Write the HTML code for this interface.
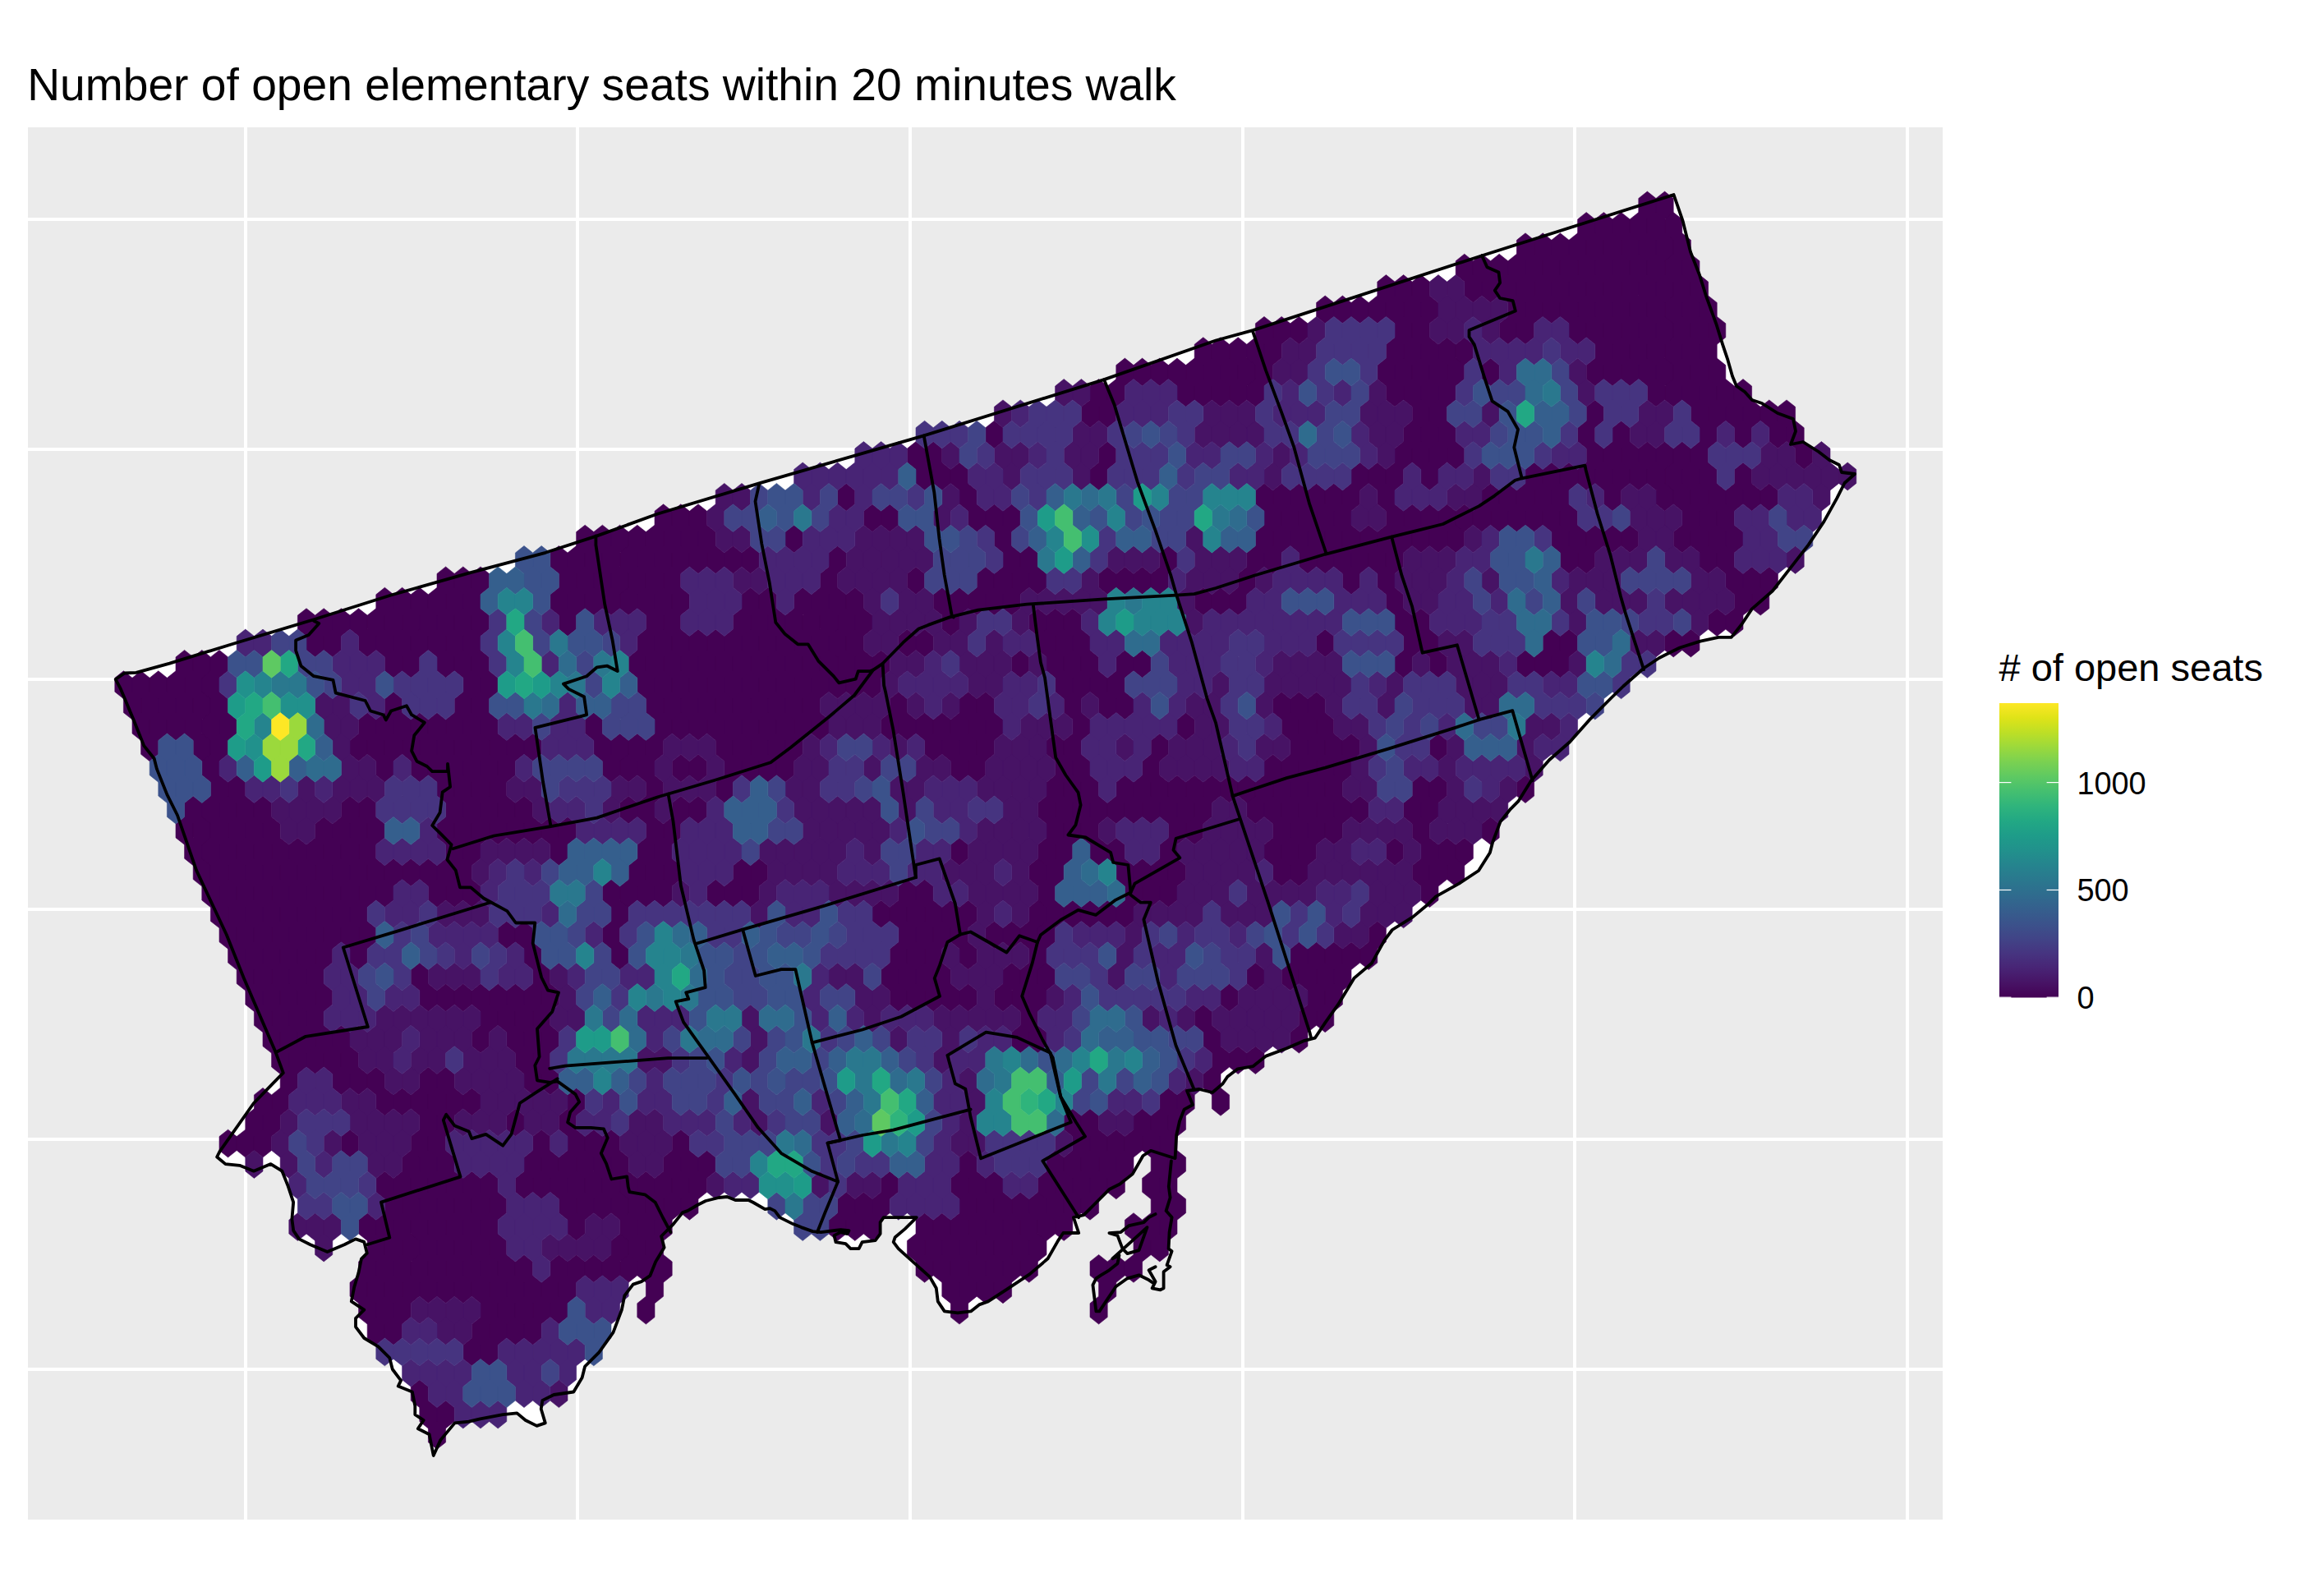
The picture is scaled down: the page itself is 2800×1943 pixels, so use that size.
<!DOCTYPE html>
<html><head><meta charset="utf-8"><title>Number of open elementary seats within 20 minutes walk</title>
<style>html,body{margin:0;padding:0;background:#fff;}svg{display:block;}text{font-family:"Liberation Sans",Arial,sans-serif;}</style>
</head><body>
<svg width="2800" height="1943" viewBox="0 0 2800 1943" xmlns="http://www.w3.org/2000/svg">
<defs><linearGradient id="vg" x1="0" y1="1" x2="0" y2="0"><stop offset="0.00" stop-color="#440154"/><stop offset="0.05" stop-color="#471365"/><stop offset="0.10" stop-color="#482475"/><stop offset="0.15" stop-color="#463480"/><stop offset="0.20" stop-color="#414487"/><stop offset="0.25" stop-color="#3b528b"/><stop offset="0.30" stop-color="#355f8d"/><stop offset="0.35" stop-color="#2f6c8e"/><stop offset="0.40" stop-color="#2a788e"/><stop offset="0.45" stop-color="#25848e"/><stop offset="0.50" stop-color="#21918c"/><stop offset="0.55" stop-color="#1e9c89"/><stop offset="0.60" stop-color="#22a884"/><stop offset="0.65" stop-color="#2fb47c"/><stop offset="0.70" stop-color="#44bf70"/><stop offset="0.75" stop-color="#5ec962"/><stop offset="0.80" stop-color="#7ad151"/><stop offset="0.85" stop-color="#9bd93c"/><stop offset="0.90" stop-color="#bddf26"/><stop offset="0.95" stop-color="#dfe318"/><stop offset="1.00" stop-color="#fde725"/></linearGradient>
<clipPath id="pc"><rect x="34" y="155" width="2331" height="1695"/></clipPath></defs>
<rect width="2800" height="1943" fill="#fff"/>
<text x="33.2" y="122" font-size="55.2" fill="#000">Number of open elementary seats within 20 minutes walk</text>
<rect x="34" y="155" width="2331" height="1695" fill="#ebebeb"/>
<rect x="297" y="155" width="4" height="1695" fill="#fff"/><rect x="701" y="155" width="4" height="1695" fill="#fff"/><rect x="1106" y="155" width="4" height="1695" fill="#fff"/><rect x="1511" y="155" width="4" height="1695" fill="#fff"/><rect x="1915" y="155" width="4" height="1695" fill="#fff"/><rect x="2320" y="155" width="4" height="1695" fill="#fff"/><rect x="34" y="265" width="2331" height="4" fill="#fff"/><rect x="34" y="545" width="2331" height="4" fill="#fff"/><rect x="34" y="825" width="2331" height="4" fill="#fff"/><rect x="34" y="1105" width="2331" height="4" fill="#fff"/><rect x="34" y="1385" width="2331" height="4" fill="#fff"/><rect x="34" y="1665" width="2331" height="4" fill="#fff"/>
<g clip-path="url(#pc)"><polygon fill="#fff" points="140.7,827.0 151.7,819.5 165.8,818.9 206.5,807.6 288.0,782.5 382.0,754.3 476.1,724.5 570.1,697.9 664.1,672.8 726.8,652.4 800.1,625.8 924.2,588.4 1124.7,530.4 1344.1,462.1 1480.1,414.5 1525.2,402.1 1804.1,311.2 2037.6,237.0 2048.6,268.9 2058.0,306.6 2069.0,334.8 2076.8,359.8 2089.3,394.3 2097.1,419.4 2103.4,438.2 2109.0,458.0 2114.0,470.0 2124.0,477.0 2133.0,487.0 2145.0,491.0 2164.0,503.0 2183.0,510.0 2186.0,525.0 2180.0,541.0 2195.0,538.0 2214.0,550.0 2227.0,560.0 2239.0,566.0 2242.0,575.0 2258.0,577.0 2245.6,588.0 2236.2,606.7 2220.5,634.9 2201.7,663.1 2179.7,691.3 2157.8,719.5 2132.7,741.4 2120.2,760.2 2107.7,775.9 2092.0,775.9 2070.0,780.6 2045.0,788.5 2019.9,801.0 2001.1,813.5 1976.1,835.5 1961.2,850.0 1936.2,875.1 1911.1,903.3 1886.0,925.2 1864.1,950.3 1848.4,975.4 1839.0,984.8 1826.5,1000.4 1817.1,1025.5 1813.9,1038.0 1800.0,1060.0 1776.3,1075.6 1748.1,1091.3 1738.7,1100.7 1719.9,1116.4 1694.9,1132.0 1685.5,1144.6 1669.8,1172.8 1648.4,1190.9 1629.0,1222.9 1613.4,1244.9 1600.8,1263.7 1588.3,1266.8 1566.4,1276.2 1541.3,1285.6 1525.6,1298.1 1506.8,1301.3 1494.3,1310.7 1488.6,1319.3 1476.0,1330.0 1460.0,1326.0 1445.0,1328.0 1452.0,1345.0 1441.6,1350.6 1436.0,1365.0 1432.2,1382.0 1430.6,1410.2 1400.9,1400.8 1391.5,1407.0 1379.0,1428.9 1363.3,1441.5 1350.8,1447.7 1332.0,1466.5 1319.4,1479.1 1306.9,1482.2 1313.2,1501.0 1294.4,1501.0 1288.1,1510.4 1275.6,1532.3 1253.6,1551.1 1225.4,1569.9 1203.0,1584.4 1192.0,1588.4 1181.9,1596.4 1165.9,1598.4 1149.8,1596.4 1141.8,1584.4 1139.8,1568.3 1131.8,1554.3 1113.7,1538.2 1093.7,1520.2 1087.7,1512.2 1089.7,1506.2 1101.7,1496.1 1115.8,1482.1 1085.7,1482.1 1075.7,1482.1 1071.6,1488.1 1071.6,1502.1 1065.6,1510.2 1049.6,1512.2 1045.6,1520.2 1035.5,1520.2 1029.5,1514.2 1017.5,1512.2 1015.5,1504.1 1023.5,1500.1 1031.5,1502.1 1033.5,1498.1 1023.5,1497.1 999.5,1500.1 989.4,1499.1 975.4,1494.1 965.4,1490.1 949.3,1482.1 943.3,1474.1 937.3,1471.1 931.3,1472.1 917.2,1464.0 911.2,1461.0 895.2,1461.0 885.2,1457.0 875.1,1458.0 859.1,1462.0 849.1,1467.0 837.0,1474.1 831.0,1476.1 818.9,1491.2 805.1,1505.0 808.6,1518.8 798.2,1536.0 791.3,1553.2 781.0,1560.1 770.7,1563.6 760.3,1577.4 756.9,1594.6 746.5,1622.2 729.3,1646.3 712.1,1663.5 708.6,1677.3 698.3,1694.5 674.2,1698.0 660.4,1704.9 658.7,1715.2 663.8,1732.4 653.5,1735.9 639.7,1729.0 629.4,1720.4 612.2,1722.1 584.6,1727.3 570.8,1730.7 553.6,1732.4 536.3,1753.1 527.7,1772.0 522.6,1746.2 508.8,1739.3 515.7,1729.0 505.3,1722.1 505.3,1711.7 501.9,1694.5 484.7,1687.6 488.1,1680.7 477.8,1667.0 474.3,1653.2 460.5,1639.4 443.3,1629.0 433.0,1615.3 433.0,1604.9 443.3,1594.6 427.8,1584.3 431.2,1567.0 436.4,1549.8 439.9,1532.6 446.8,1525.7 443.3,1511.9 433.0,1508.4 419.2,1515.3 398.5,1524.0 377.8,1515.3 364.1,1508.4 357.2,1498.1 355.4,1484.3 357.2,1463.6 350.3,1443.0 343.4,1425.7 329.6,1417.1 308.9,1425.7 291.7,1418.8 274.5,1417.1 264.1,1408.5 267.6,1401.6 308.9,1343.0 344.8,1306.1 335.7,1281.3 320.0,1244.8 296.5,1190.0 275.7,1137.8 239.1,1059.6 216.0,992.5 203.4,967.4 190.9,936.1 187.7,923.5 175.2,907.9 162.7,876.5 147.0,838.9"/><path fill="#440154" stroke="#440154" stroke-width="0.6" d="M2005.4 233.1 2016.0 241.5 2016.0 258.5 2005.4 266.9 1994.8 258.5 1994.8 241.5ZM2026.6 233.1 2037.2 241.5 2037.2 258.5 2026.6 266.9 2016.0 258.5 2016.0 241.5ZM1931.2 258.5 1941.8 266.9 1941.8 283.8 1931.2 292.3 1920.6 283.8 1920.6 266.9ZM1952.4 258.5 1963.0 266.9 1963.0 283.8 1952.4 292.3 1941.8 283.8 1941.8 266.9ZM1973.6 258.5 1984.2 266.9 1984.2 283.8 1973.6 292.3 1963.0 283.8 1963.0 266.9ZM1994.8 258.5 2005.4 266.9 2005.4 283.8 1994.8 292.3 1984.2 283.8 1984.2 266.9ZM2016.0 258.5 2026.6 266.9 2026.6 283.8 2016.0 292.3 2005.4 283.8 2005.4 266.9ZM2037.2 258.5 2047.8 266.9 2047.8 283.8 2037.2 292.3 2026.6 283.8 2026.6 266.9ZM1920.6 283.8 1931.2 292.3 1931.2 309.2 1920.6 317.7 1910.0 309.2 1910.0 292.3ZM1941.8 283.8 1952.4 292.3 1952.4 309.2 1941.8 317.7 1931.2 309.2 1931.2 292.3ZM1963.0 283.8 1973.6 292.3 1973.6 309.2 1963.0 317.7 1952.4 309.2 1952.4 292.3ZM1984.2 283.8 1994.8 292.3 1994.8 309.2 1984.2 317.7 1973.6 309.2 1973.6 292.3ZM2005.4 283.8 2016.0 292.3 2016.0 309.2 2005.4 317.7 1994.8 309.2 1994.8 292.3ZM2026.6 283.8 2037.2 292.3 2037.2 309.2 2026.6 317.7 2016.0 309.2 2016.0 292.3ZM2047.8 283.8 2058.4 292.3 2058.4 309.2 2047.8 317.7 2037.2 309.2 2037.2 292.3ZM1931.2 309.2 1941.8 317.7 1941.8 334.6 1931.2 343.1 1920.6 334.6 1920.6 317.7ZM1952.4 309.2 1963.0 317.7 1963.0 334.6 1952.4 343.1 1941.8 334.6 1941.8 317.7ZM1973.6 309.2 1984.2 317.7 1984.2 334.6 1973.6 343.1 1963.0 334.6 1963.0 317.7ZM1994.8 309.2 2005.4 317.7 2005.4 334.6 1994.8 343.1 1984.2 334.6 1984.2 317.7ZM2016.0 309.2 2026.6 317.7 2026.6 334.6 2016.0 343.1 2005.4 334.6 2005.4 317.7ZM2037.2 309.2 2047.8 317.7 2047.8 334.6 2037.2 343.1 2026.6 334.6 2026.6 317.7ZM2058.4 309.2 2069.0 317.7 2069.0 334.6 2058.4 343.1 2047.8 334.6 2047.8 317.7ZM1920.6 334.6 1931.2 343.1 1931.2 360.0 1920.6 368.4 1910.0 360.0 1910.0 343.1ZM1941.8 334.6 1952.4 343.1 1952.4 360.0 1941.8 368.4 1931.2 360.0 1931.2 343.1ZM1963.0 334.6 1973.6 343.1 1973.6 360.0 1963.0 368.4 1952.4 360.0 1952.4 343.1ZM1984.2 334.6 1994.8 343.1 1994.8 360.0 1984.2 368.4 1973.6 360.0 1973.6 343.1ZM2005.4 334.6 2016.0 343.1 2016.0 360.0 2005.4 368.4 1994.8 360.0 1994.8 343.1ZM2026.6 334.6 2037.2 343.1 2037.2 360.0 2026.6 368.4 2016.0 360.0 2016.0 343.1ZM2047.8 334.6 2058.4 343.1 2058.4 360.0 2047.8 368.4 2037.2 360.0 2037.2 343.1ZM2069.0 334.6 2079.6 343.1 2079.6 360.0 2069.0 368.4 2058.4 360.0 2058.4 343.1ZM1931.2 360.0 1941.8 368.4 1941.8 385.4 1931.2 393.8 1920.6 385.4 1920.6 368.4ZM1952.4 360.0 1963.0 368.4 1963.0 385.4 1952.4 393.8 1941.8 385.4 1941.8 368.4ZM1973.6 360.0 1984.2 368.4 1984.2 385.4 1973.6 393.8 1963.0 385.4 1963.0 368.4ZM1994.8 360.0 2005.4 368.4 2005.4 385.4 1994.8 393.8 1984.2 385.4 1984.2 368.4ZM2016.0 360.0 2026.6 368.4 2026.6 385.4 2016.0 393.8 2005.4 385.4 2005.4 368.4ZM2037.2 360.0 2047.8 368.4 2047.8 385.4 2037.2 393.8 2026.6 385.4 2026.6 368.4ZM2058.4 360.0 2069.0 368.4 2069.0 385.4 2058.4 393.8 2047.8 385.4 2047.8 368.4ZM2079.6 360.0 2090.2 368.4 2090.2 385.4 2079.6 393.8 2069.0 385.4 2069.0 368.4ZM1920.6 385.4 1931.2 393.8 1931.2 410.7 1920.6 419.2 1910.0 410.7 1910.0 393.8ZM1941.8 385.4 1952.4 393.8 1952.4 410.7 1941.8 419.2 1931.2 410.7 1931.2 393.8ZM1963.0 385.4 1973.6 393.8 1973.6 410.7 1963.0 419.2 1952.4 410.7 1952.4 393.8ZM1984.2 385.4 1994.8 393.8 1994.8 410.7 1984.2 419.2 1973.6 410.7 1973.6 393.8ZM2005.4 385.4 2016.0 393.8 2016.0 410.7 2005.4 419.2 1994.8 410.7 1994.8 393.8ZM2026.6 385.4 2037.2 393.8 2037.2 410.7 2026.6 419.2 2016.0 410.7 2016.0 393.8ZM2047.8 385.4 2058.4 393.8 2058.4 410.7 2047.8 419.2 2037.2 410.7 2037.2 393.8ZM2069.0 385.4 2079.6 393.8 2079.6 410.7 2069.0 419.2 2058.4 410.7 2058.4 393.8ZM2090.2 385.4 2100.8 393.8 2100.8 410.7 2090.2 419.2 2079.6 410.7 2079.6 393.8ZM1952.4 410.7 1963.0 419.2 1963.0 436.1 1952.4 444.6 1941.8 436.1 1941.8 419.2ZM1973.6 410.7 1984.2 419.2 1984.2 436.1 1973.6 444.6 1963.0 436.1 1963.0 419.2ZM1994.8 410.7 2005.4 419.2 2005.4 436.1 1994.8 444.6 1984.2 436.1 1984.2 419.2ZM2016.0 410.7 2026.6 419.2 2026.6 436.1 2016.0 444.6 2005.4 436.1 2005.4 419.2ZM2037.2 410.7 2047.8 419.2 2047.8 436.1 2037.2 444.6 2026.6 436.1 2026.6 419.2ZM2058.4 410.7 2069.0 419.2 2069.0 436.1 2058.4 444.6 2047.8 436.1 2047.8 419.2ZM2079.6 410.7 2090.2 419.2 2090.2 436.1 2079.6 444.6 2069.0 436.1 2069.0 419.2ZM1941.8 436.1 1952.4 444.6 1952.4 461.5 1941.8 470.0 1931.2 461.5 1931.2 444.6ZM1963.0 436.1 1973.6 444.6 1973.6 461.5 1963.0 470.0 1952.4 461.5 1952.4 444.6ZM1984.2 436.1 1994.8 444.6 1994.8 461.5 1984.2 470.0 1973.6 461.5 1973.6 444.6ZM2005.4 436.1 2016.0 444.6 2016.0 461.5 2005.4 470.0 1994.8 461.5 1994.8 444.6ZM2026.6 436.1 2037.2 444.6 2037.2 461.5 2026.6 470.0 2016.0 461.5 2016.0 444.6ZM2047.8 436.1 2058.4 444.6 2058.4 461.5 2047.8 470.0 2037.2 461.5 2037.2 444.6ZM2069.0 436.1 2079.6 444.6 2079.6 461.5 2069.0 470.0 2058.4 461.5 2058.4 444.6ZM2090.2 436.1 2100.8 444.6 2100.8 461.5 2090.2 470.0 2079.6 461.5 2079.6 444.6ZM2016.0 461.5 2026.6 470.0 2026.6 486.9 2016.0 495.3 2005.4 486.9 2005.4 470.0ZM2037.2 461.5 2047.8 470.0 2047.8 486.9 2037.2 495.3 2026.6 486.9 2026.6 470.0ZM2058.4 461.5 2069.0 470.0 2069.0 486.9 2058.4 495.3 2047.8 486.9 2047.8 470.0ZM2079.6 461.5 2090.2 470.0 2090.2 486.9 2079.6 495.3 2069.0 486.9 2069.0 470.0ZM2100.8 461.5 2111.4 470.0 2111.4 486.9 2100.8 495.3 2090.2 486.9 2090.2 470.0ZM2122.0 461.5 2132.6 470.0 2132.6 486.9 2122.0 495.3 2111.4 486.9 2111.4 470.0ZM1941.8 486.9 1952.4 495.3 1952.4 512.3 1941.8 520.7 1931.2 512.3 1931.2 495.3ZM2069.0 486.9 2079.6 495.3 2079.6 512.3 2069.0 520.7 2058.4 512.3 2058.4 495.3ZM2090.2 486.9 2100.8 495.3 2100.8 512.3 2090.2 520.7 2079.6 512.3 2079.6 495.3ZM2111.4 486.9 2122.0 495.3 2122.0 512.3 2111.4 520.7 2100.8 512.3 2100.8 495.3ZM2132.6 486.9 2143.2 495.3 2143.2 512.3 2132.6 520.7 2122.0 512.3 2122.0 495.3ZM2153.8 486.9 2164.4 495.3 2164.4 512.3 2153.8 520.7 2143.2 512.3 2143.2 495.3ZM2175.0 486.9 2185.6 495.3 2185.6 512.3 2175.0 520.7 2164.4 512.3 2164.4 495.3ZM1931.2 512.3 1941.8 520.7 1941.8 537.6 1931.2 546.1 1920.6 537.6 1920.6 520.7ZM1973.6 512.3 1984.2 520.7 1984.2 537.6 1973.6 546.1 1963.0 537.6 1963.0 520.7ZM2079.6 512.3 2090.2 520.7 2090.2 537.6 2079.6 546.1 2069.0 537.6 2069.0 520.7ZM2122.0 512.3 2132.6 520.7 2132.6 537.6 2122.0 546.1 2111.4 537.6 2111.4 520.7ZM2164.4 512.3 2175.0 520.7 2175.0 537.6 2164.4 546.1 2153.8 537.6 2153.8 520.7ZM2185.6 512.3 2196.2 520.7 2196.2 537.6 2185.6 546.1 2175.0 537.6 2175.0 520.7ZM1857.0 283.8 1867.6 292.3 1867.6 309.2 1857.0 317.7 1846.4 309.2 1846.4 292.3ZM1878.2 283.8 1888.8 292.3 1888.8 309.2 1878.2 317.7 1867.6 309.2 1867.6 292.3ZM1899.4 283.8 1910.0 292.3 1910.0 309.2 1899.4 317.7 1888.8 309.2 1888.8 292.3ZM1782.8 309.2 1793.4 317.7 1793.4 334.6 1782.8 343.1 1772.2 334.6 1772.2 317.7ZM1804.0 309.2 1814.6 317.7 1814.6 334.6 1804.0 343.1 1793.4 334.6 1793.4 317.7ZM1825.2 309.2 1835.8 317.7 1835.8 334.6 1825.2 343.1 1814.6 334.6 1814.6 317.7ZM1846.4 309.2 1857.0 317.7 1857.0 334.6 1846.4 343.1 1835.8 334.6 1835.8 317.7ZM1867.6 309.2 1878.2 317.7 1878.2 334.6 1867.6 343.1 1857.0 334.6 1857.0 317.7ZM1888.8 309.2 1899.4 317.7 1899.4 334.6 1888.8 343.1 1878.2 334.6 1878.2 317.7ZM1910.0 309.2 1920.6 317.7 1920.6 334.6 1910.0 343.1 1899.4 334.6 1899.4 317.7ZM1687.4 334.6 1698.0 343.1 1698.0 360.0 1687.4 368.4 1676.8 360.0 1676.8 343.1ZM1708.6 334.6 1719.2 343.1 1719.2 360.0 1708.6 368.4 1698.0 360.0 1698.0 343.1ZM1729.8 334.6 1740.4 343.1 1740.4 360.0 1729.8 368.4 1719.2 360.0 1719.2 343.1ZM1793.4 334.6 1804.0 343.1 1804.0 360.0 1793.4 368.4 1782.8 360.0 1782.8 343.1ZM1814.6 334.6 1825.2 343.1 1825.2 360.0 1814.6 368.4 1804.0 360.0 1804.0 343.1ZM1835.8 334.6 1846.4 343.1 1846.4 360.0 1835.8 368.4 1825.2 360.0 1825.2 343.1ZM1857.0 334.6 1867.6 343.1 1867.6 360.0 1857.0 368.4 1846.4 360.0 1846.4 343.1ZM1878.2 334.6 1888.8 343.1 1888.8 360.0 1878.2 368.4 1867.6 360.0 1867.6 343.1ZM1899.4 334.6 1910.0 343.1 1910.0 360.0 1899.4 368.4 1888.8 360.0 1888.8 343.1ZM1613.2 360.0 1623.8 368.4 1623.8 385.4 1613.2 393.8 1602.6 385.4 1602.6 368.4ZM1634.4 360.0 1645.0 368.4 1645.0 385.4 1634.4 393.8 1623.8 385.4 1623.8 368.4ZM1655.6 360.0 1666.2 368.4 1666.2 385.4 1655.6 393.8 1645.0 385.4 1645.0 368.4ZM1676.8 360.0 1687.4 368.4 1687.4 385.4 1676.8 393.8 1666.2 385.4 1666.2 368.4ZM1698.0 360.0 1708.6 368.4 1708.6 385.4 1698.0 393.8 1687.4 385.4 1687.4 368.4ZM1719.2 360.0 1729.8 368.4 1729.8 385.4 1719.2 393.8 1708.6 385.4 1708.6 368.4ZM1740.4 360.0 1751.0 368.4 1751.0 385.4 1740.4 393.8 1729.8 385.4 1729.8 368.4ZM1846.4 360.0 1857.0 368.4 1857.0 385.4 1846.4 393.8 1835.8 385.4 1835.8 368.4ZM1867.6 360.0 1878.2 368.4 1878.2 385.4 1867.6 393.8 1857.0 385.4 1857.0 368.4ZM1888.8 360.0 1899.4 368.4 1899.4 385.4 1888.8 393.8 1878.2 385.4 1878.2 368.4ZM1910.0 360.0 1920.6 368.4 1920.6 385.4 1910.0 393.8 1899.4 385.4 1899.4 368.4ZM1560.2 385.4 1570.8 393.8 1570.8 410.7 1560.2 419.2 1549.6 410.7 1549.6 393.8ZM1581.4 385.4 1592.0 393.8 1592.0 410.7 1581.4 419.2 1570.8 410.7 1570.8 393.8ZM1708.6 385.4 1719.2 393.8 1719.2 410.7 1708.6 419.2 1698.0 410.7 1698.0 393.8ZM1729.8 385.4 1740.4 393.8 1740.4 410.7 1729.8 419.2 1719.2 410.7 1719.2 393.8ZM1835.8 385.4 1846.4 393.8 1846.4 410.7 1835.8 419.2 1825.2 410.7 1825.2 393.8ZM1857.0 385.4 1867.6 393.8 1867.6 410.7 1857.0 419.2 1846.4 410.7 1846.4 393.8ZM1549.6 410.7 1560.2 419.2 1560.2 436.1 1549.6 444.6 1539.0 436.1 1539.0 419.2ZM1698.0 410.7 1708.6 419.2 1708.6 436.1 1698.0 444.6 1687.4 436.1 1687.4 419.2ZM1719.2 410.7 1729.8 419.2 1729.8 436.1 1719.2 444.6 1708.6 436.1 1708.6 419.2ZM1740.4 410.7 1751.0 419.2 1751.0 436.1 1740.4 444.6 1729.8 436.1 1729.8 419.2ZM1761.6 410.7 1772.2 419.2 1772.2 436.1 1761.6 444.6 1751.0 436.1 1751.0 419.2ZM1782.8 410.7 1793.4 419.2 1793.4 436.1 1782.8 444.6 1772.2 436.1 1772.2 419.2ZM1687.4 436.1 1698.0 444.6 1698.0 461.5 1687.4 470.0 1676.8 461.5 1676.8 444.6ZM1708.6 436.1 1719.2 444.6 1719.2 461.5 1708.6 470.0 1698.0 461.5 1698.0 444.6ZM1729.8 436.1 1740.4 444.6 1740.4 461.5 1729.8 470.0 1719.2 461.5 1719.2 444.6ZM1751.0 436.1 1761.6 444.6 1761.6 461.5 1751.0 470.0 1740.4 461.5 1740.4 444.6ZM1772.2 436.1 1782.8 444.6 1782.8 461.5 1772.2 470.0 1761.6 461.5 1761.6 444.6ZM1814.6 436.1 1825.2 444.6 1825.2 461.5 1814.6 470.0 1804.0 461.5 1804.0 444.6ZM1698.0 461.5 1708.6 470.0 1708.6 486.9 1698.0 495.3 1687.4 486.9 1687.4 470.0ZM1719.2 461.5 1729.8 470.0 1729.8 486.9 1719.2 495.3 1708.6 486.9 1708.6 470.0ZM1740.4 461.5 1751.0 470.0 1751.0 486.9 1740.4 495.3 1729.8 486.9 1729.8 470.0ZM1761.6 461.5 1772.2 470.0 1772.2 486.9 1761.6 495.3 1751.0 486.9 1751.0 470.0ZM1729.8 486.9 1740.4 495.3 1740.4 512.3 1729.8 520.7 1719.2 512.3 1719.2 495.3ZM1751.0 486.9 1761.6 495.3 1761.6 512.3 1751.0 520.7 1740.4 512.3 1740.4 495.3ZM1719.2 512.3 1729.8 520.7 1729.8 537.6 1719.2 546.1 1708.6 537.6 1708.6 520.7ZM1740.4 512.3 1751.0 520.7 1751.0 537.6 1740.4 546.1 1729.8 537.6 1729.8 520.7ZM1761.6 512.3 1772.2 520.7 1772.2 537.6 1761.6 546.1 1751.0 537.6 1751.0 520.7ZM1539.0 385.4 1549.6 393.8 1549.6 410.7 1539.0 419.2 1528.4 410.7 1528.4 393.8ZM1464.8 410.7 1475.4 419.2 1475.4 436.1 1464.8 444.6 1454.2 436.1 1454.2 419.2ZM1486.0 410.7 1496.6 419.2 1496.6 436.1 1486.0 444.6 1475.4 436.1 1475.4 419.2ZM1507.2 410.7 1517.8 419.2 1517.8 436.1 1507.2 444.6 1496.6 436.1 1496.6 419.2ZM1528.4 410.7 1539.0 419.2 1539.0 436.1 1528.4 444.6 1517.8 436.1 1517.8 419.2ZM1369.4 436.1 1380.0 444.6 1380.0 461.5 1369.4 470.0 1358.8 461.5 1358.8 444.6ZM1390.6 436.1 1401.2 444.6 1401.2 461.5 1390.6 470.0 1380.0 461.5 1380.0 444.6ZM1411.8 436.1 1422.4 444.6 1422.4 461.5 1411.8 470.0 1401.2 461.5 1401.2 444.6ZM1433.0 436.1 1443.6 444.6 1443.6 461.5 1433.0 470.0 1422.4 461.5 1422.4 444.6ZM1454.2 436.1 1464.8 444.6 1464.8 461.5 1454.2 470.0 1443.6 461.5 1443.6 444.6ZM1475.4 436.1 1486.0 444.6 1486.0 461.5 1475.4 470.0 1464.8 461.5 1464.8 444.6ZM1496.6 436.1 1507.2 444.6 1507.2 461.5 1496.6 470.0 1486.0 461.5 1486.0 444.6ZM1517.8 436.1 1528.4 444.6 1528.4 461.5 1517.8 470.0 1507.2 461.5 1507.2 444.6ZM1539.0 436.1 1549.6 444.6 1549.6 461.5 1539.0 470.0 1528.4 461.5 1528.4 444.6ZM1337.6 461.5 1348.2 470.0 1348.2 486.9 1337.6 495.3 1327.0 486.9 1327.0 470.0ZM1358.8 461.5 1369.4 470.0 1369.4 486.9 1358.8 495.3 1348.2 486.9 1348.2 470.0ZM1443.6 461.5 1454.2 470.0 1454.2 486.9 1443.6 495.3 1433.0 486.9 1433.0 470.0ZM1464.8 461.5 1475.4 470.0 1475.4 486.9 1464.8 495.3 1454.2 486.9 1454.2 470.0ZM1486.0 461.5 1496.6 470.0 1496.6 486.9 1486.0 495.3 1475.4 486.9 1475.4 470.0ZM1507.2 461.5 1517.8 470.0 1517.8 486.9 1507.2 495.3 1496.6 486.9 1496.6 470.0ZM1528.4 461.5 1539.0 470.0 1539.0 486.9 1528.4 495.3 1517.8 486.9 1517.8 470.0ZM1327.0 486.9 1337.6 495.3 1337.6 512.3 1327.0 520.7 1316.4 512.3 1316.4 495.3ZM1348.2 486.9 1358.8 495.3 1358.8 512.3 1348.2 520.7 1337.6 512.3 1337.6 495.3ZM1210.4 512.3 1221.0 520.7 1221.0 537.6 1210.4 546.1 1199.8 537.6 1199.8 520.7ZM1941.8 537.6 1952.4 546.1 1952.4 563.0 1941.8 571.5 1931.2 563.0 1931.2 546.1ZM1963.0 537.6 1973.6 546.1 1973.6 563.0 1963.0 571.5 1952.4 563.0 1952.4 546.1ZM1984.2 537.6 1994.8 546.1 1994.8 563.0 1984.2 571.5 1973.6 563.0 1973.6 546.1ZM2005.4 537.6 2016.0 546.1 2016.0 563.0 2005.4 571.5 1994.8 563.0 1994.8 546.1ZM2026.6 537.6 2037.2 546.1 2037.2 563.0 2026.6 571.5 2016.0 563.0 2016.0 546.1ZM2047.8 537.6 2058.4 546.1 2058.4 563.0 2047.8 571.5 2037.2 563.0 2037.2 546.1ZM2069.0 537.6 2079.6 546.1 2079.6 563.0 2069.0 571.5 2058.4 563.0 2058.4 546.1ZM2196.2 537.6 2206.8 546.1 2206.8 563.0 2196.2 571.5 2185.6 563.0 2185.6 546.1ZM1910.0 563.0 1920.6 571.5 1920.6 588.4 1910.0 596.9 1899.4 588.4 1899.4 571.5ZM1931.2 563.0 1941.8 571.5 1941.8 588.4 1931.2 596.9 1920.6 588.4 1920.6 571.5ZM1952.4 563.0 1963.0 571.5 1963.0 588.4 1952.4 596.9 1941.8 588.4 1941.8 571.5ZM1973.6 563.0 1984.2 571.5 1984.2 588.4 1973.6 596.9 1963.0 588.4 1963.0 571.5ZM1994.8 563.0 2005.4 571.5 2005.4 588.4 1994.8 596.9 1984.2 588.4 1984.2 571.5ZM2016.0 563.0 2026.6 571.5 2026.6 588.4 2016.0 596.9 2005.4 588.4 2005.4 571.5ZM2037.2 563.0 2047.8 571.5 2047.8 588.4 2037.2 596.9 2026.6 588.4 2026.6 571.5ZM2058.4 563.0 2069.0 571.5 2069.0 588.4 2058.4 596.9 2047.8 588.4 2047.8 571.5ZM2079.6 563.0 2090.2 571.5 2090.2 588.4 2079.6 596.9 2069.0 588.4 2069.0 571.5ZM2122.0 563.0 2132.6 571.5 2132.6 588.4 2122.0 596.9 2111.4 588.4 2111.4 571.5ZM1963.0 588.4 1973.6 596.9 1973.6 613.8 1963.0 622.2 1952.4 613.8 1952.4 596.9ZM2026.6 588.4 2037.2 596.9 2037.2 613.8 2026.6 622.2 2016.0 613.8 2016.0 596.9ZM2047.8 588.4 2058.4 596.9 2058.4 613.8 2047.8 622.2 2037.2 613.8 2037.2 596.9ZM2069.0 588.4 2079.6 596.9 2079.6 613.8 2069.0 622.2 2058.4 613.8 2058.4 596.9ZM2090.2 588.4 2100.8 596.9 2100.8 613.8 2090.2 622.2 2079.6 613.8 2079.6 596.9ZM2111.4 588.4 2122.0 596.9 2122.0 613.8 2111.4 622.2 2100.8 613.8 2100.8 596.9ZM2132.6 588.4 2143.2 596.9 2143.2 613.8 2132.6 622.2 2122.0 613.8 2122.0 596.9ZM2153.8 588.4 2164.4 596.9 2164.4 613.8 2153.8 622.2 2143.2 613.8 2143.2 596.9ZM1910.0 613.8 1920.6 622.2 1920.6 639.2 1910.0 647.6 1899.4 639.2 1899.4 622.2ZM2058.4 613.8 2069.0 622.2 2069.0 639.2 2058.4 647.6 2047.8 639.2 2047.8 622.2ZM2079.6 613.8 2090.2 622.2 2090.2 639.2 2079.6 647.6 2069.0 639.2 2069.0 622.2ZM2100.8 613.8 2111.4 622.2 2111.4 639.2 2100.8 647.6 2090.2 639.2 2090.2 622.2ZM1920.6 639.2 1931.2 647.6 1931.2 664.5 1920.6 673.0 1910.0 664.5 1910.0 647.6ZM1941.8 639.2 1952.4 647.6 1952.4 664.5 1941.8 673.0 1931.2 664.5 1931.2 647.6ZM1963.0 639.2 1973.6 647.6 1973.6 664.5 1963.0 673.0 1952.4 664.5 1952.4 647.6ZM1984.2 639.2 1994.8 647.6 1994.8 664.5 1984.2 673.0 1973.6 664.5 1973.6 647.6ZM2047.8 639.2 2058.4 647.6 2058.4 664.5 2047.8 673.0 2037.2 664.5 2037.2 647.6ZM2069.0 639.2 2079.6 647.6 2079.6 664.5 2069.0 673.0 2058.4 664.5 2058.4 647.6ZM2090.2 639.2 2100.8 647.6 2100.8 664.5 2090.2 673.0 2079.6 664.5 2079.6 647.6ZM2111.4 639.2 2122.0 647.6 2122.0 664.5 2111.4 673.0 2100.8 664.5 2100.8 647.6ZM1910.0 664.5 1920.6 673.0 1920.6 689.9 1910.0 698.4 1899.4 689.9 1899.4 673.0ZM1931.2 664.5 1941.8 673.0 1941.8 689.9 1931.2 698.4 1920.6 689.9 1920.6 673.0ZM2079.6 664.5 2090.2 673.0 2090.2 689.9 2079.6 698.4 2069.0 689.9 2069.0 673.0ZM2100.8 664.5 2111.4 673.0 2111.4 689.9 2100.8 698.4 2090.2 689.9 2090.2 673.0ZM2111.4 689.9 2122.0 698.4 2122.0 715.3 2111.4 723.8 2100.8 715.3 2100.8 698.4ZM2132.6 689.9 2143.2 698.4 2143.2 715.3 2132.6 723.8 2122.0 715.3 2122.0 698.4ZM2153.8 689.9 2164.4 698.4 2164.4 715.3 2153.8 723.8 2143.2 715.3 2143.2 698.4ZM2122.0 715.3 2132.6 723.8 2132.6 740.7 2122.0 749.1 2111.4 740.7 2111.4 723.8ZM2143.2 715.3 2153.8 723.8 2153.8 740.7 2143.2 749.1 2132.6 740.7 2132.6 723.8ZM2090.2 740.7 2100.8 749.1 2100.8 766.1 2090.2 774.5 2079.6 766.1 2079.6 749.1ZM2111.4 740.7 2122.0 749.1 2122.0 766.1 2111.4 774.5 2100.8 766.1 2100.8 749.1ZM1910.0 766.1 1920.6 774.5 1920.6 791.4 1910.0 799.9 1899.4 791.4 1899.4 774.5ZM2037.2 766.1 2047.8 774.5 2047.8 791.4 2037.2 799.9 2026.6 791.4 2026.6 774.5ZM2058.4 766.1 2069.0 774.5 2069.0 791.4 2058.4 799.9 2047.8 791.4 2047.8 774.5ZM1708.6 537.6 1719.2 546.1 1719.2 563.0 1708.6 571.5 1698.0 563.0 1698.0 546.1ZM1729.8 537.6 1740.4 546.1 1740.4 563.0 1729.8 571.5 1719.2 563.0 1719.2 546.1ZM1751.0 537.6 1761.6 546.1 1761.6 563.0 1751.0 571.5 1740.4 563.0 1740.4 546.1ZM1772.2 537.6 1782.8 546.1 1782.8 563.0 1772.2 571.5 1761.6 563.0 1761.6 546.1ZM1655.6 563.0 1666.2 571.5 1666.2 588.4 1655.6 596.9 1645.0 588.4 1645.0 571.5ZM1676.8 563.0 1687.4 571.5 1687.4 588.4 1676.8 596.9 1666.2 588.4 1666.2 571.5ZM1698.0 563.0 1708.6 571.5 1708.6 588.4 1698.0 596.9 1687.4 588.4 1687.4 571.5ZM1740.4 563.0 1751.0 571.5 1751.0 588.4 1740.4 596.9 1729.8 588.4 1729.8 571.5ZM1867.6 563.0 1878.2 571.5 1878.2 588.4 1867.6 596.9 1857.0 588.4 1857.0 571.5ZM1888.8 563.0 1899.4 571.5 1899.4 588.4 1888.8 596.9 1878.2 588.4 1878.2 571.5ZM1560.2 588.4 1570.8 596.9 1570.8 613.8 1560.2 622.2 1549.6 613.8 1549.6 596.9ZM1581.4 588.4 1592.0 596.9 1592.0 613.8 1581.4 622.2 1570.8 613.8 1570.8 596.9ZM1602.6 588.4 1613.2 596.9 1613.2 613.8 1602.6 622.2 1592.0 613.8 1592.0 596.9ZM1623.8 588.4 1634.4 596.9 1634.4 613.8 1623.8 622.2 1613.2 613.8 1613.2 596.9ZM1645.0 588.4 1655.6 596.9 1655.6 613.8 1645.0 622.2 1634.4 613.8 1634.4 596.9ZM1687.4 588.4 1698.0 596.9 1698.0 613.8 1687.4 622.2 1676.8 613.8 1676.8 596.9ZM1814.6 588.4 1825.2 596.9 1825.2 613.8 1814.6 622.2 1804.0 613.8 1804.0 596.9ZM1835.8 588.4 1846.4 596.9 1846.4 613.8 1835.8 622.2 1825.2 613.8 1825.2 596.9ZM1857.0 588.4 1867.6 596.9 1867.6 613.8 1857.0 622.2 1846.4 613.8 1846.4 596.9ZM1878.2 588.4 1888.8 596.9 1888.8 613.8 1878.2 622.2 1867.6 613.8 1867.6 596.9ZM1899.4 588.4 1910.0 596.9 1910.0 613.8 1899.4 622.2 1888.8 613.8 1888.8 596.9ZM1549.6 613.8 1560.2 622.2 1560.2 639.2 1549.6 647.6 1539.0 639.2 1539.0 622.2ZM1570.8 613.8 1581.4 622.2 1581.4 639.2 1570.8 647.6 1560.2 639.2 1560.2 622.2ZM1592.0 613.8 1602.6 622.2 1602.6 639.2 1592.0 647.6 1581.4 639.2 1581.4 622.2ZM1613.2 613.8 1623.8 622.2 1623.8 639.2 1613.2 647.6 1602.6 639.2 1602.6 622.2ZM1634.4 613.8 1645.0 622.2 1645.0 639.2 1634.4 647.6 1623.8 639.2 1623.8 622.2ZM1698.0 613.8 1708.6 622.2 1708.6 639.2 1698.0 647.6 1687.4 639.2 1687.4 622.2ZM1719.2 613.8 1729.8 622.2 1729.8 639.2 1719.2 647.6 1708.6 639.2 1708.6 622.2ZM1740.4 613.8 1751.0 622.2 1751.0 639.2 1740.4 647.6 1729.8 639.2 1729.8 622.2ZM1761.6 613.8 1772.2 622.2 1772.2 639.2 1761.6 647.6 1751.0 639.2 1751.0 622.2ZM1782.8 613.8 1793.4 622.2 1793.4 639.2 1782.8 647.6 1772.2 639.2 1772.2 622.2ZM1804.0 613.8 1814.6 622.2 1814.6 639.2 1804.0 647.6 1793.4 639.2 1793.4 622.2ZM1825.2 613.8 1835.8 622.2 1835.8 639.2 1825.2 647.6 1814.6 639.2 1814.6 622.2ZM1846.4 613.8 1857.0 622.2 1857.0 639.2 1846.4 647.6 1835.8 639.2 1835.8 622.2ZM1867.6 613.8 1878.2 622.2 1878.2 639.2 1867.6 647.6 1857.0 639.2 1857.0 622.2ZM1888.8 613.8 1899.4 622.2 1899.4 639.2 1888.8 647.6 1878.2 639.2 1878.2 622.2ZM1560.2 639.2 1570.8 647.6 1570.8 664.5 1560.2 673.0 1549.6 664.5 1549.6 647.6ZM1581.4 639.2 1592.0 647.6 1592.0 664.5 1581.4 673.0 1570.8 664.5 1570.8 647.6ZM1602.6 639.2 1613.2 647.6 1613.2 664.5 1602.6 673.0 1592.0 664.5 1592.0 647.6ZM1623.8 639.2 1634.4 647.6 1634.4 664.5 1623.8 673.0 1613.2 664.5 1613.2 647.6ZM1645.0 639.2 1655.6 647.6 1655.6 664.5 1645.0 673.0 1634.4 664.5 1634.4 647.6ZM1666.2 639.2 1676.8 647.6 1676.8 664.5 1666.2 673.0 1655.6 664.5 1655.6 647.6ZM1687.4 639.2 1698.0 647.6 1698.0 664.5 1687.4 673.0 1676.8 664.5 1676.8 647.6ZM1708.6 639.2 1719.2 647.6 1719.2 664.5 1708.6 673.0 1698.0 664.5 1698.0 647.6ZM1729.8 639.2 1740.4 647.6 1740.4 664.5 1729.8 673.0 1719.2 664.5 1719.2 647.6ZM1751.0 639.2 1761.6 647.6 1761.6 664.5 1751.0 673.0 1740.4 664.5 1740.4 647.6ZM1772.2 639.2 1782.8 647.6 1782.8 664.5 1772.2 673.0 1761.6 664.5 1761.6 647.6ZM1899.4 639.2 1910.0 647.6 1910.0 664.5 1899.4 673.0 1888.8 664.5 1888.8 647.6ZM1549.6 664.5 1560.2 673.0 1560.2 689.9 1549.6 698.4 1539.0 689.9 1539.0 673.0ZM1592.0 664.5 1602.6 673.0 1602.6 689.9 1592.0 698.4 1581.4 689.9 1581.4 673.0ZM1613.2 664.5 1623.8 673.0 1623.8 689.9 1613.2 698.4 1602.6 689.9 1602.6 673.0ZM1634.4 664.5 1645.0 673.0 1645.0 689.9 1634.4 698.4 1623.8 689.9 1623.8 673.0ZM1655.6 664.5 1666.2 673.0 1666.2 689.9 1655.6 698.4 1645.0 689.9 1645.0 673.0ZM1676.8 664.5 1687.4 673.0 1687.4 689.9 1676.8 698.4 1666.2 689.9 1666.2 673.0ZM1698.0 664.5 1708.6 673.0 1708.6 689.9 1698.0 698.4 1687.4 689.9 1687.4 673.0ZM1645.0 689.9 1655.6 698.4 1655.6 715.3 1645.0 723.8 1634.4 715.3 1634.4 698.4ZM1687.4 689.9 1698.0 698.4 1698.0 715.3 1687.4 723.8 1676.8 715.3 1676.8 698.4ZM1698.0 715.3 1708.6 723.8 1708.6 740.7 1698.0 749.1 1687.4 740.7 1687.4 723.8ZM1708.6 740.7 1719.2 749.1 1719.2 766.1 1708.6 774.5 1698.0 766.1 1698.0 749.1ZM1729.8 740.7 1740.4 749.1 1740.4 766.1 1729.8 774.5 1719.2 766.1 1719.2 749.1ZM1613.2 766.1 1623.8 774.5 1623.8 791.4 1613.2 799.9 1602.6 791.4 1602.6 774.5ZM1719.2 766.1 1729.8 774.5 1729.8 791.4 1719.2 799.9 1708.6 791.4 1708.6 774.5ZM1740.4 766.1 1751.0 774.5 1751.0 791.4 1740.4 799.9 1729.8 791.4 1729.8 774.5ZM1888.8 766.1 1899.4 774.5 1899.4 791.4 1888.8 799.9 1878.2 791.4 1878.2 774.5ZM1708.6 791.4 1719.2 799.9 1719.2 816.8 1708.6 825.3 1698.0 816.8 1698.0 799.9ZM1751.0 791.4 1761.6 799.9 1761.6 816.8 1751.0 825.3 1740.4 816.8 1740.4 799.9ZM1857.0 791.4 1867.6 799.9 1867.6 816.8 1857.0 825.3 1846.4 816.8 1846.4 799.9ZM1878.2 791.4 1888.8 799.9 1888.8 816.8 1878.2 825.3 1867.6 816.8 1867.6 799.9ZM1899.4 791.4 1910.0 799.9 1910.0 816.8 1899.4 825.3 1888.8 816.8 1888.8 799.9ZM1348.2 537.6 1358.8 546.1 1358.8 563.0 1348.2 571.5 1337.6 563.0 1337.6 546.1ZM1337.6 563.0 1348.2 571.5 1348.2 588.4 1337.6 596.9 1327.0 588.4 1327.0 571.5ZM1539.0 588.4 1549.6 596.9 1549.6 613.8 1539.0 622.2 1528.4 613.8 1528.4 596.9ZM1189.2 613.8 1199.8 622.2 1199.8 639.2 1189.2 647.6 1178.6 639.2 1178.6 622.2ZM1210.4 613.8 1221.0 622.2 1221.0 639.2 1210.4 647.6 1199.8 639.2 1199.8 622.2ZM1231.6 613.8 1242.2 622.2 1242.2 639.2 1231.6 647.6 1221.0 639.2 1221.0 622.2ZM1221.0 639.2 1231.6 647.6 1231.6 664.5 1221.0 673.0 1210.4 664.5 1210.4 647.6ZM1539.0 639.2 1549.6 647.6 1549.6 664.5 1539.0 673.0 1528.4 664.5 1528.4 647.6ZM1231.6 664.5 1242.2 673.0 1242.2 689.9 1231.6 698.4 1221.0 689.9 1221.0 673.0ZM1252.8 664.5 1263.4 673.0 1263.4 689.9 1252.8 698.4 1242.2 689.9 1242.2 673.0ZM1422.4 664.5 1433.0 673.0 1433.0 689.9 1422.4 698.4 1411.8 689.9 1411.8 673.0ZM1528.4 664.5 1539.0 673.0 1539.0 689.9 1528.4 698.4 1517.8 689.9 1517.8 673.0ZM1199.8 689.9 1210.4 698.4 1210.4 715.3 1199.8 723.8 1189.2 715.3 1189.2 698.4ZM1221.0 689.9 1231.6 698.4 1231.6 715.3 1221.0 723.8 1210.4 715.3 1210.4 698.4ZM1242.2 689.9 1252.8 698.4 1252.8 715.3 1242.2 723.8 1231.6 715.3 1231.6 698.4ZM1263.4 689.9 1274.0 698.4 1274.0 715.3 1263.4 723.8 1252.8 715.3 1252.8 698.4ZM1348.2 689.9 1358.8 698.4 1358.8 715.3 1348.2 723.8 1337.6 715.3 1337.6 698.4ZM1369.4 689.9 1380.0 698.4 1380.0 715.3 1369.4 723.8 1358.8 715.3 1358.8 698.4ZM1390.6 689.9 1401.2 698.4 1401.2 715.3 1390.6 723.8 1380.0 715.3 1380.0 698.4ZM1411.8 689.9 1422.4 698.4 1422.4 715.3 1411.8 723.8 1401.2 715.3 1401.2 698.4ZM1517.8 689.9 1528.4 698.4 1528.4 715.3 1517.8 723.8 1507.2 715.3 1507.2 698.4ZM1189.2 715.3 1199.8 723.8 1199.8 740.7 1189.2 749.1 1178.6 740.7 1178.6 723.8ZM1210.4 715.3 1221.0 723.8 1221.0 740.7 1210.4 749.1 1199.8 740.7 1199.8 723.8ZM1231.6 715.3 1242.2 723.8 1242.2 740.7 1231.6 749.1 1221.0 740.7 1221.0 723.8ZM1464.8 715.3 1475.4 723.8 1475.4 740.7 1464.8 749.1 1454.2 740.7 1454.2 723.8ZM1486.0 715.3 1496.6 723.8 1496.6 740.7 1486.0 749.1 1475.4 740.7 1475.4 723.8ZM1507.2 715.3 1517.8 723.8 1517.8 740.7 1507.2 749.1 1496.6 740.7 1496.6 723.8ZM1263.4 740.7 1274.0 749.1 1274.0 766.1 1263.4 774.5 1252.8 766.1 1252.8 749.1ZM1284.6 740.7 1295.2 749.1 1295.2 766.1 1284.6 774.5 1274.0 766.1 1274.0 749.1ZM1305.8 740.7 1316.4 749.1 1316.4 766.1 1305.8 774.5 1295.2 766.1 1295.2 749.1ZM1274.0 766.1 1284.6 774.5 1284.6 791.4 1274.0 799.9 1263.4 791.4 1263.4 774.5ZM1295.2 766.1 1305.8 774.5 1305.8 791.4 1295.2 799.9 1284.6 791.4 1284.6 774.5ZM1316.4 766.1 1327.0 774.5 1327.0 791.4 1316.4 799.9 1305.8 791.4 1305.8 774.5ZM1242.2 791.4 1252.8 799.9 1252.8 816.8 1242.2 825.3 1231.6 816.8 1231.6 799.9ZM1284.6 791.4 1295.2 799.9 1295.2 816.8 1284.6 825.3 1274.0 816.8 1274.0 799.9ZM1305.8 791.4 1316.4 799.9 1316.4 816.8 1305.8 825.3 1295.2 816.8 1295.2 799.9ZM1327.0 791.4 1337.6 799.9 1337.6 816.8 1327.0 825.3 1316.4 816.8 1316.4 799.9ZM1369.4 791.4 1380.0 799.9 1380.0 816.8 1369.4 825.3 1358.8 816.8 1358.8 799.9ZM1390.6 791.4 1401.2 799.9 1401.2 816.8 1390.6 825.3 1380.0 816.8 1380.0 799.9ZM1295.2 816.8 1305.8 825.3 1305.8 842.2 1295.2 850.7 1284.6 842.2 1284.6 825.3ZM1316.4 816.8 1327.0 825.3 1327.0 842.2 1316.4 850.7 1305.8 842.2 1305.8 825.3ZM1337.6 816.8 1348.2 825.3 1348.2 842.2 1337.6 850.7 1327.0 842.2 1327.0 825.3ZM1358.8 816.8 1369.4 825.3 1369.4 842.2 1358.8 850.7 1348.2 842.2 1348.2 825.3ZM1115.0 537.6 1125.6 546.1 1125.6 563.0 1115.0 571.5 1104.4 563.0 1104.4 546.1ZM1136.2 537.6 1146.8 546.1 1146.8 563.0 1136.2 571.5 1125.6 563.0 1125.6 546.1ZM1125.6 563.0 1136.2 571.5 1136.2 588.4 1125.6 596.9 1115.0 588.4 1115.0 571.5ZM1146.8 563.0 1157.4 571.5 1157.4 588.4 1146.8 596.9 1136.2 588.4 1136.2 571.5ZM1168.0 563.0 1178.6 571.5 1178.6 588.4 1168.0 596.9 1157.4 588.4 1157.4 571.5ZM1030.2 588.4 1040.8 596.9 1040.8 613.8 1030.2 622.2 1019.6 613.8 1019.6 596.9ZM1178.6 588.4 1189.2 596.9 1189.2 613.8 1178.6 622.2 1168.0 613.8 1168.0 596.9ZM828.8 613.8 839.4 622.2 839.4 639.2 828.8 647.6 818.2 639.2 818.2 622.2ZM850.0 613.8 860.6 622.2 860.6 639.2 850.0 647.6 839.4 639.2 839.4 622.2ZM1062.0 613.8 1072.6 622.2 1072.6 639.2 1062.0 647.6 1051.4 639.2 1051.4 622.2ZM1083.2 613.8 1093.8 622.2 1093.8 639.2 1083.2 647.6 1072.6 639.2 1072.6 622.2ZM839.4 639.2 850.0 647.6 850.0 664.5 839.4 673.0 828.8 664.5 828.8 647.6ZM860.6 639.2 871.2 647.6 871.2 664.5 860.6 673.0 850.0 664.5 850.0 647.6ZM966.6 639.2 977.2 647.6 977.2 664.5 966.6 673.0 956.0 664.5 956.0 647.6ZM828.8 664.5 839.4 673.0 839.4 689.9 828.8 698.4 818.2 689.9 818.2 673.0ZM850.0 664.5 860.6 673.0 860.6 689.9 850.0 698.4 839.4 689.9 839.4 673.0ZM871.2 664.5 881.8 673.0 881.8 689.9 871.2 698.4 860.6 689.9 860.6 673.0ZM892.4 664.5 903.0 673.0 903.0 689.9 892.4 698.4 881.8 689.9 881.8 673.0ZM913.6 664.5 924.2 673.0 924.2 689.9 913.6 698.4 903.0 689.9 903.0 673.0ZM1019.6 664.5 1030.2 673.0 1030.2 689.9 1019.6 698.4 1009.0 689.9 1009.0 673.0ZM1009.0 689.9 1019.6 698.4 1019.6 715.3 1009.0 723.8 998.4 715.3 998.4 698.4ZM1115.0 689.9 1125.6 698.4 1125.6 715.3 1115.0 723.8 1104.4 715.3 1104.4 698.4ZM828.8 715.3 839.4 723.8 839.4 740.7 828.8 749.1 818.2 740.7 818.2 723.8ZM913.6 715.3 924.2 723.8 924.2 740.7 913.6 749.1 903.0 740.7 903.0 723.8ZM934.8 715.3 945.4 723.8 945.4 740.7 934.8 749.1 924.2 740.7 924.2 723.8ZM977.2 715.3 987.8 723.8 987.8 740.7 977.2 749.1 966.6 740.7 966.6 723.8ZM998.4 715.3 1009.0 723.8 1009.0 740.7 998.4 749.1 987.8 740.7 987.8 723.8ZM1019.6 715.3 1030.2 723.8 1030.2 740.7 1019.6 749.1 1009.0 740.7 1009.0 723.8ZM1040.8 715.3 1051.4 723.8 1051.4 740.7 1040.8 749.1 1030.2 740.7 1030.2 723.8ZM1146.8 715.3 1157.4 723.8 1157.4 740.7 1146.8 749.1 1136.2 740.7 1136.2 723.8ZM1168.0 715.3 1178.6 723.8 1178.6 740.7 1168.0 749.1 1157.4 740.7 1157.4 723.8ZM903.0 740.7 913.6 749.1 913.6 766.1 903.0 774.5 892.4 766.1 892.4 749.1ZM924.2 740.7 934.8 749.1 934.8 766.1 924.2 774.5 913.6 766.1 913.6 749.1ZM945.4 740.7 956.0 749.1 956.0 766.1 945.4 774.5 934.8 766.1 934.8 749.1ZM966.6 740.7 977.2 749.1 977.2 766.1 966.6 774.5 956.0 766.1 956.0 749.1ZM987.8 740.7 998.4 749.1 998.4 766.1 987.8 774.5 977.2 766.1 977.2 749.1ZM1009.0 740.7 1019.6 749.1 1019.6 766.1 1009.0 774.5 998.4 766.1 998.4 749.1ZM1030.2 740.7 1040.8 749.1 1040.8 766.1 1030.2 774.5 1019.6 766.1 1019.6 749.1ZM1051.4 740.7 1062.0 749.1 1062.0 766.1 1051.4 774.5 1040.8 766.1 1040.8 749.1ZM1157.4 740.7 1168.0 749.1 1168.0 766.1 1157.4 774.5 1146.8 766.1 1146.8 749.1ZM828.8 766.1 839.4 774.5 839.4 791.4 828.8 799.9 818.2 791.4 818.2 774.5ZM850.0 766.1 860.6 774.5 860.6 791.4 850.0 799.9 839.4 791.4 839.4 774.5ZM871.2 766.1 881.8 774.5 881.8 791.4 871.2 799.9 860.6 791.4 860.6 774.5ZM892.4 766.1 903.0 774.5 903.0 791.4 892.4 799.9 881.8 791.4 881.8 774.5ZM913.6 766.1 924.2 774.5 924.2 791.4 913.6 799.9 903.0 791.4 903.0 774.5ZM934.8 766.1 945.4 774.5 945.4 791.4 934.8 799.9 924.2 791.4 924.2 774.5ZM956.0 766.1 966.6 774.5 966.6 791.4 956.0 799.9 945.4 791.4 945.4 774.5ZM977.2 766.1 987.8 774.5 987.8 791.4 977.2 799.9 966.6 791.4 966.6 774.5ZM998.4 766.1 1009.0 774.5 1009.0 791.4 998.4 799.9 987.8 791.4 987.8 774.5ZM1019.6 766.1 1030.2 774.5 1030.2 791.4 1019.6 799.9 1009.0 791.4 1009.0 774.5ZM1040.8 766.1 1051.4 774.5 1051.4 791.4 1040.8 799.9 1030.2 791.4 1030.2 774.5ZM1104.4 766.1 1115.0 774.5 1115.0 791.4 1104.4 799.9 1093.8 791.4 1093.8 774.5ZM1125.6 766.1 1136.2 774.5 1136.2 791.4 1125.6 799.9 1115.0 791.4 1115.0 774.5ZM839.4 791.4 850.0 799.9 850.0 816.8 839.4 825.3 828.8 816.8 828.8 799.9ZM860.6 791.4 871.2 799.9 871.2 816.8 860.6 825.3 850.0 816.8 850.0 799.9ZM881.8 791.4 892.4 799.9 892.4 816.8 881.8 825.3 871.2 816.8 871.2 799.9ZM903.0 791.4 913.6 799.9 913.6 816.8 903.0 825.3 892.4 816.8 892.4 799.9ZM924.2 791.4 934.8 799.9 934.8 816.8 924.2 825.3 913.6 816.8 913.6 799.9ZM945.4 791.4 956.0 799.9 956.0 816.8 945.4 825.3 934.8 816.8 934.8 799.9ZM966.6 791.4 977.2 799.9 977.2 816.8 966.6 825.3 956.0 816.8 956.0 799.9ZM987.8 791.4 998.4 799.9 998.4 816.8 987.8 825.3 977.2 816.8 977.2 799.9ZM1009.0 791.4 1019.6 799.9 1019.6 816.8 1009.0 825.3 998.4 816.8 998.4 799.9ZM1030.2 791.4 1040.8 799.9 1040.8 816.8 1030.2 825.3 1019.6 816.8 1019.6 799.9ZM1051.4 791.4 1062.0 799.9 1062.0 816.8 1051.4 825.3 1040.8 816.8 1040.8 799.9ZM1072.6 791.4 1083.2 799.9 1083.2 816.8 1072.6 825.3 1062.0 816.8 1062.0 799.9ZM828.8 816.8 839.4 825.3 839.4 842.2 828.8 850.7 818.2 842.2 818.2 825.3ZM850.0 816.8 860.6 825.3 860.6 842.2 850.0 850.7 839.4 842.2 839.4 825.3ZM871.2 816.8 881.8 825.3 881.8 842.2 871.2 850.7 860.6 842.2 860.6 825.3ZM892.4 816.8 903.0 825.3 903.0 842.2 892.4 850.7 881.8 842.2 881.8 825.3ZM913.6 816.8 924.2 825.3 924.2 842.2 913.6 850.7 903.0 842.2 903.0 825.3ZM934.8 816.8 945.4 825.3 945.4 842.2 934.8 850.7 924.2 842.2 924.2 825.3ZM956.0 816.8 966.6 825.3 966.6 842.2 956.0 850.7 945.4 842.2 945.4 825.3ZM977.2 816.8 987.8 825.3 987.8 842.2 977.2 850.7 966.6 842.2 966.6 825.3ZM998.4 816.8 1009.0 825.3 1009.0 842.2 998.4 850.7 987.8 842.2 987.8 825.3ZM1019.6 816.8 1030.2 825.3 1030.2 842.2 1019.6 850.7 1009.0 842.2 1009.0 825.3ZM1040.8 816.8 1051.4 825.3 1051.4 842.2 1040.8 850.7 1030.2 842.2 1030.2 825.3ZM1062.0 816.8 1072.6 825.3 1072.6 842.2 1062.0 850.7 1051.4 842.2 1051.4 825.3ZM807.6 613.8 818.2 622.2 818.2 639.2 807.6 647.6 797.0 639.2 797.0 622.2ZM712.2 639.2 722.8 647.6 722.8 664.5 712.2 673.0 701.6 664.5 701.6 647.6ZM733.4 639.2 744.0 647.6 744.0 664.5 733.4 673.0 722.8 664.5 722.8 647.6ZM754.6 639.2 765.2 647.6 765.2 664.5 754.6 673.0 744.0 664.5 744.0 647.6ZM775.8 639.2 786.4 647.6 786.4 664.5 775.8 673.0 765.2 664.5 765.2 647.6ZM797.0 639.2 807.6 647.6 807.6 664.5 797.0 673.0 786.4 664.5 786.4 647.6ZM818.2 639.2 828.8 647.6 828.8 664.5 818.2 673.0 807.6 664.5 807.6 647.6ZM680.4 664.5 691.0 673.0 691.0 689.9 680.4 698.4 669.8 689.9 669.8 673.0ZM701.6 664.5 712.2 673.0 712.2 689.9 701.6 698.4 691.0 689.9 691.0 673.0ZM722.8 664.5 733.4 673.0 733.4 689.9 722.8 698.4 712.2 689.9 712.2 673.0ZM744.0 664.5 754.6 673.0 754.6 689.9 744.0 698.4 733.4 689.9 733.4 673.0ZM765.2 664.5 775.8 673.0 775.8 689.9 765.2 698.4 754.6 689.9 754.6 673.0ZM786.4 664.5 797.0 673.0 797.0 689.9 786.4 698.4 775.8 689.9 775.8 673.0ZM807.6 664.5 818.2 673.0 818.2 689.9 807.6 698.4 797.0 689.9 797.0 673.0ZM542.6 689.9 553.2 698.4 553.2 715.3 542.6 723.8 532.0 715.3 532.0 698.4ZM563.8 689.9 574.4 698.4 574.4 715.3 563.8 723.8 553.2 715.3 553.2 698.4ZM585.0 689.9 595.6 698.4 595.6 715.3 585.0 723.8 574.4 715.3 574.4 698.4ZM691.0 689.9 701.6 698.4 701.6 715.3 691.0 723.8 680.4 715.3 680.4 698.4ZM712.2 689.9 722.8 698.4 722.8 715.3 712.2 723.8 701.6 715.3 701.6 698.4ZM733.4 689.9 744.0 698.4 744.0 715.3 733.4 723.8 722.8 715.3 722.8 698.4ZM754.6 689.9 765.2 698.4 765.2 715.3 754.6 723.8 744.0 715.3 744.0 698.4ZM775.8 689.9 786.4 698.4 786.4 715.3 775.8 723.8 765.2 715.3 765.2 698.4ZM797.0 689.9 807.6 698.4 807.6 715.3 797.0 723.8 786.4 715.3 786.4 698.4ZM818.2 689.9 828.8 698.4 828.8 715.3 818.2 723.8 807.6 715.3 807.6 698.4ZM468.4 715.3 479.0 723.8 479.0 740.7 468.4 749.1 457.8 740.7 457.8 723.8ZM489.6 715.3 500.2 723.8 500.2 740.7 489.6 749.1 479.0 740.7 479.0 723.8ZM510.8 715.3 521.4 723.8 521.4 740.7 510.8 749.1 500.2 740.7 500.2 723.8ZM532.0 715.3 542.6 723.8 542.6 740.7 532.0 749.1 521.4 740.7 521.4 723.8ZM553.2 715.3 563.8 723.8 563.8 740.7 553.2 749.1 542.6 740.7 542.6 723.8ZM574.4 715.3 585.0 723.8 585.0 740.7 574.4 749.1 563.8 740.7 563.8 723.8ZM680.4 715.3 691.0 723.8 691.0 740.7 680.4 749.1 669.8 740.7 669.8 723.8ZM701.6 715.3 712.2 723.8 712.2 740.7 701.6 749.1 691.0 740.7 691.0 723.8ZM722.8 715.3 733.4 723.8 733.4 740.7 722.8 749.1 712.2 740.7 712.2 723.8ZM744.0 715.3 754.6 723.8 754.6 740.7 744.0 749.1 733.4 740.7 733.4 723.8ZM765.2 715.3 775.8 723.8 775.8 740.7 765.2 749.1 754.6 740.7 754.6 723.8ZM786.4 715.3 797.0 723.8 797.0 740.7 786.4 749.1 775.8 740.7 775.8 723.8ZM807.6 715.3 818.2 723.8 818.2 740.7 807.6 749.1 797.0 740.7 797.0 723.8ZM479.0 740.7 489.6 749.1 489.6 766.1 479.0 774.5 468.4 766.1 468.4 749.1ZM500.2 740.7 510.8 749.1 510.8 766.1 500.2 774.5 489.6 766.1 489.6 749.1ZM521.4 740.7 532.0 749.1 532.0 766.1 521.4 774.5 510.8 766.1 510.8 749.1ZM542.6 740.7 553.2 749.1 553.2 766.1 542.6 774.5 532.0 766.1 532.0 749.1ZM563.8 740.7 574.4 749.1 574.4 766.1 563.8 774.5 553.2 766.1 553.2 749.1ZM585.0 740.7 595.6 749.1 595.6 766.1 585.0 774.5 574.4 766.1 574.4 749.1ZM691.0 740.7 701.6 749.1 701.6 766.1 691.0 774.5 680.4 766.1 680.4 749.1ZM797.0 740.7 807.6 749.1 807.6 766.1 797.0 774.5 786.4 766.1 786.4 749.1ZM818.2 740.7 828.8 749.1 828.8 766.1 818.2 774.5 807.6 766.1 807.6 749.1ZM468.4 766.1 479.0 774.5 479.0 791.4 468.4 799.9 457.8 791.4 457.8 774.5ZM489.6 766.1 500.2 774.5 500.2 791.4 489.6 799.9 479.0 791.4 479.0 774.5ZM510.8 766.1 521.4 774.5 521.4 791.4 510.8 799.9 500.2 791.4 500.2 774.5ZM532.0 766.1 542.6 774.5 542.6 791.4 532.0 799.9 521.4 791.4 521.4 774.5ZM553.2 766.1 563.8 774.5 563.8 791.4 553.2 799.9 542.6 791.4 542.6 774.5ZM574.4 766.1 585.0 774.5 585.0 791.4 574.4 799.9 563.8 791.4 563.8 774.5ZM786.4 766.1 797.0 774.5 797.0 791.4 786.4 799.9 775.8 791.4 775.8 774.5ZM807.6 766.1 818.2 774.5 818.2 791.4 807.6 799.9 797.0 791.4 797.0 774.5ZM479.0 791.4 489.6 799.9 489.6 816.8 479.0 825.3 468.4 816.8 468.4 799.9ZM500.2 791.4 510.8 799.9 510.8 816.8 500.2 825.3 489.6 816.8 489.6 799.9ZM542.6 791.4 553.2 799.9 553.2 816.8 542.6 825.3 532.0 816.8 532.0 799.9ZM563.8 791.4 574.4 799.9 574.4 816.8 563.8 825.3 553.2 816.8 553.2 799.9ZM585.0 791.4 595.6 799.9 595.6 816.8 585.0 825.3 574.4 816.8 574.4 799.9ZM775.8 791.4 786.4 799.9 786.4 816.8 775.8 825.3 765.2 816.8 765.2 799.9ZM797.0 791.4 807.6 799.9 807.6 816.8 797.0 825.3 786.4 816.8 786.4 799.9ZM818.2 791.4 828.8 799.9 828.8 816.8 818.2 825.3 807.6 816.8 807.6 799.9ZM574.4 816.8 585.0 825.3 585.0 842.2 574.4 850.7 563.8 842.2 563.8 825.3ZM595.6 816.8 606.2 825.3 606.2 842.2 595.6 850.7 585.0 842.2 585.0 825.3ZM786.4 816.8 797.0 825.3 797.0 842.2 786.4 850.7 775.8 842.2 775.8 825.3ZM807.6 816.8 818.2 825.3 818.2 842.2 807.6 850.7 797.0 842.2 797.0 825.3ZM373.0 740.7 383.6 749.1 383.6 766.1 373.0 774.5 362.4 766.1 362.4 749.1ZM394.2 740.7 404.8 749.1 404.8 766.1 394.2 774.5 383.6 766.1 383.6 749.1ZM415.4 740.7 426.0 749.1 426.0 766.1 415.4 774.5 404.8 766.1 404.8 749.1ZM436.6 740.7 447.2 749.1 447.2 766.1 436.6 774.5 426.0 766.1 426.0 749.1ZM457.8 740.7 468.4 749.1 468.4 766.1 457.8 774.5 447.2 766.1 447.2 749.1ZM383.6 766.1 394.2 774.5 394.2 791.4 383.6 799.9 373.0 791.4 373.0 774.5ZM404.8 766.1 415.4 774.5 415.4 791.4 404.8 799.9 394.2 791.4 394.2 774.5ZM447.2 766.1 457.8 774.5 457.8 791.4 447.2 799.9 436.6 791.4 436.6 774.5ZM224.6 791.4 235.2 799.9 235.2 816.8 224.6 825.3 214.0 816.8 214.0 799.9ZM245.8 791.4 256.4 799.9 256.4 816.8 245.8 825.3 235.2 816.8 235.2 799.9ZM267.0 791.4 277.6 799.9 277.6 816.8 267.0 825.3 256.4 816.8 256.4 799.9ZM150.4 816.8 161.0 825.3 161.0 842.2 150.4 850.7 139.8 842.2 139.8 825.3ZM171.6 816.8 182.2 825.3 182.2 842.2 171.6 850.7 161.0 842.2 161.0 825.3ZM192.8 816.8 203.4 825.3 203.4 842.2 192.8 850.7 182.2 842.2 182.2 825.3ZM214.0 816.8 224.6 825.3 224.6 842.2 214.0 850.7 203.4 842.2 203.4 825.3ZM235.2 816.8 245.8 825.3 245.8 842.2 235.2 850.7 224.6 842.2 224.6 825.3ZM256.4 816.8 267.0 825.3 267.0 842.2 256.4 850.7 245.8 842.2 245.8 825.3ZM161.0 842.2 171.6 850.7 171.6 867.6 161.0 876.0 150.4 867.6 150.4 850.7ZM182.2 842.2 192.8 850.7 192.8 867.6 182.2 876.0 171.6 867.6 171.6 850.7ZM203.4 842.2 214.0 850.7 214.0 867.6 203.4 876.0 192.8 867.6 192.8 850.7ZM224.6 842.2 235.2 850.7 235.2 867.6 224.6 876.0 214.0 867.6 214.0 850.7ZM245.8 842.2 256.4 850.7 256.4 867.6 245.8 876.0 235.2 867.6 235.2 850.7ZM267.0 842.2 277.6 850.7 277.6 867.6 267.0 876.0 256.4 867.6 256.4 850.7ZM171.6 867.6 182.2 876.0 182.2 893.0 171.6 901.4 161.0 893.0 161.0 876.0ZM192.8 867.6 203.4 876.0 203.4 893.0 192.8 901.4 182.2 893.0 182.2 876.0ZM214.0 867.6 224.6 876.0 224.6 893.0 214.0 901.4 203.4 893.0 203.4 876.0ZM235.2 867.6 245.8 876.0 245.8 893.0 235.2 901.4 224.6 893.0 224.6 876.0ZM256.4 867.6 267.0 876.0 267.0 893.0 256.4 901.4 245.8 893.0 245.8 876.0ZM277.6 867.6 288.2 876.0 288.2 893.0 277.6 901.4 267.0 893.0 267.0 876.0ZM447.2 867.6 457.8 876.0 457.8 893.0 447.2 901.4 436.6 893.0 436.6 876.0ZM468.4 867.6 479.0 876.0 479.0 893.0 468.4 901.4 457.8 893.0 457.8 876.0ZM182.2 893.0 192.8 901.4 192.8 918.3 182.2 926.8 171.6 918.3 171.6 901.4ZM245.8 893.0 256.4 901.4 256.4 918.3 245.8 926.8 235.2 918.3 235.2 901.4ZM267.0 893.0 277.6 901.4 277.6 918.3 267.0 926.8 256.4 918.3 256.4 901.4ZM436.6 893.0 447.2 901.4 447.2 918.3 436.6 926.8 426.0 918.3 426.0 901.4ZM457.8 893.0 468.4 901.4 468.4 918.3 457.8 926.8 447.2 918.3 447.2 901.4ZM256.4 918.3 267.0 926.8 267.0 943.7 256.4 952.2 245.8 943.7 245.8 926.8ZM468.4 918.3 479.0 926.8 479.0 943.7 468.4 952.2 457.8 943.7 457.8 926.8ZM267.0 943.7 277.6 952.2 277.6 969.1 267.0 977.6 256.4 969.1 256.4 952.2ZM288.2 943.7 298.8 952.2 298.8 969.1 288.2 977.6 277.6 969.1 277.6 952.2ZM235.2 969.1 245.8 977.6 245.8 994.5 235.2 1002.9 224.6 994.5 224.6 977.6ZM256.4 969.1 267.0 977.6 267.0 994.5 256.4 1002.9 245.8 994.5 245.8 977.6ZM277.6 969.1 288.2 977.6 288.2 994.5 277.6 1002.9 267.0 994.5 267.0 977.6ZM298.8 969.1 309.4 977.6 309.4 994.5 298.8 1002.9 288.2 994.5 288.2 977.6ZM320.0 969.1 330.6 977.6 330.6 994.5 320.0 1002.9 309.4 994.5 309.4 977.6ZM426.0 969.1 436.6 977.6 436.6 994.5 426.0 1002.9 415.4 994.5 415.4 977.6ZM447.2 969.1 457.8 977.6 457.8 994.5 447.2 1002.9 436.6 994.5 436.6 977.6ZM224.6 994.5 235.2 1002.9 235.2 1019.9 224.6 1028.3 214.0 1019.9 214.0 1002.9ZM245.8 994.5 256.4 1002.9 256.4 1019.9 245.8 1028.3 235.2 1019.9 235.2 1002.9ZM267.0 994.5 277.6 1002.9 277.6 1019.9 267.0 1028.3 256.4 1019.9 256.4 1002.9ZM288.2 994.5 298.8 1002.9 298.8 1019.9 288.2 1028.3 277.6 1019.9 277.6 1002.9ZM309.4 994.5 320.0 1002.9 320.0 1019.9 309.4 1028.3 298.8 1019.9 298.8 1002.9ZM330.6 994.5 341.2 1002.9 341.2 1019.9 330.6 1028.3 320.0 1019.9 320.0 1002.9ZM394.2 994.5 404.8 1002.9 404.8 1019.9 394.2 1028.3 383.6 1019.9 383.6 1002.9ZM415.4 994.5 426.0 1002.9 426.0 1019.9 415.4 1028.3 404.8 1019.9 404.8 1002.9ZM436.6 994.5 447.2 1002.9 447.2 1019.9 436.6 1028.3 426.0 1019.9 426.0 1002.9ZM457.8 994.5 468.4 1002.9 468.4 1019.9 457.8 1028.3 447.2 1019.9 447.2 1002.9ZM235.2 1019.9 245.8 1028.3 245.8 1045.2 235.2 1053.7 224.6 1045.2 224.6 1028.3ZM256.4 1019.9 267.0 1028.3 267.0 1045.2 256.4 1053.7 245.8 1045.2 245.8 1028.3ZM277.6 1019.9 288.2 1028.3 288.2 1045.2 277.6 1053.7 267.0 1045.2 267.0 1028.3ZM298.8 1019.9 309.4 1028.3 309.4 1045.2 298.8 1053.7 288.2 1045.2 288.2 1028.3ZM320.0 1019.9 330.6 1028.3 330.6 1045.2 320.0 1053.7 309.4 1045.2 309.4 1028.3ZM341.2 1019.9 351.8 1028.3 351.8 1045.2 341.2 1053.7 330.6 1045.2 330.6 1028.3ZM362.4 1019.9 373.0 1028.3 373.0 1045.2 362.4 1053.7 351.8 1045.2 351.8 1028.3ZM383.6 1019.9 394.2 1028.3 394.2 1045.2 383.6 1053.7 373.0 1045.2 373.0 1028.3ZM404.8 1019.9 415.4 1028.3 415.4 1045.2 404.8 1053.7 394.2 1045.2 394.2 1028.3ZM426.0 1019.9 436.6 1028.3 436.6 1045.2 426.0 1053.7 415.4 1045.2 415.4 1028.3ZM447.2 1019.9 457.8 1028.3 457.8 1045.2 447.2 1053.7 436.6 1045.2 436.6 1028.3ZM245.8 1045.2 256.4 1053.7 256.4 1070.6 245.8 1079.1 235.2 1070.6 235.2 1053.7ZM267.0 1045.2 277.6 1053.7 277.6 1070.6 267.0 1079.1 256.4 1070.6 256.4 1053.7ZM288.2 1045.2 298.8 1053.7 298.8 1070.6 288.2 1079.1 277.6 1070.6 277.6 1053.7ZM309.4 1045.2 320.0 1053.7 320.0 1070.6 309.4 1079.1 298.8 1070.6 298.8 1053.7ZM330.6 1045.2 341.2 1053.7 341.2 1070.6 330.6 1079.1 320.0 1070.6 320.0 1053.7ZM351.8 1045.2 362.4 1053.7 362.4 1070.6 351.8 1079.1 341.2 1070.6 341.2 1053.7ZM373.0 1045.2 383.6 1053.7 383.6 1070.6 373.0 1079.1 362.4 1070.6 362.4 1053.7ZM394.2 1045.2 404.8 1053.7 404.8 1070.6 394.2 1079.1 383.6 1070.6 383.6 1053.7ZM415.4 1045.2 426.0 1053.7 426.0 1070.6 415.4 1079.1 404.8 1070.6 404.8 1053.7ZM436.6 1045.2 447.2 1053.7 447.2 1070.6 436.6 1079.1 426.0 1070.6 426.0 1053.7ZM457.8 1045.2 468.4 1053.7 468.4 1070.6 457.8 1079.1 447.2 1070.6 447.2 1053.7ZM256.4 1070.6 267.0 1079.1 267.0 1096.0 256.4 1104.5 245.8 1096.0 245.8 1079.1ZM277.6 1070.6 288.2 1079.1 288.2 1096.0 277.6 1104.5 267.0 1096.0 267.0 1079.1ZM298.8 1070.6 309.4 1079.1 309.4 1096.0 298.8 1104.5 288.2 1096.0 288.2 1079.1ZM320.0 1070.6 330.6 1079.1 330.6 1096.0 320.0 1104.5 309.4 1096.0 309.4 1079.1ZM341.2 1070.6 351.8 1079.1 351.8 1096.0 341.2 1104.5 330.6 1096.0 330.6 1079.1ZM362.4 1070.6 373.0 1079.1 373.0 1096.0 362.4 1104.5 351.8 1096.0 351.8 1079.1ZM383.6 1070.6 394.2 1079.1 394.2 1096.0 383.6 1104.5 373.0 1096.0 373.0 1079.1ZM404.8 1070.6 415.4 1079.1 415.4 1096.0 404.8 1104.5 394.2 1096.0 394.2 1079.1ZM426.0 1070.6 436.6 1079.1 436.6 1096.0 426.0 1104.5 415.4 1096.0 415.4 1079.1ZM447.2 1070.6 457.8 1079.1 457.8 1096.0 447.2 1104.5 436.6 1096.0 436.6 1079.1ZM468.4 1070.6 479.0 1079.1 479.0 1096.0 468.4 1104.5 457.8 1096.0 457.8 1079.1ZM267.0 1096.0 277.6 1104.5 277.6 1121.4 267.0 1129.8 256.4 1121.4 256.4 1104.5ZM288.2 1096.0 298.8 1104.5 298.8 1121.4 288.2 1129.8 277.6 1121.4 277.6 1104.5ZM309.4 1096.0 320.0 1104.5 320.0 1121.4 309.4 1129.8 298.8 1121.4 298.8 1104.5ZM330.6 1096.0 341.2 1104.5 341.2 1121.4 330.6 1129.8 320.0 1121.4 320.0 1104.5ZM351.8 1096.0 362.4 1104.5 362.4 1121.4 351.8 1129.8 341.2 1121.4 341.2 1104.5ZM373.0 1096.0 383.6 1104.5 383.6 1121.4 373.0 1129.8 362.4 1121.4 362.4 1104.5ZM394.2 1096.0 404.8 1104.5 404.8 1121.4 394.2 1129.8 383.6 1121.4 383.6 1104.5ZM415.4 1096.0 426.0 1104.5 426.0 1121.4 415.4 1129.8 404.8 1121.4 404.8 1104.5ZM436.6 1096.0 447.2 1104.5 447.2 1121.4 436.6 1129.8 426.0 1121.4 426.0 1104.5ZM277.6 1121.4 288.2 1129.8 288.2 1146.8 277.6 1155.2 267.0 1146.8 267.0 1129.8ZM298.8 1121.4 309.4 1129.8 309.4 1146.8 298.8 1155.2 288.2 1146.8 288.2 1129.8ZM320.0 1121.4 330.6 1129.8 330.6 1146.8 320.0 1155.2 309.4 1146.8 309.4 1129.8ZM341.2 1121.4 351.8 1129.8 351.8 1146.8 341.2 1155.2 330.6 1146.8 330.6 1129.8ZM362.4 1121.4 373.0 1129.8 373.0 1146.8 362.4 1155.2 351.8 1146.8 351.8 1129.8ZM383.6 1121.4 394.2 1129.8 394.2 1146.8 383.6 1155.2 373.0 1146.8 373.0 1129.8ZM404.8 1121.4 415.4 1129.8 415.4 1146.8 404.8 1155.2 394.2 1146.8 394.2 1129.8ZM426.0 1121.4 436.6 1129.8 436.6 1146.8 426.0 1155.2 415.4 1146.8 415.4 1129.8ZM447.2 1121.4 457.8 1129.8 457.8 1146.8 447.2 1155.2 436.6 1146.8 436.6 1129.8ZM479.0 842.2 489.6 850.7 489.6 867.6 479.0 876.0 468.4 867.6 468.4 850.7ZM563.8 842.2 574.4 850.7 574.4 867.6 563.8 876.0 553.2 867.6 553.2 850.7ZM585.0 842.2 595.6 850.7 595.6 867.6 585.0 876.0 574.4 867.6 574.4 850.7ZM797.0 842.2 807.6 850.7 807.6 867.6 797.0 876.0 786.4 867.6 786.4 850.7ZM818.2 842.2 828.8 850.7 828.8 867.6 818.2 876.0 807.6 867.6 807.6 850.7ZM489.6 867.6 500.2 876.0 500.2 893.0 489.6 901.4 479.0 893.0 479.0 876.0ZM510.8 867.6 521.4 876.0 521.4 893.0 510.8 901.4 500.2 893.0 500.2 876.0ZM532.0 867.6 542.6 876.0 542.6 893.0 532.0 901.4 521.4 893.0 521.4 876.0ZM553.2 867.6 563.8 876.0 563.8 893.0 553.2 901.4 542.6 893.0 542.6 876.0ZM574.4 867.6 585.0 876.0 585.0 893.0 574.4 901.4 563.8 893.0 563.8 876.0ZM595.6 867.6 606.2 876.0 606.2 893.0 595.6 901.4 585.0 893.0 585.0 876.0ZM722.8 867.6 733.4 876.0 733.4 893.0 722.8 901.4 712.2 893.0 712.2 876.0ZM807.6 867.6 818.2 876.0 818.2 893.0 807.6 901.4 797.0 893.0 797.0 876.0ZM828.8 867.6 839.4 876.0 839.4 893.0 828.8 901.4 818.2 893.0 818.2 876.0ZM479.0 893.0 489.6 901.4 489.6 918.3 479.0 926.8 468.4 918.3 468.4 901.4ZM500.2 893.0 510.8 901.4 510.8 918.3 500.2 926.8 489.6 918.3 489.6 901.4ZM521.4 893.0 532.0 901.4 532.0 918.3 521.4 926.8 510.8 918.3 510.8 901.4ZM542.6 893.0 553.2 901.4 553.2 918.3 542.6 926.8 532.0 918.3 532.0 901.4ZM563.8 893.0 574.4 901.4 574.4 918.3 563.8 926.8 553.2 918.3 553.2 901.4ZM585.0 893.0 595.6 901.4 595.6 918.3 585.0 926.8 574.4 918.3 574.4 901.4ZM606.2 893.0 616.8 901.4 616.8 918.3 606.2 926.8 595.6 918.3 595.6 901.4ZM627.4 893.0 638.0 901.4 638.0 918.3 627.4 926.8 616.8 918.3 616.8 901.4ZM648.6 893.0 659.2 901.4 659.2 918.3 648.6 926.8 638.0 918.3 638.0 901.4ZM733.4 893.0 744.0 901.4 744.0 918.3 733.4 926.8 722.8 918.3 722.8 901.4ZM754.6 893.0 765.2 901.4 765.2 918.3 754.6 926.8 744.0 918.3 744.0 901.4ZM775.8 893.0 786.4 901.4 786.4 918.3 775.8 926.8 765.2 918.3 765.2 901.4ZM797.0 893.0 807.6 901.4 807.6 918.3 797.0 926.8 786.4 918.3 786.4 901.4ZM510.8 918.3 521.4 926.8 521.4 943.7 510.8 952.2 500.2 943.7 500.2 926.8ZM532.0 918.3 542.6 926.8 542.6 943.7 532.0 952.2 521.4 943.7 521.4 926.8ZM553.2 918.3 563.8 926.8 563.8 943.7 553.2 952.2 542.6 943.7 542.6 926.8ZM574.4 918.3 585.0 926.8 585.0 943.7 574.4 952.2 563.8 943.7 563.8 926.8ZM595.6 918.3 606.2 926.8 606.2 943.7 595.6 952.2 585.0 943.7 585.0 926.8ZM616.8 918.3 627.4 926.8 627.4 943.7 616.8 952.2 606.2 943.7 606.2 926.8ZM744.0 918.3 754.6 926.8 754.6 943.7 744.0 952.2 733.4 943.7 733.4 926.8ZM765.2 918.3 775.8 926.8 775.8 943.7 765.2 952.2 754.6 943.7 754.6 926.8ZM786.4 918.3 797.0 926.8 797.0 943.7 786.4 952.2 775.8 943.7 775.8 926.8ZM828.8 918.3 839.4 926.8 839.4 943.7 828.8 952.2 818.2 943.7 818.2 926.8ZM542.6 943.7 553.2 952.2 553.2 969.1 542.6 977.6 532.0 969.1 532.0 952.2ZM563.8 943.7 574.4 952.2 574.4 969.1 563.8 977.6 553.2 969.1 553.2 952.2ZM585.0 943.7 595.6 952.2 595.6 969.1 585.0 977.6 574.4 969.1 574.4 952.2ZM606.2 943.7 616.8 952.2 616.8 969.1 606.2 977.6 595.6 969.1 595.6 952.2ZM797.0 943.7 807.6 952.2 807.6 969.1 797.0 977.6 786.4 969.1 786.4 952.2ZM553.2 969.1 563.8 977.6 563.8 994.5 553.2 1002.9 542.6 994.5 542.6 977.6ZM574.4 969.1 585.0 977.6 585.0 994.5 574.4 1002.9 563.8 994.5 563.8 977.6ZM595.6 969.1 606.2 977.6 606.2 994.5 595.6 1002.9 585.0 994.5 585.0 977.6ZM616.8 969.1 627.4 977.6 627.4 994.5 616.8 1002.9 606.2 994.5 606.2 977.6ZM638.0 969.1 648.6 977.6 648.6 994.5 638.0 1002.9 627.4 994.5 627.4 977.6ZM765.2 969.1 775.8 977.6 775.8 994.5 765.2 1002.9 754.6 994.5 754.6 977.6ZM786.4 969.1 797.0 977.6 797.0 994.5 786.4 1002.9 775.8 994.5 775.8 977.6ZM828.8 969.1 839.4 977.6 839.4 994.5 828.8 1002.9 818.2 994.5 818.2 977.6ZM542.6 994.5 553.2 1002.9 553.2 1019.9 542.6 1028.3 532.0 1019.9 532.0 1002.9ZM563.8 994.5 574.4 1002.9 574.4 1019.9 563.8 1028.3 553.2 1019.9 553.2 1002.9ZM585.0 994.5 595.6 1002.9 595.6 1019.9 585.0 1028.3 574.4 1019.9 574.4 1002.9ZM606.2 994.5 616.8 1002.9 616.8 1019.9 606.2 1028.3 595.6 1019.9 595.6 1002.9ZM627.4 994.5 638.0 1002.9 638.0 1019.9 627.4 1028.3 616.8 1019.9 616.8 1002.9ZM648.6 994.5 659.2 1002.9 659.2 1019.9 648.6 1028.3 638.0 1019.9 638.0 1002.9ZM669.8 994.5 680.4 1002.9 680.4 1019.9 669.8 1028.3 659.2 1019.9 659.2 1002.9ZM691.0 994.5 701.6 1002.9 701.6 1019.9 691.0 1028.3 680.4 1019.9 680.4 1002.9ZM797.0 994.5 807.6 1002.9 807.6 1019.9 797.0 1028.3 786.4 1019.9 786.4 1002.9ZM818.2 994.5 828.8 1002.9 828.8 1019.9 818.2 1028.3 807.6 1019.9 807.6 1002.9ZM553.2 1019.9 563.8 1028.3 563.8 1045.2 553.2 1053.7 542.6 1045.2 542.6 1028.3ZM574.4 1019.9 585.0 1028.3 585.0 1045.2 574.4 1053.7 563.8 1045.2 563.8 1028.3ZM680.4 1019.9 691.0 1028.3 691.0 1045.2 680.4 1053.7 669.8 1045.2 669.8 1028.3ZM786.4 1019.9 797.0 1028.3 797.0 1045.2 786.4 1053.7 775.8 1045.2 775.8 1028.3ZM807.6 1019.9 818.2 1028.3 818.2 1045.2 807.6 1053.7 797.0 1045.2 797.0 1028.3ZM479.0 1045.2 489.6 1053.7 489.6 1070.6 479.0 1079.1 468.4 1070.6 468.4 1053.7ZM500.2 1045.2 510.8 1053.7 510.8 1070.6 500.2 1079.1 489.6 1070.6 489.6 1053.7ZM521.4 1045.2 532.0 1053.7 532.0 1070.6 521.4 1079.1 510.8 1070.6 510.8 1053.7ZM542.6 1045.2 553.2 1053.7 553.2 1070.6 542.6 1079.1 532.0 1070.6 532.0 1053.7ZM563.8 1045.2 574.4 1053.7 574.4 1070.6 563.8 1079.1 553.2 1070.6 553.2 1053.7ZM775.8 1045.2 786.4 1053.7 786.4 1070.6 775.8 1079.1 765.2 1070.6 765.2 1053.7ZM797.0 1045.2 807.6 1053.7 807.6 1070.6 797.0 1079.1 786.4 1070.6 786.4 1053.7ZM818.2 1045.2 828.8 1053.7 828.8 1070.6 818.2 1079.1 807.6 1070.6 807.6 1053.7ZM532.0 1070.6 542.6 1079.1 542.6 1096.0 532.0 1104.5 521.4 1096.0 521.4 1079.1ZM553.2 1070.6 563.8 1079.1 563.8 1096.0 553.2 1104.5 542.6 1096.0 542.6 1079.1ZM574.4 1070.6 585.0 1079.1 585.0 1096.0 574.4 1104.5 563.8 1096.0 563.8 1079.1ZM744.0 1070.6 754.6 1079.1 754.6 1096.0 744.0 1104.5 733.4 1096.0 733.4 1079.1ZM765.2 1070.6 775.8 1079.1 775.8 1096.0 765.2 1104.5 754.6 1096.0 754.6 1079.1ZM786.4 1070.6 797.0 1079.1 797.0 1096.0 786.4 1104.5 775.8 1096.0 775.8 1079.1ZM807.6 1070.6 818.2 1079.1 818.2 1096.0 807.6 1104.5 797.0 1096.0 797.0 1079.1ZM754.6 1096.0 765.2 1104.5 765.2 1121.4 754.6 1129.8 744.0 1121.4 744.0 1104.5ZM616.8 1121.4 627.4 1129.8 627.4 1146.8 616.8 1155.2 606.2 1146.8 606.2 1129.8ZM638.0 1121.4 648.6 1129.8 648.6 1146.8 638.0 1155.2 627.4 1146.8 627.4 1129.8ZM744.0 1121.4 754.6 1129.8 754.6 1146.8 744.0 1155.2 733.4 1146.8 733.4 1129.8ZM839.4 842.2 850.0 850.7 850.0 867.6 839.4 876.0 828.8 867.6 828.8 850.7ZM860.6 842.2 871.2 850.7 871.2 867.6 860.6 876.0 850.0 867.6 850.0 850.7ZM881.8 842.2 892.4 850.7 892.4 867.6 881.8 876.0 871.2 867.6 871.2 850.7ZM903.0 842.2 913.6 850.7 913.6 867.6 903.0 876.0 892.4 867.6 892.4 850.7ZM924.2 842.2 934.8 850.7 934.8 867.6 924.2 876.0 913.6 867.6 913.6 850.7ZM945.4 842.2 956.0 850.7 956.0 867.6 945.4 876.0 934.8 867.6 934.8 850.7ZM966.6 842.2 977.2 850.7 977.2 867.6 966.6 876.0 956.0 867.6 956.0 850.7ZM987.8 842.2 998.4 850.7 998.4 867.6 987.8 876.0 977.2 867.6 977.2 850.7ZM1093.8 842.2 1104.4 850.7 1104.4 867.6 1093.8 876.0 1083.2 867.6 1083.2 850.7ZM1178.6 842.2 1189.2 850.7 1189.2 867.6 1178.6 876.0 1168.0 867.6 1168.0 850.7ZM850.0 867.6 860.6 876.0 860.6 893.0 850.0 901.4 839.4 893.0 839.4 876.0ZM871.2 867.6 881.8 876.0 881.8 893.0 871.2 901.4 860.6 893.0 860.6 876.0ZM892.4 867.6 903.0 876.0 903.0 893.0 892.4 901.4 881.8 893.0 881.8 876.0ZM913.6 867.6 924.2 876.0 924.2 893.0 913.6 901.4 903.0 893.0 903.0 876.0ZM934.8 867.6 945.4 876.0 945.4 893.0 934.8 901.4 924.2 893.0 924.2 876.0ZM956.0 867.6 966.6 876.0 966.6 893.0 956.0 901.4 945.4 893.0 945.4 876.0ZM977.2 867.6 987.8 876.0 987.8 893.0 977.2 901.4 966.6 893.0 966.6 876.0ZM998.4 867.6 1009.0 876.0 1009.0 893.0 998.4 901.4 987.8 893.0 987.8 876.0ZM1083.2 867.6 1093.8 876.0 1093.8 893.0 1083.2 901.4 1072.6 893.0 1072.6 876.0ZM1104.4 867.6 1115.0 876.0 1115.0 893.0 1104.4 901.4 1093.8 893.0 1093.8 876.0ZM1125.6 867.6 1136.2 876.0 1136.2 893.0 1125.6 901.4 1115.0 893.0 1115.0 876.0ZM1146.8 867.6 1157.4 876.0 1157.4 893.0 1146.8 901.4 1136.2 893.0 1136.2 876.0ZM1168.0 867.6 1178.6 876.0 1178.6 893.0 1168.0 901.4 1157.4 893.0 1157.4 876.0ZM1189.2 867.6 1199.8 876.0 1199.8 893.0 1189.2 901.4 1178.6 893.0 1178.6 876.0ZM881.8 893.0 892.4 901.4 892.4 918.3 881.8 926.8 871.2 918.3 871.2 901.4ZM903.0 893.0 913.6 901.4 913.6 918.3 903.0 926.8 892.4 918.3 892.4 901.4ZM924.2 893.0 934.8 901.4 934.8 918.3 924.2 926.8 913.6 918.3 913.6 901.4ZM945.4 893.0 956.0 901.4 956.0 918.3 945.4 926.8 934.8 918.3 934.8 901.4ZM966.6 893.0 977.2 901.4 977.2 918.3 966.6 926.8 956.0 918.3 956.0 901.4ZM1136.2 893.0 1146.8 901.4 1146.8 918.3 1136.2 926.8 1125.6 918.3 1125.6 901.4ZM1157.4 893.0 1168.0 901.4 1168.0 918.3 1157.4 926.8 1146.8 918.3 1146.8 901.4ZM1178.6 893.0 1189.2 901.4 1189.2 918.3 1178.6 926.8 1168.0 918.3 1168.0 901.4ZM850.0 918.3 860.6 926.8 860.6 943.7 850.0 952.2 839.4 943.7 839.4 926.8ZM892.4 918.3 903.0 926.8 903.0 943.7 892.4 952.2 881.8 943.7 881.8 926.8ZM913.6 918.3 924.2 926.8 924.2 943.7 913.6 952.2 903.0 943.7 903.0 926.8ZM934.8 918.3 945.4 926.8 945.4 943.7 934.8 952.2 924.2 943.7 924.2 926.8ZM956.0 918.3 966.6 926.8 966.6 943.7 956.0 952.2 945.4 943.7 945.4 926.8ZM1168.0 918.3 1178.6 926.8 1178.6 943.7 1168.0 952.2 1157.4 943.7 1157.4 926.8ZM1189.2 918.3 1199.8 926.8 1199.8 943.7 1189.2 952.2 1178.6 943.7 1178.6 926.8ZM881.8 943.7 892.4 952.2 892.4 969.1 881.8 977.6 871.2 969.1 871.2 952.2ZM850.0 969.1 860.6 977.6 860.6 994.5 850.0 1002.9 839.4 994.5 839.4 977.6ZM1168.0 1019.9 1178.6 1028.3 1178.6 1045.2 1168.0 1053.7 1157.4 1045.2 1157.4 1028.3ZM903.0 1045.2 913.6 1053.7 913.6 1070.6 903.0 1079.1 892.4 1070.6 892.4 1053.7ZM924.2 1045.2 934.8 1053.7 934.8 1070.6 924.2 1079.1 913.6 1070.6 913.6 1053.7ZM871.2 1070.6 881.8 1079.1 881.8 1096.0 871.2 1104.5 860.6 1096.0 860.6 1079.1ZM892.4 1070.6 903.0 1079.1 903.0 1096.0 892.4 1104.5 881.8 1096.0 881.8 1079.1ZM913.6 1070.6 924.2 1079.1 924.2 1096.0 913.6 1104.5 903.0 1096.0 903.0 1079.1ZM1104.4 1070.6 1115.0 1079.1 1115.0 1096.0 1104.4 1104.5 1093.8 1096.0 1093.8 1079.1ZM1125.6 1070.6 1136.2 1079.1 1136.2 1096.0 1125.6 1104.5 1115.0 1096.0 1115.0 1079.1ZM1072.6 1096.0 1083.2 1104.5 1083.2 1121.4 1072.6 1129.8 1062.0 1121.4 1062.0 1104.5ZM1093.8 1096.0 1104.4 1104.5 1104.4 1121.4 1093.8 1129.8 1083.2 1121.4 1083.2 1104.5ZM1115.0 1096.0 1125.6 1104.5 1125.6 1121.4 1115.0 1129.8 1104.4 1121.4 1104.4 1104.5ZM1136.2 1096.0 1146.8 1104.5 1146.8 1121.4 1136.2 1129.8 1125.6 1121.4 1125.6 1104.5ZM1157.4 1096.0 1168.0 1104.5 1168.0 1121.4 1157.4 1129.8 1146.8 1121.4 1146.8 1104.5ZM1178.6 1096.0 1189.2 1104.5 1189.2 1121.4 1178.6 1129.8 1168.0 1121.4 1168.0 1104.5ZM1104.4 1121.4 1115.0 1129.8 1115.0 1146.8 1104.4 1155.2 1093.8 1146.8 1093.8 1129.8ZM1125.6 1121.4 1136.2 1129.8 1136.2 1146.8 1125.6 1155.2 1115.0 1146.8 1115.0 1129.8ZM1146.8 1121.4 1157.4 1129.8 1157.4 1146.8 1146.8 1155.2 1136.2 1146.8 1136.2 1129.8ZM1168.0 1121.4 1178.6 1129.8 1178.6 1146.8 1168.0 1155.2 1157.4 1146.8 1157.4 1129.8ZM1199.8 842.2 1210.4 850.7 1210.4 867.6 1199.8 876.0 1189.2 867.6 1189.2 850.7ZM1305.8 842.2 1316.4 850.7 1316.4 867.6 1305.8 876.0 1295.2 867.6 1295.2 850.7ZM1348.2 842.2 1358.8 850.7 1358.8 867.6 1348.2 876.0 1337.6 867.6 1337.6 850.7ZM1369.4 842.2 1380.0 850.7 1380.0 867.6 1369.4 876.0 1358.8 867.6 1358.8 850.7ZM1210.4 867.6 1221.0 876.0 1221.0 893.0 1210.4 901.4 1199.8 893.0 1199.8 876.0ZM1316.4 867.6 1327.0 876.0 1327.0 893.0 1316.4 901.4 1305.8 893.0 1305.8 876.0ZM1443.6 867.6 1454.2 876.0 1454.2 893.0 1443.6 901.4 1433.0 893.0 1433.0 876.0ZM1199.8 893.0 1210.4 901.4 1210.4 918.3 1199.8 926.8 1189.2 918.3 1189.2 901.4ZM1284.6 893.0 1295.2 901.4 1295.2 918.3 1284.6 926.8 1274.0 918.3 1274.0 901.4ZM1305.8 893.0 1316.4 901.4 1316.4 918.3 1305.8 926.8 1295.2 918.3 1295.2 901.4ZM1411.8 893.0 1422.4 901.4 1422.4 918.3 1411.8 926.8 1401.2 918.3 1401.2 901.4ZM1295.2 918.3 1305.8 926.8 1305.8 943.7 1295.2 952.2 1284.6 943.7 1284.6 926.8ZM1316.4 918.3 1327.0 926.8 1327.0 943.7 1316.4 952.2 1305.8 943.7 1305.8 926.8ZM1401.2 918.3 1411.8 926.8 1411.8 943.7 1401.2 952.2 1390.6 943.7 1390.6 926.8ZM1549.6 918.3 1560.2 926.8 1560.2 943.7 1549.6 952.2 1539.0 943.7 1539.0 926.8ZM1284.6 943.7 1295.2 952.2 1295.2 969.1 1284.6 977.6 1274.0 969.1 1274.0 952.2ZM1305.8 943.7 1316.4 952.2 1316.4 969.1 1305.8 977.6 1295.2 969.1 1295.2 952.2ZM1327.0 943.7 1337.6 952.2 1337.6 969.1 1327.0 977.6 1316.4 969.1 1316.4 952.2ZM1369.4 943.7 1380.0 952.2 1380.0 969.1 1369.4 977.6 1358.8 969.1 1358.8 952.2ZM1390.6 943.7 1401.2 952.2 1401.2 969.1 1390.6 977.6 1380.0 969.1 1380.0 952.2ZM1411.8 943.7 1422.4 952.2 1422.4 969.1 1411.8 977.6 1401.2 969.1 1401.2 952.2ZM1433.0 943.7 1443.6 952.2 1443.6 969.1 1433.0 977.6 1422.4 969.1 1422.4 952.2ZM1454.2 943.7 1464.8 952.2 1464.8 969.1 1454.2 977.6 1443.6 969.1 1443.6 952.2ZM1475.4 943.7 1486.0 952.2 1486.0 969.1 1475.4 977.6 1464.8 969.1 1464.8 952.2ZM1496.6 943.7 1507.2 952.2 1507.2 969.1 1496.6 977.6 1486.0 969.1 1486.0 952.2ZM1517.8 943.7 1528.4 952.2 1528.4 969.1 1517.8 977.6 1507.2 969.1 1507.2 952.2ZM1539.0 943.7 1549.6 952.2 1549.6 969.1 1539.0 977.6 1528.4 969.1 1528.4 952.2ZM1274.0 969.1 1284.6 977.6 1284.6 994.5 1274.0 1002.9 1263.4 994.5 1263.4 977.6ZM1295.2 969.1 1305.8 977.6 1305.8 994.5 1295.2 1002.9 1284.6 994.5 1284.6 977.6ZM1316.4 969.1 1327.0 977.6 1327.0 994.5 1316.4 1002.9 1305.8 994.5 1305.8 977.6ZM1337.6 969.1 1348.2 977.6 1348.2 994.5 1337.6 1002.9 1327.0 994.5 1327.0 977.6ZM1358.8 969.1 1369.4 977.6 1369.4 994.5 1358.8 1002.9 1348.2 994.5 1348.2 977.6ZM1380.0 969.1 1390.6 977.6 1390.6 994.5 1380.0 1002.9 1369.4 994.5 1369.4 977.6ZM1401.2 969.1 1411.8 977.6 1411.8 994.5 1401.2 1002.9 1390.6 994.5 1390.6 977.6ZM1422.4 969.1 1433.0 977.6 1433.0 994.5 1422.4 1002.9 1411.8 994.5 1411.8 977.6ZM1443.6 969.1 1454.2 977.6 1454.2 994.5 1443.6 1002.9 1433.0 994.5 1433.0 977.6ZM1464.8 969.1 1475.4 977.6 1475.4 994.5 1464.8 1002.9 1454.2 994.5 1454.2 977.6ZM1528.4 969.1 1539.0 977.6 1539.0 994.5 1528.4 1002.9 1517.8 994.5 1517.8 977.6ZM1549.6 969.1 1560.2 977.6 1560.2 994.5 1549.6 1002.9 1539.0 994.5 1539.0 977.6ZM1284.6 994.5 1295.2 1002.9 1295.2 1019.9 1284.6 1028.3 1274.0 1019.9 1274.0 1002.9ZM1305.8 994.5 1316.4 1002.9 1316.4 1019.9 1305.8 1028.3 1295.2 1019.9 1295.2 1002.9ZM1327.0 994.5 1337.6 1002.9 1337.6 1019.9 1327.0 1028.3 1316.4 1019.9 1316.4 1002.9ZM1433.0 994.5 1443.6 1002.9 1443.6 1019.9 1433.0 1028.3 1422.4 1019.9 1422.4 1002.9ZM1454.2 994.5 1464.8 1002.9 1464.8 1019.9 1454.2 1028.3 1443.6 1019.9 1443.6 1002.9ZM1274.0 1019.9 1284.6 1028.3 1284.6 1045.2 1274.0 1053.7 1263.4 1045.2 1263.4 1028.3ZM1295.2 1019.9 1305.8 1028.3 1305.8 1045.2 1295.2 1053.7 1284.6 1045.2 1284.6 1028.3ZM1337.6 1019.9 1348.2 1028.3 1348.2 1045.2 1337.6 1053.7 1327.0 1045.2 1327.0 1028.3ZM1358.8 1019.9 1369.4 1028.3 1369.4 1045.2 1358.8 1053.7 1348.2 1045.2 1348.2 1028.3ZM1422.4 1019.9 1433.0 1028.3 1433.0 1045.2 1422.4 1053.7 1411.8 1045.2 1411.8 1028.3ZM1549.6 1019.9 1560.2 1028.3 1560.2 1045.2 1549.6 1053.7 1539.0 1045.2 1539.0 1028.3ZM1263.4 1045.2 1274.0 1053.7 1274.0 1070.6 1263.4 1079.1 1252.8 1070.6 1252.8 1053.7ZM1284.6 1045.2 1295.2 1053.7 1295.2 1070.6 1284.6 1079.1 1274.0 1070.6 1274.0 1053.7ZM1369.4 1045.2 1380.0 1053.7 1380.0 1070.6 1369.4 1079.1 1358.8 1070.6 1358.8 1053.7ZM1390.6 1045.2 1401.2 1053.7 1401.2 1070.6 1390.6 1079.1 1380.0 1070.6 1380.0 1053.7ZM1411.8 1045.2 1422.4 1053.7 1422.4 1070.6 1411.8 1079.1 1401.2 1070.6 1401.2 1053.7ZM1433.0 1045.2 1443.6 1053.7 1443.6 1070.6 1433.0 1079.1 1422.4 1070.6 1422.4 1053.7ZM1274.0 1070.6 1284.6 1079.1 1284.6 1096.0 1274.0 1104.5 1263.4 1096.0 1263.4 1079.1ZM1380.0 1070.6 1390.6 1079.1 1390.6 1096.0 1380.0 1104.5 1369.4 1096.0 1369.4 1079.1ZM1401.2 1070.6 1411.8 1079.1 1411.8 1096.0 1401.2 1104.5 1390.6 1096.0 1390.6 1079.1ZM1422.4 1070.6 1433.0 1079.1 1433.0 1096.0 1422.4 1104.5 1411.8 1096.0 1411.8 1079.1ZM1263.4 1096.0 1274.0 1104.5 1274.0 1121.4 1263.4 1129.8 1252.8 1121.4 1252.8 1104.5ZM1284.6 1096.0 1295.2 1104.5 1295.2 1121.4 1284.6 1129.8 1274.0 1121.4 1274.0 1104.5ZM1305.8 1096.0 1316.4 1104.5 1316.4 1121.4 1305.8 1129.8 1295.2 1121.4 1295.2 1104.5ZM1327.0 1096.0 1337.6 1104.5 1337.6 1121.4 1327.0 1129.8 1316.4 1121.4 1316.4 1104.5ZM1348.2 1096.0 1358.8 1104.5 1358.8 1121.4 1348.2 1129.8 1337.6 1121.4 1337.6 1104.5ZM1369.4 1096.0 1380.0 1104.5 1380.0 1121.4 1369.4 1129.8 1358.8 1121.4 1358.8 1104.5ZM1210.4 1121.4 1221.0 1129.8 1221.0 1146.8 1210.4 1155.2 1199.8 1146.8 1199.8 1129.8ZM1231.6 1121.4 1242.2 1129.8 1242.2 1146.8 1231.6 1155.2 1221.0 1146.8 1221.0 1129.8ZM1252.8 1121.4 1263.4 1129.8 1263.4 1146.8 1252.8 1155.2 1242.2 1146.8 1242.2 1129.8ZM1274.0 1121.4 1284.6 1129.8 1284.6 1146.8 1274.0 1155.2 1263.4 1146.8 1263.4 1129.8ZM1560.2 842.2 1570.8 850.7 1570.8 867.6 1560.2 876.0 1549.6 867.6 1549.6 850.7ZM1581.4 842.2 1592.0 850.7 1592.0 867.6 1581.4 876.0 1570.8 867.6 1570.8 850.7ZM1602.6 842.2 1613.2 850.7 1613.2 867.6 1602.6 876.0 1592.0 867.6 1592.0 850.7ZM1570.8 867.6 1581.4 876.0 1581.4 893.0 1570.8 901.4 1560.2 893.0 1560.2 876.0ZM1592.0 867.6 1602.6 876.0 1602.6 893.0 1592.0 901.4 1581.4 893.0 1581.4 876.0ZM1613.2 867.6 1623.8 876.0 1623.8 893.0 1613.2 901.4 1602.6 893.0 1602.6 876.0ZM1581.4 893.0 1592.0 901.4 1592.0 918.3 1581.4 926.8 1570.8 918.3 1570.8 901.4ZM1602.6 893.0 1613.2 901.4 1613.2 918.3 1602.6 926.8 1592.0 918.3 1592.0 901.4ZM1623.8 893.0 1634.4 901.4 1634.4 918.3 1623.8 926.8 1613.2 918.3 1613.2 901.4ZM1645.0 893.0 1655.6 901.4 1655.6 918.3 1645.0 926.8 1634.4 918.3 1634.4 901.4ZM1751.0 893.0 1761.6 901.4 1761.6 918.3 1751.0 926.8 1740.4 918.3 1740.4 901.4ZM1570.8 918.3 1581.4 926.8 1581.4 943.7 1570.8 952.2 1560.2 943.7 1560.2 926.8ZM1592.0 918.3 1602.6 926.8 1602.6 943.7 1592.0 952.2 1581.4 943.7 1581.4 926.8ZM1613.2 918.3 1623.8 926.8 1623.8 943.7 1613.2 952.2 1602.6 943.7 1602.6 926.8ZM1634.4 918.3 1645.0 926.8 1645.0 943.7 1634.4 952.2 1623.8 943.7 1623.8 926.8ZM1560.2 943.7 1570.8 952.2 1570.8 969.1 1560.2 977.6 1549.6 969.1 1549.6 952.2ZM1581.4 943.7 1592.0 952.2 1592.0 969.1 1581.4 977.6 1570.8 969.1 1570.8 952.2ZM1602.6 943.7 1613.2 952.2 1613.2 969.1 1602.6 977.6 1592.0 969.1 1592.0 952.2ZM1623.8 943.7 1634.4 952.2 1634.4 969.1 1623.8 977.6 1613.2 969.1 1613.2 952.2ZM1729.8 943.7 1740.4 952.2 1740.4 969.1 1729.8 977.6 1719.2 969.1 1719.2 952.2ZM1751.0 943.7 1761.6 952.2 1761.6 969.1 1751.0 977.6 1740.4 969.1 1740.4 952.2ZM1857.0 943.7 1867.6 952.2 1867.6 969.1 1857.0 977.6 1846.4 969.1 1846.4 952.2ZM1570.8 969.1 1581.4 977.6 1581.4 994.5 1570.8 1002.9 1560.2 994.5 1560.2 977.6ZM1592.0 969.1 1602.6 977.6 1602.6 994.5 1592.0 1002.9 1581.4 994.5 1581.4 977.6ZM1613.2 969.1 1623.8 977.6 1623.8 994.5 1613.2 1002.9 1602.6 994.5 1602.6 977.6ZM1634.4 969.1 1645.0 977.6 1645.0 994.5 1634.4 1002.9 1623.8 994.5 1623.8 977.6ZM1655.6 969.1 1666.2 977.6 1666.2 994.5 1655.6 1002.9 1645.0 994.5 1645.0 977.6ZM1719.2 969.1 1729.8 977.6 1729.8 994.5 1719.2 1002.9 1708.6 994.5 1708.6 977.6ZM1740.4 969.1 1751.0 977.6 1751.0 994.5 1740.4 1002.9 1729.8 994.5 1729.8 977.6ZM1560.2 994.5 1570.8 1002.9 1570.8 1019.9 1560.2 1028.3 1549.6 1019.9 1549.6 1002.9ZM1581.4 994.5 1592.0 1002.9 1592.0 1019.9 1581.4 1028.3 1570.8 1019.9 1570.8 1002.9ZM1602.6 994.5 1613.2 1002.9 1613.2 1019.9 1602.6 1028.3 1592.0 1019.9 1592.0 1002.9ZM1623.8 994.5 1634.4 1002.9 1634.4 1019.9 1623.8 1028.3 1613.2 1019.9 1613.2 1002.9ZM1729.8 994.5 1740.4 1002.9 1740.4 1019.9 1729.8 1028.3 1719.2 1019.9 1719.2 1002.9ZM1814.6 994.5 1825.2 1002.9 1825.2 1019.9 1814.6 1028.3 1804.0 1019.9 1804.0 1002.9ZM1570.8 1019.9 1581.4 1028.3 1581.4 1045.2 1570.8 1053.7 1560.2 1045.2 1560.2 1028.3ZM1592.0 1019.9 1602.6 1028.3 1602.6 1045.2 1592.0 1053.7 1581.4 1045.2 1581.4 1028.3ZM1698.0 1019.9 1708.6 1028.3 1708.6 1045.2 1698.0 1053.7 1687.4 1045.2 1687.4 1028.3ZM1740.4 1019.9 1751.0 1028.3 1751.0 1045.2 1740.4 1053.7 1729.8 1045.2 1729.8 1028.3ZM1761.6 1019.9 1772.2 1028.3 1772.2 1045.2 1761.6 1053.7 1751.0 1045.2 1751.0 1028.3ZM1782.8 1019.9 1793.4 1028.3 1793.4 1045.2 1782.8 1053.7 1772.2 1045.2 1772.2 1028.3ZM1560.2 1045.2 1570.8 1053.7 1570.8 1070.6 1560.2 1079.1 1549.6 1070.6 1549.6 1053.7ZM1581.4 1045.2 1592.0 1053.7 1592.0 1070.6 1581.4 1079.1 1570.8 1070.6 1570.8 1053.7ZM1729.8 1045.2 1740.4 1053.7 1740.4 1070.6 1729.8 1079.1 1719.2 1070.6 1719.2 1053.7ZM1751.0 1045.2 1761.6 1053.7 1761.6 1070.6 1751.0 1079.1 1740.4 1070.6 1740.4 1053.7ZM1772.2 1045.2 1782.8 1053.7 1782.8 1070.6 1772.2 1079.1 1761.6 1070.6 1761.6 1053.7ZM1740.4 1070.6 1751.0 1079.1 1751.0 1096.0 1740.4 1104.5 1729.8 1096.0 1729.8 1079.1ZM1676.8 1121.4 1687.4 1129.8 1687.4 1146.8 1676.8 1155.2 1666.2 1146.8 1666.2 1129.8ZM288.2 1146.8 298.8 1155.2 298.8 1172.1 288.2 1180.6 277.6 1172.1 277.6 1155.2ZM309.4 1146.8 320.0 1155.2 320.0 1172.1 309.4 1180.6 298.8 1172.1 298.8 1155.2ZM330.6 1146.8 341.2 1155.2 341.2 1172.1 330.6 1180.6 320.0 1172.1 320.0 1155.2ZM351.8 1146.8 362.4 1155.2 362.4 1172.1 351.8 1180.6 341.2 1172.1 341.2 1155.2ZM373.0 1146.8 383.6 1155.2 383.6 1172.1 373.0 1180.6 362.4 1172.1 362.4 1155.2ZM394.2 1146.8 404.8 1155.2 404.8 1172.1 394.2 1180.6 383.6 1172.1 383.6 1155.2ZM436.6 1146.8 447.2 1155.2 447.2 1172.1 436.6 1180.6 426.0 1172.1 426.0 1155.2ZM298.8 1172.1 309.4 1180.6 309.4 1197.5 298.8 1206.0 288.2 1197.5 288.2 1180.6ZM320.0 1172.1 330.6 1180.6 330.6 1197.5 320.0 1206.0 309.4 1197.5 309.4 1180.6ZM341.2 1172.1 351.8 1180.6 351.8 1197.5 341.2 1206.0 330.6 1197.5 330.6 1180.6ZM362.4 1172.1 373.0 1180.6 373.0 1197.5 362.4 1206.0 351.8 1197.5 351.8 1180.6ZM383.6 1172.1 394.2 1180.6 394.2 1197.5 383.6 1206.0 373.0 1197.5 373.0 1180.6ZM309.4 1197.5 320.0 1206.0 320.0 1222.9 309.4 1231.4 298.8 1222.9 298.8 1206.0ZM330.6 1197.5 341.2 1206.0 341.2 1222.9 330.6 1231.4 320.0 1222.9 320.0 1206.0ZM351.8 1197.5 362.4 1206.0 362.4 1222.9 351.8 1231.4 341.2 1222.9 341.2 1206.0ZM373.0 1197.5 383.6 1206.0 383.6 1222.9 373.0 1231.4 362.4 1222.9 362.4 1206.0ZM394.2 1197.5 404.8 1206.0 404.8 1222.9 394.2 1231.4 383.6 1222.9 383.6 1206.0ZM320.0 1222.9 330.6 1231.4 330.6 1248.3 320.0 1256.7 309.4 1248.3 309.4 1231.4ZM341.2 1222.9 351.8 1231.4 351.8 1248.3 341.2 1256.7 330.6 1248.3 330.6 1231.4ZM362.4 1222.9 373.0 1231.4 373.0 1248.3 362.4 1256.7 351.8 1248.3 351.8 1231.4ZM383.6 1222.9 394.2 1231.4 394.2 1248.3 383.6 1256.7 373.0 1248.3 373.0 1231.4ZM330.6 1248.3 341.2 1256.7 341.2 1273.7 330.6 1282.1 320.0 1273.7 320.0 1256.7ZM351.8 1248.3 362.4 1256.7 362.4 1273.7 351.8 1282.1 341.2 1273.7 341.2 1256.7ZM373.0 1248.3 383.6 1256.7 383.6 1273.7 373.0 1282.1 362.4 1273.7 362.4 1256.7ZM394.2 1248.3 404.8 1256.7 404.8 1273.7 394.2 1282.1 383.6 1273.7 383.6 1256.7ZM415.4 1248.3 426.0 1256.7 426.0 1273.7 415.4 1282.1 404.8 1273.7 404.8 1256.7ZM341.2 1273.7 351.8 1282.1 351.8 1299.0 341.2 1307.5 330.6 1299.0 330.6 1282.1ZM362.4 1273.7 373.0 1282.1 373.0 1299.0 362.4 1307.5 351.8 1299.0 351.8 1282.1ZM383.6 1273.7 394.2 1282.1 394.2 1299.0 383.6 1307.5 373.0 1299.0 373.0 1282.1ZM404.8 1273.7 415.4 1282.1 415.4 1299.0 404.8 1307.5 394.2 1299.0 394.2 1282.1ZM426.0 1273.7 436.6 1282.1 436.6 1299.0 426.0 1307.5 415.4 1299.0 415.4 1282.1ZM351.8 1299.0 362.4 1307.5 362.4 1324.4 351.8 1332.9 341.2 1324.4 341.2 1307.5ZM415.4 1299.0 426.0 1307.5 426.0 1324.4 415.4 1332.9 404.8 1324.4 404.8 1307.5ZM436.6 1299.0 447.2 1307.5 447.2 1324.4 436.6 1332.9 426.0 1324.4 426.0 1307.5ZM457.8 1299.0 468.4 1307.5 468.4 1324.4 457.8 1332.9 447.2 1324.4 447.2 1307.5ZM320.0 1324.4 330.6 1332.9 330.6 1349.8 320.0 1358.3 309.4 1349.8 309.4 1332.9ZM341.2 1324.4 351.8 1332.9 351.8 1349.8 341.2 1358.3 330.6 1349.8 330.6 1332.9ZM468.4 1324.4 479.0 1332.9 479.0 1349.8 468.4 1358.3 457.8 1349.8 457.8 1332.9ZM309.4 1349.8 320.0 1358.3 320.0 1375.2 309.4 1383.6 298.8 1375.2 298.8 1358.3ZM330.6 1349.8 341.2 1358.3 341.2 1375.2 330.6 1383.6 320.0 1375.2 320.0 1358.3ZM277.6 1375.2 288.2 1383.6 288.2 1400.6 277.6 1409.0 267.0 1400.6 267.0 1383.6ZM298.8 1375.2 309.4 1383.6 309.4 1400.6 298.8 1409.0 288.2 1400.6 288.2 1383.6ZM320.0 1375.2 330.6 1383.6 330.6 1400.6 320.0 1409.0 309.4 1400.6 309.4 1383.6ZM426.0 1375.2 436.6 1383.6 436.6 1400.6 426.0 1409.0 415.4 1400.6 415.4 1383.6ZM468.4 1425.9 479.0 1434.4 479.0 1451.3 468.4 1459.8 457.8 1451.3 457.8 1434.4ZM648.6 1146.8 659.2 1155.2 659.2 1172.1 648.6 1180.6 638.0 1172.1 638.0 1155.2ZM754.6 1146.8 765.2 1155.2 765.2 1172.1 754.6 1180.6 744.0 1172.1 744.0 1155.2ZM510.8 1172.1 521.4 1180.6 521.4 1197.5 510.8 1206.0 500.2 1197.5 500.2 1180.6ZM659.2 1172.1 669.8 1180.6 669.8 1197.5 659.2 1206.0 648.6 1197.5 648.6 1180.6ZM521.4 1197.5 532.0 1206.0 532.0 1222.9 521.4 1231.4 510.8 1222.9 510.8 1206.0ZM542.6 1197.5 553.2 1206.0 553.2 1222.9 542.6 1231.4 532.0 1222.9 532.0 1206.0ZM563.8 1197.5 574.4 1206.0 574.4 1222.9 563.8 1231.4 553.2 1222.9 553.2 1206.0ZM585.0 1197.5 595.6 1206.0 595.6 1222.9 585.0 1231.4 574.4 1222.9 574.4 1206.0ZM606.2 1197.5 616.8 1206.0 616.8 1222.9 606.2 1231.4 595.6 1222.9 595.6 1206.0ZM627.4 1197.5 638.0 1206.0 638.0 1222.9 627.4 1231.4 616.8 1222.9 616.8 1206.0ZM648.6 1197.5 659.2 1206.0 659.2 1222.9 648.6 1231.4 638.0 1222.9 638.0 1206.0ZM669.8 1197.5 680.4 1206.0 680.4 1222.9 669.8 1231.4 659.2 1222.9 659.2 1206.0ZM595.6 1222.9 606.2 1231.4 606.2 1248.3 595.6 1256.7 585.0 1248.3 585.0 1231.4ZM616.8 1222.9 627.4 1231.4 627.4 1248.3 616.8 1256.7 606.2 1248.3 606.2 1231.4ZM638.0 1222.9 648.6 1231.4 648.6 1248.3 638.0 1256.7 627.4 1248.3 627.4 1231.4ZM659.2 1222.9 669.8 1231.4 669.8 1248.3 659.2 1256.7 648.6 1248.3 648.6 1231.4ZM585.0 1248.3 595.6 1256.7 595.6 1273.7 585.0 1282.1 574.4 1273.7 574.4 1256.7ZM627.4 1248.3 638.0 1256.7 638.0 1273.7 627.4 1282.1 616.8 1273.7 616.8 1256.7ZM648.6 1248.3 659.2 1256.7 659.2 1273.7 648.6 1282.1 638.0 1273.7 638.0 1256.7ZM669.8 1248.3 680.4 1256.7 680.4 1273.7 669.8 1282.1 659.2 1273.7 659.2 1256.7ZM638.0 1273.7 648.6 1282.1 648.6 1299.0 638.0 1307.5 627.4 1299.0 627.4 1282.1ZM659.2 1273.7 669.8 1282.1 669.8 1299.0 659.2 1307.5 648.6 1299.0 648.6 1282.1ZM521.4 1299.0 532.0 1307.5 532.0 1324.4 521.4 1332.9 510.8 1324.4 510.8 1307.5ZM542.6 1299.0 553.2 1307.5 553.2 1324.4 542.6 1332.9 532.0 1324.4 532.0 1307.5ZM648.6 1299.0 659.2 1307.5 659.2 1324.4 648.6 1332.9 638.0 1324.4 638.0 1307.5ZM669.8 1299.0 680.4 1307.5 680.4 1324.4 669.8 1332.9 659.2 1324.4 659.2 1307.5ZM489.6 1324.4 500.2 1332.9 500.2 1349.8 489.6 1358.3 479.0 1349.8 479.0 1332.9ZM510.8 1324.4 521.4 1332.9 521.4 1349.8 510.8 1358.3 500.2 1349.8 500.2 1332.9ZM532.0 1324.4 542.6 1332.9 542.6 1349.8 532.0 1358.3 521.4 1349.8 521.4 1332.9ZM553.2 1324.4 563.8 1332.9 563.8 1349.8 553.2 1358.3 542.6 1349.8 542.6 1332.9ZM574.4 1324.4 585.0 1332.9 585.0 1349.8 574.4 1358.3 563.8 1349.8 563.8 1332.9ZM701.6 1324.4 712.2 1332.9 712.2 1349.8 701.6 1358.3 691.0 1349.8 691.0 1332.9ZM521.4 1349.8 532.0 1358.3 532.0 1375.2 521.4 1383.6 510.8 1375.2 510.8 1358.3ZM542.6 1349.8 553.2 1358.3 553.2 1375.2 542.6 1383.6 532.0 1375.2 532.0 1358.3ZM627.4 1349.8 638.0 1358.3 638.0 1375.2 627.4 1383.6 616.8 1375.2 616.8 1358.3ZM691.0 1349.8 701.6 1358.3 701.6 1375.2 691.0 1383.6 680.4 1375.2 680.4 1358.3ZM510.8 1375.2 521.4 1383.6 521.4 1400.6 510.8 1409.0 500.2 1400.6 500.2 1383.6ZM532.0 1375.2 542.6 1383.6 542.6 1400.6 532.0 1409.0 521.4 1400.6 521.4 1383.6ZM659.2 1375.2 669.8 1383.6 669.8 1400.6 659.2 1409.0 648.6 1400.6 648.6 1383.6ZM701.6 1375.2 712.2 1383.6 712.2 1400.6 701.6 1409.0 691.0 1400.6 691.0 1383.6ZM722.8 1375.2 733.4 1383.6 733.4 1400.6 722.8 1409.0 712.2 1400.6 712.2 1383.6ZM744.0 1375.2 754.6 1383.6 754.6 1400.6 744.0 1409.0 733.4 1400.6 733.4 1383.6ZM828.8 1375.2 839.4 1383.6 839.4 1400.6 828.8 1409.0 818.2 1400.6 818.2 1383.6ZM500.2 1400.6 510.8 1409.0 510.8 1425.9 500.2 1434.4 489.6 1425.9 489.6 1409.0ZM521.4 1400.6 532.0 1409.0 532.0 1425.9 521.4 1434.4 510.8 1425.9 510.8 1409.0ZM542.6 1400.6 553.2 1409.0 553.2 1425.9 542.6 1434.4 532.0 1425.9 532.0 1409.0ZM648.6 1400.6 659.2 1409.0 659.2 1425.9 648.6 1434.4 638.0 1425.9 638.0 1409.0ZM669.8 1400.6 680.4 1409.0 680.4 1425.9 669.8 1434.4 659.2 1425.9 659.2 1409.0ZM691.0 1400.6 701.6 1409.0 701.6 1425.9 691.0 1434.4 680.4 1425.9 680.4 1409.0ZM712.2 1400.6 722.8 1409.0 722.8 1425.9 712.2 1434.4 701.6 1425.9 701.6 1409.0ZM733.4 1400.6 744.0 1409.0 744.0 1425.9 733.4 1434.4 722.8 1425.9 722.8 1409.0ZM754.6 1400.6 765.2 1409.0 765.2 1425.9 754.6 1434.4 744.0 1425.9 744.0 1409.0ZM818.2 1400.6 828.8 1409.0 828.8 1425.9 818.2 1434.4 807.6 1425.9 807.6 1409.0ZM489.6 1425.9 500.2 1434.4 500.2 1451.3 489.6 1459.8 479.0 1451.3 479.0 1434.4ZM510.8 1425.9 521.4 1434.4 521.4 1451.3 510.8 1459.8 500.2 1451.3 500.2 1434.4ZM532.0 1425.9 542.6 1434.4 542.6 1451.3 532.0 1459.8 521.4 1451.3 521.4 1434.4ZM553.2 1425.9 563.8 1434.4 563.8 1451.3 553.2 1459.8 542.6 1451.3 542.6 1434.4ZM574.4 1425.9 585.0 1434.4 585.0 1451.3 574.4 1459.8 563.8 1451.3 563.8 1434.4ZM595.6 1425.9 606.2 1434.4 606.2 1451.3 595.6 1459.8 585.0 1451.3 585.0 1434.4ZM638.0 1425.9 648.6 1434.4 648.6 1451.3 638.0 1459.8 627.4 1451.3 627.4 1434.4ZM659.2 1425.9 669.8 1434.4 669.8 1451.3 659.2 1459.8 648.6 1451.3 648.6 1434.4ZM680.4 1425.9 691.0 1434.4 691.0 1451.3 680.4 1459.8 669.8 1451.3 669.8 1434.4ZM701.6 1425.9 712.2 1434.4 712.2 1451.3 701.6 1459.8 691.0 1451.3 691.0 1434.4ZM722.8 1425.9 733.4 1434.4 733.4 1451.3 722.8 1459.8 712.2 1451.3 712.2 1434.4ZM744.0 1425.9 754.6 1434.4 754.6 1451.3 744.0 1459.8 733.4 1451.3 733.4 1434.4ZM765.2 1425.9 775.8 1434.4 775.8 1451.3 765.2 1459.8 754.6 1451.3 754.6 1434.4ZM786.4 1425.9 797.0 1434.4 797.0 1451.3 786.4 1459.8 775.8 1451.3 775.8 1434.4ZM807.6 1425.9 818.2 1434.4 818.2 1451.3 807.6 1459.8 797.0 1451.3 797.0 1434.4ZM828.8 1425.9 839.4 1434.4 839.4 1451.3 828.8 1459.8 818.2 1451.3 818.2 1434.4ZM1093.8 1146.8 1104.4 1155.2 1104.4 1172.1 1093.8 1180.6 1083.2 1172.1 1083.2 1155.2ZM1115.0 1146.8 1125.6 1155.2 1125.6 1172.1 1115.0 1180.6 1104.4 1172.1 1104.4 1155.2ZM1136.2 1146.8 1146.8 1155.2 1146.8 1172.1 1136.2 1180.6 1125.6 1172.1 1125.6 1155.2ZM1178.6 1146.8 1189.2 1155.2 1189.2 1172.1 1178.6 1180.6 1168.0 1172.1 1168.0 1155.2ZM1083.2 1172.1 1093.8 1180.6 1093.8 1197.5 1083.2 1206.0 1072.6 1197.5 1072.6 1180.6ZM1104.4 1172.1 1115.0 1180.6 1115.0 1197.5 1104.4 1206.0 1093.8 1197.5 1093.8 1180.6ZM1125.6 1172.1 1136.2 1180.6 1136.2 1197.5 1125.6 1206.0 1115.0 1197.5 1115.0 1180.6ZM1146.8 1172.1 1157.4 1180.6 1157.4 1197.5 1146.8 1206.0 1136.2 1197.5 1136.2 1180.6ZM1093.8 1197.5 1104.4 1206.0 1104.4 1222.9 1093.8 1231.4 1083.2 1222.9 1083.2 1206.0ZM1115.0 1197.5 1125.6 1206.0 1125.6 1222.9 1115.0 1231.4 1104.4 1222.9 1104.4 1206.0ZM1136.2 1197.5 1146.8 1206.0 1146.8 1222.9 1136.2 1231.4 1125.6 1222.9 1125.6 1206.0ZM1157.4 1197.5 1168.0 1206.0 1168.0 1222.9 1157.4 1231.4 1146.8 1222.9 1146.8 1206.0ZM1178.6 1197.5 1189.2 1206.0 1189.2 1222.9 1178.6 1231.4 1168.0 1222.9 1168.0 1206.0ZM839.4 1400.6 850.0 1409.0 850.0 1425.9 839.4 1434.4 828.8 1425.9 828.8 1409.0ZM860.6 1400.6 871.2 1409.0 871.2 1425.9 860.6 1434.4 850.0 1425.9 850.0 1409.0ZM1178.6 1400.6 1189.2 1409.0 1189.2 1425.9 1178.6 1434.4 1168.0 1425.9 1168.0 1409.0ZM850.0 1425.9 860.6 1434.4 860.6 1451.3 850.0 1459.8 839.4 1451.3 839.4 1434.4ZM1083.2 1425.9 1093.8 1434.4 1093.8 1451.3 1083.2 1459.8 1072.6 1451.3 1072.6 1434.4ZM1168.0 1425.9 1178.6 1434.4 1178.6 1451.3 1168.0 1459.8 1157.4 1451.3 1157.4 1434.4ZM1189.2 1425.9 1199.8 1434.4 1199.8 1451.3 1189.2 1459.8 1178.6 1451.3 1178.6 1434.4ZM1263.4 1146.8 1274.0 1155.2 1274.0 1172.1 1263.4 1180.6 1252.8 1172.1 1252.8 1155.2ZM1231.6 1172.1 1242.2 1180.6 1242.2 1197.5 1231.6 1206.0 1221.0 1197.5 1221.0 1180.6ZM1252.8 1172.1 1263.4 1180.6 1263.4 1197.5 1252.8 1206.0 1242.2 1197.5 1242.2 1180.6ZM1274.0 1172.1 1284.6 1180.6 1284.6 1197.5 1274.0 1206.0 1263.4 1197.5 1263.4 1180.6ZM1528.4 1172.1 1539.0 1180.6 1539.0 1197.5 1528.4 1206.0 1517.8 1197.5 1517.8 1180.6ZM1221.0 1197.5 1231.6 1206.0 1231.6 1222.9 1221.0 1231.4 1210.4 1222.9 1210.4 1206.0ZM1242.2 1197.5 1252.8 1206.0 1252.8 1222.9 1242.2 1231.4 1231.6 1222.9 1231.6 1206.0ZM1263.4 1197.5 1274.0 1206.0 1274.0 1222.9 1263.4 1231.4 1252.8 1222.9 1252.8 1206.0ZM1496.6 1197.5 1507.2 1206.0 1507.2 1222.9 1496.6 1231.4 1486.0 1222.9 1486.0 1206.0ZM1252.8 1222.9 1263.4 1231.4 1263.4 1248.3 1252.8 1256.7 1242.2 1248.3 1242.2 1231.4ZM1464.8 1222.9 1475.4 1231.4 1475.4 1248.3 1464.8 1256.7 1454.2 1248.3 1454.2 1231.4ZM1242.2 1248.3 1252.8 1256.7 1252.8 1273.7 1242.2 1282.1 1231.6 1273.7 1231.6 1256.7ZM1263.4 1248.3 1274.0 1256.7 1274.0 1273.7 1263.4 1282.1 1252.8 1273.7 1252.8 1256.7ZM1475.4 1248.3 1486.0 1256.7 1486.0 1273.7 1475.4 1282.1 1464.8 1273.7 1464.8 1256.7ZM1486.0 1273.7 1496.6 1282.1 1496.6 1299.0 1486.0 1307.5 1475.4 1299.0 1475.4 1282.1ZM1507.2 1273.7 1517.8 1282.1 1517.8 1299.0 1507.2 1307.5 1496.6 1299.0 1496.6 1282.1ZM1528.4 1273.7 1539.0 1282.1 1539.0 1299.0 1528.4 1307.5 1517.8 1299.0 1517.8 1282.1ZM1475.4 1299.0 1486.0 1307.5 1486.0 1324.4 1475.4 1332.9 1464.8 1324.4 1464.8 1307.5ZM1422.4 1324.4 1433.0 1332.9 1433.0 1349.8 1422.4 1358.3 1411.8 1349.8 1411.8 1332.9ZM1443.6 1324.4 1454.2 1332.9 1454.2 1349.8 1443.6 1358.3 1433.0 1349.8 1433.0 1332.9ZM1486.0 1324.4 1496.6 1332.9 1496.6 1349.8 1486.0 1358.3 1475.4 1349.8 1475.4 1332.9ZM1305.8 1349.8 1316.4 1358.3 1316.4 1375.2 1305.8 1383.6 1295.2 1375.2 1295.2 1358.3ZM1327.0 1349.8 1337.6 1358.3 1337.6 1375.2 1327.0 1383.6 1316.4 1375.2 1316.4 1358.3ZM1390.6 1349.8 1401.2 1358.3 1401.2 1375.2 1390.6 1383.6 1380.0 1375.2 1380.0 1358.3ZM1411.8 1349.8 1422.4 1358.3 1422.4 1375.2 1411.8 1383.6 1401.2 1375.2 1401.2 1358.3ZM1433.0 1349.8 1443.6 1358.3 1443.6 1375.2 1433.0 1383.6 1422.4 1375.2 1422.4 1358.3ZM1316.4 1375.2 1327.0 1383.6 1327.0 1400.6 1316.4 1409.0 1305.8 1400.6 1305.8 1383.6ZM1337.6 1375.2 1348.2 1383.6 1348.2 1400.6 1337.6 1409.0 1327.0 1400.6 1327.0 1383.6ZM1358.8 1375.2 1369.4 1383.6 1369.4 1400.6 1358.8 1409.0 1348.2 1400.6 1348.2 1383.6ZM1380.0 1375.2 1390.6 1383.6 1390.6 1400.6 1380.0 1409.0 1369.4 1400.6 1369.4 1383.6ZM1401.2 1375.2 1411.8 1383.6 1411.8 1400.6 1401.2 1409.0 1390.6 1400.6 1390.6 1383.6ZM1422.4 1375.2 1433.0 1383.6 1433.0 1400.6 1422.4 1409.0 1411.8 1400.6 1411.8 1383.6ZM1284.6 1400.6 1295.2 1409.0 1295.2 1425.9 1284.6 1434.4 1274.0 1425.9 1274.0 1409.0ZM1305.8 1400.6 1316.4 1409.0 1316.4 1425.9 1305.8 1434.4 1295.2 1425.9 1295.2 1409.0ZM1327.0 1400.6 1337.6 1409.0 1337.6 1425.9 1327.0 1434.4 1316.4 1425.9 1316.4 1409.0ZM1348.2 1400.6 1358.8 1409.0 1358.8 1425.9 1348.2 1434.4 1337.6 1425.9 1337.6 1409.0ZM1369.4 1400.6 1380.0 1409.0 1380.0 1425.9 1369.4 1434.4 1358.8 1425.9 1358.8 1409.0ZM1411.8 1400.6 1422.4 1409.0 1422.4 1425.9 1411.8 1434.4 1401.2 1425.9 1401.2 1409.0ZM1433.0 1400.6 1443.6 1409.0 1443.6 1425.9 1433.0 1434.4 1422.4 1425.9 1422.4 1409.0ZM1210.4 1425.9 1221.0 1434.4 1221.0 1451.3 1210.4 1459.8 1199.8 1451.3 1199.8 1434.4ZM1274.0 1425.9 1284.6 1434.4 1284.6 1451.3 1274.0 1459.8 1263.4 1451.3 1263.4 1434.4ZM1295.2 1425.9 1305.8 1434.4 1305.8 1451.3 1295.2 1459.8 1284.6 1451.3 1284.6 1434.4ZM1316.4 1425.9 1327.0 1434.4 1327.0 1451.3 1316.4 1459.8 1305.8 1451.3 1305.8 1434.4ZM1337.6 1425.9 1348.2 1434.4 1348.2 1451.3 1337.6 1459.8 1327.0 1451.3 1327.0 1434.4ZM1358.8 1425.9 1369.4 1434.4 1369.4 1451.3 1358.8 1459.8 1348.2 1451.3 1348.2 1434.4ZM1401.2 1425.9 1411.8 1434.4 1411.8 1451.3 1401.2 1459.8 1390.6 1451.3 1390.6 1434.4ZM1422.4 1425.9 1433.0 1434.4 1433.0 1451.3 1422.4 1459.8 1411.8 1451.3 1411.8 1434.4ZM1581.4 1146.8 1592.0 1155.2 1592.0 1172.1 1581.4 1180.6 1570.8 1172.1 1570.8 1155.2ZM1602.6 1146.8 1613.2 1155.2 1613.2 1172.1 1602.6 1180.6 1592.0 1172.1 1592.0 1155.2ZM1623.8 1146.8 1634.4 1155.2 1634.4 1172.1 1623.8 1180.6 1613.2 1172.1 1613.2 1155.2ZM1645.0 1146.8 1655.6 1155.2 1655.6 1172.1 1645.0 1180.6 1634.4 1172.1 1634.4 1155.2ZM1666.2 1146.8 1676.8 1155.2 1676.8 1172.1 1666.2 1180.6 1655.6 1172.1 1655.6 1155.2ZM1570.8 1172.1 1581.4 1180.6 1581.4 1197.5 1570.8 1206.0 1560.2 1197.5 1560.2 1180.6ZM1592.0 1172.1 1602.6 1180.6 1602.6 1197.5 1592.0 1206.0 1581.4 1197.5 1581.4 1180.6ZM1613.2 1172.1 1623.8 1180.6 1623.8 1197.5 1613.2 1206.0 1602.6 1197.5 1602.6 1180.6ZM1634.4 1172.1 1645.0 1180.6 1645.0 1197.5 1634.4 1206.0 1623.8 1197.5 1623.8 1180.6ZM1602.6 1197.5 1613.2 1206.0 1613.2 1222.9 1602.6 1231.4 1592.0 1222.9 1592.0 1206.0ZM1623.8 1197.5 1634.4 1206.0 1634.4 1222.9 1623.8 1231.4 1613.2 1222.9 1613.2 1206.0ZM1592.0 1222.9 1602.6 1231.4 1602.6 1248.3 1592.0 1256.7 1581.4 1248.3 1581.4 1231.4ZM1613.2 1222.9 1623.8 1231.4 1623.8 1248.3 1613.2 1256.7 1602.6 1248.3 1602.6 1231.4ZM1581.4 1248.3 1592.0 1256.7 1592.0 1273.7 1581.4 1282.1 1570.8 1273.7 1570.8 1256.7ZM447.2 1476.7 457.8 1485.2 457.8 1502.1 447.2 1510.5 436.6 1502.1 436.6 1485.2ZM468.4 1476.7 479.0 1485.2 479.0 1502.1 468.4 1510.5 457.8 1502.1 457.8 1485.2ZM457.8 1502.1 468.4 1510.5 468.4 1527.5 457.8 1535.9 447.2 1527.5 447.2 1510.5ZM447.2 1527.5 457.8 1535.9 457.8 1552.8 447.2 1561.3 436.6 1552.8 436.6 1535.9ZM468.4 1527.5 479.0 1535.9 479.0 1552.8 468.4 1561.3 457.8 1552.8 457.8 1535.9ZM436.6 1552.8 447.2 1561.3 447.2 1578.2 436.6 1586.7 426.0 1578.2 426.0 1561.3ZM457.8 1552.8 468.4 1561.3 468.4 1578.2 457.8 1586.7 447.2 1578.2 447.2 1561.3ZM447.2 1578.2 457.8 1586.7 457.8 1603.6 447.2 1612.1 436.6 1603.6 436.6 1586.7ZM468.4 1578.2 479.0 1586.7 479.0 1603.6 468.4 1612.1 457.8 1603.6 457.8 1586.7ZM457.8 1603.6 468.4 1612.1 468.4 1629.0 457.8 1637.4 447.2 1629.0 447.2 1612.1ZM479.0 1451.3 489.6 1459.8 489.6 1476.7 479.0 1485.2 468.4 1476.7 468.4 1459.8ZM500.2 1451.3 510.8 1459.8 510.8 1476.7 500.2 1485.2 489.6 1476.7 489.6 1459.8ZM521.4 1451.3 532.0 1459.8 532.0 1476.7 521.4 1485.2 510.8 1476.7 510.8 1459.8ZM542.6 1451.3 553.2 1459.8 553.2 1476.7 542.6 1485.2 532.0 1476.7 532.0 1459.8ZM563.8 1451.3 574.4 1459.8 574.4 1476.7 563.8 1485.2 553.2 1476.7 553.2 1459.8ZM585.0 1451.3 595.6 1459.8 595.6 1476.7 585.0 1485.2 574.4 1476.7 574.4 1459.8ZM606.2 1451.3 616.8 1459.8 616.8 1476.7 606.2 1485.2 595.6 1476.7 595.6 1459.8ZM691.0 1451.3 701.6 1459.8 701.6 1476.7 691.0 1485.2 680.4 1476.7 680.4 1459.8ZM712.2 1451.3 722.8 1459.8 722.8 1476.7 712.2 1485.2 701.6 1476.7 701.6 1459.8ZM733.4 1451.3 744.0 1459.8 744.0 1476.7 733.4 1485.2 722.8 1476.7 722.8 1459.8ZM754.6 1451.3 765.2 1459.8 765.2 1476.7 754.6 1485.2 744.0 1476.7 744.0 1459.8ZM775.8 1451.3 786.4 1459.8 786.4 1476.7 775.8 1485.2 765.2 1476.7 765.2 1459.8ZM797.0 1451.3 807.6 1459.8 807.6 1476.7 797.0 1485.2 786.4 1476.7 786.4 1459.8ZM818.2 1451.3 828.8 1459.8 828.8 1476.7 818.2 1485.2 807.6 1476.7 807.6 1459.8ZM489.6 1476.7 500.2 1485.2 500.2 1502.1 489.6 1510.5 479.0 1502.1 479.0 1485.2ZM510.8 1476.7 521.4 1485.2 521.4 1502.1 510.8 1510.5 500.2 1502.1 500.2 1485.2ZM532.0 1476.7 542.6 1485.2 542.6 1502.1 532.0 1510.5 521.4 1502.1 521.4 1485.2ZM553.2 1476.7 563.8 1485.2 563.8 1502.1 553.2 1510.5 542.6 1502.1 542.6 1485.2ZM574.4 1476.7 585.0 1485.2 585.0 1502.1 574.4 1510.5 563.8 1502.1 563.8 1485.2ZM595.6 1476.7 606.2 1485.2 606.2 1502.1 595.6 1510.5 585.0 1502.1 585.0 1485.2ZM701.6 1476.7 712.2 1485.2 712.2 1502.1 701.6 1510.5 691.0 1502.1 691.0 1485.2ZM765.2 1476.7 775.8 1485.2 775.8 1502.1 765.2 1510.5 754.6 1502.1 754.6 1485.2ZM786.4 1476.7 797.0 1485.2 797.0 1502.1 786.4 1510.5 775.8 1502.1 775.8 1485.2ZM807.6 1476.7 818.2 1485.2 818.2 1502.1 807.6 1510.5 797.0 1502.1 797.0 1485.2ZM479.0 1502.1 489.6 1510.5 489.6 1527.5 479.0 1535.9 468.4 1527.5 468.4 1510.5ZM500.2 1502.1 510.8 1510.5 510.8 1527.5 500.2 1535.9 489.6 1527.5 489.6 1510.5ZM521.4 1502.1 532.0 1510.5 532.0 1527.5 521.4 1535.9 510.8 1527.5 510.8 1510.5ZM542.6 1502.1 553.2 1510.5 553.2 1527.5 542.6 1535.9 532.0 1527.5 532.0 1510.5ZM563.8 1502.1 574.4 1510.5 574.4 1527.5 563.8 1535.9 553.2 1527.5 553.2 1510.5ZM585.0 1502.1 595.6 1510.5 595.6 1527.5 585.0 1535.9 574.4 1527.5 574.4 1510.5ZM606.2 1502.1 616.8 1510.5 616.8 1527.5 606.2 1535.9 595.6 1527.5 595.6 1510.5ZM754.6 1502.1 765.2 1510.5 765.2 1527.5 754.6 1535.9 744.0 1527.5 744.0 1510.5ZM775.8 1502.1 786.4 1510.5 786.4 1527.5 775.8 1535.9 765.2 1527.5 765.2 1510.5ZM797.0 1502.1 807.6 1510.5 807.6 1527.5 797.0 1535.9 786.4 1527.5 786.4 1510.5ZM489.6 1527.5 500.2 1535.9 500.2 1552.8 489.6 1561.3 479.0 1552.8 479.0 1535.9ZM510.8 1527.5 521.4 1535.9 521.4 1552.8 510.8 1561.3 500.2 1552.8 500.2 1535.9ZM532.0 1527.5 542.6 1535.9 542.6 1552.8 532.0 1561.3 521.4 1552.8 521.4 1535.9ZM553.2 1527.5 563.8 1535.9 563.8 1552.8 553.2 1561.3 542.6 1552.8 542.6 1535.9ZM574.4 1527.5 585.0 1535.9 585.0 1552.8 574.4 1561.3 563.8 1552.8 563.8 1535.9ZM595.6 1527.5 606.2 1535.9 606.2 1552.8 595.6 1561.3 585.0 1552.8 585.0 1535.9ZM616.8 1527.5 627.4 1535.9 627.4 1552.8 616.8 1561.3 606.2 1552.8 606.2 1535.9ZM638.0 1527.5 648.6 1535.9 648.6 1552.8 638.0 1561.3 627.4 1552.8 627.4 1535.9ZM680.4 1527.5 691.0 1535.9 691.0 1552.8 680.4 1561.3 669.8 1552.8 669.8 1535.9ZM701.6 1527.5 712.2 1535.9 712.2 1552.8 701.6 1561.3 691.0 1552.8 691.0 1535.9ZM722.8 1527.5 733.4 1535.9 733.4 1552.8 722.8 1561.3 712.2 1552.8 712.2 1535.9ZM744.0 1527.5 754.6 1535.9 754.6 1552.8 744.0 1561.3 733.4 1552.8 733.4 1535.9ZM765.2 1527.5 775.8 1535.9 775.8 1552.8 765.2 1561.3 754.6 1552.8 754.6 1535.9ZM786.4 1527.5 797.0 1535.9 797.0 1552.8 786.4 1561.3 775.8 1552.8 775.8 1535.9ZM807.6 1527.5 818.2 1535.9 818.2 1552.8 807.6 1561.3 797.0 1552.8 797.0 1535.9ZM479.0 1552.8 489.6 1561.3 489.6 1578.2 479.0 1586.7 468.4 1578.2 468.4 1561.3ZM500.2 1552.8 510.8 1561.3 510.8 1578.2 500.2 1586.7 489.6 1578.2 489.6 1561.3ZM521.4 1552.8 532.0 1561.3 532.0 1578.2 521.4 1586.7 510.8 1578.2 510.8 1561.3ZM542.6 1552.8 553.2 1561.3 553.2 1578.2 542.6 1586.7 532.0 1578.2 532.0 1561.3ZM563.8 1552.8 574.4 1561.3 574.4 1578.2 563.8 1586.7 553.2 1578.2 553.2 1561.3ZM585.0 1552.8 595.6 1561.3 595.6 1578.2 585.0 1586.7 574.4 1578.2 574.4 1561.3ZM606.2 1552.8 616.8 1561.3 616.8 1578.2 606.2 1586.7 595.6 1578.2 595.6 1561.3ZM627.4 1552.8 638.0 1561.3 638.0 1578.2 627.4 1586.7 616.8 1578.2 616.8 1561.3ZM648.6 1552.8 659.2 1561.3 659.2 1578.2 648.6 1586.7 638.0 1578.2 638.0 1561.3ZM669.8 1552.8 680.4 1561.3 680.4 1578.2 669.8 1586.7 659.2 1578.2 659.2 1561.3ZM691.0 1552.8 701.6 1561.3 701.6 1578.2 691.0 1586.7 680.4 1578.2 680.4 1561.3ZM797.0 1552.8 807.6 1561.3 807.6 1578.2 797.0 1586.7 786.4 1578.2 786.4 1561.3ZM489.6 1578.2 500.2 1586.7 500.2 1603.6 489.6 1612.1 479.0 1603.6 479.0 1586.7ZM595.6 1578.2 606.2 1586.7 606.2 1603.6 595.6 1612.1 585.0 1603.6 585.0 1586.7ZM616.8 1578.2 627.4 1586.7 627.4 1603.6 616.8 1612.1 606.2 1603.6 606.2 1586.7ZM638.0 1578.2 648.6 1586.7 648.6 1603.6 638.0 1612.1 627.4 1603.6 627.4 1586.7ZM659.2 1578.2 669.8 1586.7 669.8 1603.6 659.2 1612.1 648.6 1603.6 648.6 1586.7ZM680.4 1578.2 691.0 1586.7 691.0 1603.6 680.4 1612.1 669.8 1603.6 669.8 1586.7ZM786.4 1578.2 797.0 1586.7 797.0 1603.6 786.4 1612.1 775.8 1603.6 775.8 1586.7ZM479.0 1603.6 489.6 1612.1 489.6 1629.0 479.0 1637.4 468.4 1629.0 468.4 1612.1ZM585.0 1603.6 595.6 1612.1 595.6 1629.0 585.0 1637.4 574.4 1629.0 574.4 1612.1ZM606.2 1603.6 616.8 1612.1 616.8 1629.0 606.2 1637.4 595.6 1629.0 595.6 1612.1ZM627.4 1603.6 638.0 1612.1 638.0 1629.0 627.4 1637.4 616.8 1629.0 616.8 1612.1ZM648.6 1603.6 659.2 1612.1 659.2 1629.0 648.6 1637.4 638.0 1629.0 638.0 1612.1ZM574.4 1629.0 585.0 1637.4 585.0 1654.4 574.4 1662.8 563.8 1654.4 563.8 1637.4ZM595.6 1629.0 606.2 1637.4 606.2 1654.4 595.6 1662.8 585.0 1654.4 585.0 1637.4ZM510.8 1679.7 521.4 1688.2 521.4 1705.1 510.8 1713.6 500.2 1705.1 500.2 1688.2ZM521.4 1705.1 532.0 1713.6 532.0 1730.5 521.4 1739.0 510.8 1730.5 510.8 1713.6ZM542.6 1705.1 553.2 1713.6 553.2 1730.5 542.6 1739.0 532.0 1730.5 532.0 1713.6ZM532.0 1730.5 542.6 1739.0 542.6 1755.9 532.0 1764.3 521.4 1755.9 521.4 1739.0ZM839.4 1451.3 850.0 1459.8 850.0 1476.7 839.4 1485.2 828.8 1476.7 828.8 1459.8ZM1030.2 1451.3 1040.8 1459.8 1040.8 1476.7 1030.2 1485.2 1019.6 1476.7 1019.6 1459.8ZM1051.4 1451.3 1062.0 1459.8 1062.0 1476.7 1051.4 1485.2 1040.8 1476.7 1040.8 1459.8ZM1072.6 1451.3 1083.2 1459.8 1083.2 1476.7 1072.6 1485.2 1062.0 1476.7 1062.0 1459.8ZM1178.6 1451.3 1189.2 1459.8 1189.2 1476.7 1178.6 1485.2 1168.0 1476.7 1168.0 1459.8ZM1019.6 1476.7 1030.2 1485.2 1030.2 1502.1 1019.6 1510.5 1009.0 1502.1 1009.0 1485.2ZM1040.8 1476.7 1051.4 1485.2 1051.4 1502.1 1040.8 1510.5 1030.2 1502.1 1030.2 1485.2ZM1062.0 1476.7 1072.6 1485.2 1072.6 1502.1 1062.0 1510.5 1051.4 1502.1 1051.4 1485.2ZM1125.6 1476.7 1136.2 1485.2 1136.2 1502.1 1125.6 1510.5 1115.0 1502.1 1115.0 1485.2ZM1146.8 1476.7 1157.4 1485.2 1157.4 1502.1 1146.8 1510.5 1136.2 1502.1 1136.2 1485.2ZM1168.0 1476.7 1178.6 1485.2 1178.6 1502.1 1168.0 1510.5 1157.4 1502.1 1157.4 1485.2ZM1189.2 1476.7 1199.8 1485.2 1199.8 1502.1 1189.2 1510.5 1178.6 1502.1 1178.6 1485.2ZM1115.0 1502.1 1125.6 1510.5 1125.6 1527.5 1115.0 1535.9 1104.4 1527.5 1104.4 1510.5ZM1136.2 1502.1 1146.8 1510.5 1146.8 1527.5 1136.2 1535.9 1125.6 1527.5 1125.6 1510.5ZM1157.4 1502.1 1168.0 1510.5 1168.0 1527.5 1157.4 1535.9 1146.8 1527.5 1146.8 1510.5ZM1178.6 1502.1 1189.2 1510.5 1189.2 1527.5 1178.6 1535.9 1168.0 1527.5 1168.0 1510.5ZM1125.6 1527.5 1136.2 1535.9 1136.2 1552.8 1125.6 1561.3 1115.0 1552.8 1115.0 1535.9ZM1146.8 1527.5 1157.4 1535.9 1157.4 1552.8 1146.8 1561.3 1136.2 1552.8 1136.2 1535.9ZM1168.0 1527.5 1178.6 1535.9 1178.6 1552.8 1168.0 1561.3 1157.4 1552.8 1157.4 1535.9ZM1189.2 1527.5 1199.8 1535.9 1199.8 1552.8 1189.2 1561.3 1178.6 1552.8 1178.6 1535.9ZM1157.4 1552.8 1168.0 1561.3 1168.0 1578.2 1157.4 1586.7 1146.8 1578.2 1146.8 1561.3ZM1178.6 1552.8 1189.2 1561.3 1189.2 1578.2 1178.6 1586.7 1168.0 1578.2 1168.0 1561.3ZM1168.0 1578.2 1178.6 1586.7 1178.6 1603.6 1168.0 1612.1 1157.4 1603.6 1157.4 1586.7ZM1199.8 1451.3 1210.4 1459.8 1210.4 1476.7 1199.8 1485.2 1189.2 1476.7 1189.2 1459.8ZM1221.0 1451.3 1231.6 1459.8 1231.6 1476.7 1221.0 1485.2 1210.4 1476.7 1210.4 1459.8ZM1242.2 1451.3 1252.8 1459.8 1252.8 1476.7 1242.2 1485.2 1231.6 1476.7 1231.6 1459.8ZM1263.4 1451.3 1274.0 1459.8 1274.0 1476.7 1263.4 1485.2 1252.8 1476.7 1252.8 1459.8ZM1284.6 1451.3 1295.2 1459.8 1295.2 1476.7 1284.6 1485.2 1274.0 1476.7 1274.0 1459.8ZM1305.8 1451.3 1316.4 1459.8 1316.4 1476.7 1305.8 1485.2 1295.2 1476.7 1295.2 1459.8ZM1327.0 1451.3 1337.6 1459.8 1337.6 1476.7 1327.0 1485.2 1316.4 1476.7 1316.4 1459.8ZM1411.8 1451.3 1422.4 1459.8 1422.4 1476.7 1411.8 1485.2 1401.2 1476.7 1401.2 1459.8ZM1433.0 1451.3 1443.6 1459.8 1443.6 1476.7 1433.0 1485.2 1422.4 1476.7 1422.4 1459.8ZM1210.4 1476.7 1221.0 1485.2 1221.0 1502.1 1210.4 1510.5 1199.8 1502.1 1199.8 1485.2ZM1231.6 1476.7 1242.2 1485.2 1242.2 1502.1 1231.6 1510.5 1221.0 1502.1 1221.0 1485.2ZM1252.8 1476.7 1263.4 1485.2 1263.4 1502.1 1252.8 1510.5 1242.2 1502.1 1242.2 1485.2ZM1274.0 1476.7 1284.6 1485.2 1284.6 1502.1 1274.0 1510.5 1263.4 1502.1 1263.4 1485.2ZM1295.2 1476.7 1305.8 1485.2 1305.8 1502.1 1295.2 1510.5 1284.6 1502.1 1284.6 1485.2ZM1380.0 1476.7 1390.6 1485.2 1390.6 1502.1 1380.0 1510.5 1369.4 1502.1 1369.4 1485.2ZM1401.2 1476.7 1411.8 1485.2 1411.8 1502.1 1401.2 1510.5 1390.6 1502.1 1390.6 1485.2ZM1422.4 1476.7 1433.0 1485.2 1433.0 1502.1 1422.4 1510.5 1411.8 1502.1 1411.8 1485.2ZM1199.8 1502.1 1210.4 1510.5 1210.4 1527.5 1199.8 1535.9 1189.2 1527.5 1189.2 1510.5ZM1221.0 1502.1 1231.6 1510.5 1231.6 1527.5 1221.0 1535.9 1210.4 1527.5 1210.4 1510.5ZM1242.2 1502.1 1252.8 1510.5 1252.8 1527.5 1242.2 1535.9 1231.6 1527.5 1231.6 1510.5ZM1263.4 1502.1 1274.0 1510.5 1274.0 1527.5 1263.4 1535.9 1252.8 1527.5 1252.8 1510.5ZM1390.6 1502.1 1401.2 1510.5 1401.2 1527.5 1390.6 1535.9 1380.0 1527.5 1380.0 1510.5ZM1411.8 1502.1 1422.4 1510.5 1422.4 1527.5 1411.8 1535.9 1401.2 1527.5 1401.2 1510.5ZM1210.4 1527.5 1221.0 1535.9 1221.0 1552.8 1210.4 1561.3 1199.8 1552.8 1199.8 1535.9ZM1231.6 1527.5 1242.2 1535.9 1242.2 1552.8 1231.6 1561.3 1221.0 1552.8 1221.0 1535.9ZM1252.8 1527.5 1263.4 1535.9 1263.4 1552.8 1252.8 1561.3 1242.2 1552.8 1242.2 1535.9ZM1337.6 1527.5 1348.2 1535.9 1348.2 1552.8 1337.6 1561.3 1327.0 1552.8 1327.0 1535.9ZM1358.8 1527.5 1369.4 1535.9 1369.4 1552.8 1358.8 1561.3 1348.2 1552.8 1348.2 1535.9ZM1380.0 1527.5 1390.6 1535.9 1390.6 1552.8 1380.0 1561.3 1369.4 1552.8 1369.4 1535.9ZM1199.8 1552.8 1210.4 1561.3 1210.4 1578.2 1199.8 1586.7 1189.2 1578.2 1189.2 1561.3ZM1221.0 1552.8 1231.6 1561.3 1231.6 1578.2 1221.0 1586.7 1210.4 1578.2 1210.4 1561.3ZM1348.2 1552.8 1358.8 1561.3 1358.8 1578.2 1348.2 1586.7 1337.6 1578.2 1337.6 1561.3ZM1337.6 1578.2 1348.2 1586.7 1348.2 1603.6 1337.6 1612.1 1327.0 1603.6 1327.0 1586.7Z"/><path fill="#471365" stroke="#471365" stroke-width="0.6" d="M1920.6 436.1 1931.2 444.6 1931.2 461.5 1920.6 470.0 1910.0 461.5 1910.0 444.6ZM1931.2 461.5 1941.8 470.0 1941.8 486.9 1931.2 495.3 1920.6 486.9 1920.6 470.0ZM2005.4 486.9 2016.0 495.3 2016.0 512.3 2005.4 520.7 1994.8 512.3 1994.8 495.3ZM2026.6 486.9 2037.2 495.3 2037.2 512.3 2026.6 520.7 2016.0 512.3 2016.0 495.3ZM1994.8 512.3 2005.4 520.7 2005.4 537.6 1994.8 546.1 1984.2 537.6 1984.2 520.7ZM2016.0 512.3 2026.6 520.7 2026.6 537.6 2016.0 546.1 2005.4 537.6 2005.4 520.7ZM1751.0 334.6 1761.6 343.1 1761.6 360.0 1751.0 368.4 1740.4 360.0 1740.4 343.1ZM1772.2 334.6 1782.8 343.1 1782.8 360.0 1772.2 368.4 1761.6 360.0 1761.6 343.1ZM1761.6 360.0 1772.2 368.4 1772.2 385.4 1761.6 393.8 1751.0 385.4 1751.0 368.4ZM1782.8 360.0 1793.4 368.4 1793.4 385.4 1782.8 393.8 1772.2 385.4 1772.2 368.4ZM1804.0 360.0 1814.6 368.4 1814.6 385.4 1804.0 393.8 1793.4 385.4 1793.4 368.4ZM1825.2 360.0 1835.8 368.4 1835.8 385.4 1825.2 393.8 1814.6 385.4 1814.6 368.4ZM1602.6 385.4 1613.2 393.8 1613.2 410.7 1602.6 419.2 1592.0 410.7 1592.0 393.8ZM1751.0 385.4 1761.6 393.8 1761.6 410.7 1751.0 419.2 1740.4 410.7 1740.4 393.8ZM1772.2 385.4 1782.8 393.8 1782.8 410.7 1772.2 419.2 1761.6 410.7 1761.6 393.8ZM1814.6 385.4 1825.2 393.8 1825.2 410.7 1814.6 419.2 1804.0 410.7 1804.0 393.8ZM1570.8 410.7 1581.4 419.2 1581.4 436.1 1570.8 444.6 1560.2 436.1 1560.2 419.2ZM1592.0 410.7 1602.6 419.2 1602.6 436.1 1592.0 444.6 1581.4 436.1 1581.4 419.2ZM1560.2 436.1 1570.8 444.6 1570.8 461.5 1560.2 470.0 1549.6 461.5 1549.6 444.6ZM1581.4 436.1 1592.0 444.6 1592.0 461.5 1581.4 470.0 1570.8 461.5 1570.8 444.6ZM1676.8 461.5 1687.4 470.0 1687.4 486.9 1676.8 495.3 1666.2 486.9 1666.2 470.0ZM1666.2 486.9 1676.8 495.3 1676.8 512.3 1666.2 520.7 1655.6 512.3 1655.6 495.3ZM1687.4 486.9 1698.0 495.3 1698.0 512.3 1687.4 520.7 1676.8 512.3 1676.8 495.3ZM1708.6 486.9 1719.2 495.3 1719.2 512.3 1708.6 520.7 1698.0 512.3 1698.0 495.3ZM1814.6 486.9 1825.2 495.3 1825.2 512.3 1814.6 520.7 1804.0 512.3 1804.0 495.3ZM1676.8 512.3 1687.4 520.7 1687.4 537.6 1676.8 546.1 1666.2 537.6 1666.2 520.7ZM1698.0 512.3 1708.6 520.7 1708.6 537.6 1698.0 546.1 1687.4 537.6 1687.4 520.7ZM1295.2 461.5 1305.8 470.0 1305.8 486.9 1295.2 495.3 1284.6 486.9 1284.6 470.0ZM1316.4 461.5 1327.0 470.0 1327.0 486.9 1316.4 495.3 1305.8 486.9 1305.8 470.0ZM1221.0 486.9 1231.6 495.3 1231.6 512.3 1221.0 520.7 1210.4 512.3 1210.4 495.3ZM1475.4 486.9 1486.0 495.3 1486.0 512.3 1475.4 520.7 1464.8 512.3 1464.8 495.3ZM1496.6 486.9 1507.2 495.3 1507.2 512.3 1496.6 520.7 1486.0 512.3 1486.0 495.3ZM1517.8 486.9 1528.4 495.3 1528.4 512.3 1517.8 520.7 1507.2 512.3 1507.2 495.3ZM1316.4 512.3 1327.0 520.7 1327.0 537.6 1316.4 546.1 1305.8 537.6 1305.8 520.7ZM1337.6 512.3 1348.2 520.7 1348.2 537.6 1337.6 546.1 1327.0 537.6 1327.0 520.7ZM1464.8 512.3 1475.4 520.7 1475.4 537.6 1464.8 546.1 1454.2 537.6 1454.2 520.7ZM1486.0 512.3 1496.6 520.7 1496.6 537.6 1486.0 546.1 1475.4 537.6 1475.4 520.7ZM1507.2 512.3 1517.8 520.7 1517.8 537.6 1507.2 546.1 1496.6 537.6 1496.6 520.7ZM1528.4 512.3 1539.0 520.7 1539.0 537.6 1528.4 546.1 1517.8 537.6 1517.8 520.7ZM2153.8 537.6 2164.4 546.1 2164.4 563.0 2153.8 571.5 2143.2 563.0 2143.2 546.1ZM2175.0 537.6 2185.6 546.1 2185.6 563.0 2175.0 571.5 2164.4 563.0 2164.4 546.1ZM2217.4 537.6 2228.0 546.1 2228.0 563.0 2217.4 571.5 2206.8 563.0 2206.8 546.1ZM2143.2 563.0 2153.8 571.5 2153.8 588.4 2143.2 596.9 2132.6 588.4 2132.6 571.5ZM2164.4 563.0 2175.0 571.5 2175.0 588.4 2164.4 596.9 2153.8 588.4 2153.8 571.5ZM2185.6 563.0 2196.2 571.5 2196.2 588.4 2185.6 596.9 2175.0 588.4 2175.0 571.5ZM2206.8 563.0 2217.4 571.5 2217.4 588.4 2206.8 596.9 2196.2 588.4 2196.2 571.5ZM2228.0 563.0 2238.6 571.5 2238.6 588.4 2228.0 596.9 2217.4 588.4 2217.4 571.5ZM2249.2 563.0 2259.8 571.5 2259.8 588.4 2249.2 596.9 2238.6 588.4 2238.6 571.5ZM1984.2 588.4 1994.8 596.9 1994.8 613.8 1984.2 622.2 1973.6 613.8 1973.6 596.9ZM2005.4 588.4 2016.0 596.9 2016.0 613.8 2005.4 622.2 1994.8 613.8 1994.8 596.9ZM2217.4 588.4 2228.0 596.9 2228.0 613.8 2217.4 622.2 2206.8 613.8 2206.8 596.9ZM1994.8 613.8 2005.4 622.2 2005.4 639.2 1994.8 647.6 1984.2 639.2 1984.2 622.2ZM2016.0 613.8 2026.6 622.2 2026.6 639.2 2016.0 647.6 2005.4 639.2 2005.4 622.2ZM2037.2 613.8 2047.8 622.2 2047.8 639.2 2037.2 647.6 2026.6 639.2 2026.6 622.2ZM2005.4 639.2 2016.0 647.6 2016.0 664.5 2005.4 673.0 1994.8 664.5 1994.8 647.6ZM2026.6 639.2 2037.2 647.6 2037.2 664.5 2026.6 673.0 2016.0 664.5 2016.0 647.6ZM1952.4 664.5 1963.0 673.0 1963.0 689.9 1952.4 698.4 1941.8 689.9 1941.8 673.0ZM1973.6 664.5 1984.2 673.0 1984.2 689.9 1973.6 698.4 1963.0 689.9 1963.0 673.0ZM1994.8 664.5 2005.4 673.0 2005.4 689.9 1994.8 698.4 1984.2 689.9 1984.2 673.0ZM2037.2 664.5 2047.8 673.0 2047.8 689.9 2037.2 698.4 2026.6 689.9 2026.6 673.0ZM2058.4 664.5 2069.0 673.0 2069.0 689.9 2058.4 698.4 2047.8 689.9 2047.8 673.0ZM2185.6 664.5 2196.2 673.0 2196.2 689.9 2185.6 698.4 2175.0 689.9 2175.0 673.0ZM1920.6 689.9 1931.2 698.4 1931.2 715.3 1920.6 723.8 1910.0 715.3 1910.0 698.4ZM1941.8 689.9 1952.4 698.4 1952.4 715.3 1941.8 723.8 1931.2 715.3 1931.2 698.4ZM1963.0 689.9 1973.6 698.4 1973.6 715.3 1963.0 723.8 1952.4 715.3 1952.4 698.4ZM2069.0 689.9 2079.6 698.4 2079.6 715.3 2069.0 723.8 2058.4 715.3 2058.4 698.4ZM2090.2 689.9 2100.8 698.4 2100.8 715.3 2090.2 723.8 2079.6 715.3 2079.6 698.4ZM1910.0 715.3 1920.6 723.8 1920.6 740.7 1910.0 749.1 1899.4 740.7 1899.4 723.8ZM1952.4 715.3 1963.0 723.8 1963.0 740.7 1952.4 749.1 1941.8 740.7 1941.8 723.8ZM1973.6 715.3 1984.2 723.8 1984.2 740.7 1973.6 749.1 1963.0 740.7 1963.0 723.8ZM1994.8 715.3 2005.4 723.8 2005.4 740.7 1994.8 749.1 1984.2 740.7 1984.2 723.8ZM2037.2 715.3 2047.8 723.8 2047.8 740.7 2037.2 749.1 2026.6 740.7 2026.6 723.8ZM2058.4 715.3 2069.0 723.8 2069.0 740.7 2058.4 749.1 2047.8 740.7 2047.8 723.8ZM2079.6 715.3 2090.2 723.8 2090.2 740.7 2079.6 749.1 2069.0 740.7 2069.0 723.8ZM2100.8 715.3 2111.4 723.8 2111.4 740.7 2100.8 749.1 2090.2 740.7 2090.2 723.8ZM1920.6 740.7 1931.2 749.1 1931.2 766.1 1920.6 774.5 1910.0 766.1 1910.0 749.1ZM2069.0 740.7 2079.6 749.1 2079.6 766.1 2069.0 774.5 2058.4 766.1 2058.4 749.1ZM1994.8 766.1 2005.4 774.5 2005.4 791.4 1994.8 799.9 1984.2 791.4 1984.2 774.5ZM2016.0 766.1 2026.6 774.5 2026.6 791.4 2016.0 799.9 2005.4 791.4 2005.4 774.5ZM1920.6 791.4 1931.2 799.9 1931.2 816.8 1920.6 825.3 1910.0 816.8 1910.0 799.9ZM1560.2 537.6 1570.8 546.1 1570.8 563.0 1560.2 571.5 1549.6 563.0 1549.6 546.1ZM1687.4 537.6 1698.0 546.1 1698.0 563.0 1687.4 571.5 1676.8 563.0 1676.8 546.1ZM1549.6 563.0 1560.2 571.5 1560.2 588.4 1549.6 596.9 1539.0 588.4 1539.0 571.5ZM1804.0 563.0 1814.6 571.5 1814.6 588.4 1804.0 596.9 1793.4 588.4 1793.4 571.5ZM1666.2 588.4 1676.8 596.9 1676.8 613.8 1666.2 622.2 1655.6 613.8 1655.6 596.9ZM1772.2 588.4 1782.8 596.9 1782.8 613.8 1772.2 622.2 1761.6 613.8 1761.6 596.9ZM1793.4 588.4 1804.0 596.9 1804.0 613.8 1793.4 622.2 1782.8 613.8 1782.8 596.9ZM1655.6 613.8 1666.2 622.2 1666.2 639.2 1655.6 647.6 1645.0 639.2 1645.0 622.2ZM1676.8 613.8 1687.4 622.2 1687.4 639.2 1676.8 647.6 1666.2 639.2 1666.2 622.2ZM1793.4 639.2 1804.0 647.6 1804.0 664.5 1793.4 673.0 1782.8 664.5 1782.8 647.6ZM1719.2 664.5 1729.8 673.0 1729.8 689.9 1719.2 698.4 1708.6 689.9 1708.6 673.0ZM1740.4 664.5 1751.0 673.0 1751.0 689.9 1740.4 698.4 1729.8 689.9 1729.8 673.0ZM1761.6 664.5 1772.2 673.0 1772.2 689.9 1761.6 698.4 1751.0 689.9 1751.0 673.0ZM1708.6 689.9 1719.2 698.4 1719.2 715.3 1708.6 723.8 1698.0 715.3 1698.0 698.4ZM1729.8 689.9 1740.4 698.4 1740.4 715.3 1729.8 723.8 1719.2 715.3 1719.2 698.4ZM1751.0 689.9 1761.6 698.4 1761.6 715.3 1751.0 723.8 1740.4 715.3 1740.4 698.4ZM1814.6 689.9 1825.2 698.4 1825.2 715.3 1814.6 723.8 1804.0 715.3 1804.0 698.4ZM1719.2 715.3 1729.8 723.8 1729.8 740.7 1719.2 749.1 1708.6 740.7 1708.6 723.8ZM1740.4 715.3 1751.0 723.8 1751.0 740.7 1740.4 749.1 1729.8 740.7 1729.8 723.8ZM1761.6 766.1 1772.2 774.5 1772.2 791.4 1761.6 799.9 1751.0 791.4 1751.0 774.5ZM1782.8 766.1 1793.4 774.5 1793.4 791.4 1782.8 799.9 1772.2 791.4 1772.2 774.5ZM1560.2 791.4 1570.8 799.9 1570.8 816.8 1560.2 825.3 1549.6 816.8 1549.6 799.9ZM1581.4 791.4 1592.0 799.9 1592.0 816.8 1581.4 825.3 1570.8 816.8 1570.8 799.9ZM1602.6 791.4 1613.2 799.9 1613.2 816.8 1602.6 825.3 1592.0 816.8 1592.0 799.9ZM1623.8 791.4 1634.4 799.9 1634.4 816.8 1623.8 825.3 1613.2 816.8 1613.2 799.9ZM1729.8 791.4 1740.4 799.9 1740.4 816.8 1729.8 825.3 1719.2 816.8 1719.2 799.9ZM1772.2 791.4 1782.8 799.9 1782.8 816.8 1772.2 825.3 1761.6 816.8 1761.6 799.9ZM1793.4 791.4 1804.0 799.9 1804.0 816.8 1793.4 825.3 1782.8 816.8 1782.8 799.9ZM1814.6 791.4 1825.2 799.9 1825.2 816.8 1814.6 825.3 1804.0 816.8 1804.0 799.9ZM1549.6 816.8 1560.2 825.3 1560.2 842.2 1549.6 850.7 1539.0 842.2 1539.0 825.3ZM1570.8 816.8 1581.4 825.3 1581.4 842.2 1570.8 850.7 1560.2 842.2 1560.2 825.3ZM1592.0 816.8 1602.6 825.3 1602.6 842.2 1592.0 850.7 1581.4 842.2 1581.4 825.3ZM1613.2 816.8 1623.8 825.3 1623.8 842.2 1613.2 850.7 1602.6 842.2 1602.6 825.3ZM1634.4 816.8 1645.0 825.3 1645.0 842.2 1634.4 850.7 1623.8 842.2 1623.8 825.3ZM1698.0 816.8 1708.6 825.3 1708.6 842.2 1698.0 850.7 1687.4 842.2 1687.4 825.3ZM1782.8 816.8 1793.4 825.3 1793.4 842.2 1782.8 850.7 1772.2 842.2 1772.2 825.3ZM1804.0 816.8 1814.6 825.3 1814.6 842.2 1804.0 850.7 1793.4 842.2 1793.4 825.3ZM1825.2 816.8 1835.8 825.3 1835.8 842.2 1825.2 850.7 1814.6 842.2 1814.6 825.3ZM1221.0 537.6 1231.6 546.1 1231.6 563.0 1221.0 571.5 1210.4 563.0 1210.4 546.1ZM1242.2 537.6 1252.8 546.1 1252.8 563.0 1242.2 571.5 1231.6 563.0 1231.6 546.1ZM1305.8 537.6 1316.4 546.1 1316.4 563.0 1305.8 571.5 1295.2 563.0 1295.2 546.1ZM1327.0 537.6 1337.6 546.1 1337.6 563.0 1327.0 571.5 1316.4 563.0 1316.4 546.1ZM1231.6 563.0 1242.2 571.5 1242.2 588.4 1231.6 596.9 1221.0 588.4 1221.0 571.5ZM1316.4 563.0 1327.0 571.5 1327.0 588.4 1316.4 596.9 1305.8 588.4 1305.8 571.5ZM1454.2 639.2 1464.8 647.6 1464.8 664.5 1454.2 673.0 1443.6 664.5 1443.6 647.6ZM1358.8 664.5 1369.4 673.0 1369.4 689.9 1358.8 698.4 1348.2 689.9 1348.2 673.0ZM1380.0 664.5 1390.6 673.0 1390.6 689.9 1380.0 698.4 1369.4 689.9 1369.4 673.0ZM1401.2 664.5 1411.8 673.0 1411.8 689.9 1401.2 698.4 1390.6 689.9 1390.6 673.0ZM1464.8 664.5 1475.4 673.0 1475.4 689.9 1464.8 698.4 1454.2 689.9 1454.2 673.0ZM1486.0 664.5 1496.6 673.0 1496.6 689.9 1486.0 698.4 1475.4 689.9 1475.4 673.0ZM1507.2 664.5 1517.8 673.0 1517.8 689.9 1507.2 698.4 1496.6 689.9 1496.6 673.0ZM1327.0 689.9 1337.6 698.4 1337.6 715.3 1327.0 723.8 1316.4 715.3 1316.4 698.4ZM1454.2 689.9 1464.8 698.4 1464.8 715.3 1454.2 723.8 1443.6 715.3 1443.6 698.4ZM1475.4 689.9 1486.0 698.4 1486.0 715.3 1475.4 723.8 1464.8 715.3 1464.8 698.4ZM1496.6 689.9 1507.2 698.4 1507.2 715.3 1496.6 723.8 1486.0 715.3 1486.0 698.4ZM1539.0 689.9 1549.6 698.4 1549.6 715.3 1539.0 723.8 1528.4 715.3 1528.4 698.4ZM1252.8 715.3 1263.4 723.8 1263.4 740.7 1252.8 749.1 1242.2 740.7 1242.2 723.8ZM1274.0 715.3 1284.6 723.8 1284.6 740.7 1274.0 749.1 1263.4 740.7 1263.4 723.8ZM1295.2 715.3 1305.8 723.8 1305.8 740.7 1295.2 749.1 1284.6 740.7 1284.6 723.8ZM1316.4 715.3 1327.0 723.8 1327.0 740.7 1316.4 749.1 1305.8 740.7 1305.8 723.8ZM1337.6 715.3 1348.2 723.8 1348.2 740.7 1337.6 749.1 1327.0 740.7 1327.0 723.8ZM1443.6 715.3 1454.2 723.8 1454.2 740.7 1443.6 749.1 1433.0 740.7 1433.0 723.8ZM1242.2 740.7 1252.8 749.1 1252.8 766.1 1242.2 774.5 1231.6 766.1 1231.6 749.1ZM1454.2 740.7 1464.8 749.1 1464.8 766.1 1454.2 774.5 1443.6 766.1 1443.6 749.1ZM1210.4 766.1 1221.0 774.5 1221.0 791.4 1210.4 799.9 1199.8 791.4 1199.8 774.5ZM1199.8 791.4 1210.4 799.9 1210.4 816.8 1199.8 825.3 1189.2 816.8 1189.2 799.9ZM1221.0 791.4 1231.6 799.9 1231.6 816.8 1221.0 825.3 1210.4 816.8 1210.4 799.9ZM1263.4 791.4 1274.0 799.9 1274.0 816.8 1263.4 825.3 1252.8 816.8 1252.8 799.9ZM1189.2 816.8 1199.8 825.3 1199.8 842.2 1189.2 850.7 1178.6 842.2 1178.6 825.3ZM1210.4 816.8 1221.0 825.3 1221.0 842.2 1210.4 850.7 1199.8 842.2 1199.8 825.3ZM1486.0 816.8 1496.6 825.3 1496.6 842.2 1486.0 850.7 1475.4 842.2 1475.4 825.3ZM1157.4 537.6 1168.0 546.1 1168.0 563.0 1157.4 571.5 1146.8 563.0 1146.8 546.1ZM881.8 588.4 892.4 596.9 892.4 613.8 881.8 622.2 871.2 613.8 871.2 596.9ZM903.0 588.4 913.6 596.9 913.6 613.8 903.0 622.2 892.4 613.8 892.4 596.9ZM1157.4 588.4 1168.0 596.9 1168.0 613.8 1157.4 622.2 1146.8 613.8 1146.8 596.9ZM871.2 613.8 881.8 622.2 881.8 639.2 871.2 647.6 860.6 639.2 860.6 622.2ZM1146.8 613.8 1157.4 622.2 1157.4 639.2 1146.8 647.6 1136.2 639.2 1136.2 622.2ZM881.8 639.2 892.4 647.6 892.4 664.5 881.8 673.0 871.2 664.5 871.2 647.6ZM903.0 639.2 913.6 647.6 913.6 664.5 903.0 673.0 892.4 664.5 892.4 647.6ZM1051.4 639.2 1062.0 647.6 1062.0 664.5 1051.4 673.0 1040.8 664.5 1040.8 647.6ZM1072.6 639.2 1083.2 647.6 1083.2 664.5 1072.6 673.0 1062.0 664.5 1062.0 647.6ZM1093.8 639.2 1104.4 647.6 1104.4 664.5 1093.8 673.0 1083.2 664.5 1083.2 647.6ZM1115.0 639.2 1125.6 647.6 1125.6 664.5 1115.0 673.0 1104.4 664.5 1104.4 647.6ZM1040.8 664.5 1051.4 673.0 1051.4 689.9 1040.8 698.4 1030.2 689.9 1030.2 673.0ZM1062.0 664.5 1072.6 673.0 1072.6 689.9 1062.0 698.4 1051.4 689.9 1051.4 673.0ZM1083.2 664.5 1093.8 673.0 1093.8 689.9 1083.2 698.4 1072.6 689.9 1072.6 673.0ZM1104.4 664.5 1115.0 673.0 1115.0 689.9 1104.4 698.4 1093.8 689.9 1093.8 673.0ZM1125.6 664.5 1136.2 673.0 1136.2 689.9 1125.6 698.4 1115.0 689.9 1115.0 673.0ZM903.0 689.9 913.6 698.4 913.6 715.3 903.0 723.8 892.4 715.3 892.4 698.4ZM924.2 689.9 934.8 698.4 934.8 715.3 924.2 723.8 913.6 715.3 913.6 698.4ZM1030.2 689.9 1040.8 698.4 1040.8 715.3 1030.2 723.8 1019.6 715.3 1019.6 698.4ZM1051.4 689.9 1062.0 698.4 1062.0 715.3 1051.4 723.8 1040.8 715.3 1040.8 698.4ZM1072.6 689.9 1083.2 698.4 1083.2 715.3 1072.6 723.8 1062.0 715.3 1062.0 698.4ZM1093.8 689.9 1104.4 698.4 1104.4 715.3 1093.8 723.8 1083.2 715.3 1083.2 698.4ZM1062.0 715.3 1072.6 723.8 1072.6 740.7 1062.0 749.1 1051.4 740.7 1051.4 723.8ZM1104.4 715.3 1115.0 723.8 1115.0 740.7 1104.4 749.1 1093.8 740.7 1093.8 723.8ZM1125.6 715.3 1136.2 723.8 1136.2 740.7 1125.6 749.1 1115.0 740.7 1115.0 723.8ZM1072.6 740.7 1083.2 749.1 1083.2 766.1 1072.6 774.5 1062.0 766.1 1062.0 749.1ZM1093.8 740.7 1104.4 749.1 1104.4 766.1 1093.8 774.5 1083.2 766.1 1083.2 749.1ZM1115.0 740.7 1125.6 749.1 1125.6 766.1 1115.0 774.5 1104.4 766.1 1104.4 749.1ZM1136.2 740.7 1146.8 749.1 1146.8 766.1 1136.2 774.5 1125.6 766.1 1125.6 749.1ZM1178.6 740.7 1189.2 749.1 1189.2 766.1 1178.6 774.5 1168.0 766.1 1168.0 749.1ZM1062.0 766.1 1072.6 774.5 1072.6 791.4 1062.0 799.9 1051.4 791.4 1051.4 774.5ZM1083.2 766.1 1093.8 774.5 1093.8 791.4 1083.2 799.9 1072.6 791.4 1072.6 774.5ZM1146.8 766.1 1157.4 774.5 1157.4 791.4 1146.8 799.9 1136.2 791.4 1136.2 774.5ZM1168.0 766.1 1178.6 774.5 1178.6 791.4 1168.0 799.9 1157.4 791.4 1157.4 774.5ZM1093.8 791.4 1104.4 799.9 1104.4 816.8 1093.8 825.3 1083.2 816.8 1083.2 799.9ZM1115.0 791.4 1125.6 799.9 1125.6 816.8 1115.0 825.3 1104.4 816.8 1104.4 799.9ZM1178.6 791.4 1189.2 799.9 1189.2 816.8 1178.6 825.3 1168.0 816.8 1168.0 799.9ZM1083.2 816.8 1093.8 825.3 1093.8 842.2 1083.2 850.7 1072.6 842.2 1072.6 825.3ZM394.2 842.2 404.8 850.7 404.8 867.6 394.2 876.0 383.6 867.6 383.6 850.7ZM415.4 842.2 426.0 850.7 426.0 867.6 415.4 876.0 404.8 867.6 404.8 850.7ZM404.8 867.6 415.4 876.0 415.4 893.0 404.8 901.4 394.2 893.0 394.2 876.0ZM426.0 867.6 436.6 876.0 436.6 893.0 426.0 901.4 415.4 893.0 415.4 876.0ZM415.4 893.0 426.0 901.4 426.0 918.3 415.4 926.8 404.8 918.3 404.8 901.4ZM426.0 918.3 436.6 926.8 436.6 943.7 426.0 952.2 415.4 943.7 415.4 926.8ZM447.2 918.3 457.8 926.8 457.8 943.7 447.2 952.2 436.6 943.7 436.6 926.8ZM373.0 943.7 383.6 952.2 383.6 969.1 373.0 977.6 362.4 969.1 362.4 952.2ZM415.4 943.7 426.0 952.2 426.0 969.1 415.4 977.6 404.8 969.1 404.8 952.2ZM436.6 943.7 447.2 952.2 447.2 969.1 436.6 977.6 426.0 969.1 426.0 952.2ZM457.8 943.7 468.4 952.2 468.4 969.1 457.8 977.6 447.2 969.1 447.2 952.2ZM341.2 969.1 351.8 977.6 351.8 994.5 341.2 1002.9 330.6 994.5 330.6 977.6ZM362.4 969.1 373.0 977.6 373.0 994.5 362.4 1002.9 351.8 994.5 351.8 977.6ZM383.6 969.1 394.2 977.6 394.2 994.5 383.6 1002.9 373.0 994.5 373.0 977.6ZM404.8 969.1 415.4 977.6 415.4 994.5 404.8 1002.9 394.2 994.5 394.2 977.6ZM351.8 994.5 362.4 1002.9 362.4 1019.9 351.8 1028.3 341.2 1019.9 341.2 1002.9ZM373.0 994.5 383.6 1002.9 383.6 1019.9 373.0 1028.3 362.4 1019.9 362.4 1002.9ZM818.2 893.0 828.8 901.4 828.8 918.3 818.2 926.8 807.6 918.3 807.6 901.4ZM807.6 918.3 818.2 926.8 818.2 943.7 807.6 952.2 797.0 943.7 797.0 926.8ZM627.4 943.7 638.0 952.2 638.0 969.1 627.4 977.6 616.8 969.1 616.8 952.2ZM648.6 943.7 659.2 952.2 659.2 969.1 648.6 977.6 638.0 969.1 638.0 952.2ZM754.6 943.7 765.2 952.2 765.2 969.1 754.6 977.6 744.0 969.1 744.0 952.2ZM775.8 943.7 786.4 952.2 786.4 969.1 775.8 977.6 765.2 969.1 765.2 952.2ZM818.2 943.7 828.8 952.2 828.8 969.1 818.2 977.6 807.6 969.1 807.6 952.2ZM659.2 969.1 669.8 977.6 669.8 994.5 659.2 1002.9 648.6 994.5 648.6 977.6ZM744.0 969.1 754.6 977.6 754.6 994.5 744.0 1002.9 733.4 994.5 733.4 977.6ZM807.6 969.1 818.2 977.6 818.2 994.5 807.6 1002.9 797.0 994.5 797.0 977.6ZM595.6 1019.9 606.2 1028.3 606.2 1045.2 595.6 1053.7 585.0 1045.2 585.0 1028.3ZM616.8 1019.9 627.4 1028.3 627.4 1045.2 616.8 1053.7 606.2 1045.2 606.2 1028.3ZM638.0 1019.9 648.6 1028.3 648.6 1045.2 638.0 1053.7 627.4 1045.2 627.4 1028.3ZM659.2 1019.9 669.8 1028.3 669.8 1045.2 659.2 1053.7 648.6 1045.2 648.6 1028.3ZM585.0 1045.2 595.6 1053.7 595.6 1070.6 585.0 1079.1 574.4 1070.6 574.4 1053.7ZM828.8 1070.6 839.4 1079.1 839.4 1096.0 828.8 1104.5 818.2 1096.0 818.2 1079.1ZM542.6 1096.0 553.2 1104.5 553.2 1121.4 542.6 1129.8 532.0 1121.4 532.0 1104.5ZM563.8 1096.0 574.4 1104.5 574.4 1121.4 563.8 1129.8 553.2 1121.4 553.2 1104.5ZM585.0 1096.0 595.6 1104.5 595.6 1121.4 585.0 1129.8 574.4 1121.4 574.4 1104.5ZM1009.0 842.2 1019.6 850.7 1019.6 867.6 1009.0 876.0 998.4 867.6 998.4 850.7ZM1030.2 842.2 1040.8 850.7 1040.8 867.6 1030.2 876.0 1019.6 867.6 1019.6 850.7ZM1051.4 842.2 1062.0 850.7 1062.0 867.6 1051.4 876.0 1040.8 867.6 1040.8 850.7ZM1072.6 842.2 1083.2 850.7 1083.2 867.6 1072.6 876.0 1062.0 867.6 1062.0 850.7ZM1115.0 842.2 1125.6 850.7 1125.6 867.6 1115.0 876.0 1104.4 867.6 1104.4 850.7ZM1157.4 842.2 1168.0 850.7 1168.0 867.6 1157.4 876.0 1146.8 867.6 1146.8 850.7ZM1019.6 867.6 1030.2 876.0 1030.2 893.0 1019.6 901.4 1009.0 893.0 1009.0 876.0ZM1040.8 867.6 1051.4 876.0 1051.4 893.0 1040.8 901.4 1030.2 893.0 1030.2 876.0ZM1062.0 867.6 1072.6 876.0 1072.6 893.0 1062.0 901.4 1051.4 893.0 1051.4 876.0ZM839.4 893.0 850.0 901.4 850.0 918.3 839.4 926.8 828.8 918.3 828.8 901.4ZM860.6 893.0 871.2 901.4 871.2 918.3 860.6 926.8 850.0 918.3 850.0 901.4ZM987.8 893.0 998.4 901.4 998.4 918.3 987.8 926.8 977.2 918.3 977.2 901.4ZM1093.8 893.0 1104.4 901.4 1104.4 918.3 1093.8 926.8 1083.2 918.3 1083.2 901.4ZM871.2 918.3 881.8 926.8 881.8 943.7 871.2 952.2 860.6 943.7 860.6 926.8ZM977.2 918.3 987.8 926.8 987.8 943.7 977.2 952.2 966.6 943.7 966.6 926.8ZM998.4 918.3 1009.0 926.8 1009.0 943.7 998.4 952.2 987.8 943.7 987.8 926.8ZM1062.0 918.3 1072.6 926.8 1072.6 943.7 1062.0 952.2 1051.4 943.7 1051.4 926.8ZM1125.6 918.3 1136.2 926.8 1136.2 943.7 1125.6 952.2 1115.0 943.7 1115.0 926.8ZM1146.8 918.3 1157.4 926.8 1157.4 943.7 1146.8 952.2 1136.2 943.7 1136.2 926.8ZM839.4 943.7 850.0 952.2 850.0 969.1 839.4 977.6 828.8 969.1 828.8 952.2ZM860.6 943.7 871.2 952.2 871.2 969.1 860.6 977.6 850.0 969.1 850.0 952.2ZM966.6 943.7 977.2 952.2 977.2 969.1 966.6 977.6 956.0 969.1 956.0 952.2ZM987.8 943.7 998.4 952.2 998.4 969.1 987.8 977.6 977.2 969.1 977.2 952.2ZM1093.8 943.7 1104.4 952.2 1104.4 969.1 1093.8 977.6 1083.2 969.1 1083.2 952.2ZM1115.0 943.7 1125.6 952.2 1125.6 969.1 1115.0 977.6 1104.4 969.1 1104.4 952.2ZM977.2 969.1 987.8 977.6 987.8 994.5 977.2 1002.9 966.6 994.5 966.6 977.6ZM998.4 969.1 1009.0 977.6 1009.0 994.5 998.4 1002.9 987.8 994.5 987.8 977.6ZM1019.6 969.1 1030.2 977.6 1030.2 994.5 1019.6 1002.9 1009.0 994.5 1009.0 977.6ZM1040.8 969.1 1051.4 977.6 1051.4 994.5 1040.8 1002.9 1030.2 994.5 1030.2 977.6ZM1062.0 969.1 1072.6 977.6 1072.6 994.5 1062.0 1002.9 1051.4 994.5 1051.4 977.6ZM1104.4 969.1 1115.0 977.6 1115.0 994.5 1104.4 1002.9 1093.8 994.5 1093.8 977.6ZM987.8 994.5 998.4 1002.9 998.4 1019.9 987.8 1028.3 977.2 1019.9 977.2 1002.9ZM1009.0 994.5 1019.6 1002.9 1019.6 1019.9 1009.0 1028.3 998.4 1019.9 998.4 1002.9ZM1030.2 994.5 1040.8 1002.9 1040.8 1019.9 1030.2 1028.3 1019.6 1019.9 1019.6 1002.9ZM1051.4 994.5 1062.0 1002.9 1062.0 1019.9 1051.4 1028.3 1040.8 1019.9 1040.8 1002.9ZM1072.6 994.5 1083.2 1002.9 1083.2 1019.9 1072.6 1028.3 1062.0 1019.9 1062.0 1002.9ZM934.8 1019.9 945.4 1028.3 945.4 1045.2 934.8 1053.7 924.2 1045.2 924.2 1028.3ZM956.0 1019.9 966.6 1028.3 966.6 1045.2 956.0 1053.7 945.4 1045.2 945.4 1028.3ZM977.2 1019.9 987.8 1028.3 987.8 1045.2 977.2 1053.7 966.6 1045.2 966.6 1028.3ZM998.4 1019.9 1009.0 1028.3 1009.0 1045.2 998.4 1053.7 987.8 1045.2 987.8 1028.3ZM1019.6 1019.9 1030.2 1028.3 1030.2 1045.2 1019.6 1053.7 1009.0 1045.2 1009.0 1028.3ZM1062.0 1019.9 1072.6 1028.3 1072.6 1045.2 1062.0 1053.7 1051.4 1045.2 1051.4 1028.3ZM1189.2 1019.9 1199.8 1028.3 1199.8 1045.2 1189.2 1053.7 1178.6 1045.2 1178.6 1028.3ZM945.4 1045.2 956.0 1053.7 956.0 1070.6 945.4 1079.1 934.8 1070.6 934.8 1053.7ZM966.6 1045.2 977.2 1053.7 977.2 1070.6 966.6 1079.1 956.0 1070.6 956.0 1053.7ZM987.8 1045.2 998.4 1053.7 998.4 1070.6 987.8 1079.1 977.2 1070.6 977.2 1053.7ZM1009.0 1045.2 1019.6 1053.7 1019.6 1070.6 1009.0 1079.1 998.4 1070.6 998.4 1053.7ZM1157.4 1045.2 1168.0 1053.7 1168.0 1070.6 1157.4 1079.1 1146.8 1070.6 1146.8 1053.7ZM1178.6 1045.2 1189.2 1053.7 1189.2 1070.6 1178.6 1079.1 1168.0 1070.6 1168.0 1053.7ZM934.8 1070.6 945.4 1079.1 945.4 1096.0 934.8 1104.5 924.2 1096.0 924.2 1079.1ZM1019.6 1070.6 1030.2 1079.1 1030.2 1096.0 1019.6 1104.5 1009.0 1096.0 1009.0 1079.1ZM1040.8 1070.6 1051.4 1079.1 1051.4 1096.0 1040.8 1104.5 1030.2 1096.0 1030.2 1079.1ZM1062.0 1070.6 1072.6 1079.1 1072.6 1096.0 1062.0 1104.5 1051.4 1096.0 1051.4 1079.1ZM1083.2 1070.6 1093.8 1079.1 1093.8 1096.0 1083.2 1104.5 1072.6 1096.0 1072.6 1079.1ZM1189.2 1070.6 1199.8 1079.1 1199.8 1096.0 1189.2 1104.5 1178.6 1096.0 1178.6 1079.1ZM924.2 1096.0 934.8 1104.5 934.8 1121.4 924.2 1129.8 913.6 1121.4 913.6 1104.5ZM1189.2 1121.4 1199.8 1129.8 1199.8 1146.8 1189.2 1155.2 1178.6 1146.8 1178.6 1129.8ZM1327.0 842.2 1337.6 850.7 1337.6 867.6 1327.0 876.0 1316.4 867.6 1316.4 850.7ZM1454.2 842.2 1464.8 850.7 1464.8 867.6 1454.2 876.0 1443.6 867.6 1443.6 850.7ZM1475.4 842.2 1486.0 850.7 1486.0 867.6 1475.4 876.0 1464.8 867.6 1464.8 850.7ZM1539.0 842.2 1549.6 850.7 1549.6 867.6 1539.0 876.0 1528.4 867.6 1528.4 850.7ZM1252.8 867.6 1263.4 876.0 1263.4 893.0 1252.8 901.4 1242.2 893.0 1242.2 876.0ZM1274.0 867.6 1284.6 876.0 1284.6 893.0 1274.0 901.4 1263.4 893.0 1263.4 876.0ZM1295.2 867.6 1305.8 876.0 1305.8 893.0 1295.2 901.4 1284.6 893.0 1284.6 876.0ZM1464.8 867.6 1475.4 876.0 1475.4 893.0 1464.8 901.4 1454.2 893.0 1454.2 876.0ZM1486.0 867.6 1496.6 876.0 1496.6 893.0 1486.0 901.4 1475.4 893.0 1475.4 876.0ZM1221.0 893.0 1231.6 901.4 1231.6 918.3 1221.0 926.8 1210.4 918.3 1210.4 901.4ZM1242.2 893.0 1252.8 901.4 1252.8 918.3 1242.2 926.8 1231.6 918.3 1231.6 901.4ZM1263.4 893.0 1274.0 901.4 1274.0 918.3 1263.4 926.8 1252.8 918.3 1252.8 901.4ZM1369.4 893.0 1380.0 901.4 1380.0 918.3 1369.4 926.8 1358.8 918.3 1358.8 901.4ZM1433.0 893.0 1443.6 901.4 1443.6 918.3 1433.0 926.8 1422.4 918.3 1422.4 901.4ZM1454.2 893.0 1464.8 901.4 1464.8 918.3 1454.2 926.8 1443.6 918.3 1443.6 901.4ZM1475.4 893.0 1486.0 901.4 1486.0 918.3 1475.4 926.8 1464.8 918.3 1464.8 901.4ZM1539.0 893.0 1549.6 901.4 1549.6 918.3 1539.0 926.8 1528.4 918.3 1528.4 901.4ZM1210.4 918.3 1221.0 926.8 1221.0 943.7 1210.4 952.2 1199.8 943.7 1199.8 926.8ZM1231.6 918.3 1242.2 926.8 1242.2 943.7 1231.6 952.2 1221.0 943.7 1221.0 926.8ZM1252.8 918.3 1263.4 926.8 1263.4 943.7 1252.8 952.2 1242.2 943.7 1242.2 926.8ZM1274.0 918.3 1284.6 926.8 1284.6 943.7 1274.0 952.2 1263.4 943.7 1263.4 926.8ZM1422.4 918.3 1433.0 926.8 1433.0 943.7 1422.4 952.2 1411.8 943.7 1411.8 926.8ZM1443.6 918.3 1454.2 926.8 1454.2 943.7 1443.6 952.2 1433.0 943.7 1433.0 926.8ZM1464.8 918.3 1475.4 926.8 1475.4 943.7 1464.8 952.2 1454.2 943.7 1454.2 926.8ZM1486.0 918.3 1496.6 926.8 1496.6 943.7 1486.0 952.2 1475.4 943.7 1475.4 926.8ZM1199.8 943.7 1210.4 952.2 1210.4 969.1 1199.8 977.6 1189.2 969.1 1189.2 952.2ZM1221.0 943.7 1231.6 952.2 1231.6 969.1 1221.0 977.6 1210.4 969.1 1210.4 952.2ZM1242.2 943.7 1252.8 952.2 1252.8 969.1 1242.2 977.6 1231.6 969.1 1231.6 952.2ZM1263.4 943.7 1274.0 952.2 1274.0 969.1 1263.4 977.6 1252.8 969.1 1252.8 952.2ZM1231.6 969.1 1242.2 977.6 1242.2 994.5 1231.6 1002.9 1221.0 994.5 1221.0 977.6ZM1252.8 969.1 1263.4 977.6 1263.4 994.5 1252.8 1002.9 1242.2 994.5 1242.2 977.6ZM1486.0 969.1 1496.6 977.6 1496.6 994.5 1486.0 1002.9 1475.4 994.5 1475.4 977.6ZM1507.2 969.1 1517.8 977.6 1517.8 994.5 1507.2 1002.9 1496.6 994.5 1496.6 977.6ZM1199.8 994.5 1210.4 1002.9 1210.4 1019.9 1199.8 1028.3 1189.2 1019.9 1189.2 1002.9ZM1221.0 994.5 1231.6 1002.9 1231.6 1019.9 1221.0 1028.3 1210.4 1019.9 1210.4 1002.9ZM1242.2 994.5 1252.8 1002.9 1252.8 1019.9 1242.2 1028.3 1231.6 1019.9 1231.6 1002.9ZM1263.4 994.5 1274.0 1002.9 1274.0 1019.9 1263.4 1028.3 1252.8 1019.9 1252.8 1002.9ZM1348.2 994.5 1358.8 1002.9 1358.8 1019.9 1348.2 1028.3 1337.6 1019.9 1337.6 1002.9ZM1475.4 994.5 1486.0 1002.9 1486.0 1019.9 1475.4 1028.3 1464.8 1019.9 1464.8 1002.9ZM1496.6 994.5 1507.2 1002.9 1507.2 1019.9 1496.6 1028.3 1486.0 1019.9 1486.0 1002.9ZM1517.8 994.5 1528.4 1002.9 1528.4 1019.9 1517.8 1028.3 1507.2 1019.9 1507.2 1002.9ZM1539.0 994.5 1549.6 1002.9 1549.6 1019.9 1539.0 1028.3 1528.4 1019.9 1528.4 1002.9ZM1210.4 1019.9 1221.0 1028.3 1221.0 1045.2 1210.4 1053.7 1199.8 1045.2 1199.8 1028.3ZM1231.6 1019.9 1242.2 1028.3 1242.2 1045.2 1231.6 1053.7 1221.0 1045.2 1221.0 1028.3ZM1252.8 1019.9 1263.4 1028.3 1263.4 1045.2 1252.8 1053.7 1242.2 1045.2 1242.2 1028.3ZM1443.6 1019.9 1454.2 1028.3 1454.2 1045.2 1443.6 1053.7 1433.0 1045.2 1433.0 1028.3ZM1464.8 1019.9 1475.4 1028.3 1475.4 1045.2 1464.8 1053.7 1454.2 1045.2 1454.2 1028.3ZM1486.0 1019.9 1496.6 1028.3 1496.6 1045.2 1486.0 1053.7 1475.4 1045.2 1475.4 1028.3ZM1507.2 1019.9 1517.8 1028.3 1517.8 1045.2 1507.2 1053.7 1496.6 1045.2 1496.6 1028.3ZM1528.4 1019.9 1539.0 1028.3 1539.0 1045.2 1528.4 1053.7 1517.8 1045.2 1517.8 1028.3ZM1199.8 1045.2 1210.4 1053.7 1210.4 1070.6 1199.8 1079.1 1189.2 1070.6 1189.2 1053.7ZM1242.2 1045.2 1252.8 1053.7 1252.8 1070.6 1242.2 1079.1 1231.6 1070.6 1231.6 1053.7ZM1454.2 1045.2 1464.8 1053.7 1464.8 1070.6 1454.2 1079.1 1443.6 1070.6 1443.6 1053.7ZM1475.4 1045.2 1486.0 1053.7 1486.0 1070.6 1475.4 1079.1 1464.8 1070.6 1464.8 1053.7ZM1496.6 1045.2 1507.2 1053.7 1507.2 1070.6 1496.6 1079.1 1486.0 1070.6 1486.0 1053.7ZM1517.8 1045.2 1528.4 1053.7 1528.4 1070.6 1517.8 1079.1 1507.2 1070.6 1507.2 1053.7ZM1210.4 1070.6 1221.0 1079.1 1221.0 1096.0 1210.4 1104.5 1199.8 1096.0 1199.8 1079.1ZM1231.6 1070.6 1242.2 1079.1 1242.2 1096.0 1231.6 1104.5 1221.0 1096.0 1221.0 1079.1ZM1252.8 1070.6 1263.4 1079.1 1263.4 1096.0 1252.8 1104.5 1242.2 1096.0 1242.2 1079.1ZM1443.6 1070.6 1454.2 1079.1 1454.2 1096.0 1443.6 1104.5 1433.0 1096.0 1433.0 1079.1ZM1464.8 1070.6 1475.4 1079.1 1475.4 1096.0 1464.8 1104.5 1454.2 1096.0 1454.2 1079.1ZM1486.0 1070.6 1496.6 1079.1 1496.6 1096.0 1486.0 1104.5 1475.4 1096.0 1475.4 1079.1ZM1528.4 1070.6 1539.0 1079.1 1539.0 1096.0 1528.4 1104.5 1517.8 1096.0 1517.8 1079.1ZM1549.6 1070.6 1560.2 1079.1 1560.2 1096.0 1549.6 1104.5 1539.0 1096.0 1539.0 1079.1ZM1199.8 1096.0 1210.4 1104.5 1210.4 1121.4 1199.8 1129.8 1189.2 1121.4 1189.2 1104.5ZM1242.2 1096.0 1252.8 1104.5 1252.8 1121.4 1242.2 1129.8 1231.6 1121.4 1231.6 1104.5ZM1390.6 1096.0 1401.2 1104.5 1401.2 1121.4 1390.6 1129.8 1380.0 1121.4 1380.0 1104.5ZM1411.8 1096.0 1422.4 1104.5 1422.4 1121.4 1411.8 1129.8 1401.2 1121.4 1401.2 1104.5ZM1433.0 1096.0 1443.6 1104.5 1443.6 1121.4 1433.0 1129.8 1422.4 1121.4 1422.4 1104.5ZM1454.2 1096.0 1464.8 1104.5 1464.8 1121.4 1454.2 1129.8 1443.6 1121.4 1443.6 1104.5ZM1496.6 1096.0 1507.2 1104.5 1507.2 1121.4 1496.6 1129.8 1486.0 1121.4 1486.0 1104.5ZM1517.8 1096.0 1528.4 1104.5 1528.4 1121.4 1517.8 1129.8 1507.2 1121.4 1507.2 1104.5ZM1539.0 1096.0 1549.6 1104.5 1549.6 1121.4 1539.0 1129.8 1528.4 1121.4 1528.4 1104.5ZM1380.0 1121.4 1390.6 1129.8 1390.6 1146.8 1380.0 1155.2 1369.4 1146.8 1369.4 1129.8ZM1623.8 842.2 1634.4 850.7 1634.4 867.6 1623.8 876.0 1613.2 867.6 1613.2 850.7ZM1687.4 842.2 1698.0 850.7 1698.0 867.6 1687.4 876.0 1676.8 867.6 1676.8 850.7ZM1793.4 842.2 1804.0 850.7 1804.0 867.6 1793.4 876.0 1782.8 867.6 1782.8 850.7ZM1814.6 842.2 1825.2 850.7 1825.2 867.6 1814.6 876.0 1804.0 867.6 1804.0 850.7ZM1634.4 867.6 1645.0 876.0 1645.0 893.0 1634.4 901.4 1623.8 893.0 1623.8 876.0ZM1655.6 867.6 1666.2 876.0 1666.2 893.0 1655.6 901.4 1645.0 893.0 1645.0 876.0ZM1867.6 867.6 1878.2 876.0 1878.2 893.0 1867.6 901.4 1857.0 893.0 1857.0 876.0ZM1888.8 867.6 1899.4 876.0 1899.4 893.0 1888.8 901.4 1878.2 893.0 1878.2 876.0ZM1560.2 893.0 1570.8 901.4 1570.8 918.3 1560.2 926.8 1549.6 918.3 1549.6 901.4ZM1666.2 893.0 1676.8 901.4 1676.8 918.3 1666.2 926.8 1655.6 918.3 1655.6 901.4ZM1772.2 893.0 1782.8 901.4 1782.8 918.3 1772.2 926.8 1761.6 918.3 1761.6 901.4ZM1857.0 893.0 1867.6 901.4 1867.6 918.3 1857.0 926.8 1846.4 918.3 1846.4 901.4ZM1655.6 918.3 1666.2 926.8 1666.2 943.7 1655.6 952.2 1645.0 943.7 1645.0 926.8ZM1761.6 918.3 1772.2 926.8 1772.2 943.7 1761.6 952.2 1751.0 943.7 1751.0 926.8ZM1867.6 918.3 1878.2 926.8 1878.2 943.7 1867.6 952.2 1857.0 943.7 1857.0 926.8ZM1645.0 943.7 1655.6 952.2 1655.6 969.1 1645.0 977.6 1634.4 969.1 1634.4 952.2ZM1666.2 943.7 1676.8 952.2 1676.8 969.1 1666.2 977.6 1655.6 969.1 1655.6 952.2ZM1772.2 943.7 1782.8 952.2 1782.8 969.1 1772.2 977.6 1761.6 969.1 1761.6 952.2ZM1835.8 943.7 1846.4 952.2 1846.4 969.1 1835.8 977.6 1825.2 969.1 1825.2 952.2ZM1761.6 969.1 1772.2 977.6 1772.2 994.5 1761.6 1002.9 1751.0 994.5 1751.0 977.6ZM1782.8 969.1 1793.4 977.6 1793.4 994.5 1782.8 1002.9 1772.2 994.5 1772.2 977.6ZM1804.0 969.1 1814.6 977.6 1814.6 994.5 1804.0 1002.9 1793.4 994.5 1793.4 977.6ZM1825.2 969.1 1835.8 977.6 1835.8 994.5 1825.2 1002.9 1814.6 994.5 1814.6 977.6ZM1645.0 994.5 1655.6 1002.9 1655.6 1019.9 1645.0 1028.3 1634.4 1019.9 1634.4 1002.9ZM1666.2 994.5 1676.8 1002.9 1676.8 1019.9 1666.2 1028.3 1655.6 1019.9 1655.6 1002.9ZM1687.4 994.5 1698.0 1002.9 1698.0 1019.9 1687.4 1028.3 1676.8 1019.9 1676.8 1002.9ZM1708.6 994.5 1719.2 1002.9 1719.2 1019.9 1708.6 1028.3 1698.0 1019.9 1698.0 1002.9ZM1751.0 994.5 1761.6 1002.9 1761.6 1019.9 1751.0 1028.3 1740.4 1019.9 1740.4 1002.9ZM1772.2 994.5 1782.8 1002.9 1782.8 1019.9 1772.2 1028.3 1761.6 1019.9 1761.6 1002.9ZM1793.4 994.5 1804.0 1002.9 1804.0 1019.9 1793.4 1028.3 1782.8 1019.9 1782.8 1002.9ZM1613.2 1019.9 1623.8 1028.3 1623.8 1045.2 1613.2 1053.7 1602.6 1045.2 1602.6 1028.3ZM1634.4 1019.9 1645.0 1028.3 1645.0 1045.2 1634.4 1053.7 1623.8 1045.2 1623.8 1028.3ZM1719.2 1019.9 1729.8 1028.3 1729.8 1045.2 1719.2 1053.7 1708.6 1045.2 1708.6 1028.3ZM1602.6 1045.2 1613.2 1053.7 1613.2 1070.6 1602.6 1079.1 1592.0 1070.6 1592.0 1053.7ZM1623.8 1045.2 1634.4 1053.7 1634.4 1070.6 1623.8 1079.1 1613.2 1070.6 1613.2 1053.7ZM1645.0 1045.2 1655.6 1053.7 1655.6 1070.6 1645.0 1079.1 1634.4 1070.6 1634.4 1053.7ZM1666.2 1045.2 1676.8 1053.7 1676.8 1070.6 1666.2 1079.1 1655.6 1070.6 1655.6 1053.7ZM1687.4 1045.2 1698.0 1053.7 1698.0 1070.6 1687.4 1079.1 1676.8 1070.6 1676.8 1053.7ZM1708.6 1045.2 1719.2 1053.7 1719.2 1070.6 1708.6 1079.1 1698.0 1070.6 1698.0 1053.7ZM1570.8 1070.6 1581.4 1079.1 1581.4 1096.0 1570.8 1104.5 1560.2 1096.0 1560.2 1079.1ZM1592.0 1070.6 1602.6 1079.1 1602.6 1096.0 1592.0 1104.5 1581.4 1096.0 1581.4 1079.1ZM1676.8 1070.6 1687.4 1079.1 1687.4 1096.0 1676.8 1104.5 1666.2 1096.0 1666.2 1079.1ZM1698.0 1070.6 1708.6 1079.1 1708.6 1096.0 1698.0 1104.5 1687.4 1096.0 1687.4 1079.1ZM1719.2 1070.6 1729.8 1079.1 1729.8 1096.0 1719.2 1104.5 1708.6 1096.0 1708.6 1079.1ZM1666.2 1096.0 1676.8 1104.5 1676.8 1121.4 1666.2 1129.8 1655.6 1121.4 1655.6 1104.5ZM1687.4 1096.0 1698.0 1104.5 1698.0 1121.4 1687.4 1129.8 1676.8 1121.4 1676.8 1104.5ZM1708.6 1096.0 1719.2 1104.5 1719.2 1121.4 1708.6 1129.8 1698.0 1121.4 1698.0 1104.5ZM1634.4 1121.4 1645.0 1129.8 1645.0 1146.8 1634.4 1155.2 1623.8 1146.8 1623.8 1129.8ZM1655.6 1121.4 1666.2 1129.8 1666.2 1146.8 1655.6 1155.2 1645.0 1146.8 1645.0 1129.8ZM468.4 1222.9 479.0 1231.4 479.0 1248.3 468.4 1256.7 457.8 1248.3 457.8 1231.4ZM436.6 1248.3 447.2 1256.7 447.2 1273.7 436.6 1282.1 426.0 1273.7 426.0 1256.7ZM457.8 1248.3 468.4 1256.7 468.4 1273.7 457.8 1282.1 447.2 1273.7 447.2 1256.7ZM447.2 1273.7 457.8 1282.1 457.8 1299.0 447.2 1307.5 436.6 1299.0 436.6 1282.1ZM468.4 1273.7 479.0 1282.1 479.0 1299.0 468.4 1307.5 457.8 1299.0 457.8 1282.1ZM426.0 1324.4 436.6 1332.9 436.6 1349.8 426.0 1358.3 415.4 1349.8 415.4 1332.9ZM447.2 1324.4 457.8 1332.9 457.8 1349.8 447.2 1358.3 436.6 1349.8 436.6 1332.9ZM351.8 1349.8 362.4 1358.3 362.4 1375.2 351.8 1383.6 341.2 1375.2 341.2 1358.3ZM436.6 1349.8 447.2 1358.3 447.2 1375.2 436.6 1383.6 426.0 1375.2 426.0 1358.3ZM457.8 1349.8 468.4 1358.3 468.4 1375.2 457.8 1383.6 447.2 1375.2 447.2 1358.3ZM341.2 1375.2 351.8 1383.6 351.8 1400.6 341.2 1409.0 330.6 1400.6 330.6 1383.6ZM404.8 1375.2 415.4 1383.6 415.4 1400.6 404.8 1409.0 394.2 1400.6 394.2 1383.6ZM447.2 1375.2 457.8 1383.6 457.8 1400.6 447.2 1409.0 436.6 1400.6 436.6 1383.6ZM468.4 1375.2 479.0 1383.6 479.0 1400.6 468.4 1409.0 457.8 1400.6 457.8 1383.6ZM309.4 1400.6 320.0 1409.0 320.0 1425.9 309.4 1434.4 298.8 1425.9 298.8 1409.0ZM351.8 1400.6 362.4 1409.0 362.4 1425.9 351.8 1434.4 341.2 1425.9 341.2 1409.0ZM457.8 1400.6 468.4 1409.0 468.4 1425.9 457.8 1434.4 447.2 1425.9 447.2 1409.0ZM532.0 1172.1 542.6 1180.6 542.6 1197.5 532.0 1206.0 521.4 1197.5 521.4 1180.6ZM553.2 1172.1 563.8 1180.6 563.8 1197.5 553.2 1206.0 542.6 1197.5 542.6 1180.6ZM574.4 1172.1 585.0 1180.6 585.0 1197.5 574.4 1206.0 563.8 1197.5 563.8 1180.6ZM680.4 1172.1 691.0 1180.6 691.0 1197.5 680.4 1206.0 669.8 1197.5 669.8 1180.6ZM691.0 1197.5 701.6 1206.0 701.6 1222.9 691.0 1231.4 680.4 1222.9 680.4 1206.0ZM489.6 1222.9 500.2 1231.4 500.2 1248.3 489.6 1256.7 479.0 1248.3 479.0 1231.4ZM510.8 1222.9 521.4 1231.4 521.4 1248.3 510.8 1256.7 500.2 1248.3 500.2 1231.4ZM532.0 1222.9 542.6 1231.4 542.6 1248.3 532.0 1256.7 521.4 1248.3 521.4 1231.4ZM553.2 1222.9 563.8 1231.4 563.8 1248.3 553.2 1256.7 542.6 1248.3 542.6 1231.4ZM574.4 1222.9 585.0 1231.4 585.0 1248.3 574.4 1256.7 563.8 1248.3 563.8 1231.4ZM680.4 1222.9 691.0 1231.4 691.0 1248.3 680.4 1256.7 669.8 1248.3 669.8 1231.4ZM701.6 1222.9 712.2 1231.4 712.2 1248.3 701.6 1256.7 691.0 1248.3 691.0 1231.4ZM479.0 1248.3 489.6 1256.7 489.6 1273.7 479.0 1282.1 468.4 1273.7 468.4 1256.7ZM521.4 1248.3 532.0 1256.7 532.0 1273.7 521.4 1282.1 510.8 1273.7 510.8 1256.7ZM542.6 1248.3 553.2 1256.7 553.2 1273.7 542.6 1282.1 532.0 1273.7 532.0 1256.7ZM563.8 1248.3 574.4 1256.7 574.4 1273.7 563.8 1282.1 553.2 1273.7 553.2 1256.7ZM606.2 1248.3 616.8 1256.7 616.8 1273.7 606.2 1282.1 595.6 1273.7 595.6 1256.7ZM510.8 1273.7 521.4 1282.1 521.4 1299.0 510.8 1307.5 500.2 1299.0 500.2 1282.1ZM532.0 1273.7 542.6 1282.1 542.6 1299.0 532.0 1307.5 521.4 1299.0 521.4 1282.1ZM574.4 1273.7 585.0 1282.1 585.0 1299.0 574.4 1307.5 563.8 1299.0 563.8 1282.1ZM595.6 1273.7 606.2 1282.1 606.2 1299.0 595.6 1307.5 585.0 1299.0 585.0 1282.1ZM616.8 1273.7 627.4 1282.1 627.4 1299.0 616.8 1307.5 606.2 1299.0 606.2 1282.1ZM786.4 1273.7 797.0 1282.1 797.0 1299.0 786.4 1307.5 775.8 1299.0 775.8 1282.1ZM807.6 1273.7 818.2 1282.1 818.2 1299.0 807.6 1307.5 797.0 1299.0 797.0 1282.1ZM479.0 1299.0 489.6 1307.5 489.6 1324.4 479.0 1332.9 468.4 1324.4 468.4 1307.5ZM500.2 1299.0 510.8 1307.5 510.8 1324.4 500.2 1332.9 489.6 1324.4 489.6 1307.5ZM563.8 1299.0 574.4 1307.5 574.4 1324.4 563.8 1332.9 553.2 1324.4 553.2 1307.5ZM585.0 1299.0 595.6 1307.5 595.6 1324.4 585.0 1332.9 574.4 1324.4 574.4 1307.5ZM606.2 1299.0 616.8 1307.5 616.8 1324.4 606.2 1332.9 595.6 1324.4 595.6 1307.5ZM627.4 1299.0 638.0 1307.5 638.0 1324.4 627.4 1332.9 616.8 1324.4 616.8 1307.5ZM595.6 1324.4 606.2 1332.9 606.2 1349.8 595.6 1358.3 585.0 1349.8 585.0 1332.9ZM616.8 1324.4 627.4 1332.9 627.4 1349.8 616.8 1358.3 606.2 1349.8 606.2 1332.9ZM638.0 1324.4 648.6 1332.9 648.6 1349.8 638.0 1358.3 627.4 1349.8 627.4 1332.9ZM659.2 1324.4 669.8 1332.9 669.8 1349.8 659.2 1358.3 648.6 1349.8 648.6 1332.9ZM680.4 1324.4 691.0 1332.9 691.0 1349.8 680.4 1358.3 669.8 1349.8 669.8 1332.9ZM479.0 1349.8 489.6 1358.3 489.6 1375.2 479.0 1383.6 468.4 1375.2 468.4 1358.3ZM500.2 1349.8 510.8 1358.3 510.8 1375.2 500.2 1383.6 489.6 1375.2 489.6 1358.3ZM563.8 1349.8 574.4 1358.3 574.4 1375.2 563.8 1383.6 553.2 1375.2 553.2 1358.3ZM585.0 1349.8 595.6 1358.3 595.6 1375.2 585.0 1383.6 574.4 1375.2 574.4 1358.3ZM606.2 1349.8 616.8 1358.3 616.8 1375.2 606.2 1383.6 595.6 1375.2 595.6 1358.3ZM648.6 1349.8 659.2 1358.3 659.2 1375.2 648.6 1383.6 638.0 1375.2 638.0 1358.3ZM669.8 1349.8 680.4 1358.3 680.4 1375.2 669.8 1383.6 659.2 1375.2 659.2 1358.3ZM775.8 1349.8 786.4 1358.3 786.4 1375.2 775.8 1383.6 765.2 1375.2 765.2 1358.3ZM797.0 1349.8 807.6 1358.3 807.6 1375.2 797.0 1383.6 786.4 1375.2 786.4 1358.3ZM489.6 1375.2 500.2 1383.6 500.2 1400.6 489.6 1409.0 479.0 1400.6 479.0 1383.6ZM765.2 1375.2 775.8 1383.6 775.8 1400.6 765.2 1409.0 754.6 1400.6 754.6 1383.6ZM786.4 1375.2 797.0 1383.6 797.0 1400.6 786.4 1409.0 775.8 1400.6 775.8 1383.6ZM807.6 1375.2 818.2 1383.6 818.2 1400.6 807.6 1409.0 797.0 1400.6 797.0 1383.6ZM479.0 1400.6 489.6 1409.0 489.6 1425.9 479.0 1434.4 468.4 1425.9 468.4 1409.0ZM775.8 1400.6 786.4 1409.0 786.4 1425.9 775.8 1434.4 765.2 1425.9 765.2 1409.0ZM797.0 1400.6 807.6 1409.0 807.6 1425.9 797.0 1434.4 786.4 1425.9 786.4 1409.0ZM1157.4 1146.8 1168.0 1155.2 1168.0 1172.1 1157.4 1180.6 1146.8 1172.1 1146.8 1155.2ZM1019.6 1172.1 1030.2 1180.6 1030.2 1197.5 1019.6 1206.0 1009.0 1197.5 1009.0 1180.6ZM1040.8 1172.1 1051.4 1180.6 1051.4 1197.5 1040.8 1206.0 1030.2 1197.5 1030.2 1180.6ZM1168.0 1172.1 1178.6 1180.6 1178.6 1197.5 1168.0 1206.0 1157.4 1197.5 1157.4 1180.6ZM1189.2 1172.1 1199.8 1180.6 1199.8 1197.5 1189.2 1206.0 1178.6 1197.5 1178.6 1180.6ZM1051.4 1197.5 1062.0 1206.0 1062.0 1222.9 1051.4 1231.4 1040.8 1222.9 1040.8 1206.0ZM1072.6 1197.5 1083.2 1206.0 1083.2 1222.9 1072.6 1231.4 1062.0 1222.9 1062.0 1206.0ZM913.6 1222.9 924.2 1231.4 924.2 1248.3 913.6 1256.7 903.0 1248.3 903.0 1231.4ZM1062.0 1222.9 1072.6 1231.4 1072.6 1248.3 1062.0 1256.7 1051.4 1248.3 1051.4 1231.4ZM1146.8 1222.9 1157.4 1231.4 1157.4 1248.3 1146.8 1256.7 1136.2 1248.3 1136.2 1231.4ZM1168.0 1222.9 1178.6 1231.4 1178.6 1248.3 1168.0 1256.7 1157.4 1248.3 1157.4 1231.4ZM1189.2 1222.9 1199.8 1231.4 1199.8 1248.3 1189.2 1256.7 1178.6 1248.3 1178.6 1231.4ZM924.2 1248.3 934.8 1256.7 934.8 1273.7 924.2 1282.1 913.6 1273.7 913.6 1256.7ZM1093.8 1248.3 1104.4 1256.7 1104.4 1273.7 1093.8 1282.1 1083.2 1273.7 1083.2 1256.7ZM1157.4 1248.3 1168.0 1256.7 1168.0 1273.7 1157.4 1282.1 1146.8 1273.7 1146.8 1256.7ZM913.6 1273.7 924.2 1282.1 924.2 1299.0 913.6 1307.5 903.0 1299.0 903.0 1282.1ZM1146.8 1273.7 1157.4 1282.1 1157.4 1299.0 1146.8 1307.5 1136.2 1299.0 1136.2 1282.1ZM1178.6 1299.0 1189.2 1307.5 1189.2 1324.4 1178.6 1332.9 1168.0 1324.4 1168.0 1307.5ZM913.6 1324.4 924.2 1332.9 924.2 1349.8 913.6 1358.3 903.0 1349.8 903.0 1332.9ZM1189.2 1324.4 1199.8 1332.9 1199.8 1349.8 1189.2 1358.3 1178.6 1349.8 1178.6 1332.9ZM924.2 1349.8 934.8 1358.3 934.8 1375.2 924.2 1383.6 913.6 1375.2 913.6 1358.3ZM1009.0 1349.8 1019.6 1358.3 1019.6 1375.2 1009.0 1383.6 998.4 1375.2 998.4 1358.3ZM1178.6 1349.8 1189.2 1358.3 1189.2 1375.2 1178.6 1383.6 1168.0 1375.2 1168.0 1358.3ZM1168.0 1375.2 1178.6 1383.6 1178.6 1400.6 1168.0 1409.0 1157.4 1400.6 1157.4 1383.6ZM1189.2 1375.2 1199.8 1383.6 1199.8 1400.6 1189.2 1409.0 1178.6 1400.6 1178.6 1383.6ZM871.2 1425.9 881.8 1434.4 881.8 1451.3 871.2 1459.8 860.6 1451.3 860.6 1434.4ZM998.4 1425.9 1009.0 1434.4 1009.0 1451.3 998.4 1459.8 987.8 1451.3 987.8 1434.4ZM1040.8 1425.9 1051.4 1434.4 1051.4 1451.3 1040.8 1459.8 1030.2 1451.3 1030.2 1434.4ZM1062.0 1425.9 1072.6 1434.4 1072.6 1451.3 1062.0 1459.8 1051.4 1451.3 1051.4 1434.4ZM1199.8 1146.8 1210.4 1155.2 1210.4 1172.1 1199.8 1180.6 1189.2 1172.1 1189.2 1155.2ZM1221.0 1146.8 1231.6 1155.2 1231.6 1172.1 1221.0 1180.6 1210.4 1172.1 1210.4 1155.2ZM1242.2 1146.8 1252.8 1155.2 1252.8 1172.1 1242.2 1180.6 1231.6 1172.1 1231.6 1155.2ZM1369.4 1146.8 1380.0 1155.2 1380.0 1172.1 1369.4 1180.6 1358.8 1172.1 1358.8 1155.2ZM1539.0 1146.8 1549.6 1155.2 1549.6 1172.1 1539.0 1180.6 1528.4 1172.1 1528.4 1155.2ZM1210.4 1172.1 1221.0 1180.6 1221.0 1197.5 1210.4 1206.0 1199.8 1197.5 1199.8 1180.6ZM1358.8 1172.1 1369.4 1180.6 1369.4 1197.5 1358.8 1206.0 1348.2 1197.5 1348.2 1180.6ZM1549.6 1172.1 1560.2 1180.6 1560.2 1197.5 1549.6 1206.0 1539.0 1197.5 1539.0 1180.6ZM1199.8 1197.5 1210.4 1206.0 1210.4 1222.9 1199.8 1231.4 1189.2 1222.9 1189.2 1206.0ZM1284.6 1197.5 1295.2 1206.0 1295.2 1222.9 1284.6 1231.4 1274.0 1222.9 1274.0 1206.0ZM1517.8 1197.5 1528.4 1206.0 1528.4 1222.9 1517.8 1231.4 1507.2 1222.9 1507.2 1206.0ZM1539.0 1197.5 1549.6 1206.0 1549.6 1222.9 1539.0 1231.4 1528.4 1222.9 1528.4 1206.0ZM1210.4 1222.9 1221.0 1231.4 1221.0 1248.3 1210.4 1256.7 1199.8 1248.3 1199.8 1231.4ZM1231.6 1222.9 1242.2 1231.4 1242.2 1248.3 1231.6 1256.7 1221.0 1248.3 1221.0 1231.4ZM1401.2 1222.9 1411.8 1231.4 1411.8 1248.3 1401.2 1256.7 1390.6 1248.3 1390.6 1231.4ZM1443.6 1222.9 1454.2 1231.4 1454.2 1248.3 1443.6 1256.7 1433.0 1248.3 1433.0 1231.4ZM1486.0 1222.9 1496.6 1231.4 1496.6 1248.3 1486.0 1256.7 1475.4 1248.3 1475.4 1231.4ZM1507.2 1222.9 1517.8 1231.4 1517.8 1248.3 1507.2 1256.7 1496.6 1248.3 1496.6 1231.4ZM1528.4 1222.9 1539.0 1231.4 1539.0 1248.3 1528.4 1256.7 1517.8 1248.3 1517.8 1231.4ZM1549.6 1222.9 1560.2 1231.4 1560.2 1248.3 1549.6 1256.7 1539.0 1248.3 1539.0 1231.4ZM1496.6 1248.3 1507.2 1256.7 1507.2 1273.7 1496.6 1282.1 1486.0 1273.7 1486.0 1256.7ZM1517.8 1248.3 1528.4 1256.7 1528.4 1273.7 1517.8 1282.1 1507.2 1273.7 1507.2 1256.7ZM1539.0 1248.3 1549.6 1256.7 1549.6 1273.7 1539.0 1282.1 1528.4 1273.7 1528.4 1256.7ZM1454.2 1299.0 1464.8 1307.5 1464.8 1324.4 1454.2 1332.9 1443.6 1324.4 1443.6 1307.5ZM1348.2 1349.8 1358.8 1358.3 1358.8 1375.2 1348.2 1383.6 1337.6 1375.2 1337.6 1358.3ZM1369.4 1349.8 1380.0 1358.3 1380.0 1375.2 1369.4 1383.6 1358.8 1375.2 1358.8 1358.3ZM1295.2 1375.2 1305.8 1383.6 1305.8 1400.6 1295.2 1409.0 1284.6 1400.6 1284.6 1383.6ZM1560.2 1197.5 1570.8 1206.0 1570.8 1222.9 1560.2 1231.4 1549.6 1222.9 1549.6 1206.0ZM1581.4 1197.5 1592.0 1206.0 1592.0 1222.9 1581.4 1231.4 1570.8 1222.9 1570.8 1206.0ZM1570.8 1222.9 1581.4 1231.4 1581.4 1248.3 1570.8 1256.7 1560.2 1248.3 1560.2 1231.4ZM1560.2 1248.3 1570.8 1256.7 1570.8 1273.7 1560.2 1282.1 1549.6 1273.7 1549.6 1256.7ZM362.4 1476.7 373.0 1485.2 373.0 1502.1 362.4 1510.5 351.8 1502.1 351.8 1485.2ZM383.6 1476.7 394.2 1485.2 394.2 1502.1 383.6 1510.5 373.0 1502.1 373.0 1485.2ZM404.8 1476.7 415.4 1485.2 415.4 1502.1 404.8 1510.5 394.2 1502.1 394.2 1485.2ZM394.2 1502.1 404.8 1510.5 404.8 1527.5 394.2 1535.9 383.6 1527.5 383.6 1510.5ZM722.8 1476.7 733.4 1485.2 733.4 1502.1 722.8 1510.5 712.2 1502.1 712.2 1485.2ZM744.0 1476.7 754.6 1485.2 754.6 1502.1 744.0 1510.5 733.4 1502.1 733.4 1485.2ZM669.8 1502.1 680.4 1510.5 680.4 1527.5 669.8 1535.9 659.2 1527.5 659.2 1510.5ZM691.0 1502.1 701.6 1510.5 701.6 1527.5 691.0 1535.9 680.4 1527.5 680.4 1510.5ZM712.2 1502.1 722.8 1510.5 722.8 1527.5 712.2 1535.9 701.6 1527.5 701.6 1510.5ZM733.4 1502.1 744.0 1510.5 744.0 1527.5 733.4 1535.9 722.8 1527.5 722.8 1510.5ZM510.8 1578.2 521.4 1586.7 521.4 1603.6 510.8 1612.1 500.2 1603.6 500.2 1586.7ZM532.0 1578.2 542.6 1586.7 542.6 1603.6 532.0 1612.1 521.4 1603.6 521.4 1586.7ZM553.2 1578.2 563.8 1586.7 563.8 1603.6 553.2 1612.1 542.6 1603.6 542.6 1586.7ZM574.4 1578.2 585.0 1586.7 585.0 1603.6 574.4 1612.1 563.8 1603.6 563.8 1586.7ZM542.6 1603.6 553.2 1612.1 553.2 1629.0 542.6 1637.4 532.0 1629.0 532.0 1612.1ZM563.8 1603.6 574.4 1612.1 574.4 1629.0 563.8 1637.4 553.2 1629.0 553.2 1612.1ZM680.4 1679.7 691.0 1688.2 691.0 1705.1 680.4 1713.6 669.8 1705.1 669.8 1688.2Z"/><path fill="#482475" stroke="#482475" stroke-width="0.6" d="M1931.2 410.7 1941.8 419.2 1941.8 436.1 1931.2 444.6 1920.6 436.1 1920.6 419.2ZM2100.8 512.3 2111.4 520.7 2111.4 537.6 2100.8 546.1 2090.2 537.6 2090.2 520.7ZM2143.2 512.3 2153.8 520.7 2153.8 537.6 2143.2 546.1 2132.6 537.6 2132.6 520.7ZM1793.4 385.4 1804.0 393.8 1804.0 410.7 1793.4 419.2 1782.8 410.7 1782.8 393.8ZM1878.2 385.4 1888.8 393.8 1888.8 410.7 1878.2 419.2 1867.6 410.7 1867.6 393.8ZM1899.4 385.4 1910.0 393.8 1910.0 410.7 1899.4 419.2 1888.8 410.7 1888.8 393.8ZM1804.0 410.7 1814.6 419.2 1814.6 436.1 1804.0 444.6 1793.4 436.1 1793.4 419.2ZM1825.2 410.7 1835.8 419.2 1835.8 436.1 1825.2 444.6 1814.6 436.1 1814.6 419.2ZM1846.4 410.7 1857.0 419.2 1857.0 436.1 1846.4 444.6 1835.8 436.1 1835.8 419.2ZM1867.6 410.7 1878.2 419.2 1878.2 436.1 1867.6 444.6 1857.0 436.1 1857.0 419.2ZM1910.0 410.7 1920.6 419.2 1920.6 436.1 1910.0 444.6 1899.4 436.1 1899.4 419.2ZM1835.8 436.1 1846.4 444.6 1846.4 461.5 1835.8 470.0 1825.2 461.5 1825.2 444.6ZM1570.8 461.5 1581.4 470.0 1581.4 486.9 1570.8 495.3 1560.2 486.9 1560.2 470.0ZM1634.4 461.5 1645.0 470.0 1645.0 486.9 1634.4 495.3 1623.8 486.9 1623.8 470.0ZM1560.2 486.9 1570.8 495.3 1570.8 512.3 1560.2 520.7 1549.6 512.3 1549.6 495.3ZM1581.4 486.9 1592.0 495.3 1592.0 512.3 1581.4 520.7 1570.8 512.3 1570.8 495.3ZM1602.6 486.9 1613.2 495.3 1613.2 512.3 1602.6 520.7 1592.0 512.3 1592.0 495.3ZM1655.6 512.3 1666.2 520.7 1666.2 537.6 1655.6 546.1 1645.0 537.6 1645.0 520.7ZM1782.8 512.3 1793.4 520.7 1793.4 537.6 1782.8 546.1 1772.2 537.6 1772.2 520.7ZM1804.0 512.3 1814.6 520.7 1814.6 537.6 1804.0 546.1 1793.4 537.6 1793.4 520.7ZM1380.0 461.5 1390.6 470.0 1390.6 486.9 1380.0 495.3 1369.4 486.9 1369.4 470.0ZM1401.2 461.5 1411.8 470.0 1411.8 486.9 1401.2 495.3 1390.6 486.9 1390.6 470.0ZM1422.4 461.5 1433.0 470.0 1433.0 486.9 1422.4 495.3 1411.8 486.9 1411.8 470.0ZM1242.2 486.9 1252.8 495.3 1252.8 512.3 1242.2 520.7 1231.6 512.3 1231.6 495.3ZM1369.4 486.9 1380.0 495.3 1380.0 512.3 1369.4 520.7 1358.8 512.3 1358.8 495.3ZM1390.6 486.9 1401.2 495.3 1401.2 512.3 1390.6 520.7 1380.0 512.3 1380.0 495.3ZM1411.8 486.9 1422.4 495.3 1422.4 512.3 1411.8 520.7 1401.2 512.3 1401.2 495.3ZM1920.6 537.6 1931.2 546.1 1931.2 563.0 1920.6 571.5 1910.0 563.0 1910.0 546.1ZM1941.8 588.4 1952.4 596.9 1952.4 613.8 1941.8 622.2 1931.2 613.8 1931.2 596.9ZM2175.0 588.4 2185.6 596.9 2185.6 613.8 2175.0 622.2 2164.4 613.8 2164.4 596.9ZM2196.2 588.4 2206.8 596.9 2206.8 613.8 2196.2 622.2 2185.6 613.8 2185.6 596.9ZM2122.0 613.8 2132.6 622.2 2132.6 639.2 2122.0 647.6 2111.4 639.2 2111.4 622.2ZM2143.2 613.8 2153.8 622.2 2153.8 639.2 2143.2 647.6 2132.6 639.2 2132.6 622.2ZM2185.6 613.8 2196.2 622.2 2196.2 639.2 2185.6 647.6 2175.0 639.2 2175.0 622.2ZM2206.8 613.8 2217.4 622.2 2217.4 639.2 2206.8 647.6 2196.2 639.2 2196.2 622.2ZM2132.6 639.2 2143.2 647.6 2143.2 664.5 2132.6 673.0 2122.0 664.5 2122.0 647.6ZM2153.8 639.2 2164.4 647.6 2164.4 664.5 2153.8 673.0 2143.2 664.5 2143.2 647.6ZM2122.0 664.5 2132.6 673.0 2132.6 689.9 2122.0 698.4 2111.4 689.9 2111.4 673.0ZM2143.2 664.5 2153.8 673.0 2153.8 689.9 2143.2 698.4 2132.6 689.9 2132.6 673.0ZM2164.4 664.5 2175.0 673.0 2175.0 689.9 2164.4 698.4 2153.8 689.9 2153.8 673.0ZM1910.0 816.8 1920.6 825.3 1920.6 842.2 1910.0 850.7 1899.4 842.2 1899.4 825.3ZM1581.4 537.6 1592.0 546.1 1592.0 563.0 1581.4 571.5 1570.8 563.0 1570.8 546.1ZM1666.2 537.6 1676.8 546.1 1676.8 563.0 1666.2 571.5 1655.6 563.0 1655.6 546.1ZM1899.4 537.6 1910.0 546.1 1910.0 563.0 1899.4 571.5 1888.8 563.0 1888.8 546.1ZM1719.2 563.0 1729.8 571.5 1729.8 588.4 1719.2 596.9 1708.6 588.4 1708.6 571.5ZM1761.6 563.0 1772.2 571.5 1772.2 588.4 1761.6 596.9 1751.0 588.4 1751.0 571.5ZM1782.8 563.0 1793.4 571.5 1793.4 588.4 1782.8 596.9 1772.2 588.4 1772.2 571.5ZM1708.6 588.4 1719.2 596.9 1719.2 613.8 1708.6 622.2 1698.0 613.8 1698.0 596.9ZM1729.8 588.4 1740.4 596.9 1740.4 613.8 1729.8 622.2 1719.2 613.8 1719.2 596.9ZM1751.0 588.4 1761.6 596.9 1761.6 613.8 1751.0 622.2 1740.4 613.8 1740.4 596.9ZM1814.6 639.2 1825.2 647.6 1825.2 664.5 1814.6 673.0 1804.0 664.5 1804.0 647.6ZM1570.8 664.5 1581.4 673.0 1581.4 689.9 1570.8 698.4 1560.2 689.9 1560.2 673.0ZM1782.8 664.5 1793.4 673.0 1793.4 689.9 1782.8 698.4 1772.2 689.9 1772.2 673.0ZM1804.0 664.5 1814.6 673.0 1814.6 689.9 1804.0 698.4 1793.4 689.9 1793.4 673.0ZM1560.2 689.9 1570.8 698.4 1570.8 715.3 1560.2 723.8 1549.6 715.3 1549.6 698.4ZM1581.4 689.9 1592.0 698.4 1592.0 715.3 1581.4 723.8 1570.8 715.3 1570.8 698.4ZM1602.6 689.9 1613.2 698.4 1613.2 715.3 1602.6 723.8 1592.0 715.3 1592.0 698.4ZM1623.8 689.9 1634.4 698.4 1634.4 715.3 1623.8 723.8 1613.2 715.3 1613.2 698.4ZM1666.2 689.9 1676.8 698.4 1676.8 715.3 1666.2 723.8 1655.6 715.3 1655.6 698.4ZM1772.2 689.9 1782.8 698.4 1782.8 715.3 1772.2 723.8 1761.6 715.3 1761.6 698.4ZM1899.4 689.9 1910.0 698.4 1910.0 715.3 1899.4 723.8 1888.8 715.3 1888.8 698.4ZM1549.6 715.3 1560.2 723.8 1560.2 740.7 1549.6 749.1 1539.0 740.7 1539.0 723.8ZM1634.4 715.3 1645.0 723.8 1645.0 740.7 1634.4 749.1 1623.8 740.7 1623.8 723.8ZM1655.6 715.3 1666.2 723.8 1666.2 740.7 1655.6 749.1 1645.0 740.7 1645.0 723.8ZM1676.8 715.3 1687.4 723.8 1687.4 740.7 1676.8 749.1 1666.2 740.7 1666.2 723.8ZM1761.6 715.3 1772.2 723.8 1772.2 740.7 1761.6 749.1 1751.0 740.7 1751.0 723.8ZM1782.8 715.3 1793.4 723.8 1793.4 740.7 1782.8 749.1 1772.2 740.7 1772.2 723.8ZM1825.2 715.3 1835.8 723.8 1835.8 740.7 1825.2 749.1 1814.6 740.7 1814.6 723.8ZM1560.2 740.7 1570.8 749.1 1570.8 766.1 1560.2 774.5 1549.6 766.1 1549.6 749.1ZM1581.4 740.7 1592.0 749.1 1592.0 766.1 1581.4 774.5 1570.8 766.1 1570.8 749.1ZM1602.6 740.7 1613.2 749.1 1613.2 766.1 1602.6 774.5 1592.0 766.1 1592.0 749.1ZM1623.8 740.7 1634.4 749.1 1634.4 766.1 1623.8 774.5 1613.2 766.1 1613.2 749.1ZM1751.0 740.7 1761.6 749.1 1761.6 766.1 1751.0 774.5 1740.4 766.1 1740.4 749.1ZM1772.2 740.7 1782.8 749.1 1782.8 766.1 1772.2 774.5 1761.6 766.1 1761.6 749.1ZM1793.4 740.7 1804.0 749.1 1804.0 766.1 1793.4 774.5 1782.8 766.1 1782.8 749.1ZM1549.6 766.1 1560.2 774.5 1560.2 791.4 1549.6 799.9 1539.0 791.4 1539.0 774.5ZM1570.8 766.1 1581.4 774.5 1581.4 791.4 1570.8 799.9 1560.2 791.4 1560.2 774.5ZM1592.0 766.1 1602.6 774.5 1602.6 791.4 1592.0 799.9 1581.4 791.4 1581.4 774.5ZM1835.8 791.4 1846.4 799.9 1846.4 816.8 1835.8 825.3 1825.2 816.8 1825.2 799.9ZM1676.8 816.8 1687.4 825.3 1687.4 842.2 1676.8 850.7 1666.2 842.2 1666.2 825.3ZM1888.8 816.8 1899.4 825.3 1899.4 842.2 1888.8 850.7 1878.2 842.2 1878.2 825.3ZM1263.4 537.6 1274.0 546.1 1274.0 563.0 1263.4 571.5 1252.8 563.0 1252.8 546.1ZM1454.2 537.6 1464.8 546.1 1464.8 563.0 1454.2 571.5 1443.6 563.0 1443.6 546.1ZM1475.4 537.6 1486.0 546.1 1486.0 563.0 1475.4 571.5 1464.8 563.0 1464.8 546.1ZM1539.0 537.6 1549.6 546.1 1549.6 563.0 1539.0 571.5 1528.4 563.0 1528.4 546.1ZM1189.2 563.0 1199.8 571.5 1199.8 588.4 1189.2 596.9 1178.6 588.4 1178.6 571.5ZM1210.4 563.0 1221.0 571.5 1221.0 588.4 1210.4 596.9 1199.8 588.4 1199.8 571.5ZM1507.2 563.0 1517.8 571.5 1517.8 588.4 1507.2 596.9 1496.6 588.4 1496.6 571.5ZM1528.4 563.0 1539.0 571.5 1539.0 588.4 1528.4 596.9 1517.8 588.4 1517.8 571.5ZM1199.8 588.4 1210.4 596.9 1210.4 613.8 1199.8 622.2 1189.2 613.8 1189.2 596.9ZM1221.0 588.4 1231.6 596.9 1231.6 613.8 1221.0 622.2 1210.4 613.8 1210.4 596.9ZM1433.0 689.9 1443.6 698.4 1443.6 715.3 1433.0 723.8 1422.4 715.3 1422.4 698.4ZM1528.4 715.3 1539.0 723.8 1539.0 740.7 1528.4 749.1 1517.8 740.7 1517.8 723.8ZM1327.0 740.7 1337.6 749.1 1337.6 766.1 1327.0 774.5 1316.4 766.1 1316.4 749.1ZM1475.4 740.7 1486.0 749.1 1486.0 766.1 1475.4 774.5 1464.8 766.1 1464.8 749.1ZM1496.6 740.7 1507.2 749.1 1507.2 766.1 1496.6 774.5 1486.0 766.1 1486.0 749.1ZM1517.8 740.7 1528.4 749.1 1528.4 766.1 1517.8 774.5 1507.2 766.1 1507.2 749.1ZM1539.0 740.7 1549.6 749.1 1549.6 766.1 1539.0 774.5 1528.4 766.1 1528.4 749.1ZM1231.6 766.1 1242.2 774.5 1242.2 791.4 1231.6 799.9 1221.0 791.4 1221.0 774.5ZM1252.8 766.1 1263.4 774.5 1263.4 791.4 1252.8 799.9 1242.2 791.4 1242.2 774.5ZM1337.6 766.1 1348.2 774.5 1348.2 791.4 1337.6 799.9 1327.0 791.4 1327.0 774.5ZM1358.8 766.1 1369.4 774.5 1369.4 791.4 1358.8 799.9 1348.2 791.4 1348.2 774.5ZM1422.4 766.1 1433.0 774.5 1433.0 791.4 1422.4 799.9 1411.8 791.4 1411.8 774.5ZM1443.6 766.1 1454.2 774.5 1454.2 791.4 1443.6 799.9 1433.0 791.4 1433.0 774.5ZM1464.8 766.1 1475.4 774.5 1475.4 791.4 1464.8 799.9 1454.2 791.4 1454.2 774.5ZM1486.0 766.1 1496.6 774.5 1496.6 791.4 1486.0 799.9 1475.4 791.4 1475.4 774.5ZM1348.2 791.4 1358.8 799.9 1358.8 816.8 1348.2 825.3 1337.6 816.8 1337.6 799.9ZM1433.0 791.4 1443.6 799.9 1443.6 816.8 1433.0 825.3 1422.4 816.8 1422.4 799.9ZM1454.2 791.4 1464.8 799.9 1464.8 816.8 1454.2 825.3 1443.6 816.8 1443.6 799.9ZM1475.4 791.4 1486.0 799.9 1486.0 816.8 1475.4 825.3 1464.8 816.8 1464.8 799.9ZM1539.0 791.4 1549.6 799.9 1549.6 816.8 1539.0 825.3 1528.4 816.8 1528.4 799.9ZM1231.6 816.8 1242.2 825.3 1242.2 842.2 1231.6 850.7 1221.0 842.2 1221.0 825.3ZM1252.8 816.8 1263.4 825.3 1263.4 842.2 1252.8 850.7 1242.2 842.2 1242.2 825.3ZM1443.6 816.8 1454.2 825.3 1454.2 842.2 1443.6 850.7 1433.0 842.2 1433.0 825.3ZM1464.8 816.8 1475.4 825.3 1475.4 842.2 1464.8 850.7 1454.2 842.2 1454.2 825.3ZM1051.4 537.6 1062.0 546.1 1062.0 563.0 1051.4 571.5 1040.8 563.0 1040.8 546.1ZM1072.6 537.6 1083.2 546.1 1083.2 563.0 1072.6 571.5 1062.0 563.0 1062.0 546.1ZM1093.8 537.6 1104.4 546.1 1104.4 563.0 1093.8 571.5 1083.2 563.0 1083.2 546.1ZM977.2 563.0 987.8 571.5 987.8 588.4 977.2 596.9 966.6 588.4 966.6 571.5ZM998.4 563.0 1009.0 571.5 1009.0 588.4 998.4 596.9 987.8 588.4 987.8 571.5ZM1019.6 563.0 1030.2 571.5 1030.2 588.4 1019.6 596.9 1009.0 588.4 1009.0 571.5ZM1040.8 563.0 1051.4 571.5 1051.4 588.4 1040.8 596.9 1030.2 588.4 1030.2 571.5ZM1062.0 563.0 1072.6 571.5 1072.6 588.4 1062.0 596.9 1051.4 588.4 1051.4 571.5ZM1083.2 563.0 1093.8 571.5 1093.8 588.4 1083.2 596.9 1072.6 588.4 1072.6 571.5ZM987.8 588.4 998.4 596.9 998.4 613.8 987.8 622.2 977.2 613.8 977.2 596.9ZM1051.4 588.4 1062.0 596.9 1062.0 613.8 1051.4 622.2 1040.8 613.8 1040.8 596.9ZM1019.6 613.8 1030.2 622.2 1030.2 639.2 1019.6 647.6 1009.0 639.2 1009.0 622.2ZM1040.8 613.8 1051.4 622.2 1051.4 639.2 1040.8 647.6 1030.2 639.2 1030.2 622.2ZM1168.0 613.8 1178.6 622.2 1178.6 639.2 1168.0 647.6 1157.4 639.2 1157.4 622.2ZM987.8 639.2 998.4 647.6 998.4 664.5 987.8 673.0 977.2 664.5 977.2 647.6ZM1009.0 639.2 1019.6 647.6 1019.6 664.5 1009.0 673.0 998.4 664.5 998.4 647.6ZM1030.2 639.2 1040.8 647.6 1040.8 664.5 1030.2 673.0 1019.6 664.5 1019.6 647.6ZM934.8 664.5 945.4 673.0 945.4 689.9 934.8 698.4 924.2 689.9 924.2 673.0ZM956.0 664.5 966.6 673.0 966.6 689.9 956.0 698.4 945.4 689.9 945.4 673.0ZM977.2 664.5 987.8 673.0 987.8 689.9 977.2 698.4 966.6 689.9 966.6 673.0ZM998.4 664.5 1009.0 673.0 1009.0 689.9 998.4 698.4 987.8 689.9 987.8 673.0ZM839.4 689.9 850.0 698.4 850.0 715.3 839.4 723.8 828.8 715.3 828.8 698.4ZM860.6 689.9 871.2 698.4 871.2 715.3 860.6 723.8 850.0 715.3 850.0 698.4ZM881.8 689.9 892.4 698.4 892.4 715.3 881.8 723.8 871.2 715.3 871.2 698.4ZM945.4 689.9 956.0 698.4 956.0 715.3 945.4 723.8 934.8 715.3 934.8 698.4ZM966.6 689.9 977.2 698.4 977.2 715.3 966.6 723.8 956.0 715.3 956.0 698.4ZM987.8 689.9 998.4 698.4 998.4 715.3 987.8 723.8 977.2 715.3 977.2 698.4ZM850.0 715.3 860.6 723.8 860.6 740.7 850.0 749.1 839.4 740.7 839.4 723.8ZM871.2 715.3 881.8 723.8 881.8 740.7 871.2 749.1 860.6 740.7 860.6 723.8ZM892.4 715.3 903.0 723.8 903.0 740.7 892.4 749.1 881.8 740.7 881.8 723.8ZM956.0 715.3 966.6 723.8 966.6 740.7 956.0 749.1 945.4 740.7 945.4 723.8ZM839.4 740.7 850.0 749.1 850.0 766.1 839.4 774.5 828.8 766.1 828.8 749.1ZM860.6 740.7 871.2 749.1 871.2 766.1 860.6 774.5 850.0 766.1 850.0 749.1ZM881.8 740.7 892.4 749.1 892.4 766.1 881.8 774.5 871.2 766.1 871.2 749.1ZM1136.2 791.4 1146.8 799.9 1146.8 816.8 1136.2 825.3 1125.6 816.8 1125.6 799.9ZM1104.4 816.8 1115.0 825.3 1115.0 842.2 1104.4 850.7 1093.8 842.2 1093.8 825.3ZM1125.6 816.8 1136.2 825.3 1136.2 842.2 1125.6 850.7 1115.0 842.2 1115.0 825.3ZM1146.8 816.8 1157.4 825.3 1157.4 842.2 1146.8 850.7 1136.2 842.2 1136.2 825.3ZM1168.0 816.8 1178.6 825.3 1178.6 842.2 1168.0 850.7 1157.4 842.2 1157.4 825.3ZM669.8 740.7 680.4 749.1 680.4 766.1 669.8 774.5 659.2 766.1 659.2 749.1ZM733.4 740.7 744.0 749.1 744.0 766.1 733.4 774.5 722.8 766.1 722.8 749.1ZM754.6 740.7 765.2 749.1 765.2 766.1 754.6 774.5 744.0 766.1 744.0 749.1ZM775.8 740.7 786.4 749.1 786.4 766.1 775.8 774.5 765.2 766.1 765.2 749.1ZM765.2 766.1 775.8 774.5 775.8 791.4 765.2 799.9 754.6 791.4 754.6 774.5ZM669.8 791.4 680.4 799.9 680.4 816.8 669.8 825.3 659.2 816.8 659.2 799.9ZM298.8 766.1 309.4 774.5 309.4 791.4 298.8 799.9 288.2 791.4 288.2 774.5ZM320.0 766.1 330.6 774.5 330.6 791.4 320.0 799.9 309.4 791.4 309.4 774.5ZM426.0 766.1 436.6 774.5 436.6 791.4 426.0 799.9 415.4 791.4 415.4 774.5ZM415.4 791.4 426.0 799.9 426.0 816.8 415.4 825.3 404.8 816.8 404.8 799.9ZM436.6 791.4 447.2 799.9 447.2 816.8 436.6 825.3 426.0 816.8 426.0 799.9ZM457.8 791.4 468.4 799.9 468.4 816.8 457.8 825.3 447.2 816.8 447.2 799.9ZM426.0 816.8 436.6 825.3 436.6 842.2 426.0 850.7 415.4 842.2 415.4 825.3ZM447.2 816.8 457.8 825.3 457.8 842.2 447.2 850.7 436.6 842.2 436.6 825.3ZM457.8 842.2 468.4 850.7 468.4 867.6 457.8 876.0 447.2 867.6 447.2 850.7ZM277.6 918.3 288.2 926.8 288.2 943.7 277.6 952.2 267.0 943.7 267.0 926.8ZM309.4 943.7 320.0 952.2 320.0 969.1 309.4 977.6 298.8 969.1 298.8 952.2ZM330.6 943.7 341.2 952.2 341.2 969.1 330.6 977.6 320.0 969.1 320.0 952.2ZM394.2 943.7 404.8 952.2 404.8 969.1 394.2 977.6 383.6 969.1 383.6 952.2ZM468.4 1019.9 479.0 1028.3 479.0 1045.2 468.4 1053.7 457.8 1045.2 457.8 1028.3ZM691.0 842.2 701.6 850.7 701.6 867.6 691.0 876.0 680.4 867.6 680.4 850.7ZM616.8 867.6 627.4 876.0 627.4 893.0 616.8 901.4 606.2 893.0 606.2 876.0ZM638.0 867.6 648.6 876.0 648.6 893.0 638.0 901.4 627.4 893.0 627.4 876.0ZM680.4 867.6 691.0 876.0 691.0 893.0 680.4 901.4 669.8 893.0 669.8 876.0ZM701.6 867.6 712.2 876.0 712.2 893.0 701.6 901.4 691.0 893.0 691.0 876.0ZM669.8 893.0 680.4 901.4 680.4 918.3 669.8 926.8 659.2 918.3 659.2 901.4ZM691.0 893.0 701.6 901.4 701.6 918.3 691.0 926.8 680.4 918.3 680.4 901.4ZM712.2 893.0 722.8 901.4 722.8 918.3 712.2 926.8 701.6 918.3 701.6 901.4ZM489.6 918.3 500.2 926.8 500.2 943.7 489.6 952.2 479.0 943.7 479.0 926.8ZM638.0 918.3 648.6 926.8 648.6 943.7 638.0 952.2 627.4 943.7 627.4 926.8ZM680.4 969.1 691.0 977.6 691.0 994.5 680.4 1002.9 669.8 994.5 669.8 977.6ZM701.6 969.1 712.2 977.6 712.2 994.5 701.6 1002.9 691.0 994.5 691.0 977.6ZM521.4 994.5 532.0 1002.9 532.0 1019.9 521.4 1028.3 510.8 1019.9 510.8 1002.9ZM712.2 994.5 722.8 1002.9 722.8 1019.9 712.2 1028.3 701.6 1019.9 701.6 1002.9ZM733.4 994.5 744.0 1002.9 744.0 1019.9 733.4 1028.3 722.8 1019.9 722.8 1002.9ZM754.6 994.5 765.2 1002.9 765.2 1019.9 754.6 1028.3 744.0 1019.9 744.0 1002.9ZM775.8 994.5 786.4 1002.9 786.4 1019.9 775.8 1028.3 765.2 1019.9 765.2 1002.9ZM489.6 1019.9 500.2 1028.3 500.2 1045.2 489.6 1053.7 479.0 1045.2 479.0 1028.3ZM510.8 1019.9 521.4 1028.3 521.4 1045.2 510.8 1053.7 500.2 1045.2 500.2 1028.3ZM532.0 1019.9 542.6 1028.3 542.6 1045.2 532.0 1053.7 521.4 1045.2 521.4 1028.3ZM828.8 1019.9 839.4 1028.3 839.4 1045.2 828.8 1053.7 818.2 1045.2 818.2 1028.3ZM606.2 1045.2 616.8 1053.7 616.8 1070.6 606.2 1079.1 595.6 1070.6 595.6 1053.7ZM648.6 1045.2 659.2 1053.7 659.2 1070.6 648.6 1079.1 638.0 1070.6 638.0 1053.7ZM489.6 1070.6 500.2 1079.1 500.2 1096.0 489.6 1104.5 479.0 1096.0 479.0 1079.1ZM510.8 1070.6 521.4 1079.1 521.4 1096.0 510.8 1104.5 500.2 1096.0 500.2 1079.1ZM595.6 1070.6 606.2 1079.1 606.2 1096.0 595.6 1104.5 585.0 1096.0 585.0 1079.1ZM479.0 1096.0 489.6 1104.5 489.6 1121.4 479.0 1129.8 468.4 1121.4 468.4 1104.5ZM500.2 1096.0 510.8 1104.5 510.8 1121.4 500.2 1129.8 489.6 1121.4 489.6 1104.5ZM669.8 1096.0 680.4 1104.5 680.4 1121.4 669.8 1129.8 659.2 1121.4 659.2 1104.5ZM532.0 1121.4 542.6 1129.8 542.6 1146.8 532.0 1155.2 521.4 1146.8 521.4 1129.8ZM553.2 1121.4 563.8 1129.8 563.8 1146.8 553.2 1155.2 542.6 1146.8 542.6 1129.8ZM574.4 1121.4 585.0 1129.8 585.0 1146.8 574.4 1155.2 563.8 1146.8 563.8 1129.8ZM595.6 1121.4 606.2 1129.8 606.2 1146.8 595.6 1155.2 585.0 1146.8 585.0 1129.8ZM722.8 1121.4 733.4 1129.8 733.4 1146.8 722.8 1155.2 712.2 1146.8 712.2 1129.8ZM1136.2 842.2 1146.8 850.7 1146.8 867.6 1136.2 876.0 1125.6 867.6 1125.6 850.7ZM1009.0 893.0 1019.6 901.4 1019.6 918.3 1009.0 926.8 998.4 918.3 998.4 901.4ZM1072.6 893.0 1083.2 901.4 1083.2 918.3 1072.6 926.8 1062.0 918.3 1062.0 901.4ZM1115.0 893.0 1125.6 901.4 1125.6 918.3 1115.0 926.8 1104.4 918.3 1104.4 901.4ZM1136.2 943.7 1146.8 952.2 1146.8 969.1 1136.2 977.6 1125.6 969.1 1125.6 952.2ZM1157.4 943.7 1168.0 952.2 1168.0 969.1 1157.4 977.6 1146.8 969.1 1146.8 952.2ZM1178.6 943.7 1189.2 952.2 1189.2 969.1 1178.6 977.6 1168.0 969.1 1168.0 952.2ZM871.2 969.1 881.8 977.6 881.8 994.5 871.2 1002.9 860.6 994.5 860.6 977.6ZM1146.8 969.1 1157.4 977.6 1157.4 994.5 1146.8 1002.9 1136.2 994.5 1136.2 977.6ZM1168.0 969.1 1178.6 977.6 1178.6 994.5 1168.0 1002.9 1157.4 994.5 1157.4 977.6ZM839.4 994.5 850.0 1002.9 850.0 1019.9 839.4 1028.3 828.8 1019.9 828.8 1002.9ZM860.6 994.5 871.2 1002.9 871.2 1019.9 860.6 1028.3 850.0 1019.9 850.0 1002.9ZM881.8 994.5 892.4 1002.9 892.4 1019.9 881.8 1028.3 871.2 1019.9 871.2 1002.9ZM1093.8 994.5 1104.4 1002.9 1104.4 1019.9 1093.8 1028.3 1083.2 1019.9 1083.2 1002.9ZM1178.6 994.5 1189.2 1002.9 1189.2 1019.9 1178.6 1028.3 1168.0 1019.9 1168.0 1002.9ZM850.0 1019.9 860.6 1028.3 860.6 1045.2 850.0 1053.7 839.4 1045.2 839.4 1028.3ZM871.2 1019.9 881.8 1028.3 881.8 1045.2 871.2 1053.7 860.6 1045.2 860.6 1028.3ZM892.4 1019.9 903.0 1028.3 903.0 1045.2 892.4 1053.7 881.8 1045.2 881.8 1028.3ZM1040.8 1019.9 1051.4 1028.3 1051.4 1045.2 1040.8 1053.7 1030.2 1045.2 1030.2 1028.3ZM1125.6 1019.9 1136.2 1028.3 1136.2 1045.2 1125.6 1053.7 1115.0 1045.2 1115.0 1028.3ZM1146.8 1019.9 1157.4 1028.3 1157.4 1045.2 1146.8 1053.7 1136.2 1045.2 1136.2 1028.3ZM839.4 1045.2 850.0 1053.7 850.0 1070.6 839.4 1079.1 828.8 1070.6 828.8 1053.7ZM860.6 1045.2 871.2 1053.7 871.2 1070.6 860.6 1079.1 850.0 1070.6 850.0 1053.7ZM881.8 1045.2 892.4 1053.7 892.4 1070.6 881.8 1079.1 871.2 1070.6 871.2 1053.7ZM1030.2 1045.2 1040.8 1053.7 1040.8 1070.6 1030.2 1079.1 1019.6 1070.6 1019.6 1053.7ZM1051.4 1045.2 1062.0 1053.7 1062.0 1070.6 1051.4 1079.1 1040.8 1070.6 1040.8 1053.7ZM1072.6 1045.2 1083.2 1053.7 1083.2 1070.6 1072.6 1079.1 1062.0 1070.6 1062.0 1053.7ZM1115.0 1045.2 1125.6 1053.7 1125.6 1070.6 1115.0 1079.1 1104.4 1070.6 1104.4 1053.7ZM1136.2 1045.2 1146.8 1053.7 1146.8 1070.6 1136.2 1079.1 1125.6 1070.6 1125.6 1053.7ZM850.0 1070.6 860.6 1079.1 860.6 1096.0 850.0 1104.5 839.4 1096.0 839.4 1079.1ZM956.0 1070.6 966.6 1079.1 966.6 1096.0 956.0 1104.5 945.4 1096.0 945.4 1079.1ZM977.2 1070.6 987.8 1079.1 987.8 1096.0 977.2 1104.5 966.6 1096.0 966.6 1079.1ZM998.4 1070.6 1009.0 1079.1 1009.0 1096.0 998.4 1104.5 987.8 1096.0 987.8 1079.1ZM1146.8 1070.6 1157.4 1079.1 1157.4 1096.0 1146.8 1104.5 1136.2 1096.0 1136.2 1079.1ZM1168.0 1070.6 1178.6 1079.1 1178.6 1096.0 1168.0 1104.5 1157.4 1096.0 1157.4 1079.1ZM966.6 1096.0 977.2 1104.5 977.2 1121.4 966.6 1129.8 956.0 1121.4 956.0 1104.5ZM987.8 1096.0 998.4 1104.5 998.4 1121.4 987.8 1129.8 977.2 1121.4 977.2 1104.5ZM1221.0 842.2 1231.6 850.7 1231.6 867.6 1221.0 876.0 1210.4 867.6 1210.4 850.7ZM1242.2 842.2 1252.8 850.7 1252.8 867.6 1242.2 876.0 1231.6 867.6 1231.6 850.7ZM1284.6 842.2 1295.2 850.7 1295.2 867.6 1284.6 876.0 1274.0 867.6 1274.0 850.7ZM1390.6 842.2 1401.2 850.7 1401.2 867.6 1390.6 876.0 1380.0 867.6 1380.0 850.7ZM1433.0 842.2 1443.6 850.7 1443.6 867.6 1433.0 876.0 1422.4 867.6 1422.4 850.7ZM1231.6 867.6 1242.2 876.0 1242.2 893.0 1231.6 901.4 1221.0 893.0 1221.0 876.0ZM1337.6 867.6 1348.2 876.0 1348.2 893.0 1337.6 901.4 1327.0 893.0 1327.0 876.0ZM1358.8 867.6 1369.4 876.0 1369.4 893.0 1358.8 901.4 1348.2 893.0 1348.2 876.0ZM1380.0 867.6 1390.6 876.0 1390.6 893.0 1380.0 901.4 1369.4 893.0 1369.4 876.0ZM1401.2 867.6 1411.8 876.0 1411.8 893.0 1401.2 901.4 1390.6 893.0 1390.6 876.0ZM1422.4 867.6 1433.0 876.0 1433.0 893.0 1422.4 901.4 1411.8 893.0 1411.8 876.0ZM1549.6 867.6 1560.2 876.0 1560.2 893.0 1549.6 901.4 1539.0 893.0 1539.0 876.0ZM1327.0 893.0 1337.6 901.4 1337.6 918.3 1327.0 926.8 1316.4 918.3 1316.4 901.4ZM1348.2 893.0 1358.8 901.4 1358.8 918.3 1348.2 926.8 1337.6 918.3 1337.6 901.4ZM1390.6 893.0 1401.2 901.4 1401.2 918.3 1390.6 926.8 1380.0 918.3 1380.0 901.4ZM1496.6 893.0 1507.2 901.4 1507.2 918.3 1496.6 926.8 1486.0 918.3 1486.0 901.4ZM1337.6 918.3 1348.2 926.8 1348.2 943.7 1337.6 952.2 1327.0 943.7 1327.0 926.8ZM1358.8 918.3 1369.4 926.8 1369.4 943.7 1358.8 952.2 1348.2 943.7 1348.2 926.8ZM1380.0 918.3 1390.6 926.8 1390.6 943.7 1380.0 952.2 1369.4 943.7 1369.4 926.8ZM1507.2 918.3 1517.8 926.8 1517.8 943.7 1507.2 952.2 1496.6 943.7 1496.6 926.8ZM1528.4 918.3 1539.0 926.8 1539.0 943.7 1528.4 952.2 1517.8 943.7 1517.8 926.8ZM1348.2 943.7 1358.8 952.2 1358.8 969.1 1348.2 977.6 1337.6 969.1 1337.6 952.2ZM1369.4 994.5 1380.0 1002.9 1380.0 1019.9 1369.4 1028.3 1358.8 1019.9 1358.8 1002.9ZM1390.6 994.5 1401.2 1002.9 1401.2 1019.9 1390.6 1028.3 1380.0 1019.9 1380.0 1002.9ZM1411.8 994.5 1422.4 1002.9 1422.4 1019.9 1411.8 1028.3 1401.2 1019.9 1401.2 1002.9ZM1380.0 1019.9 1390.6 1028.3 1390.6 1045.2 1380.0 1053.7 1369.4 1045.2 1369.4 1028.3ZM1401.2 1019.9 1411.8 1028.3 1411.8 1045.2 1401.2 1053.7 1390.6 1045.2 1390.6 1028.3ZM1221.0 1045.2 1231.6 1053.7 1231.6 1070.6 1221.0 1079.1 1210.4 1070.6 1210.4 1053.7ZM1539.0 1045.2 1549.6 1053.7 1549.6 1070.6 1539.0 1079.1 1528.4 1070.6 1528.4 1053.7ZM1221.0 1096.0 1231.6 1104.5 1231.6 1121.4 1221.0 1129.8 1210.4 1121.4 1210.4 1104.5ZM1316.4 1121.4 1327.0 1129.8 1327.0 1146.8 1316.4 1155.2 1305.8 1146.8 1305.8 1129.8ZM1337.6 1121.4 1348.2 1129.8 1348.2 1146.8 1337.6 1155.2 1327.0 1146.8 1327.0 1129.8ZM1358.8 1121.4 1369.4 1129.8 1369.4 1146.8 1358.8 1155.2 1348.2 1146.8 1348.2 1129.8ZM1443.6 1121.4 1454.2 1129.8 1454.2 1146.8 1443.6 1155.2 1433.0 1146.8 1433.0 1129.8ZM1507.2 1121.4 1517.8 1129.8 1517.8 1146.8 1507.2 1155.2 1496.6 1146.8 1496.6 1129.8ZM1761.6 867.6 1772.2 876.0 1772.2 893.0 1761.6 901.4 1751.0 893.0 1751.0 876.0ZM1910.0 867.6 1920.6 876.0 1920.6 893.0 1910.0 901.4 1899.4 893.0 1899.4 876.0ZM1878.2 893.0 1888.8 901.4 1888.8 918.3 1878.2 926.8 1867.6 918.3 1867.6 901.4ZM1899.4 893.0 1910.0 901.4 1910.0 918.3 1899.4 926.8 1888.8 918.3 1888.8 901.4ZM1719.2 918.3 1729.8 926.8 1729.8 943.7 1719.2 952.2 1708.6 943.7 1708.6 926.8ZM1740.4 918.3 1751.0 926.8 1751.0 943.7 1740.4 952.2 1729.8 943.7 1729.8 926.8ZM1782.8 918.3 1793.4 926.8 1793.4 943.7 1782.8 952.2 1772.2 943.7 1772.2 926.8ZM1804.0 918.3 1814.6 926.8 1814.6 943.7 1804.0 952.2 1793.4 943.7 1793.4 926.8ZM1825.2 918.3 1835.8 926.8 1835.8 943.7 1825.2 952.2 1814.6 943.7 1814.6 926.8ZM1846.4 918.3 1857.0 926.8 1857.0 943.7 1846.4 952.2 1835.8 943.7 1835.8 926.8ZM1814.6 943.7 1825.2 952.2 1825.2 969.1 1814.6 977.6 1804.0 969.1 1804.0 952.2ZM1676.8 969.1 1687.4 977.6 1687.4 994.5 1676.8 1002.9 1666.2 994.5 1666.2 977.6ZM1698.0 969.1 1708.6 977.6 1708.6 994.5 1698.0 1002.9 1687.4 994.5 1687.4 977.6ZM1655.6 1019.9 1666.2 1028.3 1666.2 1045.2 1655.6 1053.7 1645.0 1045.2 1645.0 1028.3ZM1676.8 1019.9 1687.4 1028.3 1687.4 1045.2 1676.8 1053.7 1666.2 1045.2 1666.2 1028.3ZM1613.2 1070.6 1623.8 1079.1 1623.8 1096.0 1613.2 1104.5 1602.6 1096.0 1602.6 1079.1ZM1634.4 1070.6 1645.0 1079.1 1645.0 1096.0 1634.4 1104.5 1623.8 1096.0 1623.8 1079.1ZM1623.8 1096.0 1634.4 1104.5 1634.4 1121.4 1623.8 1129.8 1613.2 1121.4 1613.2 1104.5ZM415.4 1146.8 426.0 1155.2 426.0 1172.1 415.4 1180.6 404.8 1172.1 404.8 1155.2ZM404.8 1172.1 415.4 1180.6 415.4 1197.5 404.8 1206.0 394.2 1197.5 394.2 1180.6ZM426.0 1172.1 436.6 1180.6 436.6 1197.5 426.0 1206.0 415.4 1197.5 415.4 1180.6ZM415.4 1197.5 426.0 1206.0 426.0 1222.9 415.4 1231.4 404.8 1222.9 404.8 1206.0ZM436.6 1197.5 447.2 1206.0 447.2 1222.9 436.6 1231.4 426.0 1222.9 426.0 1206.0ZM404.8 1222.9 415.4 1231.4 415.4 1248.3 404.8 1256.7 394.2 1248.3 394.2 1231.4ZM426.0 1222.9 436.6 1231.4 436.6 1248.3 426.0 1256.7 415.4 1248.3 415.4 1231.4ZM447.2 1222.9 457.8 1231.4 457.8 1248.3 447.2 1256.7 436.6 1248.3 436.6 1231.4ZM373.0 1299.0 383.6 1307.5 383.6 1324.4 373.0 1332.9 362.4 1324.4 362.4 1307.5ZM394.2 1299.0 404.8 1307.5 404.8 1324.4 394.2 1332.9 383.6 1324.4 383.6 1307.5ZM362.4 1324.4 373.0 1332.9 373.0 1349.8 362.4 1358.3 351.8 1349.8 351.8 1332.9ZM383.6 1324.4 394.2 1332.9 394.2 1349.8 383.6 1358.3 373.0 1349.8 373.0 1332.9ZM404.8 1324.4 415.4 1332.9 415.4 1349.8 404.8 1358.3 394.2 1349.8 394.2 1332.9ZM394.2 1400.6 404.8 1409.0 404.8 1425.9 394.2 1434.4 383.6 1425.9 383.6 1409.0ZM362.4 1425.9 373.0 1434.4 373.0 1451.3 362.4 1459.8 351.8 1451.3 351.8 1434.4ZM563.8 1146.8 574.4 1155.2 574.4 1172.1 563.8 1180.6 553.2 1172.1 553.2 1155.2ZM627.4 1146.8 638.0 1155.2 638.0 1172.1 627.4 1180.6 616.8 1172.1 616.8 1155.2ZM616.8 1172.1 627.4 1180.6 627.4 1197.5 616.8 1206.0 606.2 1197.5 606.2 1180.6ZM638.0 1172.1 648.6 1180.6 648.6 1197.5 638.0 1206.0 627.4 1197.5 627.4 1180.6ZM701.6 1172.1 712.2 1180.6 712.2 1197.5 701.6 1206.0 691.0 1197.5 691.0 1180.6ZM765.2 1172.1 775.8 1180.6 775.8 1197.5 765.2 1206.0 754.6 1197.5 754.6 1180.6ZM786.4 1172.1 797.0 1180.6 797.0 1197.5 786.4 1206.0 775.8 1197.5 775.8 1180.6ZM479.0 1197.5 489.6 1206.0 489.6 1222.9 479.0 1231.4 468.4 1222.9 468.4 1206.0ZM500.2 1197.5 510.8 1206.0 510.8 1222.9 500.2 1231.4 489.6 1222.9 489.6 1206.0ZM786.4 1222.9 797.0 1231.4 797.0 1248.3 786.4 1256.7 775.8 1248.3 775.8 1231.4ZM807.6 1222.9 818.2 1231.4 818.2 1248.3 807.6 1256.7 797.0 1248.3 797.0 1231.4ZM828.8 1222.9 839.4 1231.4 839.4 1248.3 828.8 1256.7 818.2 1248.3 818.2 1231.4ZM500.2 1248.3 510.8 1256.7 510.8 1273.7 500.2 1282.1 489.6 1273.7 489.6 1256.7ZM797.0 1248.3 807.6 1256.7 807.6 1273.7 797.0 1282.1 786.4 1273.7 786.4 1256.7ZM489.6 1273.7 500.2 1282.1 500.2 1299.0 489.6 1307.5 479.0 1299.0 479.0 1282.1ZM797.0 1299.0 807.6 1307.5 807.6 1324.4 797.0 1332.9 786.4 1324.4 786.4 1307.5ZM744.0 1324.4 754.6 1332.9 754.6 1349.8 744.0 1358.3 733.4 1349.8 733.4 1332.9ZM786.4 1324.4 797.0 1332.9 797.0 1349.8 786.4 1358.3 775.8 1349.8 775.8 1332.9ZM807.6 1324.4 818.2 1332.9 818.2 1349.8 807.6 1358.3 797.0 1349.8 797.0 1332.9ZM712.2 1349.8 722.8 1358.3 722.8 1375.2 712.2 1383.6 701.6 1375.2 701.6 1358.3ZM733.4 1349.8 744.0 1358.3 744.0 1375.2 733.4 1383.6 722.8 1375.2 722.8 1358.3ZM818.2 1349.8 828.8 1358.3 828.8 1375.2 818.2 1383.6 807.6 1375.2 807.6 1358.3ZM553.2 1375.2 563.8 1383.6 563.8 1400.6 553.2 1409.0 542.6 1400.6 542.6 1383.6ZM574.4 1375.2 585.0 1383.6 585.0 1400.6 574.4 1409.0 563.8 1400.6 563.8 1383.6ZM595.6 1375.2 606.2 1383.6 606.2 1400.6 595.6 1409.0 585.0 1400.6 585.0 1383.6ZM616.8 1375.2 627.4 1383.6 627.4 1400.6 616.8 1409.0 606.2 1400.6 606.2 1383.6ZM638.0 1375.2 648.6 1383.6 648.6 1400.6 638.0 1409.0 627.4 1400.6 627.4 1383.6ZM680.4 1375.2 691.0 1383.6 691.0 1400.6 680.4 1409.0 669.8 1400.6 669.8 1383.6ZM563.8 1400.6 574.4 1409.0 574.4 1425.9 563.8 1434.4 553.2 1425.9 553.2 1409.0ZM585.0 1400.6 595.6 1409.0 595.6 1425.9 585.0 1434.4 574.4 1425.9 574.4 1409.0ZM606.2 1400.6 616.8 1409.0 616.8 1425.9 606.2 1434.4 595.6 1425.9 595.6 1409.0ZM627.4 1400.6 638.0 1409.0 638.0 1425.9 627.4 1434.4 616.8 1425.9 616.8 1409.0ZM616.8 1425.9 627.4 1434.4 627.4 1451.3 616.8 1459.8 606.2 1451.3 606.2 1434.4ZM998.4 1172.1 1009.0 1180.6 1009.0 1197.5 998.4 1206.0 987.8 1197.5 987.8 1180.6ZM987.8 1197.5 998.4 1206.0 998.4 1222.9 987.8 1231.4 977.2 1222.9 977.2 1206.0ZM998.4 1222.9 1009.0 1231.4 1009.0 1248.3 998.4 1256.7 987.8 1248.3 987.8 1231.4ZM1040.8 1222.9 1051.4 1231.4 1051.4 1248.3 1040.8 1256.7 1030.2 1248.3 1030.2 1231.4ZM1083.2 1222.9 1093.8 1231.4 1093.8 1248.3 1083.2 1256.7 1072.6 1248.3 1072.6 1231.4ZM1104.4 1222.9 1115.0 1231.4 1115.0 1248.3 1104.4 1256.7 1093.8 1248.3 1093.8 1231.4ZM1125.6 1222.9 1136.2 1231.4 1136.2 1248.3 1125.6 1256.7 1115.0 1248.3 1115.0 1231.4ZM892.4 1273.7 903.0 1282.1 903.0 1299.0 892.4 1307.5 881.8 1299.0 881.8 1282.1ZM1168.0 1273.7 1178.6 1282.1 1178.6 1299.0 1168.0 1307.5 1157.4 1299.0 1157.4 1282.1ZM1189.2 1273.7 1199.8 1282.1 1199.8 1299.0 1189.2 1307.5 1178.6 1299.0 1178.6 1282.1ZM1157.4 1299.0 1168.0 1307.5 1168.0 1324.4 1157.4 1332.9 1146.8 1324.4 1146.8 1307.5ZM998.4 1324.4 1009.0 1332.9 1009.0 1349.8 998.4 1358.3 987.8 1349.8 987.8 1332.9ZM1146.8 1324.4 1157.4 1332.9 1157.4 1349.8 1146.8 1358.3 1136.2 1349.8 1136.2 1332.9ZM1168.0 1324.4 1178.6 1332.9 1178.6 1349.8 1168.0 1358.3 1157.4 1349.8 1157.4 1332.9ZM839.4 1349.8 850.0 1358.3 850.0 1375.2 839.4 1383.6 828.8 1375.2 828.8 1358.3ZM860.6 1349.8 871.2 1358.3 871.2 1375.2 860.6 1383.6 850.0 1375.2 850.0 1358.3ZM903.0 1349.8 913.6 1358.3 913.6 1375.2 903.0 1383.6 892.4 1375.2 892.4 1358.3ZM1157.4 1349.8 1168.0 1358.3 1168.0 1375.2 1157.4 1383.6 1146.8 1375.2 1146.8 1358.3ZM1146.8 1375.2 1157.4 1383.6 1157.4 1400.6 1146.8 1409.0 1136.2 1400.6 1136.2 1383.6ZM1136.2 1400.6 1146.8 1409.0 1146.8 1425.9 1136.2 1434.4 1125.6 1425.9 1125.6 1409.0ZM1157.4 1400.6 1168.0 1409.0 1168.0 1425.9 1157.4 1434.4 1146.8 1425.9 1146.8 1409.0ZM892.4 1425.9 903.0 1434.4 903.0 1451.3 892.4 1459.8 881.8 1451.3 881.8 1434.4ZM913.6 1425.9 924.2 1434.4 924.2 1451.3 913.6 1459.8 903.0 1451.3 903.0 1434.4ZM1104.4 1425.9 1115.0 1434.4 1115.0 1451.3 1104.4 1459.8 1093.8 1451.3 1093.8 1434.4ZM1125.6 1425.9 1136.2 1434.4 1136.2 1451.3 1125.6 1459.8 1115.0 1451.3 1115.0 1434.4ZM1146.8 1425.9 1157.4 1434.4 1157.4 1451.3 1146.8 1459.8 1136.2 1451.3 1136.2 1434.4ZM1411.8 1146.8 1422.4 1155.2 1422.4 1172.1 1411.8 1180.6 1401.2 1172.1 1401.2 1155.2ZM1433.0 1146.8 1443.6 1155.2 1443.6 1172.1 1433.0 1180.6 1422.4 1172.1 1422.4 1155.2ZM1422.4 1172.1 1433.0 1180.6 1433.0 1197.5 1422.4 1206.0 1411.8 1197.5 1411.8 1180.6ZM1305.8 1197.5 1316.4 1206.0 1316.4 1222.9 1305.8 1231.4 1295.2 1222.9 1295.2 1206.0ZM1454.2 1197.5 1464.8 1206.0 1464.8 1222.9 1454.2 1231.4 1443.6 1222.9 1443.6 1206.0ZM1475.4 1197.5 1486.0 1206.0 1486.0 1222.9 1475.4 1231.4 1464.8 1222.9 1464.8 1206.0ZM1274.0 1222.9 1284.6 1231.4 1284.6 1248.3 1274.0 1256.7 1263.4 1248.3 1263.4 1231.4ZM1295.2 1222.9 1305.8 1231.4 1305.8 1248.3 1295.2 1256.7 1284.6 1248.3 1284.6 1231.4ZM1422.4 1222.9 1433.0 1231.4 1433.0 1248.3 1422.4 1256.7 1411.8 1248.3 1411.8 1231.4ZM1199.8 1248.3 1210.4 1256.7 1210.4 1273.7 1199.8 1282.1 1189.2 1273.7 1189.2 1256.7ZM1221.0 1248.3 1231.6 1256.7 1231.6 1273.7 1221.0 1282.1 1210.4 1273.7 1210.4 1256.7ZM1284.6 1248.3 1295.2 1256.7 1295.2 1273.7 1284.6 1282.1 1274.0 1273.7 1274.0 1256.7ZM1464.8 1273.7 1475.4 1282.1 1475.4 1299.0 1464.8 1307.5 1454.2 1299.0 1454.2 1282.1ZM1433.0 1299.0 1443.6 1307.5 1443.6 1324.4 1433.0 1332.9 1422.4 1324.4 1422.4 1307.5ZM1358.8 1324.4 1369.4 1332.9 1369.4 1349.8 1358.8 1358.3 1348.2 1349.8 1348.2 1332.9ZM1380.0 1324.4 1390.6 1332.9 1390.6 1349.8 1380.0 1358.3 1369.4 1349.8 1369.4 1332.9ZM1199.8 1400.6 1210.4 1409.0 1210.4 1425.9 1199.8 1434.4 1189.2 1425.9 1189.2 1409.0ZM1231.6 1425.9 1242.2 1434.4 1242.2 1451.3 1231.6 1459.8 1221.0 1451.3 1221.0 1434.4ZM1252.8 1425.9 1263.4 1434.4 1263.4 1451.3 1252.8 1459.8 1242.2 1451.3 1242.2 1434.4ZM457.8 1451.3 468.4 1459.8 468.4 1476.7 457.8 1485.2 447.2 1476.7 447.2 1459.8ZM627.4 1451.3 638.0 1459.8 638.0 1476.7 627.4 1485.2 616.8 1476.7 616.8 1459.8ZM648.6 1451.3 659.2 1459.8 659.2 1476.7 648.6 1485.2 638.0 1476.7 638.0 1459.8ZM669.8 1451.3 680.4 1459.8 680.4 1476.7 669.8 1485.2 659.2 1476.7 659.2 1459.8ZM616.8 1476.7 627.4 1485.2 627.4 1502.1 616.8 1510.5 606.2 1502.1 606.2 1485.2ZM638.0 1476.7 648.6 1485.2 648.6 1502.1 638.0 1510.5 627.4 1502.1 627.4 1485.2ZM659.2 1476.7 669.8 1485.2 669.8 1502.1 659.2 1510.5 648.6 1502.1 648.6 1485.2ZM680.4 1476.7 691.0 1485.2 691.0 1502.1 680.4 1510.5 669.8 1502.1 669.8 1485.2ZM627.4 1502.1 638.0 1510.5 638.0 1527.5 627.4 1535.9 616.8 1527.5 616.8 1510.5ZM648.6 1502.1 659.2 1510.5 659.2 1527.5 648.6 1535.9 638.0 1527.5 638.0 1510.5ZM659.2 1527.5 669.8 1535.9 669.8 1552.8 659.2 1561.3 648.6 1552.8 648.6 1535.9ZM712.2 1552.8 722.8 1561.3 722.8 1578.2 712.2 1586.7 701.6 1578.2 701.6 1561.3ZM733.4 1552.8 744.0 1561.3 744.0 1578.2 733.4 1586.7 722.8 1578.2 722.8 1561.3ZM754.6 1552.8 765.2 1561.3 765.2 1578.2 754.6 1586.7 744.0 1578.2 744.0 1561.3ZM722.8 1578.2 733.4 1586.7 733.4 1603.6 722.8 1612.1 712.2 1603.6 712.2 1586.7ZM744.0 1578.2 754.6 1586.7 754.6 1603.6 744.0 1612.1 733.4 1603.6 733.4 1586.7ZM500.2 1603.6 510.8 1612.1 510.8 1629.0 500.2 1637.4 489.6 1629.0 489.6 1612.1ZM521.4 1603.6 532.0 1612.1 532.0 1629.0 521.4 1637.4 510.8 1629.0 510.8 1612.1ZM669.8 1603.6 680.4 1612.1 680.4 1629.0 669.8 1637.4 659.2 1629.0 659.2 1612.1ZM616.8 1629.0 627.4 1637.4 627.4 1654.4 616.8 1662.8 606.2 1654.4 606.2 1637.4ZM638.0 1629.0 648.6 1637.4 648.6 1654.4 638.0 1662.8 627.4 1654.4 627.4 1637.4ZM659.2 1629.0 669.8 1637.4 669.8 1654.4 659.2 1662.8 648.6 1654.4 648.6 1637.4ZM680.4 1629.0 691.0 1637.4 691.0 1654.4 680.4 1662.8 669.8 1654.4 669.8 1637.4ZM701.6 1629.0 712.2 1637.4 712.2 1654.4 701.6 1662.8 691.0 1654.4 691.0 1637.4ZM500.2 1654.4 510.8 1662.8 510.8 1679.7 500.2 1688.2 489.6 1679.7 489.6 1662.8ZM521.4 1654.4 532.0 1662.8 532.0 1679.7 521.4 1688.2 510.8 1679.7 510.8 1662.8ZM542.6 1654.4 553.2 1662.8 553.2 1679.7 542.6 1688.2 532.0 1679.7 532.0 1662.8ZM563.8 1654.4 574.4 1662.8 574.4 1679.7 563.8 1688.2 553.2 1679.7 553.2 1662.8ZM627.4 1654.4 638.0 1662.8 638.0 1679.7 627.4 1688.2 616.8 1679.7 616.8 1662.8ZM648.6 1654.4 659.2 1662.8 659.2 1679.7 648.6 1688.2 638.0 1679.7 638.0 1662.8ZM691.0 1654.4 701.6 1662.8 701.6 1679.7 691.0 1688.2 680.4 1679.7 680.4 1662.8ZM532.0 1679.7 542.6 1688.2 542.6 1705.1 532.0 1713.6 521.4 1705.1 521.4 1688.2ZM553.2 1679.7 563.8 1688.2 563.8 1705.1 553.2 1713.6 542.6 1705.1 542.6 1688.2ZM638.0 1679.7 648.6 1688.2 648.6 1705.1 638.0 1713.6 627.4 1705.1 627.4 1688.2ZM659.2 1679.7 669.8 1688.2 669.8 1705.1 659.2 1713.6 648.6 1705.1 648.6 1688.2ZM563.8 1705.1 574.4 1713.6 574.4 1730.5 563.8 1739.0 553.2 1730.5 553.2 1713.6ZM585.0 1705.1 595.6 1713.6 595.6 1730.5 585.0 1739.0 574.4 1730.5 574.4 1713.6ZM606.2 1705.1 616.8 1713.6 616.8 1730.5 606.2 1739.0 595.6 1730.5 595.6 1713.6ZM1093.8 1451.3 1104.4 1459.8 1104.4 1476.7 1093.8 1485.2 1083.2 1476.7 1083.2 1459.8ZM1115.0 1451.3 1125.6 1459.8 1125.6 1476.7 1115.0 1485.2 1104.4 1476.7 1104.4 1459.8ZM1136.2 1451.3 1146.8 1459.8 1146.8 1476.7 1136.2 1485.2 1125.6 1476.7 1125.6 1459.8ZM1157.4 1451.3 1168.0 1459.8 1168.0 1476.7 1157.4 1485.2 1146.8 1476.7 1146.8 1459.8Z"/><path fill="#463480" stroke="#463480" stroke-width="0.6" d="M1952.4 461.5 1963.0 470.0 1963.0 486.9 1952.4 495.3 1941.8 486.9 1941.8 470.0ZM1973.6 461.5 1984.2 470.0 1984.2 486.9 1973.6 495.3 1963.0 486.9 1963.0 470.0ZM1994.8 461.5 2005.4 470.0 2005.4 486.9 1994.8 495.3 1984.2 486.9 1984.2 470.0ZM1963.0 486.9 1973.6 495.3 1973.6 512.3 1963.0 520.7 1952.4 512.3 1952.4 495.3ZM1984.2 486.9 1994.8 495.3 1994.8 512.3 1984.2 520.7 1973.6 512.3 1973.6 495.3ZM2047.8 486.9 2058.4 495.3 2058.4 512.3 2047.8 520.7 2037.2 512.3 2037.2 495.3ZM1952.4 512.3 1963.0 520.7 1963.0 537.6 1952.4 546.1 1941.8 537.6 1941.8 520.7ZM2037.2 512.3 2047.8 520.7 2047.8 537.6 2037.2 546.1 2026.6 537.6 2026.6 520.7ZM2058.4 512.3 2069.0 520.7 2069.0 537.6 2058.4 546.1 2047.8 537.6 2047.8 520.7ZM1623.8 385.4 1634.4 393.8 1634.4 410.7 1623.8 419.2 1613.2 410.7 1613.2 393.8ZM1645.0 385.4 1655.6 393.8 1655.6 410.7 1645.0 419.2 1634.4 410.7 1634.4 393.8ZM1666.2 385.4 1676.8 393.8 1676.8 410.7 1666.2 419.2 1655.6 410.7 1655.6 393.8ZM1687.4 385.4 1698.0 393.8 1698.0 410.7 1687.4 419.2 1676.8 410.7 1676.8 393.8ZM1613.2 410.7 1623.8 419.2 1623.8 436.1 1613.2 444.6 1602.6 436.1 1602.6 419.2ZM1634.4 410.7 1645.0 419.2 1645.0 436.1 1634.4 444.6 1623.8 436.1 1623.8 419.2ZM1655.6 410.7 1666.2 419.2 1666.2 436.1 1655.6 444.6 1645.0 436.1 1645.0 419.2ZM1676.8 410.7 1687.4 419.2 1687.4 436.1 1676.8 444.6 1666.2 436.1 1666.2 419.2ZM1888.8 410.7 1899.4 419.2 1899.4 436.1 1888.8 444.6 1878.2 436.1 1878.2 419.2ZM1602.6 436.1 1613.2 444.6 1613.2 461.5 1602.6 470.0 1592.0 461.5 1592.0 444.6ZM1666.2 436.1 1676.8 444.6 1676.8 461.5 1666.2 470.0 1655.6 461.5 1655.6 444.6ZM1793.4 436.1 1804.0 444.6 1804.0 461.5 1793.4 470.0 1782.8 461.5 1782.8 444.6ZM1549.6 461.5 1560.2 470.0 1560.2 486.9 1549.6 495.3 1539.0 486.9 1539.0 470.0ZM1613.2 461.5 1623.8 470.0 1623.8 486.9 1613.2 495.3 1602.6 486.9 1602.6 470.0ZM1782.8 461.5 1793.4 470.0 1793.4 486.9 1782.8 495.3 1772.2 486.9 1772.2 470.0ZM1549.6 512.3 1560.2 520.7 1560.2 537.6 1549.6 546.1 1539.0 537.6 1539.0 520.7ZM1570.8 512.3 1581.4 520.7 1581.4 537.6 1570.8 546.1 1560.2 537.6 1560.2 520.7ZM1910.0 512.3 1920.6 520.7 1920.6 537.6 1910.0 546.1 1899.4 537.6 1899.4 520.7ZM1263.4 486.9 1274.0 495.3 1274.0 512.3 1263.4 520.7 1252.8 512.3 1252.8 495.3ZM1284.6 486.9 1295.2 495.3 1295.2 512.3 1284.6 520.7 1274.0 512.3 1274.0 495.3ZM1305.8 486.9 1316.4 495.3 1316.4 512.3 1305.8 520.7 1295.2 512.3 1295.2 495.3ZM1433.0 486.9 1443.6 495.3 1443.6 512.3 1433.0 520.7 1422.4 512.3 1422.4 495.3ZM1454.2 486.9 1464.8 495.3 1464.8 512.3 1454.2 520.7 1443.6 512.3 1443.6 495.3ZM1539.0 486.9 1549.6 495.3 1549.6 512.3 1539.0 520.7 1528.4 512.3 1528.4 495.3ZM1231.6 512.3 1242.2 520.7 1242.2 537.6 1231.6 546.1 1221.0 537.6 1221.0 520.7ZM1252.8 512.3 1263.4 520.7 1263.4 537.6 1252.8 546.1 1242.2 537.6 1242.2 520.7ZM1274.0 512.3 1284.6 520.7 1284.6 537.6 1274.0 546.1 1263.4 537.6 1263.4 520.7ZM1295.2 512.3 1305.8 520.7 1305.8 537.6 1295.2 546.1 1284.6 537.6 1284.6 520.7ZM1358.8 512.3 1369.4 520.7 1369.4 537.6 1358.8 546.1 1348.2 537.6 1348.2 520.7ZM1443.6 512.3 1454.2 520.7 1454.2 537.6 1443.6 546.1 1433.0 537.6 1433.0 520.7ZM1125.6 512.3 1136.2 520.7 1136.2 537.6 1125.6 546.1 1115.0 537.6 1115.0 520.7ZM1146.8 512.3 1157.4 520.7 1157.4 537.6 1146.8 546.1 1136.2 537.6 1136.2 520.7ZM1168.0 512.3 1178.6 520.7 1178.6 537.6 1168.0 546.1 1157.4 537.6 1157.4 520.7ZM2090.2 537.6 2100.8 546.1 2100.8 563.0 2090.2 571.5 2079.6 563.0 2079.6 546.1ZM2111.4 537.6 2122.0 546.1 2122.0 563.0 2111.4 571.5 2100.8 563.0 2100.8 546.1ZM2132.6 537.6 2143.2 546.1 2143.2 563.0 2132.6 571.5 2122.0 563.0 2122.0 546.1ZM2100.8 563.0 2111.4 571.5 2111.4 588.4 2100.8 596.9 2090.2 588.4 2090.2 571.5ZM1920.6 588.4 1931.2 596.9 1931.2 613.8 1920.6 622.2 1910.0 613.8 1910.0 596.9ZM1931.2 613.8 1941.8 622.2 1941.8 639.2 1931.2 647.6 1920.6 639.2 1920.6 622.2ZM1952.4 613.8 1963.0 622.2 1963.0 639.2 1952.4 647.6 1941.8 639.2 1941.8 622.2ZM2016.0 715.3 2026.6 723.8 2026.6 740.7 2016.0 749.1 2005.4 740.7 2005.4 723.8ZM2005.4 740.7 2016.0 749.1 2016.0 766.1 2005.4 774.5 1994.8 766.1 1994.8 749.1ZM2026.6 740.7 2037.2 749.1 2037.2 766.1 2026.6 774.5 2016.0 766.1 2016.0 749.1ZM1984.2 791.4 1994.8 799.9 1994.8 816.8 1984.2 825.3 1973.6 816.8 1973.6 799.9ZM2005.4 791.4 2016.0 799.9 2016.0 816.8 2005.4 825.3 1994.8 816.8 1994.8 799.9ZM1973.6 816.8 1984.2 825.3 1984.2 842.2 1973.6 850.7 1963.0 842.2 1963.0 825.3ZM1793.4 537.6 1804.0 546.1 1804.0 563.0 1793.4 571.5 1782.8 563.0 1782.8 546.1ZM1878.2 537.6 1888.8 546.1 1888.8 563.0 1878.2 571.5 1867.6 563.0 1867.6 546.1ZM1570.8 563.0 1581.4 571.5 1581.4 588.4 1570.8 596.9 1560.2 588.4 1560.2 571.5ZM1592.0 563.0 1602.6 571.5 1602.6 588.4 1592.0 596.9 1581.4 588.4 1581.4 571.5ZM1613.2 563.0 1623.8 571.5 1623.8 588.4 1613.2 596.9 1602.6 588.4 1602.6 571.5ZM1634.4 563.0 1645.0 571.5 1645.0 588.4 1634.4 596.9 1623.8 588.4 1623.8 571.5ZM1825.2 563.0 1835.8 571.5 1835.8 588.4 1825.2 596.9 1814.6 588.4 1814.6 571.5ZM1846.4 563.0 1857.0 571.5 1857.0 588.4 1846.4 596.9 1835.8 588.4 1835.8 571.5ZM1878.2 639.2 1888.8 647.6 1888.8 664.5 1878.2 673.0 1867.6 664.5 1867.6 647.6ZM1814.6 740.7 1825.2 749.1 1825.2 766.1 1814.6 774.5 1804.0 766.1 1804.0 749.1ZM1835.8 740.7 1846.4 749.1 1846.4 766.1 1835.8 774.5 1825.2 766.1 1825.2 749.1ZM1899.4 740.7 1910.0 749.1 1910.0 766.1 1899.4 774.5 1888.8 766.1 1888.8 749.1ZM1634.4 766.1 1645.0 774.5 1645.0 791.4 1634.4 799.9 1623.8 791.4 1623.8 774.5ZM1655.6 766.1 1666.2 774.5 1666.2 791.4 1655.6 799.9 1645.0 791.4 1645.0 774.5ZM1676.8 766.1 1687.4 774.5 1687.4 791.4 1676.8 799.9 1666.2 791.4 1666.2 774.5ZM1698.0 766.1 1708.6 774.5 1708.6 791.4 1698.0 799.9 1687.4 791.4 1687.4 774.5ZM1804.0 766.1 1814.6 774.5 1814.6 791.4 1804.0 799.9 1793.4 791.4 1793.4 774.5ZM1825.2 766.1 1835.8 774.5 1835.8 791.4 1825.2 799.9 1814.6 791.4 1814.6 774.5ZM1846.4 766.1 1857.0 774.5 1857.0 791.4 1846.4 799.9 1835.8 791.4 1835.8 774.5ZM1655.6 816.8 1666.2 825.3 1666.2 842.2 1655.6 850.7 1645.0 842.2 1645.0 825.3ZM1719.2 816.8 1729.8 825.3 1729.8 842.2 1719.2 850.7 1708.6 842.2 1708.6 825.3ZM1740.4 816.8 1751.0 825.3 1751.0 842.2 1740.4 850.7 1729.8 842.2 1729.8 825.3ZM1761.6 816.8 1772.2 825.3 1772.2 842.2 1761.6 850.7 1751.0 842.2 1751.0 825.3ZM1846.4 816.8 1857.0 825.3 1857.0 842.2 1846.4 850.7 1835.8 842.2 1835.8 825.3ZM1867.6 816.8 1878.2 825.3 1878.2 842.2 1867.6 850.7 1857.0 842.2 1857.0 825.3ZM1199.8 537.6 1210.4 546.1 1210.4 563.0 1199.8 571.5 1189.2 563.0 1189.2 546.1ZM1284.6 537.6 1295.2 546.1 1295.2 563.0 1284.6 571.5 1274.0 563.0 1274.0 546.1ZM1369.4 537.6 1380.0 546.1 1380.0 563.0 1369.4 571.5 1358.8 563.0 1358.8 546.1ZM1390.6 537.6 1401.2 546.1 1401.2 563.0 1390.6 571.5 1380.0 563.0 1380.0 546.1ZM1411.8 537.6 1422.4 546.1 1422.4 563.0 1411.8 571.5 1401.2 563.0 1401.2 546.1ZM1252.8 563.0 1263.4 571.5 1263.4 588.4 1252.8 596.9 1242.2 588.4 1242.2 571.5ZM1274.0 563.0 1284.6 571.5 1284.6 588.4 1274.0 596.9 1263.4 588.4 1263.4 571.5ZM1295.2 563.0 1305.8 571.5 1305.8 588.4 1295.2 596.9 1284.6 588.4 1284.6 571.5ZM1358.8 563.0 1369.4 571.5 1369.4 588.4 1358.8 596.9 1348.2 588.4 1348.2 571.5ZM1380.0 563.0 1390.6 571.5 1390.6 588.4 1380.0 596.9 1369.4 588.4 1369.4 571.5ZM1401.2 563.0 1411.8 571.5 1411.8 588.4 1401.2 596.9 1390.6 588.4 1390.6 571.5ZM1443.6 563.0 1454.2 571.5 1454.2 588.4 1443.6 596.9 1433.0 588.4 1433.0 571.5ZM1263.4 588.4 1274.0 596.9 1274.0 613.8 1263.4 622.2 1252.8 613.8 1252.8 596.9ZM1199.8 639.2 1210.4 647.6 1210.4 664.5 1199.8 673.0 1189.2 664.5 1189.2 647.6ZM1348.2 639.2 1358.8 647.6 1358.8 664.5 1348.2 673.0 1337.6 664.5 1337.6 647.6ZM1210.4 664.5 1221.0 673.0 1221.0 689.9 1210.4 698.4 1199.8 689.9 1199.8 673.0ZM1337.6 664.5 1348.2 673.0 1348.2 689.9 1337.6 698.4 1327.0 689.9 1327.0 673.0ZM1443.6 664.5 1454.2 673.0 1454.2 689.9 1443.6 698.4 1433.0 689.9 1433.0 673.0ZM1284.6 689.9 1295.2 698.4 1295.2 715.3 1284.6 723.8 1274.0 715.3 1274.0 698.4ZM1305.8 689.9 1316.4 698.4 1316.4 715.3 1305.8 723.8 1295.2 715.3 1295.2 698.4ZM1199.8 740.7 1210.4 749.1 1210.4 766.1 1199.8 774.5 1189.2 766.1 1189.2 749.1ZM1221.0 740.7 1231.6 749.1 1231.6 766.1 1221.0 774.5 1210.4 766.1 1210.4 749.1ZM1189.2 766.1 1199.8 774.5 1199.8 791.4 1189.2 799.9 1178.6 791.4 1178.6 774.5ZM1507.2 766.1 1517.8 774.5 1517.8 791.4 1507.2 799.9 1496.6 791.4 1496.6 774.5ZM1528.4 766.1 1539.0 774.5 1539.0 791.4 1528.4 799.9 1517.8 791.4 1517.8 774.5ZM1496.6 791.4 1507.2 799.9 1507.2 816.8 1496.6 825.3 1486.0 816.8 1486.0 799.9ZM1517.8 791.4 1528.4 799.9 1528.4 816.8 1517.8 825.3 1507.2 816.8 1507.2 799.9ZM1274.0 816.8 1284.6 825.3 1284.6 842.2 1274.0 850.7 1263.4 842.2 1263.4 825.3ZM1507.2 816.8 1517.8 825.3 1517.8 842.2 1507.2 850.7 1496.6 842.2 1496.6 825.3ZM1528.4 816.8 1539.0 825.3 1539.0 842.2 1528.4 850.7 1517.8 842.2 1517.8 825.3ZM1115.0 588.4 1125.6 596.9 1125.6 613.8 1115.0 622.2 1104.4 613.8 1104.4 596.9ZM1083.2 715.3 1093.8 723.8 1093.8 740.7 1083.2 749.1 1072.6 740.7 1072.6 723.8ZM1157.4 791.4 1168.0 799.9 1168.0 816.8 1157.4 825.3 1146.8 816.8 1146.8 799.9ZM606.2 740.7 616.8 749.1 616.8 766.1 606.2 774.5 595.6 766.1 595.6 749.1ZM595.6 766.1 606.2 774.5 606.2 791.4 595.6 799.9 585.0 791.4 585.0 774.5ZM521.4 791.4 532.0 799.9 532.0 816.8 521.4 825.3 510.8 816.8 510.8 799.9ZM606.2 791.4 616.8 799.9 616.8 816.8 606.2 825.3 595.6 816.8 595.6 799.9ZM489.6 816.8 500.2 825.3 500.2 842.2 489.6 850.7 479.0 842.2 479.0 825.3ZM510.8 816.8 521.4 825.3 521.4 842.2 510.8 850.7 500.2 842.2 500.2 825.3ZM532.0 816.8 542.6 825.3 542.6 842.2 532.0 850.7 521.4 842.2 521.4 825.3ZM553.2 816.8 563.8 825.3 563.8 842.2 553.2 850.7 542.6 842.2 542.6 825.3ZM277.6 816.8 288.2 825.3 288.2 842.2 277.6 850.7 267.0 842.2 267.0 825.3ZM436.6 842.2 447.2 850.7 447.2 867.6 436.6 876.0 426.0 867.6 426.0 850.7ZM351.8 943.7 362.4 952.2 362.4 969.1 351.8 977.6 341.2 969.1 341.2 952.2ZM468.4 969.1 479.0 977.6 479.0 994.5 468.4 1002.9 457.8 994.5 457.8 977.6ZM457.8 1096.0 468.4 1104.5 468.4 1121.4 457.8 1129.8 447.2 1121.4 447.2 1104.5ZM500.2 842.2 510.8 850.7 510.8 867.6 500.2 876.0 489.6 867.6 489.6 850.7ZM521.4 842.2 532.0 850.7 532.0 867.6 521.4 876.0 510.8 867.6 510.8 850.7ZM542.6 842.2 553.2 850.7 553.2 867.6 542.6 876.0 532.0 867.6 532.0 850.7ZM479.0 943.7 489.6 952.2 489.6 969.1 479.0 977.6 468.4 969.1 468.4 952.2ZM500.2 943.7 510.8 952.2 510.8 969.1 500.2 977.6 489.6 969.1 489.6 952.2ZM521.4 943.7 532.0 952.2 532.0 969.1 521.4 977.6 510.8 969.1 510.8 952.2ZM691.0 943.7 701.6 952.2 701.6 969.1 691.0 977.6 680.4 969.1 680.4 952.2ZM712.2 943.7 722.8 952.2 722.8 969.1 712.2 977.6 701.6 969.1 701.6 952.2ZM733.4 943.7 744.0 952.2 744.0 969.1 733.4 977.6 722.8 969.1 722.8 952.2ZM489.6 969.1 500.2 977.6 500.2 994.5 489.6 1002.9 479.0 994.5 479.0 977.6ZM510.8 969.1 521.4 977.6 521.4 994.5 510.8 1002.9 500.2 994.5 500.2 977.6ZM532.0 969.1 542.6 977.6 542.6 994.5 532.0 1002.9 521.4 994.5 521.4 977.6ZM722.8 969.1 733.4 977.6 733.4 994.5 722.8 1002.9 712.2 994.5 712.2 977.6ZM627.4 1045.2 638.0 1053.7 638.0 1070.6 627.4 1079.1 616.8 1070.6 616.8 1053.7ZM616.8 1070.6 627.4 1079.1 627.4 1096.0 616.8 1104.5 606.2 1096.0 606.2 1079.1ZM638.0 1070.6 648.6 1079.1 648.6 1096.0 638.0 1104.5 627.4 1096.0 627.4 1079.1ZM659.2 1070.6 669.8 1079.1 669.8 1096.0 659.2 1104.5 648.6 1096.0 648.6 1079.1ZM521.4 1096.0 532.0 1104.5 532.0 1121.4 521.4 1129.8 510.8 1121.4 510.8 1104.5ZM606.2 1096.0 616.8 1104.5 616.8 1121.4 606.2 1129.8 595.6 1121.4 595.6 1104.5ZM627.4 1096.0 638.0 1104.5 638.0 1121.4 627.4 1129.8 616.8 1121.4 616.8 1104.5ZM648.6 1096.0 659.2 1104.5 659.2 1121.4 648.6 1129.8 638.0 1121.4 638.0 1104.5ZM775.8 1096.0 786.4 1104.5 786.4 1121.4 775.8 1129.8 765.2 1121.4 765.2 1104.5ZM797.0 1096.0 807.6 1104.5 807.6 1121.4 797.0 1129.8 786.4 1121.4 786.4 1104.5ZM818.2 1096.0 828.8 1104.5 828.8 1121.4 818.2 1129.8 807.6 1121.4 807.6 1104.5ZM489.6 1121.4 500.2 1129.8 500.2 1146.8 489.6 1155.2 479.0 1146.8 479.0 1129.8ZM765.2 1121.4 775.8 1129.8 775.8 1146.8 765.2 1155.2 754.6 1146.8 754.6 1129.8ZM1019.6 918.3 1030.2 926.8 1030.2 943.7 1019.6 952.2 1009.0 943.7 1009.0 926.8ZM1040.8 918.3 1051.4 926.8 1051.4 943.7 1040.8 952.2 1030.2 943.7 1030.2 926.8ZM903.0 943.7 913.6 952.2 913.6 969.1 903.0 977.6 892.4 969.1 892.4 952.2ZM1009.0 943.7 1019.6 952.2 1019.6 969.1 1009.0 977.6 998.4 969.1 998.4 952.2ZM1030.2 943.7 1040.8 952.2 1040.8 969.1 1030.2 977.6 1019.6 969.1 1019.6 952.2ZM956.0 969.1 966.6 977.6 966.6 994.5 956.0 1002.9 945.4 994.5 945.4 977.6ZM1189.2 969.1 1199.8 977.6 1199.8 994.5 1189.2 1002.9 1178.6 994.5 1178.6 977.6ZM839.4 1096.0 850.0 1104.5 850.0 1121.4 839.4 1129.8 828.8 1121.4 828.8 1104.5ZM860.6 1096.0 871.2 1104.5 871.2 1121.4 860.6 1129.8 850.0 1121.4 850.0 1104.5ZM881.8 1096.0 892.4 1104.5 892.4 1121.4 881.8 1129.8 871.2 1121.4 871.2 1104.5ZM903.0 1096.0 913.6 1104.5 913.6 1121.4 903.0 1129.8 892.4 1121.4 892.4 1104.5ZM1030.2 1096.0 1040.8 1104.5 1040.8 1121.4 1030.2 1129.8 1019.6 1121.4 1019.6 1104.5ZM1051.4 1096.0 1062.0 1104.5 1062.0 1121.4 1051.4 1129.8 1040.8 1121.4 1040.8 1104.5ZM871.2 1121.4 881.8 1129.8 881.8 1146.8 871.2 1155.2 860.6 1146.8 860.6 1129.8ZM892.4 1121.4 903.0 1129.8 903.0 1146.8 892.4 1155.2 881.8 1146.8 881.8 1129.8ZM1040.8 1121.4 1051.4 1129.8 1051.4 1146.8 1040.8 1155.2 1030.2 1146.8 1030.2 1129.8ZM1062.0 1121.4 1072.6 1129.8 1072.6 1146.8 1062.0 1155.2 1051.4 1146.8 1051.4 1129.8ZM1083.2 1121.4 1093.8 1129.8 1093.8 1146.8 1083.2 1155.2 1072.6 1146.8 1072.6 1129.8ZM1263.4 842.2 1274.0 850.7 1274.0 867.6 1263.4 876.0 1252.8 867.6 1252.8 850.7ZM1496.6 842.2 1507.2 850.7 1507.2 867.6 1496.6 876.0 1486.0 867.6 1486.0 850.7ZM1507.2 867.6 1517.8 876.0 1517.8 893.0 1507.2 901.4 1496.6 893.0 1496.6 876.0ZM1528.4 867.6 1539.0 876.0 1539.0 893.0 1528.4 901.4 1517.8 893.0 1517.8 876.0ZM1517.8 893.0 1528.4 901.4 1528.4 918.3 1517.8 926.8 1507.2 918.3 1507.2 901.4ZM1210.4 969.1 1221.0 977.6 1221.0 994.5 1210.4 1002.9 1199.8 994.5 1199.8 977.6ZM1507.2 1070.6 1517.8 1079.1 1517.8 1096.0 1507.2 1104.5 1496.6 1096.0 1496.6 1079.1ZM1475.4 1096.0 1486.0 1104.5 1486.0 1121.4 1475.4 1129.8 1464.8 1121.4 1464.8 1104.5ZM1295.2 1121.4 1305.8 1129.8 1305.8 1146.8 1295.2 1155.2 1284.6 1146.8 1284.6 1129.8ZM1401.2 1121.4 1411.8 1129.8 1411.8 1146.8 1401.2 1155.2 1390.6 1146.8 1390.6 1129.8ZM1464.8 1121.4 1475.4 1129.8 1475.4 1146.8 1464.8 1155.2 1454.2 1146.8 1454.2 1129.8ZM1486.0 1121.4 1496.6 1129.8 1496.6 1146.8 1486.0 1155.2 1475.4 1146.8 1475.4 1129.8ZM1645.0 842.2 1655.6 850.7 1655.6 867.6 1645.0 876.0 1634.4 867.6 1634.4 850.7ZM1666.2 842.2 1676.8 850.7 1676.8 867.6 1666.2 876.0 1655.6 867.6 1655.6 850.7ZM1729.8 842.2 1740.4 850.7 1740.4 867.6 1729.8 876.0 1719.2 867.6 1719.2 850.7ZM1751.0 842.2 1761.6 850.7 1761.6 867.6 1751.0 876.0 1740.4 867.6 1740.4 850.7ZM1772.2 842.2 1782.8 850.7 1782.8 867.6 1772.2 876.0 1761.6 867.6 1761.6 850.7ZM1878.2 842.2 1888.8 850.7 1888.8 867.6 1878.2 876.0 1867.6 867.6 1867.6 850.7ZM1899.4 842.2 1910.0 850.7 1910.0 867.6 1899.4 876.0 1888.8 867.6 1888.8 850.7ZM1676.8 867.6 1687.4 876.0 1687.4 893.0 1676.8 901.4 1666.2 893.0 1666.2 876.0ZM1719.2 867.6 1729.8 876.0 1729.8 893.0 1719.2 901.4 1708.6 893.0 1708.6 876.0ZM1708.6 893.0 1719.2 901.4 1719.2 918.3 1708.6 926.8 1698.0 918.3 1698.0 901.4ZM1729.8 893.0 1740.4 901.4 1740.4 918.3 1729.8 926.8 1719.2 918.3 1719.2 901.4ZM1676.8 918.3 1687.4 926.8 1687.4 943.7 1676.8 952.2 1666.2 943.7 1666.2 926.8ZM1793.4 943.7 1804.0 952.2 1804.0 969.1 1793.4 977.6 1782.8 969.1 1782.8 952.2ZM1655.6 1070.6 1666.2 1079.1 1666.2 1096.0 1655.6 1104.5 1645.0 1096.0 1645.0 1079.1ZM1581.4 1096.0 1592.0 1104.5 1592.0 1121.4 1581.4 1129.8 1570.8 1121.4 1570.8 1104.5ZM1645.0 1096.0 1655.6 1104.5 1655.6 1121.4 1645.0 1129.8 1634.4 1121.4 1634.4 1104.5ZM1570.8 1121.4 1581.4 1129.8 1581.4 1146.8 1570.8 1155.2 1560.2 1146.8 1560.2 1129.8ZM1613.2 1121.4 1623.8 1129.8 1623.8 1146.8 1613.2 1155.2 1602.6 1146.8 1602.6 1129.8ZM1920.6 842.2 1931.2 850.7 1931.2 867.6 1920.6 876.0 1910.0 867.6 1910.0 850.7ZM457.8 1146.8 468.4 1155.2 468.4 1172.1 457.8 1180.6 447.2 1172.1 447.2 1155.2ZM373.0 1349.8 383.6 1358.3 383.6 1375.2 373.0 1383.6 362.4 1375.2 362.4 1358.3ZM394.2 1349.8 404.8 1358.3 404.8 1375.2 394.2 1383.6 383.6 1375.2 383.6 1358.3ZM415.4 1349.8 426.0 1358.3 426.0 1375.2 415.4 1383.6 404.8 1375.2 404.8 1358.3ZM383.6 1375.2 394.2 1383.6 394.2 1400.6 383.6 1409.0 373.0 1400.6 373.0 1383.6ZM447.2 1425.9 457.8 1434.4 457.8 1451.3 447.2 1459.8 436.6 1451.3 436.6 1434.4ZM479.0 1146.8 489.6 1155.2 489.6 1172.1 479.0 1180.6 468.4 1172.1 468.4 1155.2ZM542.6 1146.8 553.2 1155.2 553.2 1172.1 542.6 1180.6 532.0 1172.1 532.0 1155.2ZM606.2 1146.8 616.8 1155.2 616.8 1172.1 606.2 1180.6 595.6 1172.1 595.6 1155.2ZM489.6 1172.1 500.2 1180.6 500.2 1197.5 489.6 1206.0 479.0 1197.5 479.0 1180.6ZM595.6 1172.1 606.2 1180.6 606.2 1197.5 595.6 1206.0 585.0 1197.5 585.0 1180.6ZM754.6 1197.5 765.2 1206.0 765.2 1222.9 754.6 1231.4 744.0 1222.9 744.0 1206.0ZM691.0 1248.3 701.6 1256.7 701.6 1273.7 691.0 1282.1 680.4 1273.7 680.4 1256.7ZM553.2 1273.7 563.8 1282.1 563.8 1299.0 553.2 1307.5 542.6 1299.0 542.6 1282.1ZM680.4 1273.7 691.0 1282.1 691.0 1299.0 680.4 1307.5 669.8 1299.0 669.8 1282.1ZM828.8 1273.7 839.4 1282.1 839.4 1299.0 828.8 1307.5 818.2 1299.0 818.2 1282.1ZM722.8 1324.4 733.4 1332.9 733.4 1349.8 722.8 1358.3 712.2 1349.8 712.2 1332.9ZM754.6 1349.8 765.2 1358.3 765.2 1375.2 754.6 1383.6 744.0 1375.2 744.0 1358.3ZM1009.0 1146.8 1019.6 1155.2 1019.6 1172.1 1009.0 1180.6 998.4 1172.1 998.4 1155.2ZM1030.2 1146.8 1040.8 1155.2 1040.8 1172.1 1030.2 1180.6 1019.6 1172.1 1019.6 1155.2ZM1051.4 1146.8 1062.0 1155.2 1062.0 1172.1 1051.4 1180.6 1040.8 1172.1 1040.8 1155.2ZM1072.6 1146.8 1083.2 1155.2 1083.2 1172.1 1072.6 1180.6 1062.0 1172.1 1062.0 1155.2ZM1009.0 1248.3 1019.6 1256.7 1019.6 1273.7 1009.0 1282.1 998.4 1273.7 998.4 1256.7ZM1115.0 1248.3 1125.6 1256.7 1125.6 1273.7 1115.0 1282.1 1104.4 1273.7 1104.4 1256.7ZM1136.2 1248.3 1146.8 1256.7 1146.8 1273.7 1136.2 1282.1 1125.6 1273.7 1125.6 1256.7ZM1178.6 1248.3 1189.2 1256.7 1189.2 1273.7 1178.6 1282.1 1168.0 1273.7 1168.0 1256.7ZM1125.6 1273.7 1136.2 1282.1 1136.2 1299.0 1125.6 1307.5 1115.0 1299.0 1115.0 1282.1ZM881.8 1299.0 892.4 1307.5 892.4 1324.4 881.8 1332.9 871.2 1324.4 871.2 1307.5ZM871.2 1324.4 881.8 1332.9 881.8 1349.8 871.2 1358.3 860.6 1349.8 860.6 1332.9ZM945.4 1349.8 956.0 1358.3 956.0 1375.2 945.4 1383.6 934.8 1375.2 934.8 1358.3ZM850.0 1375.2 860.6 1383.6 860.6 1400.6 850.0 1409.0 839.4 1400.6 839.4 1383.6ZM871.2 1375.2 881.8 1383.6 881.8 1400.6 871.2 1409.0 860.6 1400.6 860.6 1383.6ZM998.4 1375.2 1009.0 1383.6 1009.0 1400.6 998.4 1409.0 987.8 1400.6 987.8 1383.6ZM1019.6 1375.2 1030.2 1383.6 1030.2 1400.6 1019.6 1409.0 1009.0 1400.6 1009.0 1383.6ZM1009.0 1400.6 1019.6 1409.0 1019.6 1425.9 1009.0 1434.4 998.4 1425.9 998.4 1409.0ZM1051.4 1400.6 1062.0 1409.0 1062.0 1425.9 1051.4 1434.4 1040.8 1425.9 1040.8 1409.0ZM1072.6 1400.6 1083.2 1409.0 1083.2 1425.9 1072.6 1434.4 1062.0 1425.9 1062.0 1409.0ZM1019.6 1425.9 1030.2 1434.4 1030.2 1451.3 1019.6 1459.8 1009.0 1451.3 1009.0 1434.4ZM1284.6 1146.8 1295.2 1155.2 1295.2 1172.1 1284.6 1180.6 1274.0 1172.1 1274.0 1155.2ZM1305.8 1146.8 1316.4 1155.2 1316.4 1172.1 1305.8 1180.6 1295.2 1172.1 1295.2 1155.2ZM1327.0 1146.8 1337.6 1155.2 1337.6 1172.1 1327.0 1180.6 1316.4 1172.1 1316.4 1155.2ZM1390.6 1146.8 1401.2 1155.2 1401.2 1172.1 1390.6 1180.6 1380.0 1172.1 1380.0 1155.2ZM1496.6 1146.8 1507.2 1155.2 1507.2 1172.1 1496.6 1180.6 1486.0 1172.1 1486.0 1155.2ZM1517.8 1146.8 1528.4 1155.2 1528.4 1172.1 1517.8 1180.6 1507.2 1172.1 1507.2 1155.2ZM1337.6 1172.1 1348.2 1180.6 1348.2 1197.5 1337.6 1206.0 1327.0 1197.5 1327.0 1180.6ZM1507.2 1172.1 1517.8 1180.6 1517.8 1197.5 1507.2 1206.0 1496.6 1197.5 1496.6 1180.6ZM1348.2 1197.5 1358.8 1206.0 1358.8 1222.9 1348.2 1231.4 1337.6 1222.9 1337.6 1206.0ZM1369.4 1197.5 1380.0 1206.0 1380.0 1222.9 1369.4 1231.4 1358.8 1222.9 1358.8 1206.0ZM1390.6 1197.5 1401.2 1206.0 1401.2 1222.9 1390.6 1231.4 1380.0 1222.9 1380.0 1206.0ZM1411.8 1197.5 1422.4 1206.0 1422.4 1222.9 1411.8 1231.4 1401.2 1222.9 1401.2 1206.0ZM1433.0 1197.5 1443.6 1206.0 1443.6 1222.9 1433.0 1231.4 1422.4 1222.9 1422.4 1206.0ZM1305.8 1248.3 1316.4 1256.7 1316.4 1273.7 1305.8 1282.1 1295.2 1273.7 1295.2 1256.7ZM1443.6 1273.7 1454.2 1282.1 1454.2 1299.0 1443.6 1307.5 1433.0 1299.0 1433.0 1282.1ZM1401.2 1324.4 1411.8 1332.9 1411.8 1349.8 1401.2 1358.3 1390.6 1349.8 1390.6 1332.9ZM1210.4 1375.2 1221.0 1383.6 1221.0 1400.6 1210.4 1409.0 1199.8 1400.6 1199.8 1383.6ZM1231.6 1375.2 1242.2 1383.6 1242.2 1400.6 1231.6 1409.0 1221.0 1400.6 1221.0 1383.6ZM1252.8 1375.2 1263.4 1383.6 1263.4 1400.6 1252.8 1409.0 1242.2 1400.6 1242.2 1383.6ZM1274.0 1375.2 1284.6 1383.6 1284.6 1400.6 1274.0 1409.0 1263.4 1400.6 1263.4 1383.6ZM1221.0 1400.6 1231.6 1409.0 1231.6 1425.9 1221.0 1434.4 1210.4 1425.9 1210.4 1409.0ZM1242.2 1400.6 1252.8 1409.0 1252.8 1425.9 1242.2 1434.4 1231.6 1425.9 1231.6 1409.0ZM1263.4 1400.6 1274.0 1409.0 1274.0 1425.9 1263.4 1434.4 1252.8 1425.9 1252.8 1409.0ZM373.0 1451.3 383.6 1459.8 383.6 1476.7 373.0 1485.2 362.4 1476.7 362.4 1459.8ZM394.2 1451.3 404.8 1459.8 404.8 1476.7 394.2 1485.2 383.6 1476.7 383.6 1459.8ZM468.4 1629.0 479.0 1637.4 479.0 1654.4 468.4 1662.8 457.8 1654.4 457.8 1637.4ZM489.6 1629.0 500.2 1637.4 500.2 1654.4 489.6 1662.8 479.0 1654.4 479.0 1637.4ZM510.8 1629.0 521.4 1637.4 521.4 1654.4 510.8 1662.8 500.2 1654.4 500.2 1637.4ZM532.0 1629.0 542.6 1637.4 542.6 1654.4 532.0 1662.8 521.4 1654.4 521.4 1637.4ZM553.2 1629.0 563.8 1637.4 563.8 1654.4 553.2 1662.8 542.6 1654.4 542.6 1637.4Z"/><path fill="#414487" stroke="#414487" stroke-width="0.6" d="M1920.6 486.9 1931.2 495.3 1931.2 512.3 1920.6 520.7 1910.0 512.3 1910.0 495.3ZM1899.4 436.1 1910.0 444.6 1910.0 461.5 1899.4 470.0 1888.8 461.5 1888.8 444.6ZM1655.6 461.5 1666.2 470.0 1666.2 486.9 1655.6 495.3 1645.0 486.9 1645.0 470.0ZM1825.2 461.5 1835.8 470.0 1835.8 486.9 1825.2 495.3 1814.6 486.9 1814.6 470.0ZM1846.4 461.5 1857.0 470.0 1857.0 486.9 1846.4 495.3 1835.8 486.9 1835.8 470.0ZM1910.0 461.5 1920.6 470.0 1920.6 486.9 1910.0 495.3 1899.4 486.9 1899.4 470.0ZM1623.8 486.9 1634.4 495.3 1634.4 512.3 1623.8 520.7 1613.2 512.3 1613.2 495.3ZM1645.0 486.9 1655.6 495.3 1655.6 512.3 1645.0 520.7 1634.4 512.3 1634.4 495.3ZM1772.2 486.9 1782.8 495.3 1782.8 512.3 1772.2 520.7 1761.6 512.3 1761.6 495.3ZM1793.4 486.9 1804.0 495.3 1804.0 512.3 1793.4 520.7 1782.8 512.3 1782.8 495.3ZM1613.2 512.3 1623.8 520.7 1623.8 537.6 1613.2 546.1 1602.6 537.6 1602.6 520.7ZM1825.2 512.3 1835.8 520.7 1835.8 537.6 1825.2 546.1 1814.6 537.6 1814.6 520.7ZM1189.2 512.3 1199.8 520.7 1199.8 537.6 1189.2 546.1 1178.6 537.6 1178.6 520.7ZM1380.0 512.3 1390.6 520.7 1390.6 537.6 1380.0 546.1 1369.4 537.6 1369.4 520.7ZM1422.4 512.3 1433.0 520.7 1433.0 537.6 1422.4 546.1 1411.8 537.6 1411.8 520.7ZM1973.6 613.8 1984.2 622.2 1984.2 639.2 1973.6 647.6 1963.0 639.2 1963.0 622.2ZM2164.4 613.8 2175.0 622.2 2175.0 639.2 2164.4 647.6 2153.8 639.2 2153.8 622.2ZM2175.0 639.2 2185.6 647.6 2185.6 664.5 2175.0 673.0 2164.4 664.5 2164.4 647.6ZM2196.2 639.2 2206.8 647.6 2206.8 664.5 2196.2 673.0 2185.6 664.5 2185.6 647.6ZM2016.0 664.5 2026.6 673.0 2026.6 689.9 2016.0 698.4 2005.4 689.9 2005.4 673.0ZM1984.2 689.9 1994.8 698.4 1994.8 715.3 1984.2 723.8 1973.6 715.3 1973.6 698.4ZM2005.4 689.9 2016.0 698.4 2016.0 715.3 2005.4 723.8 1994.8 715.3 1994.8 698.4ZM2026.6 689.9 2037.2 698.4 2037.2 715.3 2026.6 723.8 2016.0 715.3 2016.0 698.4ZM2047.8 689.9 2058.4 698.4 2058.4 715.3 2047.8 723.8 2037.2 715.3 2037.2 698.4ZM1931.2 715.3 1941.8 723.8 1941.8 740.7 1931.2 749.1 1920.6 740.7 1920.6 723.8ZM1984.2 740.7 1994.8 749.1 1994.8 766.1 1984.2 774.5 1973.6 766.1 1973.6 749.1ZM2047.8 740.7 2058.4 749.1 2058.4 766.1 2047.8 774.5 2037.2 766.1 2037.2 749.1ZM1602.6 537.6 1613.2 546.1 1613.2 563.0 1602.6 571.5 1592.0 563.0 1592.0 546.1ZM1623.8 537.6 1634.4 546.1 1634.4 563.0 1623.8 571.5 1613.2 563.0 1613.2 546.1ZM1645.0 537.6 1655.6 546.1 1655.6 563.0 1645.0 571.5 1634.4 563.0 1634.4 546.1ZM1793.4 689.9 1804.0 698.4 1804.0 715.3 1793.4 723.8 1782.8 715.3 1782.8 698.4ZM1804.0 715.3 1814.6 723.8 1814.6 740.7 1804.0 749.1 1793.4 740.7 1793.4 723.8ZM1867.6 715.3 1878.2 723.8 1878.2 740.7 1867.6 749.1 1857.0 740.7 1857.0 723.8ZM1496.6 537.6 1507.2 546.1 1507.2 563.0 1496.6 571.5 1486.0 563.0 1486.0 546.1ZM1517.8 537.6 1528.4 546.1 1528.4 563.0 1517.8 571.5 1507.2 563.0 1507.2 546.1ZM1464.8 563.0 1475.4 571.5 1475.4 588.4 1464.8 596.9 1454.2 588.4 1454.2 571.5ZM1486.0 563.0 1496.6 571.5 1496.6 588.4 1486.0 596.9 1475.4 588.4 1475.4 571.5ZM1242.2 588.4 1252.8 596.9 1252.8 613.8 1242.2 622.2 1231.6 613.8 1231.6 596.9ZM1369.4 588.4 1380.0 596.9 1380.0 613.8 1369.4 622.2 1358.8 613.8 1358.8 596.9ZM1433.0 588.4 1443.6 596.9 1443.6 613.8 1433.0 622.2 1422.4 613.8 1422.4 596.9ZM1454.2 588.4 1464.8 596.9 1464.8 613.8 1454.2 622.2 1443.6 613.8 1443.6 596.9ZM1380.0 613.8 1390.6 622.2 1390.6 639.2 1380.0 647.6 1369.4 639.2 1369.4 622.2ZM1422.4 613.8 1433.0 622.2 1433.0 639.2 1422.4 647.6 1411.8 639.2 1411.8 622.2ZM1443.6 613.8 1454.2 622.2 1454.2 639.2 1443.6 647.6 1433.0 639.2 1433.0 622.2ZM1242.2 639.2 1252.8 647.6 1252.8 664.5 1242.2 673.0 1231.6 664.5 1231.6 647.6ZM1411.8 639.2 1422.4 647.6 1422.4 664.5 1411.8 673.0 1401.2 664.5 1401.2 647.6ZM1433.0 639.2 1443.6 647.6 1443.6 664.5 1433.0 673.0 1422.4 664.5 1422.4 647.6ZM1189.2 664.5 1199.8 673.0 1199.8 689.9 1189.2 698.4 1178.6 689.9 1178.6 673.0ZM1411.8 791.4 1422.4 799.9 1422.4 816.8 1411.8 825.3 1401.2 816.8 1401.2 799.9ZM1380.0 816.8 1390.6 825.3 1390.6 842.2 1380.0 850.7 1369.4 842.2 1369.4 825.3ZM1401.2 816.8 1411.8 825.3 1411.8 842.2 1401.2 850.7 1390.6 842.2 1390.6 825.3ZM1422.4 816.8 1433.0 825.3 1433.0 842.2 1422.4 850.7 1411.8 842.2 1411.8 825.3ZM1178.6 537.6 1189.2 546.1 1189.2 563.0 1178.6 571.5 1168.0 563.0 1168.0 546.1ZM924.2 588.4 934.8 596.9 934.8 613.8 924.2 622.2 913.6 613.8 913.6 596.9ZM1009.0 588.4 1019.6 596.9 1019.6 613.8 1009.0 622.2 998.4 613.8 998.4 596.9ZM1072.6 588.4 1083.2 596.9 1083.2 613.8 1072.6 622.2 1062.0 613.8 1062.0 596.9ZM1093.8 588.4 1104.4 596.9 1104.4 613.8 1093.8 622.2 1083.2 613.8 1083.2 596.9ZM892.4 613.8 903.0 622.2 903.0 639.2 892.4 647.6 881.8 639.2 881.8 622.2ZM913.6 613.8 924.2 622.2 924.2 639.2 913.6 647.6 903.0 639.2 903.0 622.2ZM998.4 613.8 1009.0 622.2 1009.0 639.2 998.4 647.6 987.8 639.2 987.8 622.2ZM924.2 639.2 934.8 647.6 934.8 664.5 924.2 673.0 913.6 664.5 913.6 647.6ZM945.4 639.2 956.0 647.6 956.0 664.5 945.4 673.0 934.8 664.5 934.8 647.6ZM1178.6 639.2 1189.2 647.6 1189.2 664.5 1178.6 673.0 1168.0 664.5 1168.0 647.6ZM1146.8 664.5 1157.4 673.0 1157.4 689.9 1146.8 698.4 1136.2 689.9 1136.2 673.0ZM1168.0 664.5 1178.6 673.0 1178.6 689.9 1168.0 698.4 1157.4 689.9 1157.4 673.0ZM1136.2 689.9 1146.8 698.4 1146.8 715.3 1136.2 723.8 1125.6 715.3 1125.6 698.4ZM1157.4 689.9 1168.0 698.4 1168.0 715.3 1157.4 723.8 1146.8 715.3 1146.8 698.4ZM1178.6 689.9 1189.2 698.4 1189.2 715.3 1178.6 723.8 1168.0 715.3 1168.0 698.4ZM648.6 740.7 659.2 749.1 659.2 766.1 648.6 774.5 638.0 766.1 638.0 749.1ZM659.2 766.1 669.8 774.5 669.8 791.4 659.2 799.9 648.6 791.4 648.6 774.5ZM744.0 766.1 754.6 774.5 754.6 791.4 744.0 799.9 733.4 791.4 733.4 774.5ZM712.2 791.4 722.8 799.9 722.8 816.8 712.2 825.3 701.6 816.8 701.6 799.9ZM722.8 816.8 733.4 825.3 733.4 842.2 722.8 850.7 712.2 842.2 712.2 825.3ZM341.2 766.1 351.8 774.5 351.8 791.4 341.2 799.9 330.6 791.4 330.6 774.5ZM362.4 766.1 373.0 774.5 373.0 791.4 362.4 799.9 351.8 791.4 351.8 774.5ZM373.0 791.4 383.6 799.9 383.6 816.8 373.0 825.3 362.4 816.8 362.4 799.9ZM394.2 791.4 404.8 799.9 404.8 816.8 394.2 825.3 383.6 816.8 383.6 799.9ZM404.8 816.8 415.4 825.3 415.4 842.2 404.8 850.7 394.2 842.2 394.2 825.3ZM754.6 842.2 765.2 850.7 765.2 867.6 754.6 876.0 744.0 867.6 744.0 850.7ZM775.8 842.2 786.4 850.7 786.4 867.6 775.8 876.0 765.2 867.6 765.2 850.7ZM659.2 867.6 669.8 876.0 669.8 893.0 659.2 901.4 648.6 893.0 648.6 876.0ZM744.0 867.6 754.6 876.0 754.6 893.0 744.0 901.4 733.4 893.0 733.4 876.0ZM765.2 867.6 775.8 876.0 775.8 893.0 765.2 901.4 754.6 893.0 754.6 876.0ZM786.4 867.6 797.0 876.0 797.0 893.0 786.4 901.4 775.8 893.0 775.8 876.0ZM659.2 918.3 669.8 926.8 669.8 943.7 659.2 952.2 648.6 943.7 648.6 926.8ZM680.4 918.3 691.0 926.8 691.0 943.7 680.4 952.2 669.8 943.7 669.8 926.8ZM701.6 918.3 712.2 926.8 712.2 943.7 701.6 952.2 691.0 943.7 691.0 926.8ZM722.8 918.3 733.4 926.8 733.4 943.7 722.8 952.2 712.2 943.7 712.2 926.8ZM669.8 943.7 680.4 952.2 680.4 969.1 669.8 977.6 659.2 969.1 659.2 952.2ZM669.8 1045.2 680.4 1053.7 680.4 1070.6 669.8 1079.1 659.2 1070.6 659.2 1053.7ZM722.8 1070.6 733.4 1079.1 733.4 1096.0 722.8 1104.5 712.2 1096.0 712.2 1079.1ZM712.2 1096.0 722.8 1104.5 722.8 1121.4 712.2 1129.8 701.6 1121.4 701.6 1104.5ZM733.4 1096.0 744.0 1104.5 744.0 1121.4 733.4 1129.8 722.8 1121.4 722.8 1104.5ZM510.8 1121.4 521.4 1129.8 521.4 1146.8 510.8 1155.2 500.2 1146.8 500.2 1129.8ZM701.6 1121.4 712.2 1129.8 712.2 1146.8 701.6 1155.2 691.0 1146.8 691.0 1129.8ZM1030.2 893.0 1040.8 901.4 1040.8 918.3 1030.2 926.8 1019.6 918.3 1019.6 901.4ZM1051.4 893.0 1062.0 901.4 1062.0 918.3 1051.4 926.8 1040.8 918.3 1040.8 901.4ZM1083.2 918.3 1093.8 926.8 1093.8 943.7 1083.2 952.2 1072.6 943.7 1072.6 926.8ZM1104.4 918.3 1115.0 926.8 1115.0 943.7 1104.4 952.2 1093.8 943.7 1093.8 926.8ZM945.4 943.7 956.0 952.2 956.0 969.1 945.4 977.6 934.8 969.1 934.8 952.2ZM1051.4 943.7 1062.0 952.2 1062.0 969.1 1051.4 977.6 1040.8 969.1 1040.8 952.2ZM1125.6 969.1 1136.2 977.6 1136.2 994.5 1125.6 1002.9 1115.0 994.5 1115.0 977.6ZM945.4 994.5 956.0 1002.9 956.0 1019.9 945.4 1028.3 934.8 1019.9 934.8 1002.9ZM966.6 994.5 977.2 1002.9 977.2 1019.9 966.6 1028.3 956.0 1019.9 956.0 1002.9ZM1136.2 994.5 1146.8 1002.9 1146.8 1019.9 1136.2 1028.3 1125.6 1019.9 1125.6 1002.9ZM1157.4 994.5 1168.0 1002.9 1168.0 1019.9 1157.4 1028.3 1146.8 1019.9 1146.8 1002.9ZM913.6 1019.9 924.2 1028.3 924.2 1045.2 913.6 1053.7 903.0 1045.2 903.0 1028.3ZM1083.2 1019.9 1093.8 1028.3 1093.8 1045.2 1083.2 1053.7 1072.6 1045.2 1072.6 1028.3ZM1104.4 1019.9 1115.0 1028.3 1115.0 1045.2 1104.4 1053.7 1093.8 1045.2 1093.8 1028.3ZM1093.8 1045.2 1104.4 1053.7 1104.4 1070.6 1093.8 1079.1 1083.2 1070.6 1083.2 1053.7ZM956.0 1121.4 966.6 1129.8 966.6 1146.8 956.0 1155.2 945.4 1146.8 945.4 1129.8ZM977.2 1121.4 987.8 1129.8 987.8 1146.8 977.2 1155.2 966.6 1146.8 966.6 1129.8ZM1019.6 1121.4 1030.2 1129.8 1030.2 1146.8 1019.6 1155.2 1009.0 1146.8 1009.0 1129.8ZM1422.4 1121.4 1433.0 1129.8 1433.0 1146.8 1422.4 1155.2 1411.8 1146.8 1411.8 1129.8ZM1528.4 1121.4 1539.0 1129.8 1539.0 1146.8 1528.4 1155.2 1517.8 1146.8 1517.8 1129.8ZM1708.6 842.2 1719.2 850.7 1719.2 867.6 1708.6 876.0 1698.0 867.6 1698.0 850.7ZM1698.0 867.6 1708.6 876.0 1708.6 893.0 1698.0 901.4 1687.4 893.0 1687.4 876.0ZM1740.4 867.6 1751.0 876.0 1751.0 893.0 1740.4 901.4 1729.8 893.0 1729.8 876.0ZM1804.0 867.6 1814.6 876.0 1814.6 893.0 1804.0 901.4 1793.4 893.0 1793.4 876.0ZM1825.2 867.6 1835.8 876.0 1835.8 893.0 1825.2 901.4 1814.6 893.0 1814.6 876.0ZM1698.0 918.3 1708.6 926.8 1708.6 943.7 1698.0 952.2 1687.4 943.7 1687.4 926.8ZM1687.4 943.7 1698.0 952.2 1698.0 969.1 1687.4 977.6 1676.8 969.1 1676.8 952.2ZM1708.6 943.7 1719.2 952.2 1719.2 969.1 1708.6 977.6 1698.0 969.1 1698.0 952.2ZM1941.8 842.2 1952.4 850.7 1952.4 867.6 1941.8 876.0 1931.2 867.6 1931.2 850.7ZM447.2 1172.1 457.8 1180.6 457.8 1197.5 447.2 1206.0 436.6 1197.5 436.6 1180.6ZM457.8 1197.5 468.4 1206.0 468.4 1222.9 457.8 1231.4 447.2 1222.9 447.2 1206.0ZM362.4 1375.2 373.0 1383.6 373.0 1400.6 362.4 1409.0 351.8 1400.6 351.8 1383.6ZM373.0 1400.6 383.6 1409.0 383.6 1425.9 373.0 1434.4 362.4 1425.9 362.4 1409.0ZM415.4 1400.6 426.0 1409.0 426.0 1425.9 415.4 1434.4 404.8 1425.9 404.8 1409.0ZM436.6 1400.6 447.2 1409.0 447.2 1425.9 436.6 1434.4 426.0 1425.9 426.0 1409.0ZM383.6 1425.9 394.2 1434.4 394.2 1451.3 383.6 1459.8 373.0 1451.3 373.0 1434.4ZM404.8 1425.9 415.4 1434.4 415.4 1451.3 404.8 1459.8 394.2 1451.3 394.2 1434.4ZM426.0 1425.9 436.6 1434.4 436.6 1451.3 426.0 1459.8 415.4 1451.3 415.4 1434.4ZM521.4 1146.8 532.0 1155.2 532.0 1172.1 521.4 1180.6 510.8 1172.1 510.8 1155.2ZM585.0 1146.8 595.6 1155.2 595.6 1172.1 585.0 1180.6 574.4 1172.1 574.4 1155.2ZM733.4 1146.8 744.0 1155.2 744.0 1172.1 733.4 1180.6 722.8 1172.1 722.8 1155.2ZM722.8 1172.1 733.4 1180.6 733.4 1197.5 722.8 1206.0 712.2 1197.5 712.2 1180.6ZM744.0 1172.1 754.6 1180.6 754.6 1197.5 744.0 1206.0 733.4 1197.5 733.4 1180.6ZM712.2 1197.5 722.8 1206.0 722.8 1222.9 712.2 1231.4 701.6 1222.9 701.6 1206.0ZM744.0 1222.9 754.6 1231.4 754.6 1248.3 744.0 1256.7 733.4 1248.3 733.4 1231.4ZM818.2 1248.3 828.8 1256.7 828.8 1273.7 818.2 1282.1 807.6 1273.7 807.6 1256.7ZM775.8 1299.0 786.4 1307.5 786.4 1324.4 775.8 1332.9 765.2 1324.4 765.2 1307.5ZM818.2 1299.0 828.8 1307.5 828.8 1324.4 818.2 1332.9 807.6 1324.4 807.6 1307.5ZM828.8 1324.4 839.4 1332.9 839.4 1349.8 828.8 1358.3 818.2 1349.8 818.2 1332.9ZM903.0 1146.8 913.6 1155.2 913.6 1172.1 903.0 1180.6 892.4 1172.1 892.4 1155.2ZM892.4 1172.1 903.0 1180.6 903.0 1197.5 892.4 1206.0 881.8 1197.5 881.8 1180.6ZM913.6 1172.1 924.2 1180.6 924.2 1197.5 913.6 1206.0 903.0 1197.5 903.0 1180.6ZM1062.0 1172.1 1072.6 1180.6 1072.6 1197.5 1062.0 1206.0 1051.4 1197.5 1051.4 1180.6ZM903.0 1197.5 913.6 1206.0 913.6 1222.9 903.0 1231.4 892.4 1222.9 892.4 1206.0ZM924.2 1197.5 934.8 1206.0 934.8 1222.9 924.2 1231.4 913.6 1222.9 913.6 1206.0ZM1009.0 1197.5 1019.6 1206.0 1019.6 1222.9 1009.0 1231.4 998.4 1222.9 998.4 1206.0ZM1030.2 1197.5 1040.8 1206.0 1040.8 1222.9 1030.2 1231.4 1019.6 1222.9 1019.6 1206.0ZM903.0 1248.3 913.6 1256.7 913.6 1273.7 903.0 1282.1 892.4 1273.7 892.4 1256.7ZM945.4 1248.3 956.0 1256.7 956.0 1273.7 945.4 1282.1 934.8 1273.7 934.8 1256.7ZM1030.2 1248.3 1040.8 1256.7 1040.8 1273.7 1030.2 1282.1 1019.6 1273.7 1019.6 1256.7ZM1072.6 1248.3 1083.2 1256.7 1083.2 1273.7 1072.6 1282.1 1062.0 1273.7 1062.0 1256.7ZM850.0 1273.7 860.6 1282.1 860.6 1299.0 850.0 1307.5 839.4 1299.0 839.4 1282.1ZM934.8 1273.7 945.4 1282.1 945.4 1299.0 934.8 1307.5 924.2 1299.0 924.2 1282.1ZM998.4 1273.7 1009.0 1282.1 1009.0 1299.0 998.4 1307.5 987.8 1299.0 987.8 1282.1ZM1104.4 1273.7 1115.0 1282.1 1115.0 1299.0 1104.4 1307.5 1093.8 1299.0 1093.8 1282.1ZM839.4 1299.0 850.0 1307.5 850.0 1324.4 839.4 1332.9 828.8 1324.4 828.8 1307.5ZM860.6 1299.0 871.2 1307.5 871.2 1324.4 860.6 1332.9 850.0 1324.4 850.0 1307.5ZM924.2 1299.0 934.8 1307.5 934.8 1324.4 924.2 1332.9 913.6 1324.4 913.6 1307.5ZM966.6 1299.0 977.2 1307.5 977.2 1324.4 966.6 1332.9 956.0 1324.4 956.0 1307.5ZM987.8 1299.0 998.4 1307.5 998.4 1324.4 987.8 1332.9 977.2 1324.4 977.2 1307.5ZM1136.2 1299.0 1146.8 1307.5 1146.8 1324.4 1136.2 1332.9 1125.6 1324.4 1125.6 1307.5ZM850.0 1324.4 860.6 1332.9 860.6 1349.8 850.0 1358.3 839.4 1349.8 839.4 1332.9ZM934.8 1324.4 945.4 1332.9 945.4 1349.8 934.8 1358.3 924.2 1349.8 924.2 1332.9ZM956.0 1324.4 966.6 1332.9 966.6 1349.8 956.0 1358.3 945.4 1349.8 945.4 1332.9ZM1019.6 1324.4 1030.2 1332.9 1030.2 1349.8 1019.6 1358.3 1009.0 1349.8 1009.0 1332.9ZM881.8 1349.8 892.4 1358.3 892.4 1375.2 881.8 1383.6 871.2 1375.2 871.2 1358.3ZM966.6 1349.8 977.2 1358.3 977.2 1375.2 966.6 1383.6 956.0 1375.2 956.0 1358.3ZM987.8 1349.8 998.4 1358.3 998.4 1375.2 987.8 1383.6 977.2 1375.2 977.2 1358.3ZM1136.2 1349.8 1146.8 1358.3 1146.8 1375.2 1136.2 1383.6 1125.6 1375.2 1125.6 1358.3ZM892.4 1375.2 903.0 1383.6 903.0 1400.6 892.4 1409.0 881.8 1400.6 881.8 1383.6ZM913.6 1375.2 924.2 1383.6 924.2 1400.6 913.6 1409.0 903.0 1400.6 903.0 1383.6ZM934.8 1375.2 945.4 1383.6 945.4 1400.6 934.8 1409.0 924.2 1400.6 924.2 1383.6ZM1040.8 1375.2 1051.4 1383.6 1051.4 1400.6 1040.8 1409.0 1030.2 1400.6 1030.2 1383.6ZM1125.6 1375.2 1136.2 1383.6 1136.2 1400.6 1125.6 1409.0 1115.0 1400.6 1115.0 1383.6ZM881.8 1400.6 892.4 1409.0 892.4 1425.9 881.8 1434.4 871.2 1425.9 871.2 1409.0ZM903.0 1400.6 913.6 1409.0 913.6 1425.9 903.0 1434.4 892.4 1425.9 892.4 1409.0ZM1030.2 1400.6 1040.8 1409.0 1040.8 1425.9 1030.2 1434.4 1019.6 1425.9 1019.6 1409.0ZM1475.4 1146.8 1486.0 1155.2 1486.0 1172.1 1475.4 1180.6 1464.8 1172.1 1464.8 1155.2ZM1295.2 1172.1 1305.8 1180.6 1305.8 1197.5 1295.2 1206.0 1284.6 1197.5 1284.6 1180.6ZM1316.4 1172.1 1327.0 1180.6 1327.0 1197.5 1316.4 1206.0 1305.8 1197.5 1305.8 1180.6ZM1380.0 1172.1 1390.6 1180.6 1390.6 1197.5 1380.0 1206.0 1369.4 1197.5 1369.4 1180.6ZM1401.2 1172.1 1411.8 1180.6 1411.8 1197.5 1401.2 1206.0 1390.6 1197.5 1390.6 1180.6ZM1443.6 1172.1 1454.2 1180.6 1454.2 1197.5 1443.6 1206.0 1433.0 1197.5 1433.0 1180.6ZM1464.8 1172.1 1475.4 1180.6 1475.4 1197.5 1464.8 1206.0 1454.2 1197.5 1454.2 1180.6ZM1486.0 1172.1 1496.6 1180.6 1496.6 1197.5 1486.0 1206.0 1475.4 1197.5 1475.4 1180.6ZM1316.4 1222.9 1327.0 1231.4 1327.0 1248.3 1316.4 1256.7 1305.8 1248.3 1305.8 1231.4ZM1433.0 1248.3 1443.6 1256.7 1443.6 1273.7 1433.0 1282.1 1422.4 1273.7 1422.4 1256.7ZM1454.2 1248.3 1464.8 1256.7 1464.8 1273.7 1454.2 1282.1 1443.6 1273.7 1443.6 1256.7ZM1327.0 1299.0 1337.6 1307.5 1337.6 1324.4 1327.0 1332.9 1316.4 1324.4 1316.4 1307.5ZM1369.4 1299.0 1380.0 1307.5 1380.0 1324.4 1369.4 1332.9 1358.8 1324.4 1358.8 1307.5ZM1316.4 1324.4 1327.0 1332.9 1327.0 1349.8 1316.4 1358.3 1305.8 1349.8 1305.8 1332.9ZM669.8 1654.4 680.4 1662.8 680.4 1679.7 669.8 1688.2 659.2 1679.7 659.2 1662.8ZM945.4 1451.3 956.0 1459.8 956.0 1476.7 945.4 1485.2 934.8 1476.7 934.8 1459.8ZM987.8 1451.3 998.4 1459.8 998.4 1476.7 987.8 1485.2 977.2 1476.7 977.2 1459.8ZM1009.0 1451.3 1019.6 1459.8 1019.6 1476.7 1009.0 1485.2 998.4 1476.7 998.4 1459.8ZM977.2 1476.7 987.8 1485.2 987.8 1502.1 977.2 1510.5 966.6 1502.1 966.6 1485.2ZM998.4 1476.7 1009.0 1485.2 1009.0 1502.1 998.4 1510.5 987.8 1502.1 987.8 1485.2Z"/><path fill="#3b528b" stroke="#3b528b" stroke-width="0.6" d="M1623.8 436.1 1634.4 444.6 1634.4 461.5 1623.8 470.0 1613.2 461.5 1613.2 444.6ZM1645.0 436.1 1655.6 444.6 1655.6 461.5 1645.0 470.0 1634.4 461.5 1634.4 444.6ZM1592.0 461.5 1602.6 470.0 1602.6 486.9 1592.0 495.3 1581.4 486.9 1581.4 470.0ZM1804.0 461.5 1814.6 470.0 1814.6 486.9 1804.0 495.3 1793.4 486.9 1793.4 470.0ZM1835.8 486.9 1846.4 495.3 1846.4 512.3 1835.8 520.7 1825.2 512.3 1825.2 495.3ZM1634.4 512.3 1645.0 520.7 1645.0 537.6 1634.4 546.1 1623.8 537.6 1623.8 520.7ZM1846.4 512.3 1857.0 520.7 1857.0 537.6 1846.4 546.1 1835.8 537.6 1835.8 520.7ZM1867.6 512.3 1878.2 520.7 1878.2 537.6 1867.6 546.1 1857.0 537.6 1857.0 520.7ZM1401.2 512.3 1411.8 520.7 1411.8 537.6 1401.2 546.1 1390.6 537.6 1390.6 520.7ZM1941.8 740.7 1952.4 749.1 1952.4 766.1 1941.8 774.5 1931.2 766.1 1931.2 749.1ZM1963.0 740.7 1973.6 749.1 1973.6 766.1 1963.0 774.5 1952.4 766.1 1952.4 749.1ZM1931.2 766.1 1941.8 774.5 1941.8 791.4 1931.2 799.9 1920.6 791.4 1920.6 774.5ZM1952.4 766.1 1963.0 774.5 1963.0 791.4 1952.4 799.9 1941.8 791.4 1941.8 774.5ZM1931.2 816.8 1941.8 825.3 1941.8 842.2 1931.2 850.7 1920.6 842.2 1920.6 825.3ZM1952.4 816.8 1963.0 825.3 1963.0 842.2 1952.4 850.7 1941.8 842.2 1941.8 825.3ZM1814.6 537.6 1825.2 546.1 1825.2 563.0 1814.6 571.5 1804.0 563.0 1804.0 546.1ZM1835.8 537.6 1846.4 546.1 1846.4 563.0 1835.8 571.5 1825.2 563.0 1825.2 546.1ZM1857.0 537.6 1867.6 546.1 1867.6 563.0 1857.0 571.5 1846.4 563.0 1846.4 546.1ZM1835.8 639.2 1846.4 647.6 1846.4 664.5 1835.8 673.0 1825.2 664.5 1825.2 647.6ZM1857.0 639.2 1867.6 647.6 1867.6 664.5 1857.0 673.0 1846.4 664.5 1846.4 647.6ZM1825.2 664.5 1835.8 673.0 1835.8 689.9 1825.2 698.4 1814.6 689.9 1814.6 673.0ZM1846.4 664.5 1857.0 673.0 1857.0 689.9 1846.4 698.4 1835.8 689.9 1835.8 673.0ZM1835.8 689.9 1846.4 698.4 1846.4 715.3 1835.8 723.8 1825.2 715.3 1825.2 698.4ZM1857.0 689.9 1867.6 698.4 1867.6 715.3 1857.0 723.8 1846.4 715.3 1846.4 698.4ZM1570.8 715.3 1581.4 723.8 1581.4 740.7 1570.8 749.1 1560.2 740.7 1560.2 723.8ZM1592.0 715.3 1602.6 723.8 1602.6 740.7 1592.0 749.1 1581.4 740.7 1581.4 723.8ZM1613.2 715.3 1623.8 723.8 1623.8 740.7 1613.2 749.1 1602.6 740.7 1602.6 723.8ZM1645.0 740.7 1655.6 749.1 1655.6 766.1 1645.0 774.5 1634.4 766.1 1634.4 749.1ZM1666.2 740.7 1676.8 749.1 1676.8 766.1 1666.2 774.5 1655.6 766.1 1655.6 749.1ZM1687.4 740.7 1698.0 749.1 1698.0 766.1 1687.4 774.5 1676.8 766.1 1676.8 749.1ZM1645.0 791.4 1655.6 799.9 1655.6 816.8 1645.0 825.3 1634.4 816.8 1634.4 799.9ZM1666.2 791.4 1676.8 799.9 1676.8 816.8 1666.2 825.3 1655.6 816.8 1655.6 799.9ZM1687.4 791.4 1698.0 799.9 1698.0 816.8 1687.4 825.3 1676.8 816.8 1676.8 799.9ZM1433.0 537.6 1443.6 546.1 1443.6 563.0 1433.0 571.5 1422.4 563.0 1422.4 546.1ZM1252.8 613.8 1263.4 622.2 1263.4 639.2 1252.8 647.6 1242.2 639.2 1242.2 622.2ZM1337.6 613.8 1348.2 622.2 1348.2 639.2 1337.6 647.6 1327.0 639.2 1327.0 622.2ZM1401.2 613.8 1411.8 622.2 1411.8 639.2 1401.2 647.6 1390.6 639.2 1390.6 622.2ZM1528.4 613.8 1539.0 622.2 1539.0 639.2 1528.4 647.6 1517.8 639.2 1517.8 622.2ZM945.4 588.4 956.0 596.9 956.0 613.8 945.4 622.2 934.8 613.8 934.8 596.9ZM966.6 588.4 977.2 596.9 977.2 613.8 966.6 622.2 956.0 613.8 956.0 596.9ZM1136.2 588.4 1146.8 596.9 1146.8 613.8 1136.2 622.2 1125.6 613.8 1125.6 596.9ZM956.0 613.8 966.6 622.2 966.6 639.2 956.0 647.6 945.4 639.2 945.4 622.2ZM1104.4 613.8 1115.0 622.2 1115.0 639.2 1104.4 647.6 1093.8 639.2 1093.8 622.2ZM1125.6 613.8 1136.2 622.2 1136.2 639.2 1125.6 647.6 1115.0 639.2 1115.0 622.2ZM1136.2 639.2 1146.8 647.6 1146.8 664.5 1136.2 673.0 1125.6 664.5 1125.6 647.6ZM1157.4 639.2 1168.0 647.6 1168.0 664.5 1157.4 673.0 1146.8 664.5 1146.8 647.6ZM638.0 664.5 648.6 673.0 648.6 689.9 638.0 698.4 627.4 689.9 627.4 673.0ZM659.2 664.5 669.8 673.0 669.8 689.9 659.2 698.4 648.6 689.9 648.6 673.0ZM648.6 689.9 659.2 698.4 659.2 715.3 648.6 723.8 638.0 715.3 638.0 698.4ZM669.8 689.9 680.4 698.4 680.4 715.3 669.8 723.8 659.2 715.3 659.2 698.4ZM659.2 715.3 669.8 723.8 669.8 740.7 659.2 749.1 648.6 740.7 648.6 723.8ZM712.2 740.7 722.8 749.1 722.8 766.1 712.2 774.5 701.6 766.1 701.6 749.1ZM701.6 766.1 712.2 774.5 712.2 791.4 701.6 799.9 691.0 791.4 691.0 774.5ZM722.8 766.1 733.4 774.5 733.4 791.4 722.8 799.9 712.2 791.4 712.2 774.5ZM468.4 816.8 479.0 825.3 479.0 842.2 468.4 850.7 457.8 842.2 457.8 825.3ZM288.2 791.4 298.8 799.9 298.8 816.8 288.2 825.3 277.6 816.8 277.6 799.9ZM309.4 791.4 320.0 799.9 320.0 816.8 309.4 825.3 298.8 816.8 298.8 799.9ZM383.6 816.8 394.2 825.3 394.2 842.2 383.6 850.7 373.0 842.2 373.0 825.3ZM203.4 893.0 214.0 901.4 214.0 918.3 203.4 926.8 192.8 918.3 192.8 901.4ZM224.6 893.0 235.2 901.4 235.2 918.3 224.6 926.8 214.0 918.3 214.0 901.4ZM192.8 918.3 203.4 926.8 203.4 943.7 192.8 952.2 182.2 943.7 182.2 926.8ZM214.0 918.3 224.6 926.8 224.6 943.7 214.0 952.2 203.4 943.7 203.4 926.8ZM235.2 918.3 245.8 926.8 245.8 943.7 235.2 952.2 224.6 943.7 224.6 926.8ZM203.4 943.7 214.0 952.2 214.0 969.1 203.4 977.6 192.8 969.1 192.8 952.2ZM224.6 943.7 235.2 952.2 235.2 969.1 224.6 977.6 214.0 969.1 214.0 952.2ZM245.8 943.7 256.4 952.2 256.4 969.1 245.8 977.6 235.2 969.1 235.2 952.2ZM214.0 969.1 224.6 977.6 224.6 994.5 214.0 1002.9 203.4 994.5 203.4 977.6ZM606.2 842.2 616.8 850.7 616.8 867.6 606.2 876.0 595.6 867.6 595.6 850.7ZM627.4 842.2 638.0 850.7 638.0 867.6 627.4 876.0 616.8 867.6 616.8 850.7ZM659.2 1121.4 669.8 1129.8 669.8 1146.8 659.2 1155.2 648.6 1146.8 648.6 1129.8ZM680.4 1121.4 691.0 1129.8 691.0 1146.8 680.4 1155.2 669.8 1146.8 669.8 1129.8ZM786.4 1121.4 797.0 1129.8 797.0 1146.8 786.4 1155.2 775.8 1146.8 775.8 1129.8ZM1072.6 943.7 1083.2 952.2 1083.2 969.1 1072.6 977.6 1062.0 969.1 1062.0 952.2ZM1083.2 969.1 1093.8 977.6 1093.8 994.5 1083.2 1002.9 1072.6 994.5 1072.6 977.6ZM1115.0 994.5 1125.6 1002.9 1125.6 1019.9 1115.0 1028.3 1104.4 1019.9 1104.4 1002.9ZM945.4 1096.0 956.0 1104.5 956.0 1121.4 945.4 1129.8 934.8 1121.4 934.8 1104.5ZM1009.0 1096.0 1019.6 1104.5 1019.6 1121.4 1009.0 1129.8 998.4 1121.4 998.4 1104.5ZM934.8 1121.4 945.4 1129.8 945.4 1146.8 934.8 1155.2 924.2 1146.8 924.2 1129.8ZM998.4 1121.4 1009.0 1129.8 1009.0 1146.8 998.4 1155.2 987.8 1146.8 987.8 1129.8ZM1411.8 842.2 1422.4 850.7 1422.4 867.6 1411.8 876.0 1401.2 867.6 1401.2 850.7ZM1517.8 842.2 1528.4 850.7 1528.4 867.6 1517.8 876.0 1507.2 867.6 1507.2 850.7ZM1549.6 1121.4 1560.2 1129.8 1560.2 1146.8 1549.6 1155.2 1539.0 1146.8 1539.0 1129.8ZM1687.4 893.0 1698.0 901.4 1698.0 918.3 1687.4 926.8 1676.8 918.3 1676.8 901.4ZM1560.2 1096.0 1570.8 1104.5 1570.8 1121.4 1560.2 1129.8 1549.6 1121.4 1549.6 1104.5ZM1602.6 1096.0 1613.2 1104.5 1613.2 1121.4 1602.6 1129.8 1592.0 1121.4 1592.0 1104.5ZM1592.0 1121.4 1602.6 1129.8 1602.6 1146.8 1592.0 1155.2 1581.4 1146.8 1581.4 1129.8ZM468.4 1172.1 479.0 1180.6 479.0 1197.5 468.4 1206.0 457.8 1197.5 457.8 1180.6ZM669.8 1146.8 680.4 1155.2 680.4 1172.1 669.8 1180.6 659.2 1172.1 659.2 1155.2ZM691.0 1146.8 701.6 1155.2 701.6 1172.1 691.0 1180.6 680.4 1172.1 680.4 1155.2ZM775.8 1146.8 786.4 1155.2 786.4 1172.1 775.8 1180.6 765.2 1172.1 765.2 1155.2ZM765.2 1324.4 775.8 1332.9 775.8 1349.8 765.2 1358.3 754.6 1349.8 754.6 1332.9ZM860.6 1146.8 871.2 1155.2 871.2 1172.1 860.6 1180.6 850.0 1172.1 850.0 1155.2ZM881.8 1146.8 892.4 1155.2 892.4 1172.1 881.8 1180.6 871.2 1172.1 871.2 1155.2ZM924.2 1146.8 934.8 1155.2 934.8 1172.1 924.2 1180.6 913.6 1172.1 913.6 1155.2ZM987.8 1146.8 998.4 1155.2 998.4 1172.1 987.8 1180.6 977.2 1172.1 977.2 1155.2ZM871.2 1172.1 881.8 1180.6 881.8 1197.5 871.2 1206.0 860.6 1197.5 860.6 1180.6ZM934.8 1172.1 945.4 1180.6 945.4 1197.5 934.8 1206.0 924.2 1197.5 924.2 1180.6ZM956.0 1172.1 966.6 1180.6 966.6 1197.5 956.0 1206.0 945.4 1197.5 945.4 1180.6ZM860.6 1197.5 871.2 1206.0 871.2 1222.9 860.6 1231.4 850.0 1222.9 850.0 1206.0ZM881.8 1197.5 892.4 1206.0 892.4 1222.9 881.8 1231.4 871.2 1222.9 871.2 1206.0ZM945.4 1197.5 956.0 1206.0 956.0 1222.9 945.4 1231.4 934.8 1222.9 934.8 1206.0ZM966.6 1197.5 977.2 1206.0 977.2 1222.9 966.6 1231.4 956.0 1222.9 956.0 1206.0ZM850.0 1222.9 860.6 1231.4 860.6 1248.3 850.0 1256.7 839.4 1248.3 839.4 1231.4ZM977.2 1222.9 987.8 1231.4 987.8 1248.3 977.2 1256.7 966.6 1248.3 966.6 1231.4ZM966.6 1248.3 977.2 1256.7 977.2 1273.7 966.6 1282.1 956.0 1273.7 956.0 1256.7ZM871.2 1273.7 881.8 1282.1 881.8 1299.0 871.2 1307.5 860.6 1299.0 860.6 1282.1ZM903.0 1299.0 913.6 1307.5 913.6 1324.4 903.0 1332.9 892.4 1324.4 892.4 1307.5ZM945.4 1299.0 956.0 1307.5 956.0 1324.4 945.4 1332.9 934.8 1324.4 934.8 1307.5ZM1009.0 1299.0 1019.6 1307.5 1019.6 1324.4 1009.0 1332.9 998.4 1324.4 998.4 1307.5ZM987.8 1400.6 998.4 1409.0 998.4 1425.9 987.8 1434.4 977.2 1425.9 977.2 1409.0ZM1348.2 1146.8 1358.8 1155.2 1358.8 1172.1 1348.2 1180.6 1337.6 1172.1 1337.6 1155.2ZM1454.2 1146.8 1464.8 1155.2 1464.8 1172.1 1454.2 1180.6 1443.6 1172.1 1443.6 1155.2ZM1327.0 1197.5 1337.6 1206.0 1337.6 1222.9 1327.0 1231.4 1316.4 1222.9 1316.4 1206.0ZM1380.0 1222.9 1390.6 1231.4 1390.6 1248.3 1380.0 1256.7 1369.4 1248.3 1369.4 1231.4ZM1390.6 1248.3 1401.2 1256.7 1401.2 1273.7 1390.6 1282.1 1380.0 1273.7 1380.0 1256.7ZM1411.8 1248.3 1422.4 1256.7 1422.4 1273.7 1411.8 1282.1 1401.2 1273.7 1401.2 1256.7ZM1274.0 1273.7 1284.6 1282.1 1284.6 1299.0 1274.0 1307.5 1263.4 1299.0 1263.4 1282.1ZM1422.4 1273.7 1433.0 1282.1 1433.0 1299.0 1422.4 1307.5 1411.8 1299.0 1411.8 1282.1ZM1411.8 1299.0 1422.4 1307.5 1422.4 1324.4 1411.8 1332.9 1401.2 1324.4 1401.2 1307.5ZM1337.6 1324.4 1348.2 1332.9 1348.2 1349.8 1337.6 1358.3 1327.0 1349.8 1327.0 1332.9ZM1560.2 1146.8 1570.8 1155.2 1570.8 1172.1 1560.2 1180.6 1549.6 1172.1 1549.6 1155.2ZM415.4 1451.3 426.0 1459.8 426.0 1476.7 415.4 1485.2 404.8 1476.7 404.8 1459.8ZM436.6 1451.3 447.2 1459.8 447.2 1476.7 436.6 1485.2 426.0 1476.7 426.0 1459.8ZM426.0 1476.7 436.6 1485.2 436.6 1502.1 426.0 1510.5 415.4 1502.1 415.4 1485.2ZM701.6 1578.2 712.2 1586.7 712.2 1603.6 701.6 1612.1 691.0 1603.6 691.0 1586.7ZM691.0 1603.6 701.6 1612.1 701.6 1629.0 691.0 1637.4 680.4 1629.0 680.4 1612.1ZM712.2 1603.6 722.8 1612.1 722.8 1629.0 712.2 1637.4 701.6 1629.0 701.6 1612.1ZM733.4 1603.6 744.0 1612.1 744.0 1629.0 733.4 1637.4 722.8 1629.0 722.8 1612.1ZM722.8 1629.0 733.4 1637.4 733.4 1654.4 722.8 1662.8 712.2 1654.4 712.2 1637.4ZM585.0 1654.4 595.6 1662.8 595.6 1679.7 585.0 1688.2 574.4 1679.7 574.4 1662.8ZM606.2 1654.4 616.8 1662.8 616.8 1679.7 606.2 1688.2 595.6 1679.7 595.6 1662.8ZM574.4 1679.7 585.0 1688.2 585.0 1705.1 574.4 1713.6 563.8 1705.1 563.8 1688.2ZM595.6 1679.7 606.2 1688.2 606.2 1705.1 595.6 1713.6 585.0 1705.1 585.0 1688.2ZM616.8 1679.7 627.4 1688.2 627.4 1705.1 616.8 1713.6 606.2 1705.1 606.2 1688.2Z"/><path fill="#355f8d" stroke="#355f8d" stroke-width="0.6" d="M1878.2 486.9 1888.8 495.3 1888.8 512.3 1878.2 520.7 1867.6 512.3 1867.6 495.3ZM1899.4 486.9 1910.0 495.3 1910.0 512.3 1899.4 520.7 1888.8 512.3 1888.8 495.3ZM1888.8 512.3 1899.4 520.7 1899.4 537.6 1888.8 546.1 1878.2 537.6 1878.2 520.7ZM1888.8 664.5 1899.4 673.0 1899.4 689.9 1888.8 698.4 1878.2 689.9 1878.2 673.0ZM1878.2 689.9 1888.8 698.4 1888.8 715.3 1878.2 723.8 1867.6 715.3 1867.6 698.4ZM1888.8 715.3 1899.4 723.8 1899.4 740.7 1888.8 749.1 1878.2 740.7 1878.2 723.8ZM1422.4 563.0 1433.0 571.5 1433.0 588.4 1422.4 596.9 1411.8 588.4 1411.8 571.5ZM1284.6 588.4 1295.2 596.9 1295.2 613.8 1284.6 622.2 1274.0 613.8 1274.0 596.9ZM1316.4 613.8 1327.0 622.2 1327.0 639.2 1316.4 647.6 1305.8 639.2 1305.8 622.2ZM1263.4 639.2 1274.0 647.6 1274.0 664.5 1263.4 673.0 1252.8 664.5 1252.8 647.6ZM1369.4 639.2 1380.0 647.6 1380.0 664.5 1369.4 673.0 1358.8 664.5 1358.8 647.6ZM1390.6 639.2 1401.2 647.6 1401.2 664.5 1390.6 673.0 1380.0 664.5 1380.0 647.6ZM1496.6 639.2 1507.2 647.6 1507.2 664.5 1496.6 673.0 1486.0 664.5 1486.0 647.6ZM1517.8 639.2 1528.4 647.6 1528.4 664.5 1517.8 673.0 1507.2 664.5 1507.2 647.6ZM1316.4 664.5 1327.0 673.0 1327.0 689.9 1316.4 698.4 1305.8 689.9 1305.8 673.0ZM1104.4 563.0 1115.0 571.5 1115.0 588.4 1104.4 596.9 1093.8 588.4 1093.8 571.5ZM934.8 613.8 945.4 622.2 945.4 639.2 934.8 647.6 924.2 639.2 924.2 622.2ZM606.2 689.9 616.8 698.4 616.8 715.3 606.2 723.8 595.6 715.3 595.6 698.4ZM627.4 689.9 638.0 698.4 638.0 715.3 627.4 723.8 616.8 715.3 616.8 698.4ZM595.6 715.3 606.2 723.8 606.2 740.7 595.6 749.1 585.0 740.7 585.0 723.8ZM765.2 816.8 775.8 825.3 775.8 842.2 765.2 850.7 754.6 842.2 754.6 825.3ZM394.2 893.0 404.8 901.4 404.8 918.3 394.2 926.8 383.6 918.3 383.6 901.4ZM298.8 918.3 309.4 926.8 309.4 943.7 298.8 952.2 288.2 943.7 288.2 926.8ZM362.4 918.3 373.0 926.8 373.0 943.7 362.4 952.2 351.8 943.7 351.8 926.8ZM468.4 1121.4 479.0 1129.8 479.0 1146.8 468.4 1155.2 457.8 1146.8 457.8 1129.8ZM712.2 842.2 722.8 850.7 722.8 867.6 712.2 876.0 701.6 867.6 701.6 850.7ZM733.4 842.2 744.0 850.7 744.0 867.6 733.4 876.0 722.8 867.6 722.8 850.7ZM479.0 994.5 489.6 1002.9 489.6 1019.9 479.0 1028.3 468.4 1019.9 468.4 1002.9ZM500.2 994.5 510.8 1002.9 510.8 1019.9 500.2 1028.3 489.6 1019.9 489.6 1002.9ZM701.6 1019.9 712.2 1028.3 712.2 1045.2 701.6 1053.7 691.0 1045.2 691.0 1028.3ZM722.8 1019.9 733.4 1028.3 733.4 1045.2 722.8 1053.7 712.2 1045.2 712.2 1028.3ZM744.0 1019.9 754.6 1028.3 754.6 1045.2 744.0 1053.7 733.4 1045.2 733.4 1028.3ZM765.2 1019.9 775.8 1028.3 775.8 1045.2 765.2 1053.7 754.6 1045.2 754.6 1028.3ZM691.0 1045.2 701.6 1053.7 701.6 1070.6 691.0 1079.1 680.4 1070.6 680.4 1053.7ZM712.2 1045.2 722.8 1053.7 722.8 1070.6 712.2 1079.1 701.6 1070.6 701.6 1053.7ZM754.6 1045.2 765.2 1053.7 765.2 1070.6 754.6 1079.1 744.0 1070.6 744.0 1053.7ZM924.2 943.7 934.8 952.2 934.8 969.1 924.2 977.6 913.6 969.1 913.6 952.2ZM892.4 969.1 903.0 977.6 903.0 994.5 892.4 1002.9 881.8 994.5 881.8 977.6ZM913.6 969.1 924.2 977.6 924.2 994.5 913.6 1002.9 903.0 994.5 903.0 977.6ZM934.8 969.1 945.4 977.6 945.4 994.5 934.8 1002.9 924.2 994.5 924.2 977.6ZM903.0 994.5 913.6 1002.9 913.6 1019.9 903.0 1028.3 892.4 1019.9 892.4 1002.9ZM924.2 994.5 934.8 1002.9 934.8 1019.9 924.2 1028.3 913.6 1019.9 913.6 1002.9ZM850.0 1121.4 860.6 1129.8 860.6 1146.8 850.0 1155.2 839.4 1146.8 839.4 1129.8ZM913.6 1121.4 924.2 1129.8 924.2 1146.8 913.6 1155.2 903.0 1146.8 903.0 1129.8ZM1316.4 1019.9 1327.0 1028.3 1327.0 1045.2 1316.4 1053.7 1305.8 1045.2 1305.8 1028.3ZM1305.8 1045.2 1316.4 1053.7 1316.4 1070.6 1305.8 1079.1 1295.2 1070.6 1295.2 1053.7ZM1295.2 1070.6 1305.8 1079.1 1305.8 1096.0 1295.2 1104.5 1284.6 1096.0 1284.6 1079.1ZM1316.4 1070.6 1327.0 1079.1 1327.0 1096.0 1316.4 1104.5 1305.8 1096.0 1305.8 1079.1ZM1337.6 1070.6 1348.2 1079.1 1348.2 1096.0 1337.6 1104.5 1327.0 1096.0 1327.0 1079.1ZM1793.4 893.0 1804.0 901.4 1804.0 918.3 1793.4 926.8 1782.8 918.3 1782.8 901.4ZM1814.6 893.0 1825.2 901.4 1825.2 918.3 1814.6 926.8 1804.0 918.3 1804.0 901.4ZM1835.8 893.0 1846.4 901.4 1846.4 918.3 1835.8 926.8 1825.2 918.3 1825.2 901.4ZM500.2 1146.8 510.8 1155.2 510.8 1172.1 500.2 1180.6 489.6 1172.1 489.6 1155.2ZM733.4 1197.5 744.0 1206.0 744.0 1222.9 733.4 1231.4 722.8 1222.9 722.8 1206.0ZM691.0 1299.0 701.6 1307.5 701.6 1324.4 691.0 1332.9 680.4 1324.4 680.4 1307.5ZM712.2 1299.0 722.8 1307.5 722.8 1324.4 712.2 1332.9 701.6 1324.4 701.6 1307.5ZM754.6 1299.0 765.2 1307.5 765.2 1324.4 754.6 1332.9 744.0 1324.4 744.0 1307.5ZM945.4 1146.8 956.0 1155.2 956.0 1172.1 945.4 1180.6 934.8 1172.1 934.8 1155.2ZM966.6 1146.8 977.2 1155.2 977.2 1172.1 966.6 1180.6 956.0 1172.1 956.0 1155.2ZM1019.6 1222.9 1030.2 1231.4 1030.2 1248.3 1019.6 1256.7 1009.0 1248.3 1009.0 1231.4ZM1051.4 1248.3 1062.0 1256.7 1062.0 1273.7 1051.4 1282.1 1040.8 1273.7 1040.8 1256.7ZM956.0 1273.7 966.6 1282.1 966.6 1299.0 956.0 1307.5 945.4 1299.0 945.4 1282.1ZM977.2 1273.7 987.8 1282.1 987.8 1299.0 977.2 1307.5 966.6 1299.0 966.6 1282.1ZM1019.6 1273.7 1030.2 1282.1 1030.2 1299.0 1019.6 1307.5 1009.0 1299.0 1009.0 1282.1ZM1083.2 1273.7 1093.8 1282.1 1093.8 1299.0 1083.2 1307.5 1072.6 1299.0 1072.6 1282.1ZM892.4 1324.4 903.0 1332.9 903.0 1349.8 892.4 1358.3 881.8 1349.8 881.8 1332.9ZM977.2 1324.4 987.8 1332.9 987.8 1349.8 977.2 1358.3 966.6 1349.8 966.6 1332.9ZM1040.8 1324.4 1051.4 1332.9 1051.4 1349.8 1040.8 1358.3 1030.2 1349.8 1030.2 1332.9ZM1125.6 1324.4 1136.2 1332.9 1136.2 1349.8 1125.6 1358.3 1115.0 1349.8 1115.0 1332.9ZM1030.2 1349.8 1040.8 1358.3 1040.8 1375.2 1030.2 1383.6 1019.6 1375.2 1019.6 1358.3ZM1093.8 1400.6 1104.4 1409.0 1104.4 1425.9 1093.8 1434.4 1083.2 1425.9 1083.2 1409.0ZM1115.0 1400.6 1125.6 1409.0 1125.6 1425.9 1115.0 1434.4 1104.4 1425.9 1104.4 1409.0ZM1348.2 1248.3 1358.8 1256.7 1358.8 1273.7 1348.2 1282.1 1337.6 1273.7 1337.6 1256.7ZM1369.4 1248.3 1380.0 1256.7 1380.0 1273.7 1369.4 1282.1 1358.8 1273.7 1358.8 1256.7ZM1401.2 1273.7 1411.8 1282.1 1411.8 1299.0 1401.2 1307.5 1390.6 1299.0 1390.6 1282.1ZM1284.6 1299.0 1295.2 1307.5 1295.2 1324.4 1284.6 1332.9 1274.0 1324.4 1274.0 1307.5ZM1390.6 1299.0 1401.2 1307.5 1401.2 1324.4 1390.6 1332.9 1380.0 1324.4 1380.0 1307.5Z"/><path fill="#2f6c8e" stroke="#2f6c8e" stroke-width="0.6" d="M1857.0 436.1 1867.6 444.6 1867.6 461.5 1857.0 470.0 1846.4 461.5 1846.4 444.6ZM1878.2 436.1 1888.8 444.6 1888.8 461.5 1878.2 470.0 1867.6 461.5 1867.6 444.6ZM1867.6 461.5 1878.2 470.0 1878.2 486.9 1867.6 495.3 1857.0 486.9 1857.0 470.0ZM1592.0 512.3 1602.6 520.7 1602.6 537.6 1592.0 546.1 1581.4 537.6 1581.4 520.7ZM1973.6 766.1 1984.2 774.5 1984.2 791.4 1973.6 799.9 1963.0 791.4 1963.0 774.5ZM1963.0 791.4 1973.6 799.9 1973.6 816.8 1963.0 825.3 1952.4 816.8 1952.4 799.9ZM1846.4 715.3 1857.0 723.8 1857.0 740.7 1846.4 749.1 1835.8 740.7 1835.8 723.8ZM1857.0 740.7 1867.6 749.1 1867.6 766.1 1857.0 774.5 1846.4 766.1 1846.4 749.1ZM1878.2 740.7 1888.8 749.1 1888.8 766.1 1878.2 774.5 1867.6 766.1 1867.6 749.1ZM1867.6 766.1 1878.2 774.5 1878.2 791.4 1867.6 799.9 1857.0 791.4 1857.0 774.5ZM1327.0 588.4 1337.6 596.9 1337.6 613.8 1327.0 622.2 1316.4 613.8 1316.4 596.9ZM1507.2 613.8 1517.8 622.2 1517.8 639.2 1507.2 647.6 1496.6 639.2 1496.6 622.2ZM1380.0 766.1 1390.6 774.5 1390.6 791.4 1380.0 799.9 1369.4 791.4 1369.4 774.5ZM1401.2 766.1 1411.8 774.5 1411.8 791.4 1401.2 799.9 1390.6 791.4 1390.6 774.5ZM691.0 791.4 701.6 799.9 701.6 816.8 691.0 825.3 680.4 816.8 680.4 799.9ZM383.6 867.6 394.2 876.0 394.2 893.0 383.6 901.4 373.0 893.0 373.0 876.0ZM383.6 918.3 394.2 926.8 394.2 943.7 383.6 952.2 373.0 943.7 373.0 926.8ZM404.8 918.3 415.4 926.8 415.4 943.7 404.8 952.2 394.2 943.7 394.2 926.8ZM669.8 842.2 680.4 850.7 680.4 867.6 669.8 876.0 659.2 867.6 659.2 850.7ZM691.0 1096.0 701.6 1104.5 701.6 1121.4 691.0 1129.8 680.4 1121.4 680.4 1104.5ZM828.8 1121.4 839.4 1129.8 839.4 1146.8 828.8 1155.2 818.2 1146.8 818.2 1129.8ZM1327.0 1045.2 1337.6 1053.7 1337.6 1070.6 1327.0 1079.1 1316.4 1070.6 1316.4 1053.7ZM1358.8 1070.6 1369.4 1079.1 1369.4 1096.0 1358.8 1104.5 1348.2 1096.0 1348.2 1079.1ZM1835.8 842.2 1846.4 850.7 1846.4 867.6 1835.8 876.0 1825.2 867.6 1825.2 850.7ZM1857.0 842.2 1867.6 850.7 1867.6 867.6 1857.0 876.0 1846.4 867.6 1846.4 850.7ZM1782.8 867.6 1793.4 876.0 1793.4 893.0 1782.8 901.4 1772.2 893.0 1772.2 876.0ZM765.2 1222.9 775.8 1231.4 775.8 1248.3 765.2 1256.7 754.6 1248.3 754.6 1231.4ZM775.8 1248.3 786.4 1256.7 786.4 1273.7 775.8 1282.1 765.2 1273.7 765.2 1256.7ZM850.0 1172.1 860.6 1180.6 860.6 1197.5 850.0 1206.0 839.4 1197.5 839.4 1180.6ZM934.8 1222.9 945.4 1231.4 945.4 1248.3 934.8 1256.7 924.2 1248.3 924.2 1231.4ZM956.0 1222.9 966.6 1231.4 966.6 1248.3 956.0 1256.7 945.4 1248.3 945.4 1231.4ZM860.6 1248.3 871.2 1256.7 871.2 1273.7 860.6 1282.1 850.0 1273.7 850.0 1256.7ZM881.8 1248.3 892.4 1256.7 892.4 1273.7 881.8 1282.1 871.2 1273.7 871.2 1256.7ZM1093.8 1299.0 1104.4 1307.5 1104.4 1324.4 1093.8 1332.9 1083.2 1324.4 1083.2 1307.5ZM1051.4 1349.8 1062.0 1358.3 1062.0 1375.2 1051.4 1383.6 1040.8 1375.2 1040.8 1358.3ZM977.2 1375.2 987.8 1383.6 987.8 1400.6 977.2 1409.0 966.6 1400.6 966.6 1383.6ZM1337.6 1222.9 1348.2 1231.4 1348.2 1248.3 1337.6 1256.7 1327.0 1248.3 1327.0 1231.4ZM1358.8 1222.9 1369.4 1231.4 1369.4 1248.3 1358.8 1256.7 1348.2 1248.3 1348.2 1231.4ZM1327.0 1248.3 1337.6 1256.7 1337.6 1273.7 1327.0 1282.1 1316.4 1273.7 1316.4 1256.7ZM1252.8 1273.7 1263.4 1282.1 1263.4 1299.0 1252.8 1307.5 1242.2 1299.0 1242.2 1282.1ZM1295.2 1273.7 1305.8 1282.1 1305.8 1299.0 1295.2 1307.5 1284.6 1299.0 1284.6 1282.1ZM1199.8 1299.0 1210.4 1307.5 1210.4 1324.4 1199.8 1332.9 1189.2 1324.4 1189.2 1307.5ZM1284.6 1349.8 1295.2 1358.3 1295.2 1375.2 1284.6 1383.6 1274.0 1375.2 1274.0 1358.3Z"/><path fill="#2a788e" stroke="#2a788e" stroke-width="0.6" d="M1888.8 461.5 1899.4 470.0 1899.4 486.9 1888.8 495.3 1878.2 486.9 1878.2 470.0ZM1867.6 664.5 1878.2 673.0 1878.2 689.9 1867.6 698.4 1857.0 689.9 1857.0 673.0ZM1305.8 588.4 1316.4 596.9 1316.4 613.8 1305.8 622.2 1295.2 613.8 1295.2 596.9ZM1348.2 588.4 1358.8 596.9 1358.8 613.8 1348.2 622.2 1337.6 613.8 1337.6 596.9ZM1486.0 613.8 1496.6 622.2 1496.6 639.2 1486.0 647.6 1475.4 639.2 1475.4 622.2ZM1274.0 664.5 1284.6 673.0 1284.6 689.9 1274.0 698.4 1263.4 689.9 1263.4 673.0ZM1380.0 715.3 1390.6 723.8 1390.6 740.7 1380.0 749.1 1369.4 740.7 1369.4 723.8ZM977.2 613.8 987.8 622.2 987.8 639.2 977.2 647.6 966.6 639.2 966.6 622.2ZM680.4 766.1 691.0 774.5 691.0 791.4 680.4 799.9 669.8 791.4 669.8 774.5ZM733.4 791.4 744.0 799.9 744.0 816.8 733.4 825.3 722.8 816.8 722.8 799.9ZM701.6 816.8 712.2 825.3 712.2 842.2 701.6 850.7 691.0 842.2 691.0 825.3ZM341.2 816.8 351.8 825.3 351.8 842.2 341.2 850.7 330.6 842.2 330.6 825.3ZM362.4 816.8 373.0 825.3 373.0 842.2 362.4 850.7 351.8 842.2 351.8 825.3ZM648.6 842.2 659.2 850.7 659.2 867.6 648.6 876.0 638.0 867.6 638.0 850.7ZM680.4 1070.6 691.0 1079.1 691.0 1096.0 680.4 1104.5 669.8 1096.0 669.8 1079.1ZM701.6 1070.6 712.2 1079.1 712.2 1096.0 701.6 1104.5 691.0 1096.0 691.0 1079.1ZM1846.4 867.6 1857.0 876.0 1857.0 893.0 1846.4 901.4 1835.8 893.0 1835.8 876.0ZM797.0 1197.5 807.6 1206.0 807.6 1222.9 797.0 1231.4 786.4 1222.9 786.4 1206.0ZM722.8 1222.9 733.4 1231.4 733.4 1248.3 722.8 1256.7 712.2 1248.3 712.2 1231.4ZM701.6 1273.7 712.2 1282.1 712.2 1299.0 701.6 1307.5 691.0 1299.0 691.0 1282.1ZM722.8 1273.7 733.4 1282.1 733.4 1299.0 722.8 1307.5 712.2 1299.0 712.2 1282.1ZM744.0 1273.7 754.6 1282.1 754.6 1299.0 744.0 1307.5 733.4 1299.0 733.4 1282.1ZM765.2 1273.7 775.8 1282.1 775.8 1299.0 765.2 1307.5 754.6 1299.0 754.6 1282.1ZM839.4 1146.8 850.0 1155.2 850.0 1172.1 839.4 1180.6 828.8 1172.1 828.8 1155.2ZM977.2 1172.1 987.8 1180.6 987.8 1197.5 977.2 1206.0 966.6 1197.5 966.6 1180.6ZM839.4 1197.5 850.0 1206.0 850.0 1222.9 839.4 1231.4 828.8 1222.9 828.8 1206.0ZM871.2 1222.9 881.8 1231.4 881.8 1248.3 871.2 1256.7 860.6 1248.3 860.6 1231.4ZM892.4 1222.9 903.0 1231.4 903.0 1248.3 892.4 1256.7 881.8 1248.3 881.8 1231.4ZM839.4 1248.3 850.0 1256.7 850.0 1273.7 839.4 1282.1 828.8 1273.7 828.8 1256.7ZM987.8 1248.3 998.4 1256.7 998.4 1273.7 987.8 1282.1 977.2 1273.7 977.2 1256.7ZM1040.8 1273.7 1051.4 1282.1 1051.4 1299.0 1040.8 1307.5 1030.2 1299.0 1030.2 1282.1ZM1062.0 1273.7 1072.6 1282.1 1072.6 1299.0 1062.0 1307.5 1051.4 1299.0 1051.4 1282.1ZM1051.4 1299.0 1062.0 1307.5 1062.0 1324.4 1051.4 1332.9 1040.8 1324.4 1040.8 1307.5ZM1115.0 1299.0 1125.6 1307.5 1125.6 1324.4 1115.0 1332.9 1104.4 1324.4 1104.4 1307.5ZM1062.0 1324.4 1072.6 1332.9 1072.6 1349.8 1062.0 1358.3 1051.4 1349.8 1051.4 1332.9ZM956.0 1375.2 966.6 1383.6 966.6 1400.6 956.0 1409.0 945.4 1400.6 945.4 1383.6ZM1083.2 1375.2 1093.8 1383.6 1093.8 1400.6 1083.2 1409.0 1072.6 1400.6 1072.6 1383.6ZM1210.4 1273.7 1221.0 1282.1 1221.0 1299.0 1210.4 1307.5 1199.8 1299.0 1199.8 1282.1ZM1358.8 1273.7 1369.4 1282.1 1369.4 1299.0 1358.8 1307.5 1348.2 1299.0 1348.2 1282.1ZM1221.0 1299.0 1231.6 1307.5 1231.6 1324.4 1221.0 1332.9 1210.4 1324.4 1210.4 1307.5ZM1348.2 1299.0 1358.8 1307.5 1358.8 1324.4 1348.2 1332.9 1337.6 1324.4 1337.6 1307.5ZM966.6 1451.3 977.2 1459.8 977.2 1476.7 966.6 1485.2 956.0 1476.7 956.0 1459.8Z"/><path fill="#25848e" stroke="#25848e" stroke-width="0.6" d="M1941.8 791.4 1952.4 799.9 1952.4 816.8 1941.8 825.3 1931.2 816.8 1931.2 799.9ZM1411.8 588.4 1422.4 596.9 1422.4 613.8 1411.8 622.2 1401.2 613.8 1401.2 596.9ZM1475.4 588.4 1486.0 596.9 1486.0 613.8 1475.4 622.2 1464.8 613.8 1464.8 596.9ZM1496.6 588.4 1507.2 596.9 1507.2 613.8 1496.6 622.2 1486.0 613.8 1486.0 596.9ZM1517.8 588.4 1528.4 596.9 1528.4 613.8 1517.8 622.2 1507.2 613.8 1507.2 596.9ZM1358.8 613.8 1369.4 622.2 1369.4 639.2 1358.8 647.6 1348.2 639.2 1348.2 622.2ZM1284.6 639.2 1295.2 647.6 1295.2 664.5 1284.6 673.0 1274.0 664.5 1274.0 647.6ZM1475.4 639.2 1486.0 647.6 1486.0 664.5 1475.4 673.0 1464.8 664.5 1464.8 647.6ZM1358.8 715.3 1369.4 723.8 1369.4 740.7 1358.8 749.1 1348.2 740.7 1348.2 723.8ZM1401.2 715.3 1411.8 723.8 1411.8 740.7 1401.2 749.1 1390.6 740.7 1390.6 723.8ZM1422.4 715.3 1433.0 723.8 1433.0 740.7 1422.4 749.1 1411.8 740.7 1411.8 723.8ZM1348.2 740.7 1358.8 749.1 1358.8 766.1 1348.2 774.5 1337.6 766.1 1337.6 749.1ZM1390.6 740.7 1401.2 749.1 1401.2 766.1 1390.6 774.5 1380.0 766.1 1380.0 749.1ZM1411.8 740.7 1422.4 749.1 1422.4 766.1 1411.8 774.5 1401.2 766.1 1401.2 749.1ZM1433.0 740.7 1443.6 749.1 1443.6 766.1 1433.0 774.5 1422.4 766.1 1422.4 749.1ZM616.8 715.3 627.4 723.8 627.4 740.7 616.8 749.1 606.2 740.7 606.2 723.8ZM638.0 715.3 648.6 723.8 648.6 740.7 638.0 749.1 627.4 740.7 627.4 723.8ZM616.8 766.1 627.4 774.5 627.4 791.4 616.8 799.9 606.2 791.4 606.2 774.5ZM627.4 791.4 638.0 799.9 638.0 816.8 627.4 825.3 616.8 816.8 616.8 799.9ZM754.6 791.4 765.2 799.9 765.2 816.8 754.6 825.3 744.0 816.8 744.0 799.9ZM680.4 816.8 691.0 825.3 691.0 842.2 680.4 850.7 669.8 842.2 669.8 825.3ZM744.0 816.8 754.6 825.3 754.6 842.2 744.0 850.7 733.4 842.2 733.4 825.3ZM320.0 816.8 330.6 825.3 330.6 842.2 320.0 850.7 309.4 842.2 309.4 825.3ZM320.0 867.6 330.6 876.0 330.6 893.0 320.0 901.4 309.4 893.0 309.4 876.0ZM733.4 1045.2 744.0 1053.7 744.0 1070.6 733.4 1079.1 722.8 1070.6 722.8 1053.7ZM807.6 1121.4 818.2 1129.8 818.2 1146.8 807.6 1155.2 797.0 1146.8 797.0 1129.8ZM1348.2 1045.2 1358.8 1053.7 1358.8 1070.6 1348.2 1079.1 1337.6 1070.6 1337.6 1053.7ZM712.2 1146.8 722.8 1155.2 722.8 1172.1 712.2 1180.6 701.6 1172.1 701.6 1155.2ZM797.0 1146.8 807.6 1155.2 807.6 1172.1 797.0 1180.6 786.4 1172.1 786.4 1155.2ZM818.2 1146.8 828.8 1155.2 828.8 1172.1 818.2 1180.6 807.6 1172.1 807.6 1155.2ZM807.6 1172.1 818.2 1180.6 818.2 1197.5 807.6 1206.0 797.0 1197.5 797.0 1180.6ZM775.8 1197.5 786.4 1206.0 786.4 1222.9 775.8 1231.4 765.2 1222.9 765.2 1206.0ZM818.2 1197.5 828.8 1206.0 828.8 1222.9 818.2 1231.4 807.6 1222.9 807.6 1206.0ZM733.4 1299.0 744.0 1307.5 744.0 1324.4 733.4 1332.9 722.8 1324.4 722.8 1307.5ZM1104.4 1375.2 1115.0 1383.6 1115.0 1400.6 1104.4 1409.0 1093.8 1400.6 1093.8 1383.6ZM924.2 1400.6 934.8 1409.0 934.8 1425.9 924.2 1434.4 913.6 1425.9 913.6 1409.0ZM1231.6 1273.7 1242.2 1282.1 1242.2 1299.0 1231.6 1307.5 1221.0 1299.0 1221.0 1282.1ZM1316.4 1273.7 1327.0 1282.1 1327.0 1299.0 1316.4 1307.5 1305.8 1299.0 1305.8 1282.1ZM1380.0 1273.7 1390.6 1282.1 1390.6 1299.0 1380.0 1307.5 1369.4 1299.0 1369.4 1282.1ZM1210.4 1324.4 1221.0 1332.9 1221.0 1349.8 1210.4 1358.3 1199.8 1349.8 1199.8 1332.9ZM1295.2 1324.4 1305.8 1332.9 1305.8 1349.8 1295.2 1358.3 1284.6 1349.8 1284.6 1332.9ZM1199.8 1349.8 1210.4 1358.3 1210.4 1375.2 1199.8 1383.6 1189.2 1375.2 1189.2 1358.3ZM1221.0 1349.8 1231.6 1358.3 1231.6 1375.2 1221.0 1383.6 1210.4 1375.2 1210.4 1358.3Z"/><path fill="#21918c" stroke="#21918c" stroke-width="0.6" d="M1327.0 639.2 1337.6 647.6 1337.6 664.5 1327.0 673.0 1316.4 664.5 1316.4 647.6ZM298.8 816.8 309.4 825.3 309.4 842.2 298.8 850.7 288.2 842.2 288.2 825.3ZM351.8 842.2 362.4 850.7 362.4 867.6 351.8 876.0 341.2 867.6 341.2 850.7ZM373.0 842.2 383.6 850.7 383.6 867.6 373.0 876.0 362.4 867.6 362.4 850.7ZM309.4 893.0 320.0 901.4 320.0 918.3 309.4 926.8 298.8 918.3 298.8 901.4ZM934.8 1425.9 945.4 1434.4 945.4 1451.3 934.8 1459.8 924.2 1451.3 924.2 1434.4ZM956.0 1425.9 966.6 1434.4 966.6 1451.3 956.0 1459.8 945.4 1451.3 945.4 1434.4Z"/><path fill="#1e9c89" stroke="#1e9c89" stroke-width="0.6" d="M1390.6 588.4 1401.2 596.9 1401.2 613.8 1390.6 622.2 1380.0 613.8 1380.0 596.9ZM1274.0 613.8 1284.6 622.2 1284.6 639.2 1274.0 647.6 1263.4 639.2 1263.4 622.2ZM1295.2 664.5 1305.8 673.0 1305.8 689.9 1295.2 698.4 1284.6 689.9 1284.6 673.0ZM1369.4 740.7 1380.0 749.1 1380.0 766.1 1369.4 774.5 1358.8 766.1 1358.8 749.1ZM616.8 816.8 627.4 825.3 627.4 842.2 616.8 850.7 606.2 842.2 606.2 825.3ZM659.2 816.8 669.8 825.3 669.8 842.2 659.2 850.7 648.6 842.2 648.6 825.3ZM288.2 842.2 298.8 850.7 298.8 867.6 288.2 876.0 277.6 867.6 277.6 850.7ZM288.2 893.0 298.8 901.4 298.8 918.3 288.2 926.8 277.6 918.3 277.6 901.4ZM320.0 918.3 330.6 926.8 330.6 943.7 320.0 952.2 309.4 943.7 309.4 926.8ZM712.2 1248.3 722.8 1256.7 722.8 1273.7 712.2 1282.1 701.6 1273.7 701.6 1256.7ZM733.4 1248.3 744.0 1256.7 744.0 1273.7 733.4 1282.1 722.8 1273.7 722.8 1256.7ZM1030.2 1299.0 1040.8 1307.5 1040.8 1324.4 1030.2 1332.9 1019.6 1324.4 1019.6 1307.5ZM1115.0 1349.8 1125.6 1358.3 1125.6 1375.2 1115.0 1383.6 1104.4 1375.2 1104.4 1358.3ZM1062.0 1375.2 1072.6 1383.6 1072.6 1400.6 1062.0 1409.0 1051.4 1400.6 1051.4 1383.6ZM977.2 1425.9 987.8 1434.4 987.8 1451.3 977.2 1459.8 966.6 1451.3 966.6 1434.4ZM1305.8 1299.0 1316.4 1307.5 1316.4 1324.4 1305.8 1332.9 1295.2 1324.4 1295.2 1307.5Z"/><path fill="#22a884" stroke="#22a884" stroke-width="0.6" d="M1857.0 486.9 1867.6 495.3 1867.6 512.3 1857.0 520.7 1846.4 512.3 1846.4 495.3ZM1464.8 613.8 1475.4 622.2 1475.4 639.2 1464.8 647.6 1454.2 639.2 1454.2 622.2ZM627.4 740.7 638.0 749.1 638.0 766.1 627.4 774.5 616.8 766.1 616.8 749.1ZM638.0 816.8 648.6 825.3 648.6 842.2 638.0 850.7 627.4 842.2 627.4 825.3ZM351.8 791.4 362.4 799.9 362.4 816.8 351.8 825.3 341.2 816.8 341.2 799.9ZM309.4 842.2 320.0 850.7 320.0 867.6 309.4 876.0 298.8 867.6 298.8 850.7ZM298.8 867.6 309.4 876.0 309.4 893.0 298.8 901.4 288.2 893.0 288.2 876.0ZM373.0 893.0 383.6 901.4 383.6 918.3 373.0 926.8 362.4 918.3 362.4 901.4ZM828.8 1172.1 839.4 1180.6 839.4 1197.5 828.8 1206.0 818.2 1197.5 818.2 1180.6ZM1072.6 1299.0 1083.2 1307.5 1083.2 1324.4 1072.6 1332.9 1062.0 1324.4 1062.0 1307.5ZM1104.4 1324.4 1115.0 1332.9 1115.0 1349.8 1104.4 1358.3 1093.8 1349.8 1093.8 1332.9ZM945.4 1400.6 956.0 1409.0 956.0 1425.9 945.4 1434.4 934.8 1425.9 934.8 1409.0ZM966.6 1400.6 977.2 1409.0 977.2 1425.9 966.6 1434.4 956.0 1425.9 956.0 1409.0ZM1337.6 1273.7 1348.2 1282.1 1348.2 1299.0 1337.6 1307.5 1327.0 1299.0 1327.0 1282.1ZM1274.0 1324.4 1284.6 1332.9 1284.6 1349.8 1274.0 1358.3 1263.4 1349.8 1263.4 1332.9Z"/><path fill="#2fb47c" stroke="#2fb47c" stroke-width="0.6" d="M1093.8 1349.8 1104.4 1358.3 1104.4 1375.2 1093.8 1383.6 1083.2 1375.2 1083.2 1358.3ZM1252.8 1324.4 1263.4 1332.9 1263.4 1349.8 1252.8 1358.3 1242.2 1349.8 1242.2 1332.9Z"/><path fill="#44bf70" stroke="#44bf70" stroke-width="0.6" d="M1295.2 613.8 1305.8 622.2 1305.8 639.2 1295.2 647.6 1284.6 639.2 1284.6 622.2ZM1305.8 639.2 1316.4 647.6 1316.4 664.5 1305.8 673.0 1295.2 664.5 1295.2 647.6ZM638.0 766.1 648.6 774.5 648.6 791.4 638.0 799.9 627.4 791.4 627.4 774.5ZM648.6 791.4 659.2 799.9 659.2 816.8 648.6 825.3 638.0 816.8 638.0 799.9ZM330.6 842.2 341.2 850.7 341.2 867.6 330.6 876.0 320.0 867.6 320.0 850.7ZM754.6 1248.3 765.2 1256.7 765.2 1273.7 754.6 1282.1 744.0 1273.7 744.0 1256.7ZM1083.2 1324.4 1093.8 1332.9 1093.8 1349.8 1083.2 1358.3 1072.6 1349.8 1072.6 1332.9ZM1242.2 1299.0 1252.8 1307.5 1252.8 1324.4 1242.2 1332.9 1231.6 1324.4 1231.6 1307.5ZM1263.4 1299.0 1274.0 1307.5 1274.0 1324.4 1263.4 1332.9 1252.8 1324.4 1252.8 1307.5ZM1231.6 1324.4 1242.2 1332.9 1242.2 1349.8 1231.6 1358.3 1221.0 1349.8 1221.0 1332.9ZM1242.2 1349.8 1252.8 1358.3 1252.8 1375.2 1242.2 1383.6 1231.6 1375.2 1231.6 1358.3ZM1263.4 1349.8 1274.0 1358.3 1274.0 1375.2 1263.4 1383.6 1252.8 1375.2 1252.8 1358.3Z"/><path fill="#5ec962" stroke="#5ec962" stroke-width="0.6" d="M330.6 791.4 341.2 799.9 341.2 816.8 330.6 825.3 320.0 816.8 320.0 799.9ZM1072.6 1349.8 1083.2 1358.3 1083.2 1375.2 1072.6 1383.6 1062.0 1375.2 1062.0 1358.3Z"/><path fill="#9bd93c" stroke="#9bd93c" stroke-width="0.6" d="M362.4 867.6 373.0 876.0 373.0 893.0 362.4 901.4 351.8 893.0 351.8 876.0ZM330.6 893.0 341.2 901.4 341.2 918.3 330.6 926.8 320.0 918.3 320.0 901.4ZM351.8 893.0 362.4 901.4 362.4 918.3 351.8 926.8 341.2 918.3 341.2 901.4ZM341.2 918.3 351.8 926.8 351.8 943.7 341.2 952.2 330.6 943.7 330.6 926.8Z"/><path fill="#fde725" stroke="#fde725" stroke-width="0.6" d="M341.2 867.6 351.8 876.0 351.8 893.0 341.2 901.4 330.6 893.0 330.6 876.0Z"/><polygon fill="none" stroke="#000" stroke-width="3.8" stroke-linejoin="round" points="140.7,827.0 151.7,819.5 165.8,818.9 206.5,807.6 288.0,782.5 382.0,754.3 476.1,724.5 570.1,697.9 664.1,672.8 726.8,652.4 800.1,625.8 924.2,588.4 1124.7,530.4 1344.1,462.1 1480.1,414.5 1525.2,402.1 1804.1,311.2 2037.6,237.0 2048.6,268.9 2058.0,306.6 2069.0,334.8 2076.8,359.8 2089.3,394.3 2097.1,419.4 2103.4,438.2 2109.0,458.0 2114.0,470.0 2124.0,477.0 2133.0,487.0 2145.0,491.0 2164.0,503.0 2183.0,510.0 2186.0,525.0 2180.0,541.0 2195.0,538.0 2214.0,550.0 2227.0,560.0 2239.0,566.0 2242.0,575.0 2258.0,577.0 2245.6,588.0 2236.2,606.7 2220.5,634.9 2201.7,663.1 2179.7,691.3 2157.8,719.5 2132.7,741.4 2120.2,760.2 2107.7,775.9 2092.0,775.9 2070.0,780.6 2045.0,788.5 2019.9,801.0 2001.1,813.5 1976.1,835.5 1961.2,850.0 1936.2,875.1 1911.1,903.3 1886.0,925.2 1864.1,950.3 1848.4,975.4 1839.0,984.8 1826.5,1000.4 1817.1,1025.5 1813.9,1038.0 1800.0,1060.0 1776.3,1075.6 1748.1,1091.3 1738.7,1100.7 1719.9,1116.4 1694.9,1132.0 1685.5,1144.6 1669.8,1172.8 1648.4,1190.9 1629.0,1222.9 1613.4,1244.9 1600.8,1263.7 1588.3,1266.8 1566.4,1276.2 1541.3,1285.6 1525.6,1298.1 1506.8,1301.3 1494.3,1310.7 1488.6,1319.3 1476.0,1330.0 1460.0,1326.0 1445.0,1328.0 1452.0,1345.0 1441.6,1350.6 1436.0,1365.0 1432.2,1382.0 1430.6,1410.2 1400.9,1400.8 1391.5,1407.0 1379.0,1428.9 1363.3,1441.5 1350.8,1447.7 1332.0,1466.5 1319.4,1479.1 1306.9,1482.2 1313.2,1501.0 1294.4,1501.0 1288.1,1510.4 1275.6,1532.3 1253.6,1551.1 1225.4,1569.9 1203.0,1584.4 1192.0,1588.4 1181.9,1596.4 1165.9,1598.4 1149.8,1596.4 1141.8,1584.4 1139.8,1568.3 1131.8,1554.3 1113.7,1538.2 1093.7,1520.2 1087.7,1512.2 1089.7,1506.2 1101.7,1496.1 1115.8,1482.1 1085.7,1482.1 1075.7,1482.1 1071.6,1488.1 1071.6,1502.1 1065.6,1510.2 1049.6,1512.2 1045.6,1520.2 1035.5,1520.2 1029.5,1514.2 1017.5,1512.2 1015.5,1504.1 1023.5,1500.1 1031.5,1502.1 1033.5,1498.1 1023.5,1497.1 999.5,1500.1 989.4,1499.1 975.4,1494.1 965.4,1490.1 949.3,1482.1 943.3,1474.1 937.3,1471.1 931.3,1472.1 917.2,1464.0 911.2,1461.0 895.2,1461.0 885.2,1457.0 875.1,1458.0 859.1,1462.0 849.1,1467.0 837.0,1474.1 831.0,1476.1 818.9,1491.2 805.1,1505.0 808.6,1518.8 798.2,1536.0 791.3,1553.2 781.0,1560.1 770.7,1563.6 760.3,1577.4 756.9,1594.6 746.5,1622.2 729.3,1646.3 712.1,1663.5 708.6,1677.3 698.3,1694.5 674.2,1698.0 660.4,1704.9 658.7,1715.2 663.8,1732.4 653.5,1735.9 639.7,1729.0 629.4,1720.4 612.2,1722.1 584.6,1727.3 570.8,1730.7 553.6,1732.4 536.3,1753.1 527.7,1772.0 522.6,1746.2 508.8,1739.3 515.7,1729.0 505.3,1722.1 505.3,1711.7 501.9,1694.5 484.7,1687.6 488.1,1680.7 477.8,1667.0 474.3,1653.2 460.5,1639.4 443.3,1629.0 433.0,1615.3 433.0,1604.9 443.3,1594.6 427.8,1584.3 431.2,1567.0 436.4,1549.8 439.9,1532.6 446.8,1525.7 443.3,1511.9 433.0,1508.4 419.2,1515.3 398.5,1524.0 377.8,1515.3 364.1,1508.4 357.2,1498.1 355.4,1484.3 357.2,1463.6 350.3,1443.0 343.4,1425.7 329.6,1417.1 308.9,1425.7 291.7,1418.8 274.5,1417.1 264.1,1408.5 267.6,1401.6 308.9,1343.0 344.8,1306.1 335.7,1281.3 320.0,1244.8 296.5,1190.0 275.7,1137.8 239.1,1059.6 216.0,992.5 203.4,967.4 190.9,936.1 187.7,923.5 175.2,907.9 162.7,876.5 147.0,838.9"/><polyline fill="none" stroke="#000" stroke-width="3.8" stroke-linejoin="round" stroke-linecap="round" points="382.0,755.9 388.3,759.0 375.8,773.1 360.1,779.4 360.1,791.9 366.4,810.7 382.0,823.2 405.5,827.9 408.7,843.6 444.7,853.0 451.0,865.5 466.7,870.2 469.8,876.5 476.1,865.5 494.9,859.3 501.1,870.2 516.8,879.7 504.3,895.3 501.1,914.1 507.4,926.7 519.9,933.0 526.2,939.2 545.0,939.2 545.0,929.8 548.1,958.0 538.7,964.3 535.6,989.3 526.2,1005.0 536.6,1015.2 549.6,1028.3 544.4,1046.5 554.8,1059.6 560.0,1080.4 573.1,1080.4 588.7,1093.5 617.4,1109.1 627.9,1123.5 651.3,1123.5 648.7,1148.3 659.2,1190.0 667.0,1205.7 680.0,1208.3 672.2,1231.8 654.0,1252.6 656.6,1286.5 651.3,1297.0 654.0,1315.3 669.6,1317.9 678.6,1316.4 700.5,1332.1 705.2,1341.5 694.2,1354.0 691.1,1366.5 700.5,1372.8 719.3,1372.8 735.0,1374.4 739.7,1385.3 731.8,1404.1 738.1,1416.7 744.4,1435.5 763.2,1432.3 764.7,1444.9 766.3,1451.1 785.1,1454.3 797.6,1463.7 807.0,1482.5 816.4,1500.0"/><polyline fill="none" stroke="#000" stroke-width="3.8" stroke-linejoin="round" stroke-linecap="round" points="335.7,1281.3 372.2,1261.8 447.8,1250.0 417.8,1153.5 487.0,1132.6 596.6,1098.7"/><polyline fill="none" stroke="#000" stroke-width="3.8" stroke-linejoin="round" stroke-linecap="round" points="551.3,1033.2 601.4,1017.5 670.4,1006.1 726.8,995.6 800.1,970.5 871.3,949.5 938.2,928.2 962.6,910.0 1008.2,873.5 1040.0,846.5 1063.0,815.6 1074.6,807.8 1099.5,782.2 1118.4,765.5 1130.0,760.9 1156.1,751.4 1190.8,742.6 1250.1,735.7 1344.1,729.4 1431.8,724.7 1453.8,723.1 1480.0,716.0 1528.3,700.2 1600.0,678.8 1613.0,674.8 1694.0,653.7 1725.4,645.9 1756.7,638.0 1800.6,616.1 1819.4,603.6 1844.4,584.8 1852.7,582.3 1929.5,566.7 1930.6,572.2 1944.7,625.5 1960.4,675.6 1972.9,725.8 1979.2,747.7 2001.1,815.1"/><polyline fill="none" stroke="#000" stroke-width="3.8" stroke-linejoin="round" stroke-linecap="round" points="725.4,652.4 725.4,663.4 736.2,735.5 745.6,779.4 751.8,817.0 739.3,810.7 726.8,812.3 714.2,823.2 686.0,832.6 692.3,838.9 711.1,848.3 714.2,870.2 708.0,871.8 651.5,885.9 661.0,951.7 670.4,1005.0"/><polyline fill="none" stroke="#000" stroke-width="3.8" stroke-linejoin="round" stroke-linecap="round" points="924.2,589.3 919.5,610.3 927.3,662.0 936.7,709.0 944.3,757.8 955.5,771.7 971.2,784.3 983.7,784.3 996.2,804.6 1015.0,823.4 1021.3,831.3 1041.7,826.6 1044.8,817.2 1058.9,817.2 1063.0,815.6"/><polyline fill="none" stroke="#000" stroke-width="3.8" stroke-linejoin="round" stroke-linecap="round" points="1124.7,530.4 1137.3,599.4 1143.5,655.8 1149.7,700.0 1158.9,750.2 1160.8,751.4"/><polyline fill="none" stroke="#000" stroke-width="3.8" stroke-linejoin="round" stroke-linecap="round" points="1074.6,807.8 1076.1,834.4 1078.2,843.0 1087.4,888.7 1099.5,964.8 1114.8,1068.2"/><polyline fill="none" stroke="#000" stroke-width="3.8" stroke-linejoin="round" stroke-linecap="round" points="847.7,1148.8 904.1,1131.6 1001.3,1103.4 1114.8,1068.2"/><polyline fill="none" stroke="#000" stroke-width="3.8" stroke-linejoin="round" stroke-linecap="round" points="1114.8,1068.2 1114.8,1053.0 1143.7,1045.4 1162.8,1100.0 1169.0,1137.6"/><polyline fill="none" stroke="#000" stroke-width="3.8" stroke-linejoin="round" stroke-linecap="round" points="813.5,966.5 819.5,1000.0 828.9,1078.3 844.6,1144.1 857.1,1181.7 858.7,1202.1 835.2,1208.3 838.3,1216.2 822.7,1219.3 832.1,1244.4 863.4,1288.2 894.7,1332.1 922.9,1372.8 951.1,1404.1 988.7,1426.1 1020.1,1438.6"/><polyline fill="none" stroke="#000" stroke-width="3.8" stroke-linejoin="round" stroke-linecap="round" points="669.2,1300.8 688.0,1297.6 750.6,1292.9 813.3,1288.2 860.3,1288.2"/><polyline fill="none" stroke="#000" stroke-width="3.8" stroke-linejoin="round" stroke-linecap="round" points="904.1,1131.6 919.8,1188.0 951.1,1180.1 968.4,1180.1 988.7,1269.4 1023.2,1388.5 1007.5,1391.6 1020.1,1438.6 1004.4,1476.2 995.0,1500.0"/><polyline fill="none" stroke="#000" stroke-width="3.8" stroke-linejoin="round" stroke-linecap="round" points="1007.5,1391.6 1050.0,1382.0 1087.6,1375.7 1181.6,1350.6"/><polyline fill="none" stroke="#000" stroke-width="3.8" stroke-linejoin="round" stroke-linecap="round" points="988.7,1269.4 1050.0,1253.5 1097.0,1237.8 1144.0,1212.8 1137.7,1190.9 1144.0,1175.2 1153.4,1147.0 1169.0,1137.6 1181.6,1134.5 1225.4,1159.5 1241.1,1139.2 1263.0,1147.0 1256.8,1172.1 1244.2,1212.8 1253.6,1234.7 1269.3,1266.0 1281.8,1288.0 1291.2,1335.0 1310.0,1366.3 1321.0,1383.5 1269.3,1413.3 1313.2,1482.2"/><polyline fill="none" stroke="#000" stroke-width="3.8" stroke-linejoin="round" stroke-linecap="round" points="1153.4,1284.8 1200.4,1256.6 1238.0,1262.9 1278.7,1281.7 1291.2,1335.0 1303.8,1366.3 1194.1,1410.2 1181.6,1360.0 1175.3,1325.6 1162.8,1319.3 1153.4,1284.8"/><polyline fill="none" stroke="#000" stroke-width="3.8" stroke-linejoin="round" stroke-linecap="round" points="1257.9,737.3 1262.6,774.9 1266.9,806.5 1272.0,825.0 1285.2,922.2 1297.3,943.5 1312.6,964.8 1315.6,980.0 1309.5,1004.3 1300.4,1016.5 1321.7,1019.5 1352.1,1037.8 1355.2,1050.0 1373.4,1053.0 1376.5,1086.5 1358.2,1095.6 1333.9,1113.9 1312.6,1107.8 1291.3,1120.0 1266.9,1138.2 1263.0,1147.0"/><polyline fill="none" stroke="#000" stroke-width="3.8" stroke-linejoin="round" stroke-linecap="round" points="1508.4,997.3 1431.6,1020.8 1428.5,1034.9 1436.3,1044.3 1403.4,1063.1 1381.5,1075.6 1376.5,1086.5"/><polyline fill="none" stroke="#000" stroke-width="3.8" stroke-linejoin="round" stroke-linecap="round" points="1376.5,1089.6 1388.6,1098.7 1400.8,1098.7 1392.4,1119.5 1409.7,1194.7 1431.6,1273.1 1453.6,1326.3"/><polyline fill="none" stroke="#000" stroke-width="3.8" stroke-linejoin="round" stroke-linecap="round" points="1344.1,462.1 1356.6,492.8 1384.8,586.8 1406.8,646.4 1425.2,700.0 1431.8,723.1 1450.6,781.1 1469.4,850.1 1480.1,880.2 1500.6,969.1 1519.4,1025.5 1544.4,1100.7 1569.5,1179.0 1594.6,1257.4 1596.1,1263.7"/><polyline fill="none" stroke="#000" stroke-width="3.8" stroke-linejoin="round" stroke-linecap="round" points="1525.2,403.7 1540.9,450.7 1559.7,500.8 1575.4,544.7 1594.2,613.7 1614.1,672.5"/><polyline fill="none" stroke="#000" stroke-width="3.8" stroke-linejoin="round" stroke-linecap="round" points="1804.1,311.2 1810.4,325.3 1824.5,331.6 1826.1,344.2 1819.8,353.6 1826.1,363.0 1841.7,366.1 1844.9,378.6 1788.5,402.1 1788.5,410.0 1794.7,419.4 1807.3,460.1 1816.6,488.3 1835.5,500.8 1848.0,522.8 1843.3,544.7 1852.7,582.3"/><polyline fill="none" stroke="#000" stroke-width="3.8" stroke-linejoin="round" stroke-linecap="round" points="1694.2,653.7 1706.5,700.7 1719.1,738.3 1731.6,794.7 1773.9,785.3 1800.6,876.2"/><polyline fill="none" stroke="#000" stroke-width="3.8" stroke-linejoin="round" stroke-linecap="round" points="1500.6,969.1 1566.4,947.1 1613.4,934.6 1691.7,911.1 1772.4,885.6 1800.6,876.2 1841.3,865.2 1865.7,950.3"/><polyline fill="none" stroke="#000" stroke-width="3.8" stroke-linejoin="round" stroke-linecap="round" points="678.6,1313.3 653.5,1329.3 632.8,1343.0 622.5,1380.9 612.2,1394.7 591.5,1380.9 574.3,1386.1 570.8,1377.5 553.6,1370.6 543.2,1356.8 539.8,1363.7 560.5,1432.6 464.0,1463.6 474.3,1506.7 446.8,1515.3"/><polyline fill="none" stroke="#000" stroke-width="3.8" stroke-linejoin="round" stroke-linecap="round" points="1425.9,1413.3 1422.8,1444.6 1424.6,1458.0 1419.6,1474.1 1426.6,1482.1 1423.6,1500.1 1422.6,1520.2 1426.6,1523.2 1420.6,1540.2 1424.6,1542.2 1416.6,1548.3 1416.6,1568.3 1412.6,1570.3 1402.6,1568.3 1406.6,1560.3 1398.6,1546.3 1406.6,1542.2"/><polyline fill="none" stroke="#000" stroke-width="3.8" stroke-linejoin="round" stroke-linecap="round" points="1406.6,1478.1 1398.6,1482.1 1392.5,1488.1 1374.5,1492.1 1364.5,1500.1 1350.4,1501.1 1360.5,1504.1 1366.5,1520.2 1372.5,1526.2 1386.5,1522.2 1396.5,1494.1 1354.4,1532.2 1362.5,1528.2 1360.5,1538.2 1350.4,1546.3 1340.4,1552.3 1334.4,1556.3 1330.4,1564.3 1334.4,1596.4 1338.4,1596.4 1346.4,1584.4 1358.5,1566.3 1372.5,1556.3 1386.5,1552.3 1398.6,1558.3 1404.6,1562.3"/></g>
<text x="2433.5" y="828.6" font-size="47" fill="#000"># of open seats</text>
<rect x="2434" y="856" width="72" height="358.5" fill="url(#vg)"/>
<g fill="#fff"><rect x="2434" y="952" width="14.4" height="1.2"/><rect x="2491.6" y="952" width="14.4" height="1.2"/>
<rect x="2434" y="1082.9" width="14.4" height="1.2"/><rect x="2491.6" y="1082.9" width="14.4" height="1.2"/>
<rect x="2434" y="1213.6" width="14.4" height="1.2"/><rect x="2491.6" y="1213.6" width="14.4" height="1.2"/></g>
<g font-size="37.9" fill="#000"><text x="2528.4" y="966.6">1000</text><text x="2528.4" y="1097.4">500</text><text x="2528.4" y="1228.2">0</text></g>
</svg>
</body></html>
